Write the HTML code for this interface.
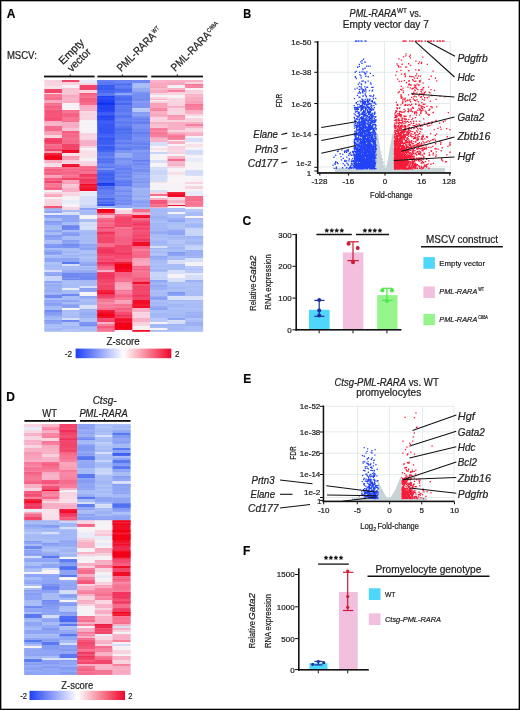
<!DOCTYPE html>
<html><head><meta charset="utf-8"><style>
html,body{margin:0;padding:0;background:#fff;}
#wrap{position:relative;width:520px;height:710px;overflow:hidden;background:#fff;}
#frame{position:absolute;left:0;top:0;width:518px;height:708px;border:1px solid #000;box-shadow:inset 0 0 0 0.6px rgba(0,0,0,0.6);}
svg{position:absolute;left:0;top:0;will-change:transform;filter:blur(0.3px);}
text{font-family:"Liberation Sans", sans-serif;stroke:#222;stroke-width:0.22px;}
</style></head><body><div id="wrap">
<svg width="520" height="710" viewBox="0 0 520 710">
<defs><filter id="bl" x="-2%" y="-2%" width="104%" height="104%"><feGaussianBlur stdDeviation="0.4"/></filter><linearGradient id="cb" x1="0" x2="1" y1="0" y2="0">
<stop offset="0" stop-color="#1f3ff4"/><stop offset="0.5" stop-color="#ffffff"/><stop offset="1" stop-color="#f0052c"/>
</linearGradient></defs>
<text x="6.8" y="17.6" font-size="12" font-weight="bold" fill="#000">A</text>
<text x="6.9" y="59.3" font-size="10" textLength="29.9" lengthAdjust="spacingAndGlyphs" fill="#222">MSCV:</text>
<text x="0" y="0" font-size="11" textLength="31" lengthAdjust="spacingAndGlyphs" fill="#222" transform="translate(63,65.2) rotate(-45)">Empty</text>
<text x="0" y="0" font-size="11" textLength="28.2" lengthAdjust="spacingAndGlyphs" fill="#222" transform="translate(71.7,72.4) rotate(-45)">vector</text>
<g transform="translate(121.3,72.2) rotate(-45)"><text x="0" y="0" font-size="11" textLength="50" lengthAdjust="spacingAndGlyphs" fill="#222">PML-RARA</text><text x="50.5" y="-3.8" font-size="6" textLength="7.5" lengthAdjust="spacingAndGlyphs" fill="#222">WT</text></g>
<g transform="translate(175.3,72) rotate(-45)"><text x="0" y="0" font-size="11" textLength="51" lengthAdjust="spacingAndGlyphs" fill="#222">PML-RARA</text><text x="51.5" y="-3.8" font-size="6" textLength="13" lengthAdjust="spacingAndGlyphs" fill="#222">C88A</text></g>
<rect x="44" y="75.6" width="50.599999999999994" height="1.8" fill="#111"/>
<rect x="69.7" y="74.4" width="1" height="1.5" fill="#111"/>
<rect x="97.4" y="75.6" width="49.900000000000006" height="1.8" fill="#111"/>
<rect x="121.8" y="74.4" width="1" height="1.5" fill="#111"/>
<rect x="151.2" y="75.6" width="51.80000000000001" height="1.8" fill="#111"/>
<rect x="176.8" y="74.4" width="1" height="1.5" fill="#111"/>
<g filter="url(#bl)">
<rect x="44.40" y="80" width="17.90" height="6.30" fill="#f8d4e0"/>
<rect x="44.40" y="80.0" width="17.90" height="2.2" fill="#f7d0dd"/>
<rect x="44.40" y="86" width="17.90" height="3.30" fill="#f8e0e8"/>
<rect x="44.40" y="86.0" width="17.90" height="1.5" fill="#f9e2ea"/>
<rect x="44.40" y="89" width="17.90" height="4.30" fill="#f2446a"/>
<rect x="44.40" y="93" width="17.90" height="1.30" fill="#f8d4e0"/>
<rect x="44.40" y="94" width="17.90" height="6.30" fill="#f66c8c"/>
<rect x="44.40" y="94.0" width="17.90" height="1.5" fill="#f77a97"/>
<rect x="44.40" y="95.5" width="17.90" height="1.8" fill="#f77996"/>
<rect x="44.40" y="100" width="17.90" height="3.30" fill="#f8b0c6"/>
<rect x="44.40" y="100.0" width="17.90" height="2.2" fill="#f7a7c0"/>
<rect x="44.40" y="103" width="17.90" height="7.30" fill="#f66c8c"/>
<rect x="44.40" y="104.5" width="17.90" height="1.2" fill="#f77c98"/>
<rect x="44.40" y="105.7" width="17.90" height="1.5" fill="#f55f82"/>
<rect x="44.40" y="107.2" width="17.90" height="1.2" fill="#f56284"/>
<rect x="44.40" y="110" width="17.90" height="11.30" fill="#f55479"/>
<rect x="44.40" y="118.1" width="17.90" height="1.2" fill="#f54b72"/>
<rect x="44.40" y="121" width="17.90" height="5.30" fill="#f8b0c6"/>
<rect x="44.40" y="121.0" width="17.90" height="1.8" fill="#f8abc2"/>
<rect x="44.40" y="122.8" width="17.90" height="1.8" fill="#f9b9cc"/>
<rect x="44.40" y="126" width="17.90" height="5.30" fill="#f66c8c"/>
<rect x="44.40" y="131" width="17.90" height="4.30" fill="#f8a0b8"/>
<rect x="44.40" y="131.0" width="17.90" height="1.2" fill="#f798b2"/>
<rect x="44.40" y="132.2" width="17.90" height="1.2" fill="#f8a7bd"/>
<rect x="44.40" y="135" width="17.90" height="3.30" fill="#f8d4e0"/>
<rect x="44.40" y="138" width="17.90" height="6.30" fill="#f2446a"/>
<rect x="44.40" y="140.2" width="17.90" height="1.5" fill="#f13860"/>
<rect x="44.40" y="144" width="17.90" height="5.30" fill="#f66c8c"/>
<rect x="44.40" y="144.0" width="17.90" height="1.8" fill="#f67291"/>
<rect x="44.40" y="145.8" width="17.90" height="2.2" fill="#f56385"/>
<rect x="44.40" y="149" width="17.90" height="2.30" fill="#f2446a"/>
<rect x="44.40" y="151" width="17.90" height="2.30" fill="#f8a0b8"/>
<rect x="44.40" y="153" width="17.90" height="7.30" fill="#f20c28"/>
<rect x="44.40" y="153.0" width="17.90" height="1.2" fill="#f3213b"/>
<rect x="44.40" y="154.2" width="17.90" height="1.2" fill="#f42941"/>
<rect x="44.40" y="155.4" width="17.90" height="2.2" fill="#f10019"/>
<rect x="44.40" y="157.6" width="17.90" height="1.5" fill="#f1011f"/>
<rect x="44.40" y="160" width="17.90" height="3.30" fill="#f8b0c6"/>
<rect x="44.40" y="163" width="17.90" height="4.30" fill="#f8e0e8"/>
<rect x="44.40" y="163.0" width="17.90" height="1.5" fill="#f7dce5"/>
<rect x="44.40" y="167" width="17.90" height="8.30" fill="#f66c8c"/>
<rect x="44.40" y="167.0" width="17.90" height="2.2" fill="#f77a97"/>
<rect x="44.40" y="169.2" width="17.90" height="2.2" fill="#f55b7e"/>
<rect x="44.40" y="171.4" width="17.90" height="1.2" fill="#f67492"/>
<rect x="44.40" y="172.6" width="17.90" height="1.8" fill="#f55a7e"/>
<rect x="44.40" y="175" width="17.90" height="3.30" fill="#f8a0b8"/>
<rect x="44.40" y="175.0" width="17.90" height="1.2" fill="#f8a7bd"/>
<rect x="44.40" y="178" width="17.90" height="3.30" fill="#f66c8c"/>
<rect x="44.40" y="178.0" width="17.90" height="2.2" fill="#f55b7e"/>
<rect x="44.40" y="181" width="17.90" height="2.30" fill="#f2446a"/>
<rect x="44.40" y="183" width="17.90" height="7.30" fill="#f66c8c"/>
<rect x="44.40" y="183.0" width="17.90" height="1.2" fill="#f77c99"/>
<rect x="44.40" y="184.2" width="17.90" height="1.5" fill="#f77694"/>
<rect x="44.40" y="185.7" width="17.90" height="1.8" fill="#f77d9a"/>
<rect x="44.40" y="187.5" width="17.90" height="1.8" fill="#f56083"/>
<rect x="44.40" y="190" width="17.90" height="2.30" fill="#f6f2f6"/>
<rect x="44.40" y="192" width="17.90" height="2.30" fill="#f8d4e0"/>
<rect x="44.40" y="194" width="17.90" height="3.30" fill="#f8a0b8"/>
<rect x="44.40" y="194.0" width="17.90" height="2.2" fill="#f9aabf"/>
<rect x="44.40" y="197" width="17.90" height="2.30" fill="#f6f2f6"/>
<rect x="44.40" y="199" width="17.90" height="5.30" fill="#f8d4e0"/>
<rect x="44.40" y="199.0" width="17.90" height="1.2" fill="#f8d7e2"/>
<rect x="44.40" y="200.2" width="17.90" height="1.5" fill="#f9d9e4"/>
<rect x="44.40" y="204" width="17.90" height="2.30" fill="#f8d4e0"/>
<rect x="44.40" y="206" width="17.90" height="2.80" fill="#f2446a"/>
<rect x="44.40" y="206.0" width="17.90" height="2.2" fill="#f35577"/>
<rect x="44.40" y="208.5" width="17.90" height="2.80" fill="#a8bcf6"/>
<rect x="44.40" y="208.5" width="17.90" height="2.2" fill="#a1b7f5"/>
<rect x="44.40" y="211" width="17.90" height="2.30" fill="#8ea4f4"/>
<rect x="44.40" y="213" width="17.90" height="2.30" fill="#e8ecf8"/>
<rect x="44.40" y="215" width="17.90" height="3.30" fill="#8ea4f4"/>
<rect x="44.40" y="215.0" width="17.90" height="1.5" fill="#849cf3"/>
<rect x="44.40" y="218" width="17.90" height="3.30" fill="#a8bcf6"/>
<rect x="44.40" y="221" width="17.90" height="4.30" fill="#8ea4f4"/>
<rect x="44.40" y="221.0" width="17.90" height="1.8" fill="#839bf3"/>
<rect x="44.40" y="225" width="17.90" height="5.30" fill="#a8bcf6"/>
<rect x="44.40" y="225.0" width="17.90" height="1.5" fill="#a3b8f6"/>
<rect x="44.40" y="226.5" width="17.90" height="1.5" fill="#a3b8f5"/>
<rect x="44.40" y="230" width="17.90" height="2.30" fill="#8ea4f4"/>
<rect x="44.40" y="232" width="17.90" height="3.30" fill="#a8bcf6"/>
<rect x="44.40" y="232.0" width="17.90" height="1.5" fill="#a4b9f6"/>
<rect x="44.40" y="235" width="17.90" height="5.30" fill="#8ea4f4"/>
<rect x="44.40" y="235.0" width="17.90" height="2.2" fill="#849cf3"/>
<rect x="44.40" y="240" width="17.90" height="4.30" fill="#a8bcf6"/>
<rect x="44.40" y="240.0" width="17.90" height="1.2" fill="#b0c2f7"/>
<rect x="44.40" y="241.2" width="17.90" height="1.8" fill="#adc0f7"/>
<rect x="44.40" y="244" width="17.90" height="4.30" fill="#7c94f2"/>
<rect x="44.40" y="244.0" width="17.90" height="2.2" fill="#849af3"/>
<rect x="44.40" y="248" width="17.90" height="2.30" fill="#a8bcf6"/>
<rect x="44.40" y="250" width="17.90" height="5.30" fill="#8ea4f4"/>
<rect x="44.40" y="250.0" width="17.90" height="2.2" fill="#94a9f5"/>
<rect x="44.40" y="252.2" width="17.90" height="1.5" fill="#829bf3"/>
<rect x="44.40" y="255" width="17.90" height="3.30" fill="#a8bcf6"/>
<rect x="44.40" y="255.0" width="17.90" height="1.2" fill="#b0c2f7"/>
<rect x="44.40" y="258" width="17.90" height="4.30" fill="#8ea4f4"/>
<rect x="44.40" y="262" width="17.90" height="2.30" fill="#b0c2f6"/>
<rect x="44.40" y="264" width="17.90" height="6.30" fill="#a8bcf6"/>
<rect x="44.40" y="264.0" width="17.90" height="1.2" fill="#adc0f6"/>
<rect x="44.40" y="265.2" width="17.90" height="1.5" fill="#a3b8f5"/>
<rect x="44.40" y="266.7" width="17.90" height="1.2" fill="#adc0f6"/>
<rect x="44.40" y="270" width="17.90" height="2.30" fill="#d6def8"/>
<rect x="44.40" y="272" width="17.90" height="4.30" fill="#8ea4f4"/>
<rect x="44.40" y="272.0" width="17.90" height="2.2" fill="#95a9f5"/>
<rect x="44.40" y="276" width="17.90" height="5.30" fill="#c8d4f8"/>
<rect x="44.40" y="276.0" width="17.90" height="1.2" fill="#ccd7f9"/>
<rect x="44.40" y="281" width="17.90" height="2.30" fill="#8ea4f4"/>
<rect x="44.40" y="283" width="17.90" height="12.30" fill="#9cb0f4"/>
<rect x="44.40" y="283.0" width="17.90" height="1.5" fill="#a6b8f5"/>
<rect x="44.40" y="284.5" width="17.90" height="1.5" fill="#93a9f3"/>
<rect x="44.40" y="290.5" width="17.90" height="1.8" fill="#97acf3"/>
<rect x="44.40" y="292.3" width="17.90" height="1.2" fill="#a7b9f5"/>
<rect x="44.40" y="295" width="17.90" height="3.30" fill="#7088f2"/>
<rect x="44.40" y="298" width="17.90" height="2.30" fill="#a8bcf6"/>
<rect x="44.40" y="300" width="17.90" height="6.30" fill="#8ea4f4"/>
<rect x="44.40" y="300.0" width="17.90" height="1.8" fill="#93a8f4"/>
<rect x="44.40" y="301.8" width="17.90" height="1.2" fill="#9aadf5"/>
<rect x="44.40" y="303.0" width="17.90" height="1.8" fill="#889ff3"/>
<rect x="44.40" y="306" width="17.90" height="4.30" fill="#a8bcf6"/>
<rect x="44.40" y="306.0" width="17.90" height="1.5" fill="#a2b7f5"/>
<rect x="44.40" y="310" width="17.90" height="2.30" fill="#7088f2"/>
<rect x="44.40" y="312" width="17.90" height="4.30" fill="#8ea4f4"/>
<rect x="44.40" y="312.0" width="17.90" height="2.2" fill="#839bf3"/>
<rect x="44.40" y="316" width="17.90" height="4.30" fill="#a8bcf6"/>
<rect x="44.40" y="316.0" width="17.90" height="2.2" fill="#9fb5f5"/>
<rect x="44.40" y="320" width="17.90" height="4.30" fill="#8ea4f4"/>
<rect x="44.40" y="320.0" width="17.90" height="1.2" fill="#849cf3"/>
<rect x="44.40" y="324" width="17.90" height="7.80" fill="#a8bcf6"/>
<rect x="44.40" y="327.4" width="17.90" height="1.2" fill="#b1c3f7"/>
<rect x="44.40" y="328.6" width="17.90" height="1.2" fill="#9eb4f5"/>
<rect x="62.00" y="80" width="17.90" height="2.30" fill="#f2446a"/>
<rect x="62.00" y="82" width="17.90" height="3.30" fill="#f8d4e0"/>
<rect x="62.00" y="82.0" width="17.90" height="2.2" fill="#f8d2de"/>
<rect x="62.00" y="85" width="17.90" height="3.30" fill="#f6f2f6"/>
<rect x="62.00" y="85.0" width="17.90" height="2.2" fill="#f5f1f5"/>
<rect x="62.00" y="88" width="17.90" height="7.30" fill="#f8c4d4"/>
<rect x="62.00" y="91.4" width="17.90" height="1.2" fill="#f8c7d6"/>
<rect x="62.00" y="95" width="17.90" height="8.30" fill="#f8b0c6"/>
<rect x="62.00" y="95.0" width="17.90" height="1.5" fill="#f7a7c0"/>
<rect x="62.00" y="97.7" width="17.90" height="2.2" fill="#f8b5c9"/>
<rect x="62.00" y="103" width="17.90" height="7.30" fill="#f6f2f6"/>
<rect x="62.00" y="103.0" width="17.90" height="1.5" fill="#f6f1f6"/>
<rect x="62.00" y="110" width="17.90" height="12.30" fill="#f66c8c"/>
<rect x="62.00" y="110.0" width="17.90" height="1.5" fill="#f67291"/>
<rect x="62.00" y="111.5" width="17.90" height="1.8" fill="#f77794"/>
<rect x="62.00" y="113.3" width="17.90" height="2.2" fill="#f56184"/>
<rect x="62.00" y="115.5" width="17.90" height="1.5" fill="#f55f82"/>
<rect x="62.00" y="117.0" width="17.90" height="2.2" fill="#f77694"/>
<rect x="62.00" y="119.2" width="17.90" height="1.8" fill="#f77694"/>
<rect x="62.00" y="122" width="17.90" height="6.30" fill="#f8b0c6"/>
<rect x="62.00" y="123.5" width="17.90" height="1.2" fill="#f8acc3"/>
<rect x="62.00" y="124.7" width="17.90" height="1.8" fill="#f7aac2"/>
<rect x="62.00" y="128" width="17.90" height="3.30" fill="#f8c4d4"/>
<rect x="62.00" y="131" width="17.90" height="13.30" fill="#f66c8c"/>
<rect x="62.00" y="131.0" width="17.90" height="1.8" fill="#f55d80"/>
<rect x="62.00" y="135.0" width="17.90" height="2.2" fill="#f66687"/>
<rect x="62.00" y="137.2" width="17.90" height="2.2" fill="#f67291"/>
<rect x="62.00" y="139.4" width="17.90" height="1.2" fill="#f67492"/>
<rect x="62.00" y="140.6" width="17.90" height="1.2" fill="#f66687"/>
<rect x="62.00" y="144" width="17.90" height="6.30" fill="#f2446a"/>
<rect x="62.00" y="150" width="17.90" height="3.30" fill="#f20c28"/>
<rect x="62.00" y="150.0" width="17.90" height="1.2" fill="#f1001a"/>
<rect x="62.00" y="153" width="17.90" height="3.30" fill="#f8e0e8"/>
<rect x="62.00" y="153.0" width="17.90" height="1.8" fill="#f8e2e9"/>
<rect x="62.00" y="156" width="17.90" height="4.30" fill="#f8a0b8"/>
<rect x="62.00" y="156.0" width="17.90" height="1.5" fill="#f899b3"/>
<rect x="62.00" y="160" width="17.90" height="4.30" fill="#f8d4e0"/>
<rect x="62.00" y="160.0" width="17.90" height="1.8" fill="#f7cfdd"/>
<rect x="62.00" y="164" width="17.90" height="3.30" fill="#f20c28"/>
<rect x="62.00" y="164.0" width="17.90" height="1.5" fill="#f31e38"/>
<rect x="62.00" y="167" width="17.90" height="11.30" fill="#f66c8c"/>
<rect x="62.00" y="167.0" width="17.90" height="2.2" fill="#f77593"/>
<rect x="62.00" y="169.2" width="17.90" height="1.2" fill="#f56385"/>
<rect x="62.00" y="170.4" width="17.90" height="1.2" fill="#f77795"/>
<rect x="62.00" y="171.6" width="17.90" height="1.8" fill="#f56284"/>
<rect x="62.00" y="174.9" width="17.90" height="1.5" fill="#f77b97"/>
<rect x="62.00" y="178" width="17.90" height="2.30" fill="#f2446a"/>
<rect x="62.00" y="180" width="17.90" height="4.30" fill="#f8a0b8"/>
<rect x="62.00" y="180.0" width="17.90" height="2.2" fill="#f9a8be"/>
<rect x="62.00" y="184" width="17.90" height="4.30" fill="#f8c4d4"/>
<rect x="62.00" y="184.0" width="17.90" height="2.2" fill="#f9c8d7"/>
<rect x="62.00" y="188" width="17.90" height="4.30" fill="#f8b0c6"/>
<rect x="62.00" y="192" width="17.90" height="4.30" fill="#f8d4e0"/>
<rect x="62.00" y="192.0" width="17.90" height="1.5" fill="#f9d8e3"/>
<rect x="62.00" y="193.5" width="17.90" height="1.2" fill="#f8d7e2"/>
<rect x="62.00" y="196" width="17.90" height="4.30" fill="#f6f2f6"/>
<rect x="62.00" y="196.0" width="17.90" height="2.2" fill="#f5f1f5"/>
<rect x="62.00" y="200" width="17.90" height="4.30" fill="#e8ecf8"/>
<rect x="62.00" y="204" width="17.90" height="3.30" fill="#f6f2f6"/>
<rect x="62.00" y="204.0" width="17.90" height="1.8" fill="#f7f3f7"/>
<rect x="62.00" y="207" width="17.90" height="3.30" fill="#f8d4e0"/>
<rect x="62.00" y="210" width="17.90" height="2.30" fill="#a8bcf6"/>
<rect x="62.00" y="212" width="17.90" height="3.30" fill="#d6def8"/>
<rect x="62.00" y="212.0" width="17.90" height="1.2" fill="#dbe2f9"/>
<rect x="62.00" y="215" width="17.90" height="7.30" fill="#8ea4f4"/>
<rect x="62.00" y="218.6" width="17.90" height="1.2" fill="#96aaf5"/>
<rect x="62.00" y="222" width="17.90" height="3.30" fill="#a8bcf6"/>
<rect x="62.00" y="225" width="17.90" height="5.30" fill="#7088f2"/>
<rect x="62.00" y="225.0" width="17.90" height="1.2" fill="#7b91f3"/>
<rect x="62.00" y="226.2" width="17.90" height="1.8" fill="#6a83f1"/>
<rect x="62.00" y="230" width="17.90" height="2.30" fill="#a8bcf6"/>
<rect x="62.00" y="232" width="17.90" height="4.30" fill="#8ea4f4"/>
<rect x="62.00" y="233.5" width="17.90" height="2.2" fill="#829af3"/>
<rect x="62.00" y="236" width="17.90" height="4.30" fill="#a8bcf6"/>
<rect x="62.00" y="240" width="17.90" height="4.30" fill="#8ea4f4"/>
<rect x="62.00" y="240.0" width="17.90" height="1.2" fill="#879ef3"/>
<rect x="62.00" y="244" width="17.90" height="4.30" fill="#7c94f2"/>
<rect x="62.00" y="244.0" width="17.90" height="1.8" fill="#728bf1"/>
<rect x="62.00" y="248" width="17.90" height="10.30" fill="#a8bcf6"/>
<rect x="62.00" y="249.5" width="17.90" height="1.8" fill="#acbff6"/>
<rect x="62.00" y="251.3" width="17.90" height="2.2" fill="#9fb5f5"/>
<rect x="62.00" y="253.5" width="17.90" height="1.5" fill="#acbff6"/>
<rect x="62.00" y="255.0" width="17.90" height="1.5" fill="#9eb4f5"/>
<rect x="62.00" y="258" width="17.90" height="4.30" fill="#8ea4f4"/>
<rect x="62.00" y="262" width="17.90" height="2.30" fill="#5a78f2"/>
<rect x="62.00" y="264" width="17.90" height="2.30" fill="#d6def8"/>
<rect x="62.00" y="266" width="17.90" height="4.30" fill="#a8bcf6"/>
<rect x="62.00" y="270" width="17.90" height="3.30" fill="#8ea4f4"/>
<rect x="62.00" y="270.0" width="17.90" height="2.2" fill="#9baef5"/>
<rect x="62.00" y="273" width="17.90" height="7.30" fill="#7088f2"/>
<rect x="62.00" y="277.6" width="17.90" height="1.5" fill="#7f94f3"/>
<rect x="62.00" y="280" width="17.90" height="8.30" fill="#a8bcf6"/>
<rect x="62.00" y="282.2" width="17.90" height="2.2" fill="#adc0f6"/>
<rect x="62.00" y="288" width="17.90" height="2.30" fill="#e8ecf8"/>
<rect x="62.00" y="290" width="17.90" height="4.30" fill="#a8bcf6"/>
<rect x="62.00" y="294" width="17.90" height="2.30" fill="#7088f2"/>
<rect x="62.00" y="296" width="17.90" height="4.30" fill="#a8bcf6"/>
<rect x="62.00" y="300" width="17.90" height="2.30" fill="#8ea4f4"/>
<rect x="62.00" y="302" width="17.90" height="2.30" fill="#a8bcf6"/>
<rect x="62.00" y="304" width="17.90" height="4.30" fill="#8ea4f4"/>
<rect x="62.00" y="304.0" width="17.90" height="1.2" fill="#96abf5"/>
<rect x="62.00" y="305.2" width="17.90" height="1.2" fill="#829bf3"/>
<rect x="62.00" y="308" width="17.90" height="2.30" fill="#f6f2f6"/>
<rect x="62.00" y="310" width="17.90" height="8.30" fill="#a8bcf6"/>
<rect x="62.00" y="310.0" width="17.90" height="1.5" fill="#a4b9f6"/>
<rect x="62.00" y="311.5" width="17.90" height="1.2" fill="#b2c3f7"/>
<rect x="62.00" y="312.7" width="17.90" height="1.5" fill="#aec0f7"/>
<rect x="62.00" y="314.2" width="17.90" height="1.8" fill="#acbff6"/>
<rect x="62.00" y="318" width="17.90" height="2.30" fill="#d6def8"/>
<rect x="62.00" y="320" width="17.90" height="2.30" fill="#7088f2"/>
<rect x="62.00" y="322" width="17.90" height="9.80" fill="#a8bcf6"/>
<rect x="62.00" y="322.0" width="17.90" height="1.8" fill="#adc0f7"/>
<rect x="62.00" y="323.8" width="17.90" height="2.2" fill="#b0c2f7"/>
<rect x="62.00" y="326.0" width="17.90" height="1.2" fill="#a1b6f5"/>
<rect x="62.00" y="327.2" width="17.90" height="1.8" fill="#a3b8f6"/>
<rect x="62.00" y="329.0" width="17.90" height="2.2" fill="#b2c4f7"/>
<rect x="79.60" y="80" width="17.90" height="3.30" fill="#e8ecf8"/>
<rect x="79.60" y="80.0" width="17.90" height="2.2" fill="#e6ebf7"/>
<rect x="79.60" y="83" width="17.90" height="2.30" fill="#f8d4e0"/>
<rect x="79.60" y="85" width="17.90" height="5.30" fill="#f2446a"/>
<rect x="79.60" y="90" width="17.90" height="3.30" fill="#f8d4e0"/>
<rect x="79.60" y="90.0" width="17.90" height="1.5" fill="#f8d7e2"/>
<rect x="79.60" y="93" width="17.90" height="12.30" fill="#f66c8c"/>
<rect x="79.60" y="93.0" width="17.90" height="1.8" fill="#f55e81"/>
<rect x="79.60" y="96.6" width="17.90" height="1.5" fill="#f77694"/>
<rect x="79.60" y="98.1" width="17.90" height="1.5" fill="#f55e81"/>
<rect x="79.60" y="99.6" width="17.90" height="1.5" fill="#f55e81"/>
<rect x="79.60" y="101.1" width="17.90" height="1.5" fill="#f66486"/>
<rect x="79.60" y="105" width="17.90" height="6.30" fill="#f8b0c6"/>
<rect x="79.60" y="105.0" width="17.90" height="2.2" fill="#f7aac1"/>
<rect x="79.60" y="111" width="17.90" height="9.30" fill="#f8d4e0"/>
<rect x="79.60" y="111.0" width="17.90" height="1.5" fill="#f9d7e2"/>
<rect x="79.60" y="112.5" width="17.90" height="1.2" fill="#f9d8e3"/>
<rect x="79.60" y="113.7" width="17.90" height="1.8" fill="#f7d0dd"/>
<rect x="79.60" y="115.5" width="17.90" height="1.8" fill="#f9d8e3"/>
<rect x="79.60" y="120" width="17.90" height="13.30" fill="#f6f2f6"/>
<rect x="79.60" y="120.0" width="17.90" height="1.5" fill="#f5f1f5"/>
<rect x="79.60" y="121.5" width="17.90" height="2.2" fill="#f7f3f7"/>
<rect x="79.60" y="123.7" width="17.90" height="1.2" fill="#f5f1f5"/>
<rect x="79.60" y="124.9" width="17.90" height="2.2" fill="#f7f3f7"/>
<rect x="79.60" y="127.1" width="17.90" height="1.5" fill="#f7f3f7"/>
<rect x="79.60" y="128.6" width="17.90" height="1.5" fill="#f5f1f5"/>
<rect x="79.60" y="130.1" width="17.90" height="1.8" fill="#f5f1f5"/>
<rect x="79.60" y="133" width="17.90" height="7.30" fill="#f8d4e0"/>
<rect x="79.60" y="134.2" width="17.90" height="1.5" fill="#f7cfdd"/>
<rect x="79.60" y="135.7" width="17.90" height="2.2" fill="#f9d8e3"/>
<rect x="79.60" y="140" width="17.90" height="6.30" fill="#f8b0c6"/>
<rect x="79.60" y="140.0" width="17.90" height="1.2" fill="#f8b3c8"/>
<rect x="79.60" y="146" width="17.90" height="2.30" fill="#f8d4e0"/>
<rect x="79.60" y="148" width="17.90" height="2.30" fill="#f6f2f6"/>
<rect x="79.60" y="150" width="17.90" height="8.30" fill="#f8e0e8"/>
<rect x="79.60" y="150.0" width="17.90" height="1.8" fill="#f9e4eb"/>
<rect x="79.60" y="151.8" width="17.90" height="1.2" fill="#f7dde6"/>
<rect x="79.60" y="154.5" width="17.90" height="1.8" fill="#f8dee7"/>
<rect x="79.60" y="158" width="17.90" height="3.30" fill="#f6f2f6"/>
<rect x="79.60" y="158.0" width="17.90" height="2.2" fill="#f5f1f5"/>
<rect x="79.60" y="161" width="17.90" height="5.30" fill="#f8d4e0"/>
<rect x="79.60" y="161.0" width="17.90" height="1.5" fill="#f9d8e3"/>
<rect x="79.60" y="162.5" width="17.90" height="1.2" fill="#f8d6e1"/>
<rect x="79.60" y="163.7" width="17.90" height="1.2" fill="#f7d1de"/>
<rect x="79.60" y="166" width="17.90" height="8.30" fill="#f66c8c"/>
<rect x="79.60" y="169.7" width="17.90" height="1.8" fill="#f56184"/>
<rect x="79.60" y="171.5" width="17.90" height="1.8" fill="#f67492"/>
<rect x="79.60" y="174" width="17.90" height="10.30" fill="#f2446a"/>
<rect x="79.60" y="174.0" width="17.90" height="1.2" fill="#f13961"/>
<rect x="79.60" y="175.2" width="17.90" height="1.5" fill="#f1365f"/>
<rect x="79.60" y="176.7" width="17.90" height="2.2" fill="#f35477"/>
<rect x="79.60" y="178.9" width="17.90" height="1.8" fill="#f1335c"/>
<rect x="79.60" y="180.7" width="17.90" height="1.8" fill="#f13860"/>
<rect x="79.60" y="184" width="17.90" height="7.30" fill="#f20c28"/>
<rect x="79.60" y="185.5" width="17.90" height="1.5" fill="#f3253e"/>
<rect x="79.60" y="187.0" width="17.90" height="1.8" fill="#f31832"/>
<rect x="79.60" y="191" width="17.90" height="5.30" fill="#e8ecf8"/>
<rect x="79.60" y="191.0" width="17.90" height="1.2" fill="#ebeef9"/>
<rect x="79.60" y="192.2" width="17.90" height="1.8" fill="#e5eaf7"/>
<rect x="79.60" y="196" width="17.90" height="9.30" fill="#d6def8"/>
<rect x="79.60" y="196.0" width="17.90" height="1.2" fill="#d9e0f8"/>
<rect x="79.60" y="205" width="17.90" height="3.30" fill="#c8d4f8"/>
<rect x="79.60" y="205.0" width="17.90" height="1.2" fill="#c5d1f8"/>
<rect x="79.60" y="208" width="17.90" height="2.30" fill="#8ea4f4"/>
<rect x="79.60" y="210" width="17.90" height="5.30" fill="#a8bcf6"/>
<rect x="79.60" y="210.0" width="17.90" height="1.2" fill="#b0c2f7"/>
<rect x="79.60" y="211.2" width="17.90" height="1.2" fill="#a3b8f5"/>
<rect x="79.60" y="215" width="17.90" height="4.30" fill="#f6f2f6"/>
<rect x="79.60" y="215.0" width="17.90" height="1.2" fill="#f5f1f5"/>
<rect x="79.60" y="216.2" width="17.90" height="2.2" fill="#f7f4f7"/>
<rect x="79.60" y="219" width="17.90" height="3.30" fill="#a8bcf6"/>
<rect x="79.60" y="219.0" width="17.90" height="1.8" fill="#adc0f7"/>
<rect x="79.60" y="222" width="17.90" height="8.30" fill="#d6def8"/>
<rect x="79.60" y="223.8" width="17.90" height="2.2" fill="#d1daf7"/>
<rect x="79.60" y="230" width="17.90" height="14.30" fill="#a8bcf6"/>
<rect x="79.60" y="232.7" width="17.90" height="1.5" fill="#a1b6f5"/>
<rect x="79.60" y="244" width="17.90" height="6.30" fill="#8ea4f4"/>
<rect x="79.60" y="245.8" width="17.90" height="1.8" fill="#9baef5"/>
<rect x="79.60" y="250" width="17.90" height="12.30" fill="#a8bcf6"/>
<rect x="79.60" y="251.5" width="17.90" height="2.2" fill="#b1c3f7"/>
<rect x="79.60" y="253.7" width="17.90" height="1.8" fill="#a3b8f5"/>
<rect x="79.60" y="256.7" width="17.90" height="1.8" fill="#b1c3f7"/>
<rect x="79.60" y="262" width="17.90" height="4.30" fill="#8ea4f4"/>
<rect x="79.60" y="262.0" width="17.90" height="2.2" fill="#95a9f5"/>
<rect x="79.60" y="266" width="17.90" height="4.30" fill="#a8bcf6"/>
<rect x="79.60" y="266.0" width="17.90" height="1.5" fill="#b1c3f7"/>
<rect x="79.60" y="267.5" width="17.90" height="1.2" fill="#9fb5f5"/>
<rect x="79.60" y="270" width="17.90" height="3.30" fill="#8ea4f4"/>
<rect x="79.60" y="270.0" width="17.90" height="2.2" fill="#98acf5"/>
<rect x="79.60" y="273" width="17.90" height="7.30" fill="#7088f2"/>
<rect x="79.60" y="274.5" width="17.90" height="1.2" fill="#7f95f3"/>
<rect x="79.60" y="280" width="17.90" height="6.30" fill="#a8bcf6"/>
<rect x="79.60" y="280.0" width="17.90" height="1.5" fill="#a0b6f5"/>
<rect x="79.60" y="286" width="17.90" height="2.30" fill="#d6def8"/>
<rect x="79.60" y="288" width="17.90" height="4.30" fill="#8ea4f4"/>
<rect x="79.60" y="288.0" width="17.90" height="1.5" fill="#89a0f4"/>
<rect x="79.60" y="292" width="17.90" height="4.30" fill="#f6f2f6"/>
<rect x="79.60" y="296" width="17.90" height="2.30" fill="#8ea4f4"/>
<rect x="79.60" y="298" width="17.90" height="7.30" fill="#a8bcf6"/>
<rect x="79.60" y="298.0" width="17.90" height="1.5" fill="#9fb5f5"/>
<rect x="79.60" y="299.5" width="17.90" height="1.5" fill="#adc0f7"/>
<rect x="79.60" y="302.2" width="17.90" height="1.8" fill="#a2b7f5"/>
<rect x="79.60" y="305" width="17.90" height="4.30" fill="#d6def8"/>
<rect x="79.60" y="305.0" width="17.90" height="1.8" fill="#d8e0f8"/>
<rect x="79.60" y="309" width="17.90" height="9.30" fill="#9cb0f4"/>
<rect x="79.60" y="310.5" width="17.90" height="1.5" fill="#a3b6f5"/>
<rect x="79.60" y="313.5" width="17.90" height="1.5" fill="#93a9f3"/>
<rect x="79.60" y="318" width="17.90" height="4.30" fill="#a8bcf6"/>
<rect x="79.60" y="318.0" width="17.90" height="1.2" fill="#adc0f6"/>
<rect x="79.60" y="319.2" width="17.90" height="2.2" fill="#b2c4f7"/>
<rect x="79.60" y="322" width="17.90" height="4.30" fill="#7088f2"/>
<rect x="79.60" y="322.0" width="17.90" height="1.2" fill="#7e93f3"/>
<rect x="79.60" y="323.2" width="17.90" height="1.8" fill="#7f94f3"/>
<rect x="79.60" y="326" width="17.90" height="5.80" fill="#a8bcf6"/>
<rect x="79.60" y="326.0" width="17.90" height="1.2" fill="#9fb5f5"/>
<rect x="97.20" y="80" width="17.90" height="5.30" fill="#5a78f2"/>
<rect x="97.20" y="80.0" width="17.90" height="1.8" fill="#6581f3"/>
<rect x="97.20" y="85" width="17.90" height="8.30" fill="#4666f2"/>
<rect x="97.20" y="85.0" width="17.90" height="1.5" fill="#375af1"/>
<rect x="97.20" y="86.5" width="17.90" height="1.2" fill="#395bf1"/>
<rect x="97.20" y="87.7" width="17.90" height="2.2" fill="#385bf1"/>
<rect x="97.20" y="93" width="17.90" height="3.30" fill="#5a78f2"/>
<rect x="97.20" y="96" width="17.90" height="14.30" fill="#2242f4"/>
<rect x="97.20" y="97.5" width="17.90" height="1.8" fill="#2d4bf5"/>
<rect x="97.20" y="102.6" width="17.90" height="2.2" fill="#0e31f3"/>
<rect x="97.20" y="110" width="17.90" height="30.30" fill="#3454f4"/>
<rect x="97.20" y="110.0" width="17.90" height="2.2" fill="#2547f3"/>
<rect x="97.20" y="112.2" width="17.90" height="2.2" fill="#3e5cf5"/>
<rect x="97.20" y="114.4" width="17.90" height="1.2" fill="#4965f5"/>
<rect x="97.20" y="115.6" width="17.90" height="1.5" fill="#2043f3"/>
<rect x="97.20" y="117.1" width="17.90" height="1.2" fill="#2a4cf3"/>
<rect x="97.20" y="118.3" width="17.90" height="2.2" fill="#294bf3"/>
<rect x="97.20" y="120.5" width="17.90" height="1.8" fill="#3f5df5"/>
<rect x="97.20" y="122.3" width="17.90" height="1.5" fill="#4260f5"/>
<rect x="97.20" y="125.6" width="17.90" height="1.2" fill="#3d5bf4"/>
<rect x="97.20" y="134.1" width="17.90" height="1.5" fill="#4865f5"/>
<rect x="97.20" y="135.6" width="17.90" height="1.8" fill="#4b68f5"/>
<rect x="97.20" y="140" width="17.90" height="12.30" fill="#4666f2"/>
<rect x="97.20" y="140.0" width="17.90" height="1.5" fill="#3b5df1"/>
<rect x="97.20" y="141.5" width="17.90" height="1.8" fill="#395bf1"/>
<rect x="97.20" y="143.3" width="17.90" height="1.5" fill="#375af1"/>
<rect x="97.20" y="144.8" width="17.90" height="1.5" fill="#5472f3"/>
<rect x="97.20" y="146.3" width="17.90" height="2.2" fill="#3558f1"/>
<rect x="97.20" y="148.5" width="17.90" height="1.8" fill="#385bf1"/>
<rect x="97.20" y="152" width="17.90" height="16.30" fill="#5a78f2"/>
<rect x="97.20" y="156.2" width="17.90" height="2.2" fill="#6b86f3"/>
<rect x="97.20" y="158.4" width="17.90" height="1.8" fill="#4f6ff1"/>
<rect x="97.20" y="161.4" width="17.90" height="1.8" fill="#5170f1"/>
<rect x="97.20" y="163.2" width="17.90" height="1.8" fill="#6a85f3"/>
<rect x="97.20" y="165.0" width="17.90" height="1.5" fill="#6a85f3"/>
<rect x="97.20" y="168" width="17.90" height="2.30" fill="#7c94f2"/>
<rect x="97.20" y="170" width="17.90" height="13.30" fill="#4666f2"/>
<rect x="97.20" y="170.0" width="17.90" height="2.2" fill="#516ff3"/>
<rect x="97.20" y="173.7" width="17.90" height="1.8" fill="#3a5cf1"/>
<rect x="97.20" y="177.7" width="17.90" height="1.8" fill="#3e60f1"/>
<rect x="97.20" y="183" width="17.90" height="3.30" fill="#2242f4"/>
<rect x="97.20" y="183.0" width="17.90" height="1.2" fill="#1739f3"/>
<rect x="97.20" y="186" width="17.90" height="4.30" fill="#5a78f2"/>
<rect x="97.20" y="187.2" width="17.90" height="1.8" fill="#4c6df1"/>
<rect x="97.20" y="190" width="17.90" height="8.30" fill="#7088f2"/>
<rect x="97.20" y="190.0" width="17.90" height="2.2" fill="#657ef1"/>
<rect x="97.20" y="192.2" width="17.90" height="2.2" fill="#607bf1"/>
<rect x="97.20" y="195.6" width="17.90" height="1.2" fill="#667ff1"/>
<rect x="97.20" y="198" width="17.90" height="6.30" fill="#5a78f2"/>
<rect x="97.20" y="198.0" width="17.90" height="2.2" fill="#496af1"/>
<rect x="97.20" y="200.2" width="17.90" height="1.5" fill="#6480f3"/>
<rect x="97.20" y="201.7" width="17.90" height="1.5" fill="#4768f0"/>
<rect x="97.20" y="204" width="17.90" height="2.30" fill="#3454f4"/>
<rect x="97.20" y="206" width="17.90" height="2.30" fill="#a8bcf6"/>
<rect x="97.20" y="208" width="17.90" height="1.30" fill="#f6f2f6"/>
<rect x="97.20" y="209" width="17.90" height="4.30" fill="#f20c28"/>
<rect x="97.20" y="209.0" width="17.90" height="2.2" fill="#f1011f"/>
<rect x="97.20" y="213" width="17.90" height="2.30" fill="#f66c8c"/>
<rect x="97.20" y="215" width="17.90" height="3.30" fill="#f8b0c6"/>
<rect x="97.20" y="215.0" width="17.90" height="1.8" fill="#f8b6ca"/>
<rect x="97.20" y="218" width="17.90" height="9.30" fill="#f66c8c"/>
<rect x="97.20" y="220.2" width="17.90" height="1.8" fill="#f55b7f"/>
<rect x="97.20" y="223.2" width="17.90" height="1.2" fill="#f67391"/>
<rect x="97.20" y="224.4" width="17.90" height="1.5" fill="#f56284"/>
<rect x="97.20" y="227" width="17.90" height="5.30" fill="#f55479"/>
<rect x="97.20" y="227.0" width="17.90" height="1.5" fill="#f4436c"/>
<rect x="97.20" y="228.5" width="17.90" height="2.2" fill="#f66889"/>
<rect x="97.20" y="232" width="17.90" height="11.30" fill="#f2446a"/>
<rect x="97.20" y="232.0" width="17.90" height="2.2" fill="#f1325b"/>
<rect x="97.20" y="234.2" width="17.90" height="1.2" fill="#f34c71"/>
<rect x="97.20" y="235.4" width="17.90" height="1.5" fill="#f35275"/>
<rect x="97.20" y="243" width="17.90" height="4.30" fill="#f66c8c"/>
<rect x="97.20" y="247" width="17.90" height="9.30" fill="#f2446a"/>
<rect x="97.20" y="248.8" width="17.90" height="2.2" fill="#f1345d"/>
<rect x="97.20" y="251.0" width="17.90" height="2.2" fill="#f1335c"/>
<rect x="97.20" y="256" width="17.90" height="6.30" fill="#f55479"/>
<rect x="97.20" y="258.7" width="17.90" height="1.5" fill="#f4426b"/>
<rect x="97.20" y="262" width="17.90" height="4.30" fill="#f2446a"/>
<rect x="97.20" y="262.0" width="17.90" height="2.2" fill="#f12f59"/>
<rect x="97.20" y="266" width="17.90" height="4.30" fill="#f66c8c"/>
<rect x="97.20" y="266.0" width="17.90" height="1.8" fill="#f56284"/>
<rect x="97.20" y="270" width="17.90" height="2.30" fill="#f8b0c6"/>
<rect x="97.20" y="272" width="17.90" height="18.30" fill="#f2446a"/>
<rect x="97.20" y="273.2" width="17.90" height="1.5" fill="#f1325c"/>
<rect x="97.20" y="274.7" width="17.90" height="2.2" fill="#f1325c"/>
<rect x="97.20" y="276.9" width="17.90" height="2.2" fill="#f1375f"/>
<rect x="97.20" y="282.8" width="17.90" height="1.8" fill="#f35477"/>
<rect x="97.20" y="290" width="17.90" height="4.30" fill="#f20c28"/>
<rect x="97.20" y="290.0" width="17.90" height="1.2" fill="#f3203a"/>
<rect x="97.20" y="291.2" width="17.90" height="1.5" fill="#f42942"/>
<rect x="97.20" y="294" width="17.90" height="4.30" fill="#f2446a"/>
<rect x="97.20" y="294.0" width="17.90" height="1.5" fill="#f1365e"/>
<rect x="97.20" y="298" width="17.90" height="4.30" fill="#f66c8c"/>
<rect x="97.20" y="298.0" width="17.90" height="1.2" fill="#f55e81"/>
<rect x="97.20" y="299.2" width="17.90" height="2.2" fill="#f77b98"/>
<rect x="97.20" y="302" width="17.90" height="6.30" fill="#f7809f"/>
<rect x="97.20" y="302.0" width="17.90" height="1.8" fill="#f88faa"/>
<rect x="97.20" y="305.3" width="17.90" height="1.2" fill="#f67799"/>
<rect x="97.20" y="308" width="17.90" height="2.30" fill="#f66c8c"/>
<rect x="97.20" y="310" width="17.90" height="8.30" fill="#f20c28"/>
<rect x="97.20" y="310.0" width="17.90" height="2.2" fill="#f31d37"/>
<rect x="97.20" y="314.4" width="17.90" height="1.5" fill="#f10011"/>
<rect x="97.20" y="318" width="17.90" height="4.30" fill="#f2446a"/>
<rect x="97.20" y="318.0" width="17.90" height="1.8" fill="#f34c71"/>
<rect x="97.20" y="322" width="17.90" height="2.30" fill="#f8b0c6"/>
<rect x="97.20" y="324" width="17.90" height="7.80" fill="#f66c8c"/>
<rect x="97.20" y="324.0" width="17.90" height="2.2" fill="#f77b98"/>
<rect x="97.20" y="326.2" width="17.90" height="1.8" fill="#f55a7e"/>
<rect x="97.20" y="329.2" width="17.90" height="1.5" fill="#f77a97"/>
<rect x="114.80" y="80" width="17.90" height="3.30" fill="#7088f2"/>
<rect x="114.80" y="80.0" width="17.90" height="2.2" fill="#6a83f1"/>
<rect x="114.80" y="83" width="17.90" height="10.30" fill="#5a78f2"/>
<rect x="114.80" y="84.2" width="17.90" height="1.2" fill="#4c6cf1"/>
<rect x="114.80" y="85.4" width="17.90" height="2.2" fill="#6481f3"/>
<rect x="114.80" y="88.8" width="17.90" height="1.2" fill="#4c6cf1"/>
<rect x="114.80" y="90.0" width="17.90" height="1.5" fill="#4a6bf1"/>
<rect x="114.80" y="93" width="17.90" height="2.30" fill="#8ea4f4"/>
<rect x="114.80" y="95" width="17.90" height="8.30" fill="#5a78f2"/>
<rect x="114.80" y="95.0" width="17.90" height="1.5" fill="#627ff3"/>
<rect x="114.80" y="96.5" width="17.90" height="2.2" fill="#496af1"/>
<rect x="114.80" y="98.7" width="17.90" height="1.8" fill="#4869f1"/>
<rect x="114.80" y="103" width="17.90" height="2.30" fill="#4666f2"/>
<rect x="114.80" y="105" width="17.90" height="35.30" fill="#5a78f2"/>
<rect x="114.80" y="105.0" width="17.90" height="1.2" fill="#6480f3"/>
<rect x="114.80" y="107.7" width="17.90" height="1.2" fill="#617ef3"/>
<rect x="114.80" y="112.5" width="17.90" height="2.2" fill="#6a85f3"/>
<rect x="114.80" y="116.2" width="17.90" height="1.5" fill="#5372f1"/>
<rect x="114.80" y="117.7" width="17.90" height="1.5" fill="#6782f3"/>
<rect x="114.80" y="119.2" width="17.90" height="2.2" fill="#6c87f3"/>
<rect x="114.80" y="123.6" width="17.90" height="1.2" fill="#6a85f3"/>
<rect x="114.80" y="124.8" width="17.90" height="1.2" fill="#6883f3"/>
<rect x="114.80" y="128.4" width="17.90" height="2.2" fill="#496af1"/>
<rect x="114.80" y="132.1" width="17.90" height="1.5" fill="#4d6ef1"/>
<rect x="114.80" y="140" width="17.90" height="7.30" fill="#7088f2"/>
<rect x="114.80" y="142.2" width="17.90" height="1.8" fill="#5f7af0"/>
<rect x="114.80" y="147" width="17.90" height="3.30" fill="#5a78f2"/>
<rect x="114.80" y="147.0" width="17.90" height="1.2" fill="#6380f3"/>
<rect x="114.80" y="150" width="17.90" height="3.30" fill="#7c94f2"/>
<rect x="114.80" y="153" width="17.90" height="5.30" fill="#8ea4f4"/>
<rect x="114.80" y="153.0" width="17.90" height="2.2" fill="#99adf5"/>
<rect x="114.80" y="155.2" width="17.90" height="2.2" fill="#96aaf5"/>
<rect x="114.80" y="158" width="17.90" height="7.30" fill="#7c94f2"/>
<rect x="114.80" y="158.0" width="17.90" height="1.8" fill="#738df1"/>
<rect x="114.80" y="161.0" width="17.90" height="1.5" fill="#849af3"/>
<rect x="114.80" y="165" width="17.90" height="15.30" fill="#7088f2"/>
<rect x="114.80" y="168.3" width="17.90" height="1.5" fill="#5f7af0"/>
<rect x="114.80" y="172.5" width="17.90" height="1.5" fill="#6780f1"/>
<rect x="114.80" y="174.0" width="17.90" height="1.5" fill="#798ff3"/>
<rect x="114.80" y="175.5" width="17.90" height="2.2" fill="#6982f1"/>
<rect x="114.80" y="177.7" width="17.90" height="1.8" fill="#7e94f3"/>
<rect x="114.80" y="180" width="17.90" height="6.30" fill="#5a78f2"/>
<rect x="114.80" y="180.0" width="17.90" height="1.8" fill="#6380f3"/>
<rect x="114.80" y="183.0" width="17.90" height="1.5" fill="#6480f3"/>
<rect x="114.80" y="186" width="17.90" height="14.30" fill="#7c94f2"/>
<rect x="114.80" y="187.2" width="17.90" height="1.8" fill="#869df3"/>
<rect x="114.80" y="190.8" width="17.90" height="1.2" fill="#6e89f1"/>
<rect x="114.80" y="192.0" width="17.90" height="1.2" fill="#8399f3"/>
<rect x="114.80" y="193.2" width="17.90" height="1.8" fill="#849bf3"/>
<rect x="114.80" y="195.0" width="17.90" height="1.8" fill="#728cf1"/>
<rect x="114.80" y="200" width="17.90" height="5.30" fill="#7088f2"/>
<rect x="114.80" y="201.2" width="17.90" height="2.2" fill="#7b91f3"/>
<rect x="114.80" y="205" width="17.90" height="3.30" fill="#8ea4f4"/>
<rect x="114.80" y="205.0" width="17.90" height="1.5" fill="#93a8f5"/>
<rect x="114.80" y="208" width="17.90" height="2.30" fill="#f6f2f6"/>
<rect x="114.80" y="210" width="17.90" height="4.30" fill="#f8d4e0"/>
<rect x="114.80" y="214" width="17.90" height="2.30" fill="#f66c8c"/>
<rect x="114.80" y="216" width="17.90" height="11.30" fill="#f2446a"/>
<rect x="114.80" y="216.0" width="17.90" height="1.2" fill="#f35376"/>
<rect x="114.80" y="223.6" width="17.90" height="1.5" fill="#f34f72"/>
<rect x="114.80" y="227" width="17.90" height="18.30" fill="#f66c8c"/>
<rect x="114.80" y="227.0" width="17.90" height="1.8" fill="#f77c98"/>
<rect x="114.80" y="228.8" width="17.90" height="1.2" fill="#f66486"/>
<rect x="114.80" y="235.9" width="17.90" height="2.2" fill="#f56385"/>
<rect x="114.80" y="238.1" width="17.90" height="2.2" fill="#f55e81"/>
<rect x="114.80" y="240.3" width="17.90" height="2.2" fill="#f56083"/>
<rect x="114.80" y="242.5" width="17.90" height="2.2" fill="#f56183"/>
<rect x="114.80" y="245" width="17.90" height="10.30" fill="#f2446a"/>
<rect x="114.80" y="250.2" width="17.90" height="1.2" fill="#f34c70"/>
<rect x="114.80" y="251.4" width="17.90" height="1.2" fill="#f34d71"/>
<rect x="114.80" y="252.6" width="17.90" height="2.2" fill="#f13a62"/>
<rect x="114.80" y="255" width="17.90" height="7.30" fill="#f55479"/>
<rect x="114.80" y="255.0" width="17.90" height="1.8" fill="#f44a71"/>
<rect x="114.80" y="256.8" width="17.90" height="1.8" fill="#f4446d"/>
<rect x="114.80" y="258.6" width="17.90" height="1.2" fill="#f65e81"/>
<rect x="114.80" y="262" width="17.90" height="10.30" fill="#f20c28"/>
<rect x="114.80" y="262.0" width="17.90" height="2.2" fill="#f31b35"/>
<rect x="114.80" y="264.2" width="17.90" height="2.2" fill="#f10010"/>
<rect x="114.80" y="266.4" width="17.90" height="2.2" fill="#f1011e"/>
<rect x="114.80" y="272" width="17.90" height="10.30" fill="#f66c8c"/>
<rect x="114.80" y="272.0" width="17.90" height="2.2" fill="#f55c80"/>
<rect x="114.80" y="274.2" width="17.90" height="1.2" fill="#f55a7e"/>
<rect x="114.80" y="275.4" width="17.90" height="1.8" fill="#f55f82"/>
<rect x="114.80" y="279.4" width="17.90" height="1.5" fill="#f77694"/>
<rect x="114.80" y="282" width="17.90" height="8.30" fill="#f8a0b8"/>
<rect x="114.80" y="284.2" width="17.90" height="1.2" fill="#f9a9bf"/>
<rect x="114.80" y="285.4" width="17.90" height="1.5" fill="#f9a9be"/>
<rect x="114.80" y="286.9" width="17.90" height="2.2" fill="#f9abc1"/>
<rect x="114.80" y="290" width="17.90" height="4.30" fill="#f7809f"/>
<rect x="114.80" y="290.0" width="17.90" height="1.5" fill="#f7799a"/>
<rect x="114.80" y="291.5" width="17.90" height="1.2" fill="#f785a3"/>
<rect x="114.80" y="294" width="17.90" height="6.30" fill="#f66c8c"/>
<rect x="114.80" y="295.2" width="17.90" height="2.2" fill="#f56183"/>
<rect x="114.80" y="297.4" width="17.90" height="2.2" fill="#f77996"/>
<rect x="114.80" y="300" width="17.90" height="4.30" fill="#f8a0b8"/>
<rect x="114.80" y="300.0" width="17.90" height="1.5" fill="#f9aac0"/>
<rect x="114.80" y="304" width="17.90" height="8.30" fill="#f66c8c"/>
<rect x="114.80" y="304.0" width="17.90" height="1.8" fill="#f67391"/>
<rect x="114.80" y="305.8" width="17.90" height="2.2" fill="#f77996"/>
<rect x="114.80" y="308.0" width="17.90" height="2.2" fill="#f55f82"/>
<rect x="114.80" y="312" width="17.90" height="6.30" fill="#f2446a"/>
<rect x="114.80" y="312.0" width="17.90" height="1.5" fill="#f34d71"/>
<rect x="114.80" y="313.5" width="17.90" height="1.2" fill="#f35275"/>
<rect x="114.80" y="314.7" width="17.90" height="1.8" fill="#f1325c"/>
<rect x="114.80" y="318" width="17.90" height="12.30" fill="#f20c28"/>
<rect x="114.80" y="318.0" width="17.90" height="1.2" fill="#f31f39"/>
<rect x="114.80" y="320.7" width="17.90" height="1.5" fill="#f31e38"/>
<rect x="114.80" y="323.4" width="17.90" height="1.8" fill="#f1001c"/>
<rect x="114.80" y="325.2" width="17.90" height="1.8" fill="#f10010"/>
<rect x="114.80" y="327.0" width="17.90" height="1.8" fill="#f10015"/>
<rect x="114.80" y="330" width="17.90" height="1.80" fill="#f6f2f6"/>
<rect x="132.40" y="80" width="17.90" height="3.30" fill="#7088f2"/>
<rect x="132.40" y="83" width="17.90" height="5.30" fill="#a8bcf6"/>
<rect x="132.40" y="85.2" width="17.90" height="1.5" fill="#aec0f7"/>
<rect x="132.40" y="88" width="17.90" height="4.30" fill="#8ea4f4"/>
<rect x="132.40" y="88.0" width="17.90" height="1.8" fill="#98acf5"/>
<rect x="132.40" y="89.8" width="17.90" height="1.5" fill="#94a9f5"/>
<rect x="132.40" y="92" width="17.90" height="16.30" fill="#7c94f2"/>
<rect x="132.40" y="93.5" width="17.90" height="1.8" fill="#738df1"/>
<rect x="132.40" y="95.3" width="17.90" height="1.8" fill="#728cf1"/>
<rect x="132.40" y="98.3" width="17.90" height="1.5" fill="#6d88f1"/>
<rect x="132.40" y="99.8" width="17.90" height="1.5" fill="#7790f1"/>
<rect x="132.40" y="101.3" width="17.90" height="1.8" fill="#889df3"/>
<rect x="132.40" y="108" width="17.90" height="4.30" fill="#b8c8f8"/>
<rect x="132.40" y="108.0" width="17.90" height="1.2" fill="#c0cff9"/>
<rect x="132.40" y="112" width="17.90" height="4.30" fill="#8ea4f4"/>
<rect x="132.40" y="112.0" width="17.90" height="2.2" fill="#869df3"/>
<rect x="132.40" y="116" width="17.90" height="34.30" fill="#7088f2"/>
<rect x="132.40" y="116.0" width="17.90" height="1.2" fill="#7c92f3"/>
<rect x="132.40" y="117.2" width="17.90" height="1.5" fill="#798ff3"/>
<rect x="132.40" y="118.7" width="17.90" height="1.8" fill="#6881f1"/>
<rect x="132.40" y="120.5" width="17.90" height="1.2" fill="#7b91f3"/>
<rect x="132.40" y="121.7" width="17.90" height="1.5" fill="#5f7af0"/>
<rect x="132.40" y="124.4" width="17.90" height="2.2" fill="#8196f4"/>
<rect x="132.40" y="126.6" width="17.90" height="2.2" fill="#7f95f3"/>
<rect x="132.40" y="130.0" width="17.90" height="1.8" fill="#768df3"/>
<rect x="132.40" y="131.8" width="17.90" height="2.2" fill="#6680f1"/>
<rect x="132.40" y="137.3" width="17.90" height="1.5" fill="#7d93f3"/>
<rect x="132.40" y="138.8" width="17.90" height="2.2" fill="#7990f3"/>
<rect x="132.40" y="143.2" width="17.90" height="1.8" fill="#6680f1"/>
<rect x="132.40" y="145.0" width="17.90" height="1.5" fill="#788ff3"/>
<rect x="132.40" y="146.5" width="17.90" height="1.5" fill="#647ef1"/>
<rect x="132.40" y="150" width="17.90" height="10.30" fill="#7c94f2"/>
<rect x="132.40" y="150.0" width="17.90" height="2.2" fill="#849af3"/>
<rect x="132.40" y="154.9" width="17.90" height="1.5" fill="#8298f3"/>
<rect x="132.40" y="160" width="17.90" height="5.30" fill="#7088f2"/>
<rect x="132.40" y="160.0" width="17.90" height="1.8" fill="#647ef1"/>
<rect x="132.40" y="161.8" width="17.90" height="1.2" fill="#7f94f3"/>
<rect x="132.40" y="165" width="17.90" height="10.30" fill="#7c94f2"/>
<rect x="132.40" y="168.0" width="17.90" height="1.2" fill="#8299f3"/>
<rect x="132.40" y="169.2" width="17.90" height="1.2" fill="#768ff1"/>
<rect x="132.40" y="170.4" width="17.90" height="1.8" fill="#748df1"/>
<rect x="132.40" y="172.2" width="17.90" height="2.2" fill="#899ff3"/>
<rect x="132.40" y="175" width="17.90" height="3.30" fill="#8ea4f4"/>
<rect x="132.40" y="178" width="17.90" height="5.30" fill="#7c94f2"/>
<rect x="132.40" y="178.0" width="17.90" height="1.5" fill="#879df3"/>
<rect x="132.40" y="179.5" width="17.90" height="2.2" fill="#8a9ff3"/>
<rect x="132.40" y="183" width="17.90" height="5.30" fill="#8ea4f4"/>
<rect x="132.40" y="185.2" width="17.90" height="1.5" fill="#88a0f3"/>
<rect x="132.40" y="188" width="17.90" height="4.30" fill="#9cb0f4"/>
<rect x="132.40" y="188.0" width="17.90" height="1.2" fill="#a5b7f5"/>
<rect x="132.40" y="189.2" width="17.90" height="1.5" fill="#a4b7f5"/>
<rect x="132.40" y="192" width="17.90" height="8.30" fill="#9cb0f4"/>
<rect x="132.40" y="194.2" width="17.90" height="1.2" fill="#a8b9f5"/>
<rect x="132.40" y="195.4" width="17.90" height="2.2" fill="#93a9f3"/>
<rect x="132.40" y="197.6" width="17.90" height="1.5" fill="#a6b8f5"/>
<rect x="132.40" y="200" width="17.90" height="7.30" fill="#8ea4f4"/>
<rect x="132.40" y="201.8" width="17.90" height="1.2" fill="#819af3"/>
<rect x="132.40" y="203.0" width="17.90" height="1.5" fill="#94a8f5"/>
<rect x="132.40" y="207" width="17.90" height="2.30" fill="#a8bcf6"/>
<rect x="132.40" y="209" width="17.90" height="3.30" fill="#f66c8c"/>
<rect x="132.40" y="212" width="17.90" height="3.30" fill="#f8b0c6"/>
<rect x="132.40" y="212.0" width="17.90" height="1.2" fill="#f7a8c0"/>
<rect x="132.40" y="215" width="17.90" height="3.30" fill="#f20c28"/>
<rect x="132.40" y="215.0" width="17.90" height="1.8" fill="#f31732"/>
<rect x="132.40" y="218" width="17.90" height="2.30" fill="#f66c8c"/>
<rect x="132.40" y="220" width="17.90" height="6.30" fill="#f2446a"/>
<rect x="132.40" y="220.0" width="17.90" height="1.5" fill="#f3597a"/>
<rect x="132.40" y="223.7" width="17.90" height="1.2" fill="#f13962"/>
<rect x="132.40" y="226" width="17.90" height="6.30" fill="#f55479"/>
<rect x="132.40" y="227.5" width="17.90" height="2.2" fill="#f4426b"/>
<rect x="132.40" y="232" width="17.90" height="10.30" fill="#f2446a"/>
<rect x="132.40" y="232.0" width="17.90" height="1.2" fill="#f35174"/>
<rect x="132.40" y="233.2" width="17.90" height="1.8" fill="#f34f73"/>
<rect x="132.40" y="236.5" width="17.90" height="2.2" fill="#f35174"/>
<rect x="132.40" y="238.7" width="17.90" height="2.2" fill="#f13861"/>
<rect x="132.40" y="242" width="17.90" height="4.30" fill="#f20c28"/>
<rect x="132.40" y="246" width="17.90" height="12.30" fill="#f66c8c"/>
<rect x="132.40" y="246.0" width="17.90" height="1.5" fill="#f55f82"/>
<rect x="132.40" y="249.0" width="17.90" height="2.2" fill="#f77b98"/>
<rect x="132.40" y="254.8" width="17.90" height="1.5" fill="#f56385"/>
<rect x="132.40" y="258" width="17.90" height="8.30" fill="#f8a0b8"/>
<rect x="132.40" y="260.2" width="17.90" height="1.5" fill="#f8a5bc"/>
<rect x="132.40" y="261.7" width="17.90" height="1.8" fill="#f9aac0"/>
<rect x="132.40" y="263.5" width="17.90" height="1.8" fill="#f9a8be"/>
<rect x="132.40" y="266" width="17.90" height="12.30" fill="#f66c8c"/>
<rect x="132.40" y="266.0" width="17.90" height="1.5" fill="#f66486"/>
<rect x="132.40" y="267.5" width="17.90" height="1.2" fill="#f77d99"/>
<rect x="132.40" y="268.7" width="17.90" height="1.8" fill="#f56083"/>
<rect x="132.40" y="270.5" width="17.90" height="2.2" fill="#f77b98"/>
<rect x="132.40" y="272.7" width="17.90" height="2.2" fill="#f67291"/>
<rect x="132.40" y="274.9" width="17.90" height="1.2" fill="#f67391"/>
<rect x="132.40" y="278" width="17.90" height="4.30" fill="#f55479"/>
<rect x="132.40" y="279.5" width="17.90" height="1.5" fill="#f66284"/>
<rect x="132.40" y="282" width="17.90" height="2.30" fill="#f20c28"/>
<rect x="132.40" y="284" width="17.90" height="16.30" fill="#f2446a"/>
<rect x="132.40" y="284.0" width="17.90" height="1.5" fill="#f3597b"/>
<rect x="132.40" y="291.0" width="17.90" height="1.8" fill="#f34c71"/>
<rect x="132.40" y="295.0" width="17.90" height="1.5" fill="#f1335c"/>
<rect x="132.40" y="300" width="17.90" height="8.30" fill="#f20c28"/>
<rect x="132.40" y="304.4" width="17.90" height="1.8" fill="#f31c36"/>
<rect x="132.40" y="308" width="17.90" height="4.30" fill="#f8b0c6"/>
<rect x="132.40" y="312" width="17.90" height="6.30" fill="#f8d4e0"/>
<rect x="132.40" y="312.0" width="17.90" height="1.5" fill="#f9d8e3"/>
<rect x="132.40" y="313.5" width="17.90" height="1.2" fill="#f8d1de"/>
<rect x="132.40" y="318" width="17.90" height="4.30" fill="#f8b0c6"/>
<rect x="132.40" y="322" width="17.90" height="4.30" fill="#f8d4e0"/>
<rect x="132.40" y="322.0" width="17.90" height="1.2" fill="#f7d0dd"/>
<rect x="132.40" y="326" width="17.90" height="4.30" fill="#f6f2f6"/>
<rect x="132.40" y="330" width="17.90" height="1.80" fill="#f20c28"/>
<rect x="150.00" y="80" width="17.90" height="3.30" fill="#f8b0c6"/>
<rect x="150.00" y="80.0" width="17.90" height="1.8" fill="#f8b5ca"/>
<rect x="150.00" y="83" width="17.90" height="5.30" fill="#f8a0b8"/>
<rect x="150.00" y="83.0" width="17.90" height="1.8" fill="#f9a9bf"/>
<rect x="150.00" y="84.8" width="17.90" height="2.2" fill="#f9a9be"/>
<rect x="150.00" y="88" width="17.90" height="5.30" fill="#f8b0c6"/>
<rect x="150.00" y="88.0" width="17.90" height="2.2" fill="#f9b8cc"/>
<rect x="150.00" y="90.2" width="17.90" height="2.2" fill="#f7a8c0"/>
<rect x="150.00" y="93" width="17.90" height="2.30" fill="#f8d4e0"/>
<rect x="150.00" y="95" width="17.90" height="2.30" fill="#f6f2f6"/>
<rect x="150.00" y="97" width="17.90" height="2.30" fill="#f8d4e0"/>
<rect x="150.00" y="99" width="17.90" height="1.30" fill="#f8b0c6"/>
<rect x="150.00" y="100" width="17.90" height="1.30" fill="#f6f2f6"/>
<rect x="150.00" y="101" width="17.90" height="2.30" fill="#f8d4e0"/>
<rect x="150.00" y="103" width="17.90" height="5.30" fill="#f8a0b8"/>
<rect x="150.00" y="104.8" width="17.90" height="1.8" fill="#f8a6bd"/>
<rect x="150.00" y="108" width="17.90" height="3.30" fill="#f7809f"/>
<rect x="150.00" y="108.0" width="17.90" height="2.2" fill="#f889a6"/>
<rect x="150.00" y="111" width="17.90" height="6.30" fill="#f8b0c6"/>
<rect x="150.00" y="114.0" width="17.90" height="1.8" fill="#f7a8c0"/>
<rect x="150.00" y="117" width="17.90" height="5.30" fill="#f8d4e0"/>
<rect x="150.00" y="118.5" width="17.90" height="1.8" fill="#f8d2df"/>
<rect x="150.00" y="122" width="17.90" height="2.30" fill="#f8b0c6"/>
<rect x="150.00" y="124" width="17.90" height="4.30" fill="#f8c4d4"/>
<rect x="150.00" y="124.0" width="17.90" height="1.8" fill="#f8c1d2"/>
<rect x="150.00" y="125.8" width="17.90" height="1.2" fill="#f7bed0"/>
<rect x="150.00" y="128" width="17.90" height="9.30" fill="#f7809f"/>
<rect x="150.00" y="129.2" width="17.90" height="1.2" fill="#f67395"/>
<rect x="150.00" y="130.4" width="17.90" height="1.8" fill="#f88ea9"/>
<rect x="150.00" y="132.2" width="17.90" height="2.2" fill="#f67597"/>
<rect x="150.00" y="137" width="17.90" height="5.30" fill="#f8b0c6"/>
<rect x="150.00" y="137.0" width="17.90" height="1.8" fill="#f7a9c1"/>
<rect x="150.00" y="138.8" width="17.90" height="1.2" fill="#f9b9cd"/>
<rect x="150.00" y="142" width="17.90" height="4.30" fill="#d6def8"/>
<rect x="150.00" y="142.0" width="17.90" height="1.8" fill="#d8dff8"/>
<rect x="150.00" y="146" width="17.90" height="2.30" fill="#f6f2f6"/>
<rect x="150.00" y="148" width="17.90" height="2.30" fill="#f8e0e8"/>
<rect x="150.00" y="150" width="17.90" height="2.30" fill="#f6f2f6"/>
<rect x="150.00" y="152" width="17.90" height="2.30" fill="#c8d4f8"/>
<rect x="150.00" y="154" width="17.90" height="6.30" fill="#f6f2f6"/>
<rect x="150.00" y="155.8" width="17.90" height="1.8" fill="#f5f1f5"/>
<rect x="150.00" y="160" width="17.90" height="3.30" fill="#d6def8"/>
<rect x="150.00" y="163" width="17.90" height="4.30" fill="#f6f2f6"/>
<rect x="150.00" y="163.0" width="17.90" height="1.8" fill="#f7f3f7"/>
<rect x="150.00" y="167" width="17.90" height="3.30" fill="#d6def8"/>
<rect x="150.00" y="167.0" width="17.90" height="1.5" fill="#d3dcf8"/>
<rect x="150.00" y="170" width="17.90" height="5.30" fill="#c8d4f8"/>
<rect x="150.00" y="175" width="17.90" height="7.30" fill="#d6def8"/>
<rect x="150.00" y="175.0" width="17.90" height="1.2" fill="#d8e0f8"/>
<rect x="150.00" y="176.2" width="17.90" height="2.2" fill="#d2dbf7"/>
<rect x="150.00" y="178.4" width="17.90" height="2.2" fill="#d1daf7"/>
<rect x="150.00" y="182" width="17.90" height="1.30" fill="#f8e0e8"/>
<rect x="150.00" y="183" width="17.90" height="7.30" fill="#f6f2f6"/>
<rect x="150.00" y="183.0" width="17.90" height="2.2" fill="#f7f3f7"/>
<rect x="150.00" y="185.2" width="17.90" height="1.5" fill="#f6f1f6"/>
<rect x="150.00" y="186.7" width="17.90" height="1.8" fill="#f6f3f6"/>
<rect x="150.00" y="190" width="17.90" height="2.30" fill="#d6def8"/>
<rect x="150.00" y="192" width="17.90" height="2.30" fill="#f8d4e0"/>
<rect x="150.00" y="194" width="17.90" height="2.30" fill="#f66c8c"/>
<rect x="150.00" y="196" width="17.90" height="2.30" fill="#f6f2f6"/>
<rect x="150.00" y="198" width="17.90" height="2.30" fill="#f8b0c6"/>
<rect x="150.00" y="200" width="17.90" height="4.30" fill="#f55479"/>
<rect x="150.00" y="204" width="17.90" height="3.30" fill="#f66c8c"/>
<rect x="150.00" y="204.0" width="17.90" height="1.2" fill="#f77896"/>
<rect x="150.00" y="207" width="17.90" height="1.30" fill="#f8b0c6"/>
<rect x="150.00" y="208" width="17.90" height="6.30" fill="#a8bcf6"/>
<rect x="150.00" y="208.0" width="17.90" height="1.5" fill="#adc0f6"/>
<rect x="150.00" y="209.5" width="17.90" height="1.8" fill="#a4b9f6"/>
<rect x="150.00" y="214" width="17.90" height="4.30" fill="#9cb0f4"/>
<rect x="150.00" y="214.0" width="17.90" height="2.2" fill="#a8b9f5"/>
<rect x="150.00" y="218" width="17.90" height="12.30" fill="#a8bcf6"/>
<rect x="150.00" y="218.0" width="17.90" height="2.2" fill="#a1b6f5"/>
<rect x="150.00" y="221.4" width="17.90" height="1.8" fill="#adc0f7"/>
<rect x="150.00" y="223.2" width="17.90" height="1.2" fill="#a0b6f5"/>
<rect x="150.00" y="224.4" width="17.90" height="1.8" fill="#a2b7f5"/>
<rect x="150.00" y="226.2" width="17.90" height="1.5" fill="#a4b9f6"/>
<rect x="150.00" y="227.7" width="17.90" height="1.5" fill="#9eb5f5"/>
<rect x="150.00" y="230" width="17.90" height="4.30" fill="#9cb0f4"/>
<rect x="150.00" y="230.0" width="17.90" height="1.5" fill="#a4b6f5"/>
<rect x="150.00" y="231.5" width="17.90" height="2.2" fill="#95aaf3"/>
<rect x="150.00" y="234" width="17.90" height="12.30" fill="#a8bcf6"/>
<rect x="150.00" y="237.6" width="17.90" height="2.2" fill="#adc0f7"/>
<rect x="150.00" y="241.3" width="17.90" height="1.5" fill="#9fb5f5"/>
<rect x="150.00" y="242.8" width="17.90" height="1.5" fill="#a0b6f5"/>
<rect x="150.00" y="246" width="17.90" height="2.30" fill="#d6def8"/>
<rect x="150.00" y="248" width="17.90" height="8.30" fill="#a8bcf6"/>
<rect x="150.00" y="248.0" width="17.90" height="1.2" fill="#a1b7f5"/>
<rect x="150.00" y="249.2" width="17.90" height="1.8" fill="#b0c2f7"/>
<rect x="150.00" y="253.2" width="17.90" height="2.2" fill="#b2c3f7"/>
<rect x="150.00" y="256" width="17.90" height="4.30" fill="#9cb0f4"/>
<rect x="150.00" y="256.0" width="17.90" height="2.2" fill="#93a9f3"/>
<rect x="150.00" y="260" width="17.90" height="12.30" fill="#a8bcf6"/>
<rect x="150.00" y="263.4" width="17.90" height="2.2" fill="#adc0f7"/>
<rect x="150.00" y="267.4" width="17.90" height="1.8" fill="#afc1f7"/>
<rect x="150.00" y="269.2" width="17.90" height="1.5" fill="#a1b6f5"/>
<rect x="150.00" y="272" width="17.90" height="8.30" fill="#c8d4f8"/>
<rect x="150.00" y="277.2" width="17.90" height="1.8" fill="#c4d1f7"/>
<rect x="150.00" y="280" width="17.90" height="2.30" fill="#8ea4f4"/>
<rect x="150.00" y="282" width="17.90" height="8.30" fill="#9cb0f4"/>
<rect x="150.00" y="282.0" width="17.90" height="1.5" fill="#a3b6f5"/>
<rect x="150.00" y="283.5" width="17.90" height="1.8" fill="#a2b5f5"/>
<rect x="150.00" y="285.3" width="17.90" height="1.5" fill="#91a7f3"/>
<rect x="150.00" y="290" width="17.90" height="6.30" fill="#a8bcf6"/>
<rect x="150.00" y="290.0" width="17.90" height="1.5" fill="#adc0f7"/>
<rect x="150.00" y="296" width="17.90" height="4.30" fill="#8ea4f4"/>
<rect x="150.00" y="296.0" width="17.90" height="1.5" fill="#9aaef5"/>
<rect x="150.00" y="297.5" width="17.90" height="1.2" fill="#849cf3"/>
<rect x="150.00" y="300" width="17.90" height="6.30" fill="#a8bcf6"/>
<rect x="150.00" y="300.0" width="17.90" height="1.5" fill="#acbff6"/>
<rect x="150.00" y="302.7" width="17.90" height="1.2" fill="#a1b7f5"/>
<rect x="150.00" y="306" width="17.90" height="4.30" fill="#8ea4f4"/>
<rect x="150.00" y="306.0" width="17.90" height="2.2" fill="#97abf5"/>
<rect x="150.00" y="310" width="17.90" height="8.30" fill="#a8bcf6"/>
<rect x="150.00" y="310.0" width="17.90" height="1.2" fill="#acbff6"/>
<rect x="150.00" y="311.2" width="17.90" height="1.8" fill="#aec0f7"/>
<rect x="150.00" y="313.0" width="17.90" height="2.2" fill="#a2b8f5"/>
<rect x="150.00" y="315.2" width="17.90" height="2.2" fill="#a4b9f6"/>
<rect x="150.00" y="318" width="17.90" height="4.30" fill="#b8c8f8"/>
<rect x="150.00" y="322" width="17.90" height="2.30" fill="#f6f2f6"/>
<rect x="150.00" y="324" width="17.90" height="4.30" fill="#a8bcf6"/>
<rect x="150.00" y="325.2" width="17.90" height="1.8" fill="#a0b6f5"/>
<rect x="150.00" y="328" width="17.90" height="2.30" fill="#f6f2f6"/>
<rect x="150.00" y="330" width="17.90" height="1.80" fill="#a8bcf6"/>
<rect x="167.60" y="80" width="17.90" height="2.30" fill="#f8b0c6"/>
<rect x="167.60" y="82" width="17.90" height="3.30" fill="#f8a0b8"/>
<rect x="167.60" y="82.0" width="17.90" height="2.2" fill="#f9a9be"/>
<rect x="167.60" y="85" width="17.90" height="3.30" fill="#f6f2f6"/>
<rect x="167.60" y="85.0" width="17.90" height="1.8" fill="#f5f1f5"/>
<rect x="167.60" y="88" width="17.90" height="2.30" fill="#f8b0c6"/>
<rect x="167.60" y="90" width="17.90" height="2.30" fill="#f7809f"/>
<rect x="167.60" y="92" width="17.90" height="3.30" fill="#f8d4e0"/>
<rect x="167.60" y="95" width="17.90" height="3.30" fill="#f6f2f6"/>
<rect x="167.60" y="95.0" width="17.90" height="1.5" fill="#f6f3f6"/>
<rect x="167.60" y="98" width="17.90" height="8.30" fill="#f8d4e0"/>
<rect x="167.60" y="98.0" width="17.90" height="2.2" fill="#f8d6e2"/>
<rect x="167.60" y="100.2" width="17.90" height="1.5" fill="#f9d8e3"/>
<rect x="167.60" y="106" width="17.90" height="2.30" fill="#f8b0c6"/>
<rect x="167.60" y="108" width="17.90" height="7.30" fill="#f8d4e0"/>
<rect x="167.60" y="108.0" width="17.90" height="1.5" fill="#f9d8e3"/>
<rect x="167.60" y="109.5" width="17.90" height="1.8" fill="#f8d2df"/>
<rect x="167.60" y="111.3" width="17.90" height="1.2" fill="#f9d7e2"/>
<rect x="167.60" y="112.5" width="17.90" height="2.2" fill="#f9d8e3"/>
<rect x="167.60" y="115" width="17.90" height="5.30" fill="#f8a0b8"/>
<rect x="167.60" y="115.0" width="17.90" height="1.5" fill="#f795b0"/>
<rect x="167.60" y="120" width="17.90" height="2.30" fill="#f8d4e0"/>
<rect x="167.60" y="122" width="17.90" height="8.30" fill="#f8b0c6"/>
<rect x="167.60" y="130" width="17.90" height="2.30" fill="#f8d4e0"/>
<rect x="167.60" y="132" width="17.90" height="2.30" fill="#f8b0c6"/>
<rect x="167.60" y="134" width="17.90" height="6.30" fill="#f7809f"/>
<rect x="167.60" y="134.0" width="17.90" height="1.8" fill="#f787a4"/>
<rect x="167.60" y="135.8" width="17.90" height="1.8" fill="#f67597"/>
<rect x="167.60" y="140" width="17.90" height="1.30" fill="#f6f2f6"/>
<rect x="167.60" y="141" width="17.90" height="3.30" fill="#f8b0c6"/>
<rect x="167.60" y="141.0" width="17.90" height="1.2" fill="#f9b6ca"/>
<rect x="167.60" y="144" width="17.90" height="2.30" fill="#f6f2f6"/>
<rect x="167.60" y="146" width="17.90" height="8.30" fill="#f8d4e0"/>
<rect x="167.60" y="146.0" width="17.90" height="1.2" fill="#f7cfdd"/>
<rect x="167.60" y="147.2" width="17.90" height="1.2" fill="#f8d2df"/>
<rect x="167.60" y="150.2" width="17.90" height="1.8" fill="#f9d9e3"/>
<rect x="167.60" y="154" width="17.90" height="2.30" fill="#f6f2f6"/>
<rect x="167.60" y="156" width="17.90" height="3.30" fill="#f8b0c6"/>
<rect x="167.60" y="156.0" width="17.90" height="2.2" fill="#f9b9cd"/>
<rect x="167.60" y="159" width="17.90" height="2.30" fill="#f66c8c"/>
<rect x="167.60" y="161" width="17.90" height="5.30" fill="#f8b0c6"/>
<rect x="167.60" y="161.0" width="17.90" height="1.5" fill="#f9b8cc"/>
<rect x="167.60" y="162.5" width="17.90" height="1.8" fill="#f9b9cd"/>
<rect x="167.60" y="166" width="17.90" height="2.30" fill="#f8d4e0"/>
<rect x="167.60" y="168" width="17.90" height="4.30" fill="#f6f2f6"/>
<rect x="167.60" y="168.0" width="17.90" height="1.8" fill="#f5f1f5"/>
<rect x="167.60" y="172" width="17.90" height="3.30" fill="#f8e0e8"/>
<rect x="167.60" y="175" width="17.90" height="17.30" fill="#f6f2f6"/>
<rect x="167.60" y="175.0" width="17.90" height="1.2" fill="#f5f1f5"/>
<rect x="167.60" y="178.4" width="17.90" height="2.2" fill="#f7f3f7"/>
<rect x="167.60" y="180.6" width="17.90" height="1.2" fill="#f7f4f7"/>
<rect x="167.60" y="181.8" width="17.90" height="1.5" fill="#f7f3f7"/>
<rect x="167.60" y="183.3" width="17.90" height="2.2" fill="#f6f1f6"/>
<rect x="167.60" y="185.5" width="17.90" height="1.8" fill="#f5f1f5"/>
<rect x="167.60" y="192" width="17.90" height="5.30" fill="#f20c28"/>
<rect x="167.60" y="192.0" width="17.90" height="1.8" fill="#f3253e"/>
<rect x="167.60" y="197" width="17.90" height="3.30" fill="#f8d4e0"/>
<rect x="167.60" y="200" width="17.90" height="3.30" fill="#f8b0c6"/>
<rect x="167.60" y="200.0" width="17.90" height="1.5" fill="#f8b5ca"/>
<rect x="167.60" y="203" width="17.90" height="2.30" fill="#f8d4e0"/>
<rect x="167.60" y="205" width="17.90" height="1.30" fill="#f20c28"/>
<rect x="167.60" y="206" width="17.90" height="2.30" fill="#f6f2f6"/>
<rect x="167.60" y="208" width="17.90" height="4.30" fill="#a8bcf6"/>
<rect x="167.60" y="209.5" width="17.90" height="1.5" fill="#afc1f7"/>
<rect x="167.60" y="212" width="17.90" height="2.30" fill="#f6f2f6"/>
<rect x="167.60" y="214" width="17.90" height="4.30" fill="#a8bcf6"/>
<rect x="167.60" y="214.0" width="17.90" height="1.2" fill="#afc2f7"/>
<rect x="167.60" y="218" width="17.90" height="4.30" fill="#8ea4f4"/>
<rect x="167.60" y="218.0" width="17.90" height="2.2" fill="#9baef5"/>
<rect x="167.60" y="222" width="17.90" height="8.30" fill="#a8bcf6"/>
<rect x="167.60" y="224.2" width="17.90" height="2.2" fill="#b0c3f7"/>
<rect x="167.60" y="226.4" width="17.90" height="1.5" fill="#b2c4f7"/>
<rect x="167.60" y="230" width="17.90" height="5.30" fill="#8ea4f4"/>
<rect x="167.60" y="230.0" width="17.90" height="1.5" fill="#93a8f4"/>
<rect x="167.60" y="235" width="17.90" height="5.30" fill="#a8bcf6"/>
<rect x="167.60" y="236.5" width="17.90" height="1.5" fill="#a1b7f5"/>
<rect x="167.60" y="240" width="17.90" height="4.30" fill="#b8c8f8"/>
<rect x="167.60" y="240.0" width="17.90" height="1.2" fill="#b5c6f8"/>
<rect x="167.60" y="241.2" width="17.90" height="1.8" fill="#b1c3f7"/>
<rect x="167.60" y="244" width="17.90" height="8.30" fill="#a8bcf6"/>
<rect x="167.60" y="245.8" width="17.90" height="1.2" fill="#afc2f7"/>
<rect x="167.60" y="247.0" width="17.90" height="2.2" fill="#9fb5f5"/>
<rect x="167.60" y="249.2" width="17.90" height="1.2" fill="#aec1f7"/>
<rect x="167.60" y="252" width="17.90" height="4.30" fill="#8ea4f4"/>
<rect x="167.60" y="252.0" width="17.90" height="1.8" fill="#839cf3"/>
<rect x="167.60" y="256" width="17.90" height="4.30" fill="#a8bcf6"/>
<rect x="167.60" y="260" width="17.90" height="4.30" fill="#d6def8"/>
<rect x="167.60" y="260.0" width="17.90" height="1.2" fill="#dae1f9"/>
<rect x="167.60" y="264" width="17.90" height="6.30" fill="#a8bcf6"/>
<rect x="167.60" y="270" width="17.90" height="4.30" fill="#d6def8"/>
<rect x="167.60" y="274" width="17.90" height="4.30" fill="#f6f2f6"/>
<rect x="167.60" y="278" width="17.90" height="4.30" fill="#d6def8"/>
<rect x="167.60" y="282" width="17.90" height="10.30" fill="#a8bcf6"/>
<rect x="167.60" y="283.2" width="17.90" height="1.8" fill="#afc2f7"/>
<rect x="167.60" y="285.0" width="17.90" height="2.2" fill="#acbff6"/>
<rect x="167.60" y="287.2" width="17.90" height="1.8" fill="#a3b8f5"/>
<rect x="167.60" y="289.0" width="17.90" height="1.8" fill="#afc1f7"/>
<rect x="167.60" y="292" width="17.90" height="4.30" fill="#8ea4f4"/>
<rect x="167.60" y="292.0" width="17.90" height="2.2" fill="#8199f3"/>
<rect x="167.60" y="296" width="17.90" height="4.30" fill="#d6def8"/>
<rect x="167.60" y="296.0" width="17.90" height="2.2" fill="#dae2f9"/>
<rect x="167.60" y="300" width="17.90" height="18.30" fill="#a8bcf6"/>
<rect x="167.60" y="300.0" width="17.90" height="1.5" fill="#a3b8f5"/>
<rect x="167.60" y="301.5" width="17.90" height="2.2" fill="#b0c2f7"/>
<rect x="167.60" y="303.7" width="17.90" height="1.5" fill="#a1b7f5"/>
<rect x="167.60" y="305.2" width="17.90" height="1.5" fill="#a1b7f5"/>
<rect x="167.60" y="307.9" width="17.90" height="1.8" fill="#b1c3f7"/>
<rect x="167.60" y="309.7" width="17.90" height="1.2" fill="#a4b9f6"/>
<rect x="167.60" y="314.5" width="17.90" height="1.2" fill="#a0b6f5"/>
<rect x="167.60" y="318" width="17.90" height="2.30" fill="#8ea4f4"/>
<rect x="167.60" y="320" width="17.90" height="4.30" fill="#d6def8"/>
<rect x="167.60" y="320.0" width="17.90" height="1.5" fill="#dae1f9"/>
<rect x="167.60" y="321.5" width="17.90" height="2.2" fill="#d3dcf8"/>
<rect x="167.60" y="324" width="17.90" height="7.80" fill="#a8bcf6"/>
<rect x="167.60" y="324.0" width="17.90" height="2.2" fill="#a0b6f5"/>
<rect x="167.60" y="326.2" width="17.90" height="1.2" fill="#a2b7f5"/>
<rect x="167.60" y="327.4" width="17.90" height="1.2" fill="#a2b8f5"/>
<rect x="167.60" y="328.6" width="17.90" height="1.2" fill="#a2b7f5"/>
<rect x="185.20" y="80" width="17.90" height="2.30" fill="#f8b0c6"/>
<rect x="185.20" y="82" width="17.90" height="2.30" fill="#f8d4e0"/>
<rect x="185.20" y="84" width="17.90" height="4.30" fill="#f7809f"/>
<rect x="185.20" y="84.0" width="17.90" height="1.5" fill="#f67798"/>
<rect x="185.20" y="85.5" width="17.90" height="1.5" fill="#f88ca8"/>
<rect x="185.20" y="88" width="17.90" height="2.30" fill="#f6f2f6"/>
<rect x="185.20" y="90" width="17.90" height="4.30" fill="#f8d4e0"/>
<rect x="185.20" y="90.0" width="17.90" height="1.2" fill="#f7d0dd"/>
<rect x="185.20" y="91.2" width="17.90" height="1.5" fill="#f7d1de"/>
<rect x="185.20" y="94" width="17.90" height="6.30" fill="#f8b0c6"/>
<rect x="185.20" y="95.2" width="17.90" height="2.2" fill="#f9b9cc"/>
<rect x="185.20" y="97.4" width="17.90" height="2.2" fill="#f7a8c1"/>
<rect x="185.20" y="100" width="17.90" height="4.30" fill="#f8a0b8"/>
<rect x="185.20" y="100.0" width="17.90" height="1.2" fill="#f9a9bf"/>
<rect x="185.20" y="104" width="17.90" height="6.30" fill="#f7809f"/>
<rect x="185.20" y="104.0" width="17.90" height="1.8" fill="#f67596"/>
<rect x="185.20" y="110" width="17.90" height="4.30" fill="#f8b0c6"/>
<rect x="185.20" y="110.0" width="17.90" height="1.8" fill="#f8acc3"/>
<rect x="185.20" y="114" width="17.90" height="2.30" fill="#f8d4e0"/>
<rect x="185.20" y="116" width="17.90" height="2.30" fill="#f6f2f6"/>
<rect x="185.20" y="118" width="17.90" height="4.30" fill="#f8d4e0"/>
<rect x="185.20" y="118.0" width="17.90" height="1.5" fill="#f8d2df"/>
<rect x="185.20" y="119.5" width="17.90" height="1.5" fill="#f8d1de"/>
<rect x="185.20" y="122" width="17.90" height="2.30" fill="#f8b0c6"/>
<rect x="185.20" y="124" width="17.90" height="2.30" fill="#f7809f"/>
<rect x="185.20" y="126" width="17.90" height="2.30" fill="#f8b0c6"/>
<rect x="185.20" y="128" width="17.90" height="4.30" fill="#f8d4e0"/>
<rect x="185.20" y="128.0" width="17.90" height="1.5" fill="#f8d2df"/>
<rect x="185.20" y="129.5" width="17.90" height="2.2" fill="#f9d9e3"/>
<rect x="185.20" y="132" width="17.90" height="4.30" fill="#f8b0c6"/>
<rect x="185.20" y="132.0" width="17.90" height="1.8" fill="#f9b7cb"/>
<rect x="185.20" y="136" width="17.90" height="2.30" fill="#f6f2f6"/>
<rect x="185.20" y="138" width="17.90" height="4.30" fill="#d6def8"/>
<rect x="185.20" y="142" width="17.90" height="2.30" fill="#f6f2f6"/>
<rect x="185.20" y="144" width="17.90" height="3.30" fill="#f8e0e8"/>
<rect x="185.20" y="144.0" width="17.90" height="1.8" fill="#f8e1e9"/>
<rect x="185.20" y="147" width="17.90" height="3.30" fill="#f6f2f6"/>
<rect x="185.20" y="147.0" width="17.90" height="1.2" fill="#f5f0f5"/>
<rect x="185.20" y="150" width="17.90" height="5.30" fill="#d6def8"/>
<rect x="185.20" y="150.0" width="17.90" height="1.5" fill="#d4dcf8"/>
<rect x="185.20" y="151.5" width="17.90" height="1.8" fill="#d2dbf7"/>
<rect x="185.20" y="155" width="17.90" height="3.30" fill="#f6f2f6"/>
<rect x="185.20" y="155.0" width="17.90" height="2.2" fill="#f7f3f7"/>
<rect x="185.20" y="158" width="17.90" height="4.30" fill="#e8ecf8"/>
<rect x="185.20" y="162" width="17.90" height="8.30" fill="#f6f2f6"/>
<rect x="185.20" y="162.0" width="17.90" height="2.2" fill="#f6f3f6"/>
<rect x="185.20" y="166.9" width="17.90" height="2.2" fill="#f7f3f7"/>
<rect x="185.20" y="170" width="17.90" height="6.30" fill="#d6def8"/>
<rect x="185.20" y="170.0" width="17.90" height="1.2" fill="#d8e0f8"/>
<rect x="185.20" y="171.2" width="17.90" height="1.8" fill="#d2daf7"/>
<rect x="185.20" y="173.0" width="17.90" height="1.2" fill="#d4ddf8"/>
<rect x="185.20" y="176" width="17.90" height="6.30" fill="#f6f2f6"/>
<rect x="185.20" y="176.0" width="17.90" height="2.2" fill="#f7f3f7"/>
<rect x="185.20" y="182" width="17.90" height="2.30" fill="#f8d4e0"/>
<rect x="185.20" y="184" width="17.90" height="2.30" fill="#f6f2f6"/>
<rect x="185.20" y="186" width="17.90" height="3.30" fill="#f8d4e0"/>
<rect x="185.20" y="189" width="17.90" height="2.30" fill="#f6f2f6"/>
<rect x="185.20" y="191" width="17.90" height="5.30" fill="#e8ecf8"/>
<rect x="185.20" y="196" width="17.90" height="9.30" fill="#f66c8c"/>
<rect x="185.20" y="197.8" width="17.90" height="1.8" fill="#f67392"/>
<rect x="185.20" y="199.6" width="17.90" height="1.2" fill="#f66687"/>
<rect x="185.20" y="200.8" width="17.90" height="1.5" fill="#f77d99"/>
<rect x="185.20" y="202.3" width="17.90" height="1.8" fill="#f77996"/>
<rect x="185.20" y="205" width="17.90" height="2.30" fill="#f7809f"/>
<rect x="185.20" y="207" width="17.90" height="2.30" fill="#f6f2f6"/>
<rect x="185.20" y="209" width="17.90" height="3.30" fill="#b8c8f8"/>
<rect x="185.20" y="212" width="17.90" height="4.30" fill="#a8bcf6"/>
<rect x="185.20" y="216" width="17.90" height="2.30" fill="#f6f2f6"/>
<rect x="185.20" y="218" width="17.90" height="10.30" fill="#a8bcf6"/>
<rect x="185.20" y="220.4" width="17.90" height="1.5" fill="#b1c3f7"/>
<rect x="185.20" y="221.9" width="17.90" height="1.8" fill="#b2c4f7"/>
<rect x="185.20" y="223.7" width="17.90" height="1.2" fill="#a3b8f6"/>
<rect x="185.20" y="224.9" width="17.90" height="1.8" fill="#9eb4f5"/>
<rect x="185.20" y="228" width="17.90" height="8.30" fill="#c8d4f8"/>
<rect x="185.20" y="228.0" width="17.90" height="1.2" fill="#c6d2f8"/>
<rect x="185.20" y="230.7" width="17.90" height="1.8" fill="#ccd7f9"/>
<rect x="185.20" y="236" width="17.90" height="9.30" fill="#a8bcf6"/>
<rect x="185.20" y="236.0" width="17.90" height="1.2" fill="#9eb4f5"/>
<rect x="185.20" y="237.2" width="17.90" height="1.2" fill="#9eb4f5"/>
<rect x="185.20" y="242.1" width="17.90" height="1.2" fill="#9eb4f5"/>
<rect x="185.20" y="245" width="17.90" height="5.30" fill="#c8d4f8"/>
<rect x="185.20" y="245.0" width="17.90" height="1.2" fill="#c1cff7"/>
<rect x="185.20" y="246.2" width="17.90" height="2.2" fill="#c4d1f8"/>
<rect x="185.20" y="250" width="17.90" height="8.30" fill="#9cb0f4"/>
<rect x="185.20" y="254.5" width="17.90" height="1.2" fill="#96abf3"/>
<rect x="185.20" y="255.7" width="17.90" height="1.2" fill="#a8b9f5"/>
<rect x="185.20" y="258" width="17.90" height="4.30" fill="#d6def8"/>
<rect x="185.20" y="262" width="17.90" height="4.30" fill="#f6f2f6"/>
<rect x="185.20" y="262.0" width="17.90" height="2.2" fill="#f5f1f5"/>
<rect x="185.20" y="266" width="17.90" height="7.30" fill="#b8c8f8"/>
<rect x="185.20" y="267.2" width="17.90" height="1.5" fill="#c0cef9"/>
<rect x="185.20" y="268.7" width="17.90" height="1.8" fill="#b0c2f7"/>
<rect x="185.20" y="270.5" width="17.90" height="1.2" fill="#bfcdf9"/>
<rect x="185.20" y="273" width="17.90" height="2.30" fill="#e8ecf8"/>
<rect x="185.20" y="275" width="17.90" height="5.30" fill="#d6def8"/>
<rect x="185.20" y="277.2" width="17.90" height="1.2" fill="#d3dcf8"/>
<rect x="185.20" y="280" width="17.90" height="2.30" fill="#9cb0f4"/>
<rect x="185.20" y="282" width="17.90" height="14.30" fill="#a8bcf6"/>
<rect x="185.20" y="282.0" width="17.90" height="1.2" fill="#acbff6"/>
<rect x="185.20" y="283.2" width="17.90" height="1.2" fill="#b1c3f7"/>
<rect x="185.20" y="284.4" width="17.90" height="1.5" fill="#b0c2f7"/>
<rect x="185.20" y="287.1" width="17.90" height="1.8" fill="#acbff6"/>
<rect x="185.20" y="288.9" width="17.90" height="1.5" fill="#adc0f7"/>
<rect x="185.20" y="296" width="17.90" height="4.30" fill="#d6def8"/>
<rect x="185.20" y="297.5" width="17.90" height="2.2" fill="#dae1f9"/>
<rect x="185.20" y="300" width="17.90" height="12.30" fill="#a8bcf6"/>
<rect x="185.20" y="300.0" width="17.90" height="1.2" fill="#a2b7f5"/>
<rect x="185.20" y="301.2" width="17.90" height="1.5" fill="#afc2f7"/>
<rect x="185.20" y="305.4" width="17.90" height="1.2" fill="#aec0f7"/>
<rect x="185.20" y="306.6" width="17.90" height="1.2" fill="#a3b8f5"/>
<rect x="185.20" y="307.8" width="17.90" height="2.2" fill="#afc2f7"/>
<rect x="185.20" y="312" width="17.90" height="6.30" fill="#9cb0f4"/>
<rect x="185.20" y="313.2" width="17.90" height="2.2" fill="#a1b4f5"/>
<rect x="185.20" y="318" width="17.90" height="4.30" fill="#a8bcf6"/>
<rect x="185.20" y="318.0" width="17.90" height="1.8" fill="#b1c3f7"/>
<rect x="185.20" y="322" width="17.90" height="4.30" fill="#9cb0f4"/>
<rect x="185.20" y="326" width="17.90" height="5.80" fill="#a8bcf6"/>
<rect x="185.20" y="326.0" width="17.90" height="2.2" fill="#acbff6"/>
<rect x="185.20" y="328.2" width="17.90" height="2.2" fill="#aec1f7"/>
</g>
<text x="106.6" y="344.8" font-size="11" textLength="33.2" lengthAdjust="spacingAndGlyphs" fill="#222">Z-score</text>
<rect x="75.6" y="348.6" width="95.7" height="9.6" fill="url(#cb)"/>
<text x="64.8" y="356.5" font-size="9" textLength="7.2" lengthAdjust="spacingAndGlyphs" fill="#222">-2</text>
<text x="175" y="356.5" font-size="9" textLength="4.5" lengthAdjust="spacingAndGlyphs" fill="#222">2</text>
<text x="6.3" y="401.0" font-size="12" font-weight="bold" fill="#000">D</text>
<text x="42.3" y="416.6" font-size="10" textLength="14.8" lengthAdjust="spacingAndGlyphs" fill="#222">WT</text>
<text x="104.6" y="404.4" font-size="10" text-anchor="middle" font-style="italic" fill="#222">Ctsg-</text>
<text x="79.4" y="416.6" font-size="10" textLength="48.3" lengthAdjust="spacingAndGlyphs" font-style="italic" fill="#222">PML-RARA</text>
<rect x="24.4" y="420" width="51.6" height="1.8" fill="#111"/>
<rect x="49.1" y="418.8" width="1" height="1.5" fill="#111"/>
<rect x="80" y="420" width="50.599999999999994" height="1.8" fill="#111"/>
<rect x="104.0" y="418.8" width="1" height="1.5" fill="#111"/>
<g filter="url(#bl)">
<rect x="24.20" y="424" width="17.97" height="3.30" fill="#f8d4e0"/>
<rect x="24.20" y="427" width="17.97" height="3.30" fill="#e8ecf8"/>
<rect x="24.20" y="430" width="17.97" height="3.30" fill="#f8d4e0"/>
<rect x="24.20" y="430.0" width="17.97" height="1.8" fill="#f8d6e2"/>
<rect x="24.20" y="433" width="17.97" height="3.30" fill="#f8b0c6"/>
<rect x="24.20" y="433.0" width="17.97" height="1.8" fill="#f8b5ca"/>
<rect x="24.20" y="436" width="17.97" height="4.30" fill="#f8d4e0"/>
<rect x="24.20" y="440" width="17.97" height="5.30" fill="#f8b0c6"/>
<rect x="24.20" y="442.2" width="17.97" height="1.2" fill="#f9b9cc"/>
<rect x="24.20" y="445" width="17.97" height="3.30" fill="#f8d4e0"/>
<rect x="24.20" y="445.0" width="17.97" height="1.2" fill="#f9d7e3"/>
<rect x="24.20" y="448" width="17.97" height="4.30" fill="#f8b0c6"/>
<rect x="24.20" y="452" width="17.97" height="6.30" fill="#f8a0b8"/>
<rect x="24.20" y="452.0" width="17.97" height="2.2" fill="#f799b3"/>
<rect x="24.20" y="454.2" width="17.97" height="1.2" fill="#f89bb4"/>
<rect x="24.20" y="455.4" width="17.97" height="1.2" fill="#f8a4bb"/>
<rect x="24.20" y="458" width="17.97" height="4.30" fill="#f8b0c6"/>
<rect x="24.20" y="458.0" width="17.97" height="2.2" fill="#f7a7c0"/>
<rect x="24.20" y="462" width="17.97" height="10.30" fill="#f7809f"/>
<rect x="24.20" y="462.0" width="17.97" height="2.2" fill="#f7799a"/>
<rect x="24.20" y="466.0" width="17.97" height="1.2" fill="#f88faa"/>
<rect x="24.20" y="467.2" width="17.97" height="1.8" fill="#f67294"/>
<rect x="24.20" y="469.0" width="17.97" height="1.8" fill="#f67294"/>
<rect x="24.20" y="472" width="17.97" height="12.30" fill="#f66c8c"/>
<rect x="24.20" y="472.0" width="17.97" height="1.8" fill="#f56083"/>
<rect x="24.20" y="475.3" width="17.97" height="1.2" fill="#f67391"/>
<rect x="24.20" y="476.5" width="17.97" height="2.2" fill="#f77997"/>
<rect x="24.20" y="478.7" width="17.97" height="1.8" fill="#f77c98"/>
<rect x="24.20" y="480.5" width="17.97" height="1.2" fill="#f77694"/>
<rect x="24.20" y="481.7" width="17.97" height="1.8" fill="#f56184"/>
<rect x="24.20" y="484" width="17.97" height="4.30" fill="#f8b0c6"/>
<rect x="24.20" y="488" width="17.97" height="3.30" fill="#f8d4e0"/>
<rect x="24.20" y="491" width="17.97" height="6.30" fill="#f55479"/>
<rect x="24.20" y="492.8" width="17.97" height="1.2" fill="#f66586"/>
<rect x="24.20" y="494.0" width="17.97" height="1.5" fill="#f4466e"/>
<rect x="24.20" y="497" width="17.97" height="2.30" fill="#f7809f"/>
<rect x="24.20" y="499" width="17.97" height="4.30" fill="#f20c28"/>
<rect x="24.20" y="499.0" width="17.97" height="1.8" fill="#f32740"/>
<rect x="24.20" y="503" width="17.97" height="6.30" fill="#f2446a"/>
<rect x="24.20" y="503.0" width="17.97" height="1.5" fill="#f1365f"/>
<rect x="24.20" y="506.3" width="17.97" height="1.2" fill="#f02e58"/>
<rect x="24.20" y="509" width="17.97" height="3.30" fill="#e8ecf8"/>
<rect x="24.20" y="509.0" width="17.97" height="2.2" fill="#eaeef9"/>
<rect x="24.20" y="512" width="17.97" height="1.80" fill="#f8b0c6"/>
<rect x="24.20" y="513.5" width="17.97" height="3.80" fill="#f66c8c"/>
<rect x="24.20" y="517" width="17.97" height="3.80" fill="#f2446a"/>
<rect x="24.20" y="520.5" width="17.97" height="3.80" fill="#a8bcf6"/>
<rect x="24.20" y="520.5" width="17.97" height="1.2" fill="#a1b7f5"/>
<rect x="24.20" y="524" width="17.97" height="3.30" fill="#8ea4f4"/>
<rect x="24.20" y="524.0" width="17.97" height="1.2" fill="#97abf5"/>
<rect x="24.20" y="527" width="17.97" height="2.30" fill="#9cb0f4"/>
<rect x="24.20" y="529" width="17.97" height="3.30" fill="#a8bcf6"/>
<rect x="24.20" y="532" width="17.97" height="2.30" fill="#b8c8f8"/>
<rect x="24.20" y="534" width="17.97" height="7.30" fill="#a8bcf6"/>
<rect x="24.20" y="535.5" width="17.97" height="2.2" fill="#a4b9f6"/>
<rect x="24.20" y="541" width="17.97" height="3.30" fill="#8ea4f4"/>
<rect x="24.20" y="541.0" width="17.97" height="1.2" fill="#859df3"/>
<rect x="24.20" y="544" width="17.97" height="2.30" fill="#a8bcf6"/>
<rect x="24.20" y="546" width="17.97" height="3.30" fill="#7088f2"/>
<rect x="24.20" y="549" width="17.97" height="1.30" fill="#a8bcf6"/>
<rect x="24.20" y="550" width="17.97" height="6.30" fill="#8ea4f4"/>
<rect x="24.20" y="550.0" width="17.97" height="1.2" fill="#88a0f3"/>
<rect x="24.20" y="551.2" width="17.97" height="2.2" fill="#93a8f5"/>
<rect x="24.20" y="553.4" width="17.97" height="1.2" fill="#839bf3"/>
<rect x="24.20" y="556" width="17.97" height="2.30" fill="#d6def8"/>
<rect x="24.20" y="558" width="17.97" height="4.30" fill="#8ea4f4"/>
<rect x="24.20" y="558.0" width="17.97" height="1.5" fill="#99adf5"/>
<rect x="24.20" y="562" width="17.97" height="4.30" fill="#a8bcf6"/>
<rect x="24.20" y="562.0" width="17.97" height="1.2" fill="#afc2f7"/>
<rect x="24.20" y="566" width="17.97" height="2.30" fill="#8ea4f4"/>
<rect x="24.20" y="568" width="17.97" height="4.30" fill="#a8bcf6"/>
<rect x="24.20" y="568.0" width="17.97" height="1.2" fill="#a0b6f5"/>
<rect x="24.20" y="569.2" width="17.97" height="2.2" fill="#aec1f7"/>
<rect x="24.20" y="572" width="17.97" height="2.30" fill="#f6f2f6"/>
<rect x="24.20" y="574" width="17.97" height="3.30" fill="#8ea4f4"/>
<rect x="24.20" y="577" width="17.97" height="3.30" fill="#a8bcf6"/>
<rect x="24.20" y="580" width="17.97" height="4.30" fill="#8ea4f4"/>
<rect x="24.20" y="580.0" width="17.97" height="2.2" fill="#99adf5"/>
<rect x="24.20" y="584" width="17.97" height="2.30" fill="#a8bcf6"/>
<rect x="24.20" y="586" width="17.97" height="2.30" fill="#f6f2f6"/>
<rect x="24.20" y="588" width="17.97" height="2.30" fill="#a8bcf6"/>
<rect x="24.20" y="590" width="17.97" height="10.30" fill="#8ea4f4"/>
<rect x="24.20" y="590.0" width="17.97" height="1.5" fill="#879ef3"/>
<rect x="24.20" y="591.5" width="17.97" height="1.8" fill="#96abf5"/>
<rect x="24.20" y="593.3" width="17.97" height="1.8" fill="#859df3"/>
<rect x="24.20" y="600" width="17.97" height="6.30" fill="#a8bcf6"/>
<rect x="24.20" y="603.7" width="17.97" height="2.2" fill="#acbff6"/>
<rect x="24.20" y="606" width="17.97" height="2.30" fill="#7088f2"/>
<rect x="24.20" y="608" width="17.97" height="4.30" fill="#8ea4f4"/>
<rect x="24.20" y="608.0" width="17.97" height="2.2" fill="#95aaf5"/>
<rect x="24.20" y="612" width="17.97" height="2.30" fill="#a8bcf6"/>
<rect x="24.20" y="614" width="17.97" height="4.30" fill="#5a78f2"/>
<rect x="24.20" y="618" width="17.97" height="4.30" fill="#a8bcf6"/>
<rect x="24.20" y="618.0" width="17.97" height="1.8" fill="#9fb5f5"/>
<rect x="24.20" y="622" width="17.97" height="4.30" fill="#8ea4f4"/>
<rect x="24.20" y="626" width="17.97" height="4.30" fill="#a8bcf6"/>
<rect x="24.20" y="626.0" width="17.97" height="2.2" fill="#9fb5f5"/>
<rect x="24.20" y="630" width="17.97" height="4.30" fill="#8ea4f4"/>
<rect x="24.20" y="634" width="17.97" height="4.30" fill="#a8bcf6"/>
<rect x="24.20" y="634.0" width="17.97" height="1.2" fill="#aec0f7"/>
<rect x="24.20" y="635.2" width="17.97" height="1.2" fill="#a4b9f6"/>
<rect x="24.20" y="638" width="17.97" height="2.30" fill="#8ea4f4"/>
<rect x="24.20" y="640" width="17.97" height="2.30" fill="#5a78f2"/>
<rect x="24.20" y="642" width="17.97" height="2.30" fill="#8ea4f4"/>
<rect x="24.20" y="644" width="17.97" height="2.30" fill="#a8bcf6"/>
<rect x="24.20" y="646" width="17.97" height="2.30" fill="#f6f2f6"/>
<rect x="24.20" y="648" width="17.97" height="8.30" fill="#8ea4f4"/>
<rect x="24.20" y="648.0" width="17.97" height="1.5" fill="#9baef5"/>
<rect x="24.20" y="651.3" width="17.97" height="2.2" fill="#93a8f4"/>
<rect x="24.20" y="656" width="17.97" height="3.30" fill="#a8bcf6"/>
<rect x="24.20" y="656.0" width="17.97" height="1.8" fill="#a2b7f5"/>
<rect x="24.20" y="659" width="17.97" height="3.30" fill="#5a78f2"/>
<rect x="24.20" y="659.0" width="17.97" height="1.2" fill="#6480f3"/>
<rect x="24.20" y="662" width="17.97" height="13.00" fill="#8ea4f4"/>
<rect x="24.20" y="662.0" width="17.97" height="1.5" fill="#96aaf5"/>
<rect x="24.20" y="663.5" width="17.97" height="1.5" fill="#849cf3"/>
<rect x="24.20" y="665.0" width="17.97" height="1.8" fill="#98acf5"/>
<rect x="24.20" y="668.3" width="17.97" height="1.8" fill="#89a0f4"/>
<rect x="24.20" y="670.1" width="17.97" height="1.8" fill="#99adf5"/>
<rect x="41.87" y="424" width="17.97" height="3.30" fill="#f8b0c6"/>
<rect x="41.87" y="424.0" width="17.97" height="1.8" fill="#f9b7cb"/>
<rect x="41.87" y="427" width="17.97" height="3.30" fill="#f7809f"/>
<rect x="41.87" y="427.0" width="17.97" height="1.8" fill="#f88faa"/>
<rect x="41.87" y="430" width="17.97" height="3.30" fill="#f8b0c6"/>
<rect x="41.87" y="430.0" width="17.97" height="1.8" fill="#f8adc4"/>
<rect x="41.87" y="433" width="17.97" height="5.30" fill="#f7809f"/>
<rect x="41.87" y="433.0" width="17.97" height="1.8" fill="#f788a5"/>
<rect x="41.87" y="434.8" width="17.97" height="1.5" fill="#f787a4"/>
<rect x="41.87" y="438" width="17.97" height="3.30" fill="#f8d4e0"/>
<rect x="41.87" y="438.0" width="17.97" height="1.2" fill="#f8d6e2"/>
<rect x="41.87" y="441" width="17.97" height="4.30" fill="#f7809f"/>
<rect x="41.87" y="441.0" width="17.97" height="1.8" fill="#f67798"/>
<rect x="41.87" y="445" width="17.97" height="9.30" fill="#f8b0c6"/>
<rect x="41.87" y="445.0" width="17.97" height="1.5" fill="#f7a9c1"/>
<rect x="41.87" y="446.5" width="17.97" height="1.5" fill="#f7aac2"/>
<rect x="41.87" y="451.0" width="17.97" height="1.8" fill="#f8b4c9"/>
<rect x="41.87" y="454" width="17.97" height="3.30" fill="#f8d4e0"/>
<rect x="41.87" y="454.0" width="17.97" height="2.2" fill="#f7cfdd"/>
<rect x="41.87" y="457" width="17.97" height="5.30" fill="#f8b0c6"/>
<rect x="41.87" y="462" width="17.97" height="6.30" fill="#f66c8c"/>
<rect x="41.87" y="463.8" width="17.97" height="1.5" fill="#f55c80"/>
<rect x="41.87" y="468" width="17.97" height="4.30" fill="#f7809f"/>
<rect x="41.87" y="468.0" width="17.97" height="1.8" fill="#f67496"/>
<rect x="41.87" y="472" width="17.97" height="8.30" fill="#f8b0c6"/>
<rect x="41.87" y="472.0" width="17.97" height="1.2" fill="#f7a7c0"/>
<rect x="41.87" y="474.4" width="17.97" height="1.2" fill="#f8b4c9"/>
<rect x="41.87" y="475.6" width="17.97" height="1.2" fill="#f9b8cb"/>
<rect x="41.87" y="476.8" width="17.97" height="1.2" fill="#f9b6ca"/>
<rect x="41.87" y="480" width="17.97" height="4.30" fill="#f55479"/>
<rect x="41.87" y="480.0" width="17.97" height="1.8" fill="#f55c7f"/>
<rect x="41.87" y="484" width="17.97" height="2.30" fill="#f7809f"/>
<rect x="41.87" y="486" width="17.97" height="4.30" fill="#f2446a"/>
<rect x="41.87" y="486.0" width="17.97" height="1.5" fill="#f3587a"/>
<rect x="41.87" y="487.5" width="17.97" height="1.2" fill="#f35477"/>
<rect x="41.87" y="490" width="17.97" height="1.30" fill="#f20c28"/>
<rect x="41.87" y="491" width="17.97" height="6.30" fill="#f7809f"/>
<rect x="41.87" y="494.4" width="17.97" height="1.5" fill="#f88da9"/>
<rect x="41.87" y="497" width="17.97" height="2.30" fill="#f66c8c"/>
<rect x="41.87" y="499" width="17.97" height="2.30" fill="#f8b0c6"/>
<rect x="41.87" y="501" width="17.97" height="2.30" fill="#f8d4e0"/>
<rect x="41.87" y="503" width="17.97" height="6.30" fill="#f8b0c6"/>
<rect x="41.87" y="504.8" width="17.97" height="1.5" fill="#f7a9c1"/>
<rect x="41.87" y="509" width="17.97" height="11.80" fill="#f8e0e8"/>
<rect x="41.87" y="509.0" width="17.97" height="2.2" fill="#f9e2ea"/>
<rect x="41.87" y="511.2" width="17.97" height="2.2" fill="#f9e4eb"/>
<rect x="41.87" y="513.4" width="17.97" height="1.2" fill="#f9e3ea"/>
<rect x="41.87" y="514.6" width="17.97" height="1.8" fill="#f8e2e9"/>
<rect x="41.87" y="516.4" width="17.97" height="1.5" fill="#f8dee7"/>
<rect x="41.87" y="517.9" width="17.97" height="1.5" fill="#f7dce5"/>
<rect x="41.87" y="520.5" width="17.97" height="4.80" fill="#a8bcf6"/>
<rect x="41.87" y="520.5" width="17.97" height="1.5" fill="#a1b6f5"/>
<rect x="41.87" y="525" width="17.97" height="3.30" fill="#8ea4f4"/>
<rect x="41.87" y="525.0" width="17.97" height="1.8" fill="#829bf3"/>
<rect x="41.87" y="528" width="17.97" height="4.30" fill="#a8bcf6"/>
<rect x="41.87" y="528.0" width="17.97" height="1.2" fill="#a2b8f5"/>
<rect x="41.87" y="529.2" width="17.97" height="1.5" fill="#9eb5f5"/>
<rect x="41.87" y="532" width="17.97" height="2.30" fill="#d6def8"/>
<rect x="41.87" y="534" width="17.97" height="9.30" fill="#a8bcf6"/>
<rect x="41.87" y="534.0" width="17.97" height="1.2" fill="#b0c2f7"/>
<rect x="41.87" y="535.2" width="17.97" height="1.8" fill="#a0b6f5"/>
<rect x="41.87" y="538.2" width="17.97" height="1.5" fill="#a1b7f5"/>
<rect x="41.87" y="539.7" width="17.97" height="1.2" fill="#b2c4f7"/>
<rect x="41.87" y="543" width="17.97" height="3.30" fill="#8ea4f4"/>
<rect x="41.87" y="543.0" width="17.97" height="1.2" fill="#829af3"/>
<rect x="41.87" y="546" width="17.97" height="6.30" fill="#a8bcf6"/>
<rect x="41.87" y="546.0" width="17.97" height="1.5" fill="#9eb4f5"/>
<rect x="41.87" y="549.0" width="17.97" height="1.8" fill="#aec1f7"/>
<rect x="41.87" y="552" width="17.97" height="4.30" fill="#8ea4f4"/>
<rect x="41.87" y="552.0" width="17.97" height="2.2" fill="#9baff5"/>
<rect x="41.87" y="556" width="17.97" height="2.30" fill="#5a78f2"/>
<rect x="41.87" y="558" width="17.97" height="4.30" fill="#8ea4f4"/>
<rect x="41.87" y="558.0" width="17.97" height="1.5" fill="#94a9f5"/>
<rect x="41.87" y="562" width="17.97" height="2.30" fill="#a8bcf6"/>
<rect x="41.87" y="564" width="17.97" height="4.30" fill="#8ea4f4"/>
<rect x="41.87" y="568" width="17.97" height="2.30" fill="#d6def8"/>
<rect x="41.87" y="570" width="17.97" height="4.30" fill="#f6f2f6"/>
<rect x="41.87" y="570.0" width="17.97" height="1.5" fill="#f5f1f5"/>
<rect x="41.87" y="571.5" width="17.97" height="2.2" fill="#f7f3f7"/>
<rect x="41.87" y="574" width="17.97" height="10.30" fill="#8ea4f4"/>
<rect x="41.87" y="574.0" width="17.97" height="1.5" fill="#96aaf5"/>
<rect x="41.87" y="577.7" width="17.97" height="1.8" fill="#97abf5"/>
<rect x="41.87" y="584" width="17.97" height="6.30" fill="#7088f2"/>
<rect x="41.87" y="584.0" width="17.97" height="1.2" fill="#7b91f3"/>
<rect x="41.87" y="585.2" width="17.97" height="1.5" fill="#7f94f3"/>
<rect x="41.87" y="586.7" width="17.97" height="1.8" fill="#6881f1"/>
<rect x="41.87" y="590" width="17.97" height="3.30" fill="#8ea4f4"/>
<rect x="41.87" y="590.0" width="17.97" height="1.5" fill="#89a0f4"/>
<rect x="41.87" y="593" width="17.97" height="7.30" fill="#a8bcf6"/>
<rect x="41.87" y="594.5" width="17.97" height="1.2" fill="#a4b9f6"/>
<rect x="41.87" y="600" width="17.97" height="4.30" fill="#7088f2"/>
<rect x="41.87" y="601.5" width="17.97" height="1.8" fill="#7f94f3"/>
<rect x="41.87" y="604" width="17.97" height="11.30" fill="#8ea4f4"/>
<rect x="41.87" y="604.0" width="17.97" height="1.2" fill="#8199f3"/>
<rect x="41.87" y="605.2" width="17.97" height="2.2" fill="#8099f3"/>
<rect x="41.87" y="607.4" width="17.97" height="2.2" fill="#869ef3"/>
<rect x="41.87" y="615" width="17.97" height="3.30" fill="#d6def8"/>
<rect x="41.87" y="618" width="17.97" height="4.30" fill="#8ea4f4"/>
<rect x="41.87" y="618.0" width="17.97" height="1.2" fill="#9aaef5"/>
<rect x="41.87" y="622" width="17.97" height="3.30" fill="#a8bcf6"/>
<rect x="41.87" y="625" width="17.97" height="9.30" fill="#8ea4f4"/>
<rect x="41.87" y="625.0" width="17.97" height="1.5" fill="#98acf5"/>
<rect x="41.87" y="626.5" width="17.97" height="1.5" fill="#97abf5"/>
<rect x="41.87" y="628.0" width="17.97" height="2.2" fill="#829af3"/>
<rect x="41.87" y="634" width="17.97" height="4.30" fill="#a8bcf6"/>
<rect x="41.87" y="634.0" width="17.97" height="1.5" fill="#afc2f7"/>
<rect x="41.87" y="635.5" width="17.97" height="1.8" fill="#9fb5f5"/>
<rect x="41.87" y="638" width="17.97" height="4.30" fill="#8ea4f4"/>
<rect x="41.87" y="638.0" width="17.97" height="1.5" fill="#95aaf5"/>
<rect x="41.87" y="639.5" width="17.97" height="1.5" fill="#849cf3"/>
<rect x="41.87" y="642" width="17.97" height="3.30" fill="#5a78f2"/>
<rect x="41.87" y="645" width="17.97" height="11.30" fill="#8ea4f4"/>
<rect x="41.87" y="645.0" width="17.97" height="1.2" fill="#839bf3"/>
<rect x="41.87" y="646.2" width="17.97" height="1.5" fill="#829af3"/>
<rect x="41.87" y="647.7" width="17.97" height="1.2" fill="#8199f3"/>
<rect x="41.87" y="648.9" width="17.97" height="1.8" fill="#89a0f4"/>
<rect x="41.87" y="650.7" width="17.97" height="1.2" fill="#93a8f5"/>
<rect x="41.87" y="656" width="17.97" height="2.30" fill="#a8bcf6"/>
<rect x="41.87" y="658" width="17.97" height="2.30" fill="#d6def8"/>
<rect x="41.87" y="660" width="17.97" height="15.00" fill="#8ea4f4"/>
<rect x="41.87" y="660.0" width="17.97" height="2.2" fill="#879ef3"/>
<rect x="41.87" y="662.2" width="17.97" height="1.8" fill="#829af3"/>
<rect x="41.87" y="665.2" width="17.97" height="1.2" fill="#99adf5"/>
<rect x="41.87" y="666.4" width="17.97" height="1.8" fill="#819af3"/>
<rect x="41.87" y="668.2" width="17.97" height="1.5" fill="#97abf5"/>
<rect x="41.87" y="671.5" width="17.97" height="1.2" fill="#94a8f5"/>
<rect x="59.54" y="424" width="17.97" height="24.30" fill="#f2446a"/>
<rect x="59.54" y="428.4" width="17.97" height="1.5" fill="#f35477"/>
<rect x="59.54" y="429.9" width="17.97" height="2.2" fill="#f12f59"/>
<rect x="59.54" y="435.5" width="17.97" height="1.8" fill="#f35376"/>
<rect x="59.54" y="438.8" width="17.97" height="1.5" fill="#f12f5a"/>
<rect x="59.54" y="440.3" width="17.97" height="1.2" fill="#f35174"/>
<rect x="59.54" y="448" width="17.97" height="4.30" fill="#f2446a"/>
<rect x="59.54" y="448.0" width="17.97" height="1.5" fill="#f34d71"/>
<rect x="59.54" y="452" width="17.97" height="6.30" fill="#f66c8c"/>
<rect x="59.54" y="452.0" width="17.97" height="1.8" fill="#f66587"/>
<rect x="59.54" y="455.6" width="17.97" height="1.8" fill="#f77895"/>
<rect x="59.54" y="458" width="17.97" height="4.30" fill="#f7809f"/>
<rect x="59.54" y="458.0" width="17.97" height="1.5" fill="#f67496"/>
<rect x="59.54" y="462" width="17.97" height="8.30" fill="#f8a0b8"/>
<rect x="59.54" y="462.0" width="17.97" height="2.2" fill="#f8a6bc"/>
<rect x="59.54" y="464.2" width="17.97" height="2.2" fill="#f8a6bd"/>
<rect x="59.54" y="470" width="17.97" height="10.30" fill="#f7809f"/>
<rect x="59.54" y="470.0" width="17.97" height="1.8" fill="#f67899"/>
<rect x="59.54" y="471.8" width="17.97" height="1.8" fill="#f888a5"/>
<rect x="59.54" y="473.6" width="17.97" height="2.2" fill="#f88aa7"/>
<rect x="59.54" y="475.8" width="17.97" height="1.8" fill="#f787a4"/>
<rect x="59.54" y="480" width="17.97" height="4.30" fill="#f66c8c"/>
<rect x="59.54" y="484" width="17.97" height="4.30" fill="#f7809f"/>
<rect x="59.54" y="484.0" width="17.97" height="2.2" fill="#f77a9b"/>
<rect x="59.54" y="488" width="17.97" height="2.30" fill="#f8b0c6"/>
<rect x="59.54" y="490" width="17.97" height="2.30" fill="#f6f2f6"/>
<rect x="59.54" y="492" width="17.97" height="7.30" fill="#f8d4e0"/>
<rect x="59.54" y="496.4" width="17.97" height="2.2" fill="#f9d9e3"/>
<rect x="59.54" y="499" width="17.97" height="4.30" fill="#f8e0e8"/>
<rect x="59.54" y="503" width="17.97" height="6.30" fill="#f8b0c6"/>
<rect x="59.54" y="503.0" width="17.97" height="2.2" fill="#f9b8cc"/>
<rect x="59.54" y="505.2" width="17.97" height="1.5" fill="#f7a7c0"/>
<rect x="59.54" y="509" width="17.97" height="4.30" fill="#f20c28"/>
<rect x="59.54" y="509.0" width="17.97" height="1.2" fill="#f3243d"/>
<rect x="59.54" y="510.2" width="17.97" height="1.2" fill="#f31b36"/>
<rect x="59.54" y="513" width="17.97" height="4.30" fill="#f2446a"/>
<rect x="59.54" y="513.0" width="17.97" height="2.2" fill="#f1375f"/>
<rect x="59.54" y="517" width="17.97" height="3.80" fill="#f55479"/>
<rect x="59.54" y="517.0" width="17.97" height="1.8" fill="#f66183"/>
<rect x="59.54" y="520.5" width="17.97" height="2.80" fill="#c8d4f8"/>
<rect x="59.54" y="523" width="17.97" height="4.30" fill="#a8bcf6"/>
<rect x="59.54" y="523.0" width="17.97" height="1.2" fill="#9fb5f5"/>
<rect x="59.54" y="524.2" width="17.97" height="2.2" fill="#a0b6f5"/>
<rect x="59.54" y="527" width="17.97" height="2.30" fill="#d6def8"/>
<rect x="59.54" y="529" width="17.97" height="11.30" fill="#a8bcf6"/>
<rect x="59.54" y="529.0" width="17.97" height="1.5" fill="#acbff6"/>
<rect x="59.54" y="530.5" width="17.97" height="1.8" fill="#9fb5f5"/>
<rect x="59.54" y="532.3" width="17.97" height="1.5" fill="#a4b9f6"/>
<rect x="59.54" y="533.8" width="17.97" height="2.2" fill="#a2b7f5"/>
<rect x="59.54" y="536.0" width="17.97" height="1.5" fill="#a4b9f6"/>
<rect x="59.54" y="537.5" width="17.97" height="1.8" fill="#a2b7f5"/>
<rect x="59.54" y="540" width="17.97" height="6.30" fill="#8ea4f4"/>
<rect x="59.54" y="540.0" width="17.97" height="1.5" fill="#98acf5"/>
<rect x="59.54" y="541.5" width="17.97" height="2.2" fill="#93a8f5"/>
<rect x="59.54" y="543.7" width="17.97" height="1.5" fill="#9aaef5"/>
<rect x="59.54" y="546" width="17.97" height="11.30" fill="#a8bcf6"/>
<rect x="59.54" y="546.0" width="17.97" height="1.2" fill="#9eb5f5"/>
<rect x="59.54" y="549.0" width="17.97" height="2.2" fill="#9fb5f5"/>
<rect x="59.54" y="551.2" width="17.97" height="1.2" fill="#9eb4f5"/>
<rect x="59.54" y="552.4" width="17.97" height="1.5" fill="#b0c2f7"/>
<rect x="59.54" y="553.9" width="17.97" height="1.8" fill="#a0b6f5"/>
<rect x="59.54" y="557" width="17.97" height="2.30" fill="#f6f2f6"/>
<rect x="59.54" y="559" width="17.97" height="3.30" fill="#5a78f2"/>
<rect x="59.54" y="559.0" width="17.97" height="1.8" fill="#6480f3"/>
<rect x="59.54" y="562" width="17.97" height="4.30" fill="#8ea4f4"/>
<rect x="59.54" y="562.0" width="17.97" height="1.8" fill="#8199f3"/>
<rect x="59.54" y="563.8" width="17.97" height="1.5" fill="#879ff3"/>
<rect x="59.54" y="566" width="17.97" height="4.30" fill="#5a78f2"/>
<rect x="59.54" y="567.2" width="17.97" height="2.2" fill="#4f6ff1"/>
<rect x="59.54" y="570" width="17.97" height="5.30" fill="#8ea4f4"/>
<rect x="59.54" y="575" width="17.97" height="2.30" fill="#5a78f2"/>
<rect x="59.54" y="577" width="17.97" height="3.30" fill="#f6f2f6"/>
<rect x="59.54" y="577.0" width="17.97" height="2.2" fill="#f7f3f7"/>
<rect x="59.54" y="580" width="17.97" height="10.30" fill="#8ea4f4"/>
<rect x="59.54" y="580.0" width="17.97" height="1.8" fill="#9baef5"/>
<rect x="59.54" y="583.3" width="17.97" height="1.5" fill="#95aaf5"/>
<rect x="59.54" y="584.8" width="17.97" height="1.2" fill="#89a0f3"/>
<rect x="59.54" y="586.0" width="17.97" height="2.2" fill="#93a8f4"/>
<rect x="59.54" y="590" width="17.97" height="4.30" fill="#d6def8"/>
<rect x="59.54" y="590.0" width="17.97" height="1.8" fill="#d4dcf8"/>
<rect x="59.54" y="594" width="17.97" height="4.30" fill="#8ea4f4"/>
<rect x="59.54" y="594.0" width="17.97" height="1.2" fill="#93a8f4"/>
<rect x="59.54" y="595.2" width="17.97" height="1.2" fill="#839bf3"/>
<rect x="59.54" y="598" width="17.97" height="2.30" fill="#a8bcf6"/>
<rect x="59.54" y="600" width="17.97" height="2.30" fill="#f6f2f6"/>
<rect x="59.54" y="602" width="17.97" height="4.30" fill="#8ea4f4"/>
<rect x="59.54" y="603.8" width="17.97" height="1.8" fill="#819af3"/>
<rect x="59.54" y="606" width="17.97" height="6.30" fill="#a8bcf6"/>
<rect x="59.54" y="606.0" width="17.97" height="1.2" fill="#abbff6"/>
<rect x="59.54" y="607.2" width="17.97" height="1.8" fill="#aec1f7"/>
<rect x="59.54" y="609.0" width="17.97" height="2.2" fill="#b1c3f7"/>
<rect x="59.54" y="612" width="17.97" height="4.30" fill="#8ea4f4"/>
<rect x="59.54" y="612.0" width="17.97" height="1.2" fill="#849cf3"/>
<rect x="59.54" y="616" width="17.97" height="6.30" fill="#4666f2"/>
<rect x="59.54" y="616.0" width="17.97" height="1.5" fill="#4f6ef3"/>
<rect x="59.54" y="617.5" width="17.97" height="1.8" fill="#516ff3"/>
<rect x="59.54" y="622" width="17.97" height="2.30" fill="#8ea4f4"/>
<rect x="59.54" y="624" width="17.97" height="2.30" fill="#5a78f2"/>
<rect x="59.54" y="626" width="17.97" height="4.30" fill="#a8bcf6"/>
<rect x="59.54" y="626.0" width="17.97" height="1.8" fill="#b1c3f7"/>
<rect x="59.54" y="627.8" width="17.97" height="1.8" fill="#acbff6"/>
<rect x="59.54" y="630" width="17.97" height="4.30" fill="#8ea4f4"/>
<rect x="59.54" y="630.0" width="17.97" height="2.2" fill="#96aaf5"/>
<rect x="59.54" y="634" width="17.97" height="2.30" fill="#5a78f2"/>
<rect x="59.54" y="636" width="17.97" height="4.30" fill="#8ea4f4"/>
<rect x="59.54" y="636.0" width="17.97" height="1.5" fill="#869ef3"/>
<rect x="59.54" y="637.5" width="17.97" height="1.2" fill="#98acf5"/>
<rect x="59.54" y="640" width="17.97" height="3.30" fill="#a8bcf6"/>
<rect x="59.54" y="643" width="17.97" height="2.30" fill="#d6def8"/>
<rect x="59.54" y="645" width="17.97" height="9.30" fill="#8ea4f4"/>
<rect x="59.54" y="645.0" width="17.97" height="2.2" fill="#879ef3"/>
<rect x="59.54" y="649.0" width="17.97" height="2.2" fill="#8199f3"/>
<rect x="59.54" y="651.2" width="17.97" height="1.2" fill="#96abf5"/>
<rect x="59.54" y="654" width="17.97" height="4.30" fill="#5a78f2"/>
<rect x="59.54" y="658" width="17.97" height="2.30" fill="#d6def8"/>
<rect x="59.54" y="660" width="17.97" height="15.00" fill="#8ea4f4"/>
<rect x="59.54" y="660.0" width="17.97" height="1.8" fill="#869ef3"/>
<rect x="59.54" y="661.8" width="17.97" height="1.8" fill="#94a9f5"/>
<rect x="59.54" y="663.6" width="17.97" height="1.2" fill="#88a0f3"/>
<rect x="59.54" y="664.8" width="17.97" height="2.2" fill="#9aaef5"/>
<rect x="59.54" y="667.0" width="17.97" height="1.2" fill="#829af3"/>
<rect x="59.54" y="668.2" width="17.97" height="1.5" fill="#829af3"/>
<rect x="59.54" y="670.9" width="17.97" height="1.2" fill="#94a9f5"/>
<rect x="59.54" y="672.1" width="17.97" height="2.2" fill="#849cf3"/>
<rect x="77.21" y="424" width="17.97" height="10.30" fill="#8ea4f4"/>
<rect x="77.21" y="427.7" width="17.97" height="1.5" fill="#89a0f4"/>
<rect x="77.21" y="429.2" width="17.97" height="2.2" fill="#9aaef5"/>
<rect x="77.21" y="431.4" width="17.97" height="1.5" fill="#95aaf5"/>
<rect x="77.21" y="434" width="17.97" height="3.30" fill="#9cb0f4"/>
<rect x="77.21" y="437" width="17.97" height="3.30" fill="#7088f2"/>
<rect x="77.21" y="437.0" width="17.97" height="2.2" fill="#7f94f3"/>
<rect x="77.21" y="440" width="17.97" height="4.30" fill="#a8bcf6"/>
<rect x="77.21" y="440.0" width="17.97" height="2.2" fill="#a3b8f6"/>
<rect x="77.21" y="444" width="17.97" height="12.30" fill="#8ea4f4"/>
<rect x="77.21" y="444.0" width="17.97" height="1.2" fill="#96aaf5"/>
<rect x="77.21" y="445.2" width="17.97" height="1.5" fill="#849cf3"/>
<rect x="77.21" y="446.7" width="17.97" height="2.2" fill="#8199f3"/>
<rect x="77.21" y="448.9" width="17.97" height="1.8" fill="#829bf3"/>
<rect x="77.21" y="451.9" width="17.97" height="1.2" fill="#96aaf5"/>
<rect x="77.21" y="453.1" width="17.97" height="2.2" fill="#889ff3"/>
<rect x="77.21" y="456" width="17.97" height="4.30" fill="#5a78f2"/>
<rect x="77.21" y="456.0" width="17.97" height="1.5" fill="#6480f3"/>
<rect x="77.21" y="457.5" width="17.97" height="1.2" fill="#5271f1"/>
<rect x="77.21" y="460" width="17.97" height="8.30" fill="#8ea4f4"/>
<rect x="77.21" y="460.0" width="17.97" height="2.2" fill="#96aaf5"/>
<rect x="77.21" y="462.2" width="17.97" height="2.2" fill="#96aaf5"/>
<rect x="77.21" y="464.4" width="17.97" height="2.2" fill="#93a8f4"/>
<rect x="77.21" y="468" width="17.97" height="6.30" fill="#a8bcf6"/>
<rect x="77.21" y="474" width="17.97" height="4.30" fill="#5a78f2"/>
<rect x="77.21" y="478" width="17.97" height="12.30" fill="#8ea4f4"/>
<rect x="77.21" y="480.2" width="17.97" height="2.2" fill="#849cf3"/>
<rect x="77.21" y="482.4" width="17.97" height="1.2" fill="#879ff3"/>
<rect x="77.21" y="483.6" width="17.97" height="1.8" fill="#95aaf5"/>
<rect x="77.21" y="487.6" width="17.97" height="1.8" fill="#95aaf5"/>
<rect x="77.21" y="490" width="17.97" height="4.30" fill="#a8bcf6"/>
<rect x="77.21" y="494" width="17.97" height="3.30" fill="#8ea4f4"/>
<rect x="77.21" y="494.0" width="17.97" height="2.2" fill="#9baff5"/>
<rect x="77.21" y="497" width="17.97" height="2.30" fill="#5a78f2"/>
<rect x="77.21" y="499" width="17.97" height="3.30" fill="#a8bcf6"/>
<rect x="77.21" y="502" width="17.97" height="2.30" fill="#d6def8"/>
<rect x="77.21" y="504" width="17.97" height="3.30" fill="#5a78f2"/>
<rect x="77.21" y="504.0" width="17.97" height="2.2" fill="#6480f3"/>
<rect x="77.21" y="507" width="17.97" height="3.30" fill="#8ea4f4"/>
<rect x="77.21" y="507.0" width="17.97" height="2.2" fill="#96aaf5"/>
<rect x="77.21" y="510" width="17.97" height="4.30" fill="#a8bcf6"/>
<rect x="77.21" y="510.0" width="17.97" height="2.2" fill="#acbff6"/>
<rect x="77.21" y="514" width="17.97" height="6.80" fill="#8ea4f4"/>
<rect x="77.21" y="514.0" width="17.97" height="1.5" fill="#879ff3"/>
<rect x="77.21" y="515.5" width="17.97" height="2.2" fill="#9aaef5"/>
<rect x="77.21" y="517.7" width="17.97" height="1.2" fill="#859df3"/>
<rect x="77.21" y="520.5" width="17.97" height="3.80" fill="#f8d4e0"/>
<rect x="77.21" y="520.5" width="17.97" height="2.2" fill="#f9d8e3"/>
<rect x="77.21" y="524" width="17.97" height="3.30" fill="#f66c8c"/>
<rect x="77.21" y="524.0" width="17.97" height="1.8" fill="#f56385"/>
<rect x="77.21" y="527" width="17.97" height="5.30" fill="#f6f2f6"/>
<rect x="77.21" y="527.0" width="17.97" height="2.2" fill="#f7f3f7"/>
<rect x="77.21" y="532" width="17.97" height="6.30" fill="#e8ecf8"/>
<rect x="77.21" y="532.0" width="17.97" height="1.2" fill="#eaeef9"/>
<rect x="77.21" y="533.2" width="17.97" height="1.8" fill="#e6ebf7"/>
<rect x="77.21" y="535.0" width="17.97" height="1.2" fill="#e9edf8"/>
<rect x="77.21" y="538" width="17.97" height="2.30" fill="#f8d4e0"/>
<rect x="77.21" y="540" width="17.97" height="2.30" fill="#f8c4d4"/>
<rect x="77.21" y="542" width="17.97" height="6.30" fill="#f8b0c6"/>
<rect x="77.21" y="543.8" width="17.97" height="2.2" fill="#f8b3c8"/>
<rect x="77.21" y="548" width="17.97" height="4.30" fill="#f6f2f6"/>
<rect x="77.21" y="552" width="17.97" height="2.30" fill="#f8b0c6"/>
<rect x="77.21" y="554" width="17.97" height="2.30" fill="#f8d4e0"/>
<rect x="77.21" y="556" width="17.97" height="1.30" fill="#e8ecf8"/>
<rect x="77.21" y="557" width="17.97" height="6.30" fill="#f6f2f6"/>
<rect x="77.21" y="557.0" width="17.97" height="1.8" fill="#f5f1f5"/>
<rect x="77.21" y="558.8" width="17.97" height="2.2" fill="#f6f1f6"/>
<rect x="77.21" y="563" width="17.97" height="3.30" fill="#f8b0c6"/>
<rect x="77.21" y="566" width="17.97" height="2.30" fill="#f8d4e0"/>
<rect x="77.21" y="568" width="17.97" height="2.30" fill="#f7809f"/>
<rect x="77.21" y="570" width="17.97" height="4.30" fill="#f66c8c"/>
<rect x="77.21" y="574" width="17.97" height="3.30" fill="#f8b0c6"/>
<rect x="77.21" y="577" width="17.97" height="3.30" fill="#f7809f"/>
<rect x="77.21" y="580" width="17.97" height="4.30" fill="#f55479"/>
<rect x="77.21" y="580.0" width="17.97" height="1.2" fill="#f66587"/>
<rect x="77.21" y="584" width="17.97" height="2.30" fill="#f8d4e0"/>
<rect x="77.21" y="586" width="17.97" height="4.30" fill="#f8b0c6"/>
<rect x="77.21" y="586.0" width="17.97" height="1.5" fill="#f8acc3"/>
<rect x="77.21" y="590" width="17.97" height="4.30" fill="#f7809f"/>
<rect x="77.21" y="590.0" width="17.97" height="1.8" fill="#f88ba7"/>
<rect x="77.21" y="594" width="17.97" height="2.30" fill="#f8b0c6"/>
<rect x="77.21" y="596" width="17.97" height="4.30" fill="#f8d4e0"/>
<rect x="77.21" y="600" width="17.97" height="4.30" fill="#f8b0c6"/>
<rect x="77.21" y="600.0" width="17.97" height="1.5" fill="#f8abc2"/>
<rect x="77.21" y="601.5" width="17.97" height="1.5" fill="#f8b6ca"/>
<rect x="77.21" y="604" width="17.97" height="2.30" fill="#f8d4e0"/>
<rect x="77.21" y="606" width="17.97" height="10.30" fill="#f6f2f6"/>
<rect x="77.21" y="606.0" width="17.97" height="1.2" fill="#f7f3f7"/>
<rect x="77.21" y="608.4" width="17.97" height="1.2" fill="#f5f1f5"/>
<rect x="77.21" y="609.6" width="17.97" height="1.8" fill="#f7f3f7"/>
<rect x="77.21" y="611.4" width="17.97" height="1.2" fill="#f6f1f6"/>
<rect x="77.21" y="616" width="17.97" height="4.30" fill="#f7809f"/>
<rect x="77.21" y="616.0" width="17.97" height="1.8" fill="#f67597"/>
<rect x="77.21" y="620" width="17.97" height="2.30" fill="#f66c8c"/>
<rect x="77.21" y="622" width="17.97" height="2.30" fill="#f8b0c6"/>
<rect x="77.21" y="624" width="17.97" height="2.30" fill="#f7809f"/>
<rect x="77.21" y="626" width="17.97" height="2.30" fill="#f6f2f6"/>
<rect x="77.21" y="628" width="17.97" height="4.30" fill="#f8b0c6"/>
<rect x="77.21" y="628.0" width="17.97" height="1.8" fill="#f8acc3"/>
<rect x="77.21" y="629.8" width="17.97" height="1.8" fill="#f7aac2"/>
<rect x="77.21" y="632" width="17.97" height="4.30" fill="#f7809f"/>
<rect x="77.21" y="632.0" width="17.97" height="1.5" fill="#f67597"/>
<rect x="77.21" y="633.5" width="17.97" height="1.8" fill="#f88eaa"/>
<rect x="77.21" y="636" width="17.97" height="2.30" fill="#f8b0c6"/>
<rect x="77.21" y="638" width="17.97" height="2.30" fill="#f66c8c"/>
<rect x="77.21" y="640" width="17.97" height="2.30" fill="#f55479"/>
<rect x="77.21" y="642" width="17.97" height="4.30" fill="#f2446a"/>
<rect x="77.21" y="643.8" width="17.97" height="1.8" fill="#f35074"/>
<rect x="77.21" y="646" width="17.97" height="3.30" fill="#f55479"/>
<rect x="77.21" y="649" width="17.97" height="3.30" fill="#f66c8c"/>
<rect x="77.21" y="649.0" width="17.97" height="1.8" fill="#f77896"/>
<rect x="77.21" y="652" width="17.97" height="8.30" fill="#f2446a"/>
<rect x="77.21" y="652.0" width="17.97" height="1.8" fill="#f13760"/>
<rect x="77.21" y="653.8" width="17.97" height="2.2" fill="#f35376"/>
<rect x="77.21" y="656.0" width="17.97" height="1.5" fill="#f1315b"/>
<rect x="77.21" y="660" width="17.97" height="4.30" fill="#f55479"/>
<rect x="77.21" y="660.0" width="17.97" height="1.8" fill="#f66082"/>
<rect x="77.21" y="661.8" width="17.97" height="1.8" fill="#f4456d"/>
<rect x="77.21" y="664" width="17.97" height="2.30" fill="#f8b0c6"/>
<rect x="77.21" y="666" width="17.97" height="9.00" fill="#f66c8c"/>
<rect x="77.21" y="667.5" width="17.97" height="1.2" fill="#f77693"/>
<rect x="77.21" y="668.7" width="17.97" height="1.2" fill="#f56082"/>
<rect x="77.21" y="669.9" width="17.97" height="1.2" fill="#f56385"/>
<rect x="77.21" y="671.1" width="17.97" height="1.2" fill="#f77a97"/>
<rect x="94.88" y="424" width="17.97" height="11.30" fill="#a8bcf6"/>
<rect x="94.88" y="426.2" width="17.97" height="2.2" fill="#b1c3f7"/>
<rect x="94.88" y="431.1" width="17.97" height="1.2" fill="#a5b9f6"/>
<rect x="94.88" y="432.3" width="17.97" height="1.8" fill="#b1c3f7"/>
<rect x="94.88" y="435" width="17.97" height="2.30" fill="#d6def8"/>
<rect x="94.88" y="437" width="17.97" height="5.30" fill="#a8bcf6"/>
<rect x="94.88" y="437.0" width="17.97" height="1.8" fill="#aec0f7"/>
<rect x="94.88" y="442" width="17.97" height="4.30" fill="#b8c8f8"/>
<rect x="94.88" y="442.0" width="17.97" height="1.8" fill="#c0cff9"/>
<rect x="94.88" y="446" width="17.97" height="6.30" fill="#a8bcf6"/>
<rect x="94.88" y="446.0" width="17.97" height="1.8" fill="#acbff6"/>
<rect x="94.88" y="447.8" width="17.97" height="1.2" fill="#b2c4f7"/>
<rect x="94.88" y="452" width="17.97" height="2.30" fill="#d6def8"/>
<rect x="94.88" y="454" width="17.97" height="6.30" fill="#a8bcf6"/>
<rect x="94.88" y="454.0" width="17.97" height="1.5" fill="#adc0f6"/>
<rect x="94.88" y="455.5" width="17.97" height="1.2" fill="#afc1f7"/>
<rect x="94.88" y="460" width="17.97" height="2.30" fill="#c8d4f8"/>
<rect x="94.88" y="462" width="17.97" height="6.30" fill="#a8bcf6"/>
<rect x="94.88" y="462.0" width="17.97" height="1.5" fill="#acbff6"/>
<rect x="94.88" y="463.5" width="17.97" height="2.2" fill="#a4b9f6"/>
<rect x="94.88" y="468" width="17.97" height="7.30" fill="#c8d4f8"/>
<rect x="94.88" y="472.0" width="17.97" height="1.5" fill="#cbd6f8"/>
<rect x="94.88" y="475" width="17.97" height="22.30" fill="#a8bcf6"/>
<rect x="94.88" y="475.0" width="17.97" height="1.8" fill="#acbff6"/>
<rect x="94.88" y="481.0" width="17.97" height="1.8" fill="#a0b6f5"/>
<rect x="94.88" y="482.8" width="17.97" height="2.2" fill="#a4b9f6"/>
<rect x="94.88" y="485.0" width="17.97" height="2.2" fill="#b1c3f7"/>
<rect x="94.88" y="487.2" width="17.97" height="1.5" fill="#a0b6f5"/>
<rect x="94.88" y="488.7" width="17.97" height="1.5" fill="#b1c3f7"/>
<rect x="94.88" y="493.5" width="17.97" height="1.8" fill="#b2c3f7"/>
<rect x="94.88" y="497" width="17.97" height="5.30" fill="#8ea4f4"/>
<rect x="94.88" y="502" width="17.97" height="2.30" fill="#a8bcf6"/>
<rect x="94.88" y="504" width="17.97" height="4.30" fill="#d6def8"/>
<rect x="94.88" y="504.0" width="17.97" height="1.2" fill="#dbe2f9"/>
<rect x="94.88" y="505.2" width="17.97" height="1.5" fill="#d3dcf7"/>
<rect x="94.88" y="508" width="17.97" height="3.30" fill="#a8bcf6"/>
<rect x="94.88" y="511" width="17.97" height="3.30" fill="#9cb0f4"/>
<rect x="94.88" y="514" width="17.97" height="2.30" fill="#a8bcf6"/>
<rect x="94.88" y="516" width="17.97" height="4.80" fill="#8ea4f4"/>
<rect x="94.88" y="517.2" width="17.97" height="1.5" fill="#9aadf5"/>
<rect x="94.88" y="520.5" width="17.97" height="9.80" fill="#f6f2f6"/>
<rect x="94.88" y="520.5" width="17.97" height="1.5" fill="#f6f1f6"/>
<rect x="94.88" y="522.0" width="17.97" height="1.5" fill="#f5f1f5"/>
<rect x="94.88" y="523.5" width="17.97" height="1.8" fill="#f5f0f5"/>
<rect x="94.88" y="525.3" width="17.97" height="1.2" fill="#f7f4f7"/>
<rect x="94.88" y="530" width="17.97" height="4.30" fill="#f8d4e0"/>
<rect x="94.88" y="530.0" width="17.97" height="1.5" fill="#f8d1de"/>
<rect x="94.88" y="531.5" width="17.97" height="1.8" fill="#f9d7e2"/>
<rect x="94.88" y="534" width="17.97" height="2.30" fill="#f8c4d4"/>
<rect x="94.88" y="536" width="17.97" height="4.30" fill="#e8ecf8"/>
<rect x="94.88" y="536.0" width="17.97" height="1.2" fill="#e5eaf7"/>
<rect x="94.88" y="537.2" width="17.97" height="1.5" fill="#e9edf8"/>
<rect x="94.88" y="540" width="17.97" height="3.30" fill="#f6f2f6"/>
<rect x="94.88" y="540.0" width="17.97" height="1.5" fill="#f5f1f5"/>
<rect x="94.88" y="543" width="17.97" height="3.30" fill="#e8ecf8"/>
<rect x="94.88" y="546" width="17.97" height="2.30" fill="#f6f2f6"/>
<rect x="94.88" y="548" width="17.97" height="5.30" fill="#f8b0c6"/>
<rect x="94.88" y="548.0" width="17.97" height="1.5" fill="#f8aac2"/>
<rect x="94.88" y="549.5" width="17.97" height="1.2" fill="#f8abc3"/>
<rect x="94.88" y="553" width="17.97" height="3.30" fill="#f8d4e0"/>
<rect x="94.88" y="553.0" width="17.97" height="1.8" fill="#f7d1de"/>
<rect x="94.88" y="556" width="17.97" height="4.30" fill="#f6f2f6"/>
<rect x="94.88" y="556.0" width="17.97" height="1.5" fill="#f6f3f6"/>
<rect x="94.88" y="560" width="17.97" height="5.30" fill="#f8b0c6"/>
<rect x="94.88" y="560.0" width="17.97" height="1.2" fill="#f7a9c1"/>
<rect x="94.88" y="565" width="17.97" height="3.30" fill="#f7809f"/>
<rect x="94.88" y="568" width="17.97" height="4.30" fill="#f8d4e0"/>
<rect x="94.88" y="569.5" width="17.97" height="1.2" fill="#f8d7e2"/>
<rect x="94.88" y="572" width="17.97" height="3.30" fill="#f6f2f6"/>
<rect x="94.88" y="572.0" width="17.97" height="1.8" fill="#f6f3f6"/>
<rect x="94.88" y="575" width="17.97" height="3.30" fill="#e8ecf8"/>
<rect x="94.88" y="575.0" width="17.97" height="1.5" fill="#e7ebf8"/>
<rect x="94.88" y="578" width="17.97" height="4.30" fill="#f6f2f6"/>
<rect x="94.88" y="578.0" width="17.97" height="1.2" fill="#f7f3f7"/>
<rect x="94.88" y="582" width="17.97" height="3.30" fill="#f8d4e0"/>
<rect x="94.88" y="582.0" width="17.97" height="1.2" fill="#f7cfdc"/>
<rect x="94.88" y="585" width="17.97" height="3.30" fill="#f8b0c6"/>
<rect x="94.88" y="585.0" width="17.97" height="2.2" fill="#f7a8c0"/>
<rect x="94.88" y="588" width="17.97" height="4.30" fill="#f7809f"/>
<rect x="94.88" y="592" width="17.97" height="4.30" fill="#f66c8c"/>
<rect x="94.88" y="592.0" width="17.97" height="2.2" fill="#f77996"/>
<rect x="94.88" y="596" width="17.97" height="4.30" fill="#f7809f"/>
<rect x="94.88" y="596.0" width="17.97" height="1.8" fill="#f88ea9"/>
<rect x="94.88" y="600" width="17.97" height="4.30" fill="#f8d4e0"/>
<rect x="94.88" y="601.8" width="17.97" height="2.2" fill="#f9d8e3"/>
<rect x="94.88" y="604" width="17.97" height="4.30" fill="#f8b0c6"/>
<rect x="94.88" y="604.0" width="17.97" height="1.5" fill="#f8b6ca"/>
<rect x="94.88" y="608" width="17.97" height="2.30" fill="#f8d4e0"/>
<rect x="94.88" y="610" width="17.97" height="4.30" fill="#f8b0c6"/>
<rect x="94.88" y="611.5" width="17.97" height="2.2" fill="#f8acc3"/>
<rect x="94.88" y="614" width="17.97" height="2.30" fill="#f8d4e0"/>
<rect x="94.88" y="616" width="17.97" height="8.30" fill="#f8b0c6"/>
<rect x="94.88" y="617.2" width="17.97" height="1.2" fill="#f9b7cb"/>
<rect x="94.88" y="624" width="17.97" height="4.30" fill="#f02c50"/>
<rect x="94.88" y="624.0" width="17.97" height="1.5" fill="#ef1f45"/>
<rect x="94.88" y="628" width="17.97" height="6.30" fill="#f2446a"/>
<rect x="94.88" y="628.0" width="17.97" height="1.2" fill="#f35477"/>
<rect x="94.88" y="630.7" width="17.97" height="1.2" fill="#f35073"/>
<rect x="94.88" y="634" width="17.97" height="2.30" fill="#e8ecf8"/>
<rect x="94.88" y="636" width="17.97" height="4.30" fill="#f8d4e0"/>
<rect x="94.88" y="636.0" width="17.97" height="2.2" fill="#f9d8e3"/>
<rect x="94.88" y="640" width="17.97" height="4.30" fill="#f8b0c6"/>
<rect x="94.88" y="640.0" width="17.97" height="1.2" fill="#f9b7cb"/>
<rect x="94.88" y="644" width="17.97" height="2.30" fill="#f8d4e0"/>
<rect x="94.88" y="646" width="17.97" height="2.30" fill="#f66c8c"/>
<rect x="94.88" y="648" width="17.97" height="4.30" fill="#f7809f"/>
<rect x="94.88" y="649.2" width="17.97" height="1.5" fill="#f787a4"/>
<rect x="94.88" y="652" width="17.97" height="4.30" fill="#f8b0c6"/>
<rect x="94.88" y="653.5" width="17.97" height="2.2" fill="#f9b6ca"/>
<rect x="94.88" y="656" width="17.97" height="4.30" fill="#f66c8c"/>
<rect x="94.88" y="656.0" width="17.97" height="1.5" fill="#f77b98"/>
<rect x="94.88" y="660" width="17.97" height="4.30" fill="#f2446a"/>
<rect x="94.88" y="664" width="17.97" height="6.30" fill="#f8b0c6"/>
<rect x="94.88" y="665.2" width="17.97" height="2.2" fill="#f8b4c9"/>
<rect x="94.88" y="667.4" width="17.97" height="1.2" fill="#f9b6ca"/>
<rect x="94.88" y="670" width="17.97" height="5.00" fill="#f7809f"/>
<rect x="94.88" y="670.0" width="17.97" height="1.8" fill="#f67395"/>
<rect x="94.88" y="671.8" width="17.97" height="2.2" fill="#f67496"/>
<rect x="112.55" y="424" width="17.97" height="6.30" fill="#a8bcf6"/>
<rect x="112.55" y="424.0" width="17.97" height="2.2" fill="#acbff6"/>
<rect x="112.55" y="426.2" width="17.97" height="1.8" fill="#9fb5f5"/>
<rect x="112.55" y="430" width="17.97" height="3.30" fill="#8ea4f4"/>
<rect x="112.55" y="430.0" width="17.97" height="1.5" fill="#97abf5"/>
<rect x="112.55" y="433" width="17.97" height="2.30" fill="#5a78f2"/>
<rect x="112.55" y="435" width="17.97" height="9.30" fill="#8ea4f4"/>
<rect x="112.55" y="435.0" width="17.97" height="1.8" fill="#829bf3"/>
<rect x="112.55" y="436.8" width="17.97" height="1.2" fill="#839bf3"/>
<rect x="112.55" y="438.0" width="17.97" height="1.2" fill="#94a9f5"/>
<rect x="112.55" y="439.2" width="17.97" height="1.8" fill="#94a9f5"/>
<rect x="112.55" y="441.0" width="17.97" height="1.2" fill="#89a0f3"/>
<rect x="112.55" y="444" width="17.97" height="4.30" fill="#a8bcf6"/>
<rect x="112.55" y="445.5" width="17.97" height="1.8" fill="#a2b8f5"/>
<rect x="112.55" y="448" width="17.97" height="2.30" fill="#5a78f2"/>
<rect x="112.55" y="450" width="17.97" height="3.30" fill="#8ea4f4"/>
<rect x="112.55" y="453" width="17.97" height="3.30" fill="#4666f2"/>
<rect x="112.55" y="453.0" width="17.97" height="1.2" fill="#3b5df1"/>
<rect x="112.55" y="456" width="17.97" height="2.30" fill="#a8bcf6"/>
<rect x="112.55" y="458" width="17.97" height="2.30" fill="#8ea4f4"/>
<rect x="112.55" y="460" width="17.97" height="3.30" fill="#5a78f2"/>
<rect x="112.55" y="463" width="17.97" height="3.30" fill="#8ea4f4"/>
<rect x="112.55" y="463.0" width="17.97" height="1.8" fill="#8099f3"/>
<rect x="112.55" y="466" width="17.97" height="3.30" fill="#5a78f2"/>
<rect x="112.55" y="469" width="17.97" height="3.30" fill="#8ea4f4"/>
<rect x="112.55" y="469.0" width="17.97" height="1.5" fill="#95a9f5"/>
<rect x="112.55" y="472" width="17.97" height="4.30" fill="#a8bcf6"/>
<rect x="112.55" y="476" width="17.97" height="5.30" fill="#8ea4f4"/>
<rect x="112.55" y="476.0" width="17.97" height="1.5" fill="#869ef3"/>
<rect x="112.55" y="478.7" width="17.97" height="1.8" fill="#96aaf5"/>
<rect x="112.55" y="481" width="17.97" height="3.30" fill="#d6def8"/>
<rect x="112.55" y="481.0" width="17.97" height="2.2" fill="#d9e0f9"/>
<rect x="112.55" y="484" width="17.97" height="10.30" fill="#8ea4f4"/>
<rect x="112.55" y="484.0" width="17.97" height="2.2" fill="#89a0f4"/>
<rect x="112.55" y="486.2" width="17.97" height="1.2" fill="#94a9f5"/>
<rect x="112.55" y="490.7" width="17.97" height="1.8" fill="#96abf5"/>
<rect x="112.55" y="494" width="17.97" height="3.30" fill="#a8bcf6"/>
<rect x="112.55" y="494.0" width="17.97" height="1.8" fill="#a3b8f5"/>
<rect x="112.55" y="497" width="17.97" height="6.30" fill="#8ea4f4"/>
<rect x="112.55" y="497.0" width="17.97" height="1.2" fill="#9caff5"/>
<rect x="112.55" y="503" width="17.97" height="5.30" fill="#5a78f2"/>
<rect x="112.55" y="503.0" width="17.97" height="1.2" fill="#6b86f3"/>
<rect x="112.55" y="504.2" width="17.97" height="1.5" fill="#4e6ef1"/>
<rect x="112.55" y="505.7" width="17.97" height="1.5" fill="#5171f1"/>
<rect x="112.55" y="508" width="17.97" height="4.30" fill="#8ea4f4"/>
<rect x="112.55" y="508.0" width="17.97" height="2.2" fill="#829af3"/>
<rect x="112.55" y="512" width="17.97" height="3.30" fill="#a8bcf6"/>
<rect x="112.55" y="512.0" width="17.97" height="2.2" fill="#adc0f7"/>
<rect x="112.55" y="515" width="17.97" height="5.80" fill="#8ea4f4"/>
<rect x="112.55" y="515.0" width="17.97" height="2.2" fill="#95aaf5"/>
<rect x="112.55" y="520.5" width="17.97" height="24.80" fill="#f20c28"/>
<rect x="112.55" y="520.5" width="17.97" height="1.5" fill="#f10013"/>
<rect x="112.55" y="522.0" width="17.97" height="1.5" fill="#f3223b"/>
<rect x="112.55" y="523.5" width="17.97" height="1.5" fill="#f1011e"/>
<rect x="112.55" y="530.2" width="17.97" height="1.8" fill="#f10010"/>
<rect x="112.55" y="533.2" width="17.97" height="1.2" fill="#f3213b"/>
<rect x="112.55" y="534.4" width="17.97" height="1.8" fill="#f1011f"/>
<rect x="112.55" y="536.2" width="17.97" height="2.2" fill="#f10016"/>
<rect x="112.55" y="538.4" width="17.97" height="1.8" fill="#f10011"/>
<rect x="112.55" y="542.6" width="17.97" height="1.2" fill="#f32740"/>
<rect x="112.55" y="545" width="17.97" height="5.30" fill="#f02c50"/>
<rect x="112.55" y="545.0" width="17.97" height="1.5" fill="#ef1a41"/>
<rect x="112.55" y="550" width="17.97" height="8.30" fill="#f20c28"/>
<rect x="112.55" y="550.0" width="17.97" height="1.5" fill="#f3243d"/>
<rect x="112.55" y="551.5" width="17.97" height="1.8" fill="#f10012"/>
<rect x="112.55" y="553.3" width="17.97" height="1.8" fill="#f1021f"/>
<rect x="112.55" y="555.1" width="17.97" height="1.8" fill="#f10014"/>
<rect x="112.55" y="558" width="17.97" height="4.30" fill="#f2446a"/>
<rect x="112.55" y="558.0" width="17.97" height="1.5" fill="#f1345d"/>
<rect x="112.55" y="559.5" width="17.97" height="1.8" fill="#f34e72"/>
<rect x="112.55" y="562" width="17.97" height="4.30" fill="#f55479"/>
<rect x="112.55" y="563.8" width="17.97" height="2.2" fill="#f66082"/>
<rect x="112.55" y="566" width="17.97" height="2.30" fill="#f20c28"/>
<rect x="112.55" y="568" width="17.97" height="4.30" fill="#f2446a"/>
<rect x="112.55" y="572" width="17.97" height="4.30" fill="#f20c28"/>
<rect x="112.55" y="576" width="17.97" height="6.30" fill="#f66c8c"/>
<rect x="112.55" y="579.0" width="17.97" height="1.2" fill="#f55b7e"/>
<rect x="112.55" y="582" width="17.97" height="10.30" fill="#f7809f"/>
<rect x="112.55" y="582.0" width="17.97" height="1.8" fill="#f88da9"/>
<rect x="112.55" y="583.8" width="17.97" height="2.2" fill="#f67798"/>
<rect x="112.55" y="586.0" width="17.97" height="2.2" fill="#f67294"/>
<rect x="112.55" y="588.2" width="17.97" height="2.2" fill="#f67395"/>
<rect x="112.55" y="592" width="17.97" height="12.30" fill="#f2446a"/>
<rect x="112.55" y="592.0" width="17.97" height="2.2" fill="#f1345d"/>
<rect x="112.55" y="594.2" width="17.97" height="1.2" fill="#f02e58"/>
<rect x="112.55" y="595.4" width="17.97" height="1.2" fill="#f13b63"/>
<rect x="112.55" y="596.6" width="17.97" height="1.2" fill="#f12f59"/>
<rect x="112.55" y="599.3" width="17.97" height="2.2" fill="#f35678"/>
<rect x="112.55" y="601.5" width="17.97" height="1.5" fill="#f13861"/>
<rect x="112.55" y="604" width="17.97" height="4.30" fill="#f66c8c"/>
<rect x="112.55" y="608" width="17.97" height="4.30" fill="#f2446a"/>
<rect x="112.55" y="609.8" width="17.97" height="1.5" fill="#f13a62"/>
<rect x="112.55" y="612" width="17.97" height="4.30" fill="#f20c28"/>
<rect x="112.55" y="612.0" width="17.97" height="1.2" fill="#f10014"/>
<rect x="112.55" y="613.2" width="17.97" height="2.2" fill="#f3213a"/>
<rect x="112.55" y="616" width="17.97" height="8.30" fill="#f66c8c"/>
<rect x="112.55" y="616.0" width="17.97" height="1.5" fill="#f77996"/>
<rect x="112.55" y="618.7" width="17.97" height="1.5" fill="#f77694"/>
<rect x="112.55" y="620.2" width="17.97" height="2.2" fill="#f77795"/>
<rect x="112.55" y="624" width="17.97" height="2.30" fill="#f8b0c6"/>
<rect x="112.55" y="626" width="17.97" height="2.30" fill="#d6def8"/>
<rect x="112.55" y="628" width="17.97" height="2.30" fill="#f8b0c6"/>
<rect x="112.55" y="630" width="17.97" height="2.30" fill="#f8d4e0"/>
<rect x="112.55" y="632" width="17.97" height="2.30" fill="#f6f2f6"/>
<rect x="112.55" y="634" width="17.97" height="6.30" fill="#f8b0c6"/>
<rect x="112.55" y="634.0" width="17.97" height="1.2" fill="#f8b4c9"/>
<rect x="112.55" y="640" width="17.97" height="2.30" fill="#f7809f"/>
<rect x="112.55" y="642" width="17.97" height="2.30" fill="#f6f2f6"/>
<rect x="112.55" y="644" width="17.97" height="2.30" fill="#d6def8"/>
<rect x="112.55" y="646" width="17.97" height="4.30" fill="#f6f2f6"/>
<rect x="112.55" y="646.0" width="17.97" height="1.2" fill="#f7f3f7"/>
<rect x="112.55" y="647.2" width="17.97" height="1.2" fill="#f5f1f5"/>
<rect x="112.55" y="650" width="17.97" height="4.30" fill="#f8d4e0"/>
<rect x="112.55" y="651.8" width="17.97" height="1.5" fill="#f7d1de"/>
<rect x="112.55" y="654" width="17.97" height="2.30" fill="#f6f2f6"/>
<rect x="112.55" y="656" width="17.97" height="4.30" fill="#f8b0c6"/>
<rect x="112.55" y="657.5" width="17.97" height="1.8" fill="#f8b4c9"/>
<rect x="112.55" y="660" width="17.97" height="4.30" fill="#f8d4e0"/>
<rect x="112.55" y="660.0" width="17.97" height="2.2" fill="#f8d7e2"/>
<rect x="112.55" y="664" width="17.97" height="2.30" fill="#f7809f"/>
<rect x="112.55" y="666" width="17.97" height="9.00" fill="#f8b0c6"/>
<rect x="112.55" y="667.2" width="17.97" height="1.5" fill="#f7a7c0"/>
<rect x="112.55" y="668.7" width="17.97" height="1.5" fill="#f8b3c8"/>
<rect x="112.55" y="670.2" width="17.97" height="2.2" fill="#f7a8c0"/>
<rect x="112.55" y="672.4" width="17.97" height="1.2" fill="#f7aac2"/>
</g>
<text x="61.25" y="688.6" font-size="10.5" textLength="32" lengthAdjust="spacingAndGlyphs" fill="#222">Z-score</text>
<rect x="29.5" y="690.8" width="95.5" height="9.2" fill="url(#cb)"/>
<text x="20.3" y="698.6" font-size="9" textLength="6.8" lengthAdjust="spacingAndGlyphs" fill="#222">-2</text>
<text x="128.2" y="698.6" font-size="9" textLength="4.2" lengthAdjust="spacingAndGlyphs" fill="#222">2</text>
<text x="243.3" y="18.0" font-size="12" textLength="7.9" lengthAdjust="spacingAndGlyphs" font-weight="bold" fill="#000">B</text>
<text x="349.6" y="16.6" font-size="10" textLength="47" lengthAdjust="spacingAndGlyphs" font-style="italic" fill="#222">PML-RARA</text>
<text x="397" y="13" font-size="6.5" textLength="10" lengthAdjust="spacingAndGlyphs" fill="#222">WT</text>
<text x="409.7" y="16.6" font-size="10" textLength="11.5" lengthAdjust="spacingAndGlyphs" fill="#222">vs.</text>
<text x="342.7" y="28.2" font-size="10" textLength="86.1" lengthAdjust="spacingAndGlyphs" fill="#222">Empty vector day 7</text>
<line x1="348" y1="41" x2="348" y2="171.5" stroke="#dde6e6" stroke-width="0.8"/>
<line x1="384.5" y1="41" x2="384.5" y2="171.5" stroke="#dde6e6" stroke-width="0.8"/>
<line x1="421.3" y1="41" x2="421.3" y2="171.5" stroke="#dde6e6" stroke-width="0.8"/>
<line x1="450.3" y1="41" x2="450.3" y2="171.5" stroke="#dde6e6" stroke-width="0.8"/>
<line x1="318" y1="41.5" x2="450.3" y2="41.5" stroke="#dde6e6" stroke-width="0.8"/>
<line x1="318" y1="72.3" x2="450.3" y2="72.3" stroke="#dde6e6" stroke-width="0.8"/>
<line x1="318" y1="103.5" x2="450.3" y2="103.5" stroke="#dde6e6" stroke-width="0.8"/>
<line x1="318" y1="134.6" x2="450.3" y2="134.6" stroke="#dde6e6" stroke-width="0.8"/>
<line x1="318" y1="167" x2="450.3" y2="167" stroke="#dde6e6" stroke-width="0.8"/>
<path d="M375 134 L378 134 L380.3 150 L383.1 165 L384.5 170 L375 170 Z" fill="#c8d3d8"/>
<path d="M394 131 L394 170 L385.6 170 L387 165 L389.5 150 L392 136 Z" fill="#c8d3d8"/>
<rect x="335" y="168" width="110" height="4" fill="#c8d3d8"/>
<path d="M363.6 145.3h1.3v1.3h-1.3zM369.4 147.1h1.3v1.3h-1.3zM362.6 167.2h1.3v1.3h-1.3zM369.4 165.4h1.3v1.3h-1.3zM369.5 151.7h1.3v1.3h-1.3zM361.1 160.7h1.3v1.3h-1.3zM361.4 153.1h1.3v1.3h-1.3zM374.4 166.9h1.3v1.3h-1.3zM358.6 163.6h1.3v1.3h-1.3zM358.4 164.5h1.3v1.3h-1.3zM359.0 142.2h1.3v1.3h-1.3zM357.6 144.5h1.3v1.3h-1.3zM368.4 134.1h1.3v1.3h-1.3zM360.2 151.6h1.3v1.3h-1.3zM372.3 157.6h1.3v1.3h-1.3zM347.6 164.5h1.3v1.3h-1.3zM356.0 167.1h1.3v1.3h-1.3zM359.4 105.8h1.3v1.3h-1.3zM372.2 137.1h1.3v1.3h-1.3zM362.9 116.5h1.3v1.3h-1.3zM359.3 167.6h1.3v1.3h-1.3zM369.2 164.6h1.3v1.3h-1.3zM368.1 166.5h1.3v1.3h-1.3zM360.2 159.8h1.3v1.3h-1.3zM370.2 153.4h1.3v1.3h-1.3zM362.9 150.4h1.3v1.3h-1.3zM354.1 108.5h1.3v1.3h-1.3zM356.5 158.5h1.3v1.3h-1.3zM368.0 103.6h1.3v1.3h-1.3zM364.6 73.4h1.3v1.3h-1.3zM373.6 160.3h1.3v1.3h-1.3zM358.5 148.4h1.3v1.3h-1.3zM361.7 168.2h1.3v1.3h-1.3zM355.8 152.0h1.3v1.3h-1.3zM353.6 166.6h1.3v1.3h-1.3zM364.0 165.0h1.3v1.3h-1.3zM363.7 166.2h1.3v1.3h-1.3zM373.3 161.3h1.3v1.3h-1.3zM371.1 168.3h1.3v1.3h-1.3zM371.5 154.7h1.3v1.3h-1.3zM354.1 163.5h1.3v1.3h-1.3zM359.9 159.6h1.3v1.3h-1.3zM374.3 111.6h1.3v1.3h-1.3zM365.8 148.5h1.3v1.3h-1.3zM374.0 159.1h1.3v1.3h-1.3zM365.8 115.3h1.3v1.3h-1.3zM364.2 163.5h1.3v1.3h-1.3zM365.6 145.8h1.3v1.3h-1.3zM362.3 108.6h1.3v1.3h-1.3zM357.5 154.6h1.3v1.3h-1.3zM369.4 162.8h1.3v1.3h-1.3zM370.7 156.3h1.3v1.3h-1.3zM371.3 119.1h1.3v1.3h-1.3zM369.7 155.1h1.3v1.3h-1.3zM367.5 158.5h1.3v1.3h-1.3zM355.5 159.3h1.3v1.3h-1.3zM360.3 75.3h1.3v1.3h-1.3zM374.1 161.7h1.3v1.3h-1.3zM367.2 136.5h1.3v1.3h-1.3zM361.5 135.9h1.3v1.3h-1.3zM362.5 80.3h1.3v1.3h-1.3zM359.1 163.4h1.3v1.3h-1.3zM360.1 136.2h1.3v1.3h-1.3zM360.4 155.4h1.3v1.3h-1.3zM365.2 167.9h1.3v1.3h-1.3zM354.5 151.2h1.3v1.3h-1.3zM366.9 106.7h1.3v1.3h-1.3zM359.1 159.6h1.3v1.3h-1.3zM367.9 157.9h1.3v1.3h-1.3zM364.0 145.5h1.3v1.3h-1.3zM366.2 150.9h1.3v1.3h-1.3zM367.7 162.6h1.3v1.3h-1.3zM364.1 149.1h1.3v1.3h-1.3zM367.4 144.0h1.3v1.3h-1.3zM360.8 143.7h1.3v1.3h-1.3zM363.2 159.7h1.3v1.3h-1.3zM367.8 143.6h1.3v1.3h-1.3zM365.1 150.2h1.3v1.3h-1.3zM369.1 132.3h1.3v1.3h-1.3zM370.1 105.5h1.3v1.3h-1.3zM363.0 143.7h1.3v1.3h-1.3zM364.9 82.2h1.3v1.3h-1.3zM361.0 150.8h1.3v1.3h-1.3zM367.6 166.0h1.3v1.3h-1.3zM369.9 135.1h1.3v1.3h-1.3zM369.6 122.3h1.3v1.3h-1.3zM361.9 130.5h1.3v1.3h-1.3zM369.5 65.5h1.3v1.3h-1.3zM370.9 114.7h1.3v1.3h-1.3zM373.7 161.8h1.3v1.3h-1.3zM366.4 156.8h1.3v1.3h-1.3zM363.9 144.1h1.3v1.3h-1.3zM367.1 139.0h1.3v1.3h-1.3zM364.6 61.4h1.3v1.3h-1.3zM369.8 123.0h1.3v1.3h-1.3zM368.7 132.1h1.3v1.3h-1.3zM367.6 133.3h1.3v1.3h-1.3zM357.1 108.7h1.3v1.3h-1.3zM369.2 144.1h1.3v1.3h-1.3zM373.8 160.1h1.3v1.3h-1.3zM369.5 164.8h1.3v1.3h-1.3zM370.7 161.5h1.3v1.3h-1.3zM359.6 157.1h1.3v1.3h-1.3zM371.2 147.5h1.3v1.3h-1.3zM368.0 144.3h1.3v1.3h-1.3zM336.7 162.0h1.3v1.3h-1.3zM368.2 117.0h1.3v1.3h-1.3zM367.1 147.1h1.3v1.3h-1.3zM375.3 133.4h1.3v1.3h-1.3zM363.8 114.7h1.3v1.3h-1.3zM358.6 131.5h1.3v1.3h-1.3zM357.1 155.5h1.3v1.3h-1.3zM370.9 166.6h1.3v1.3h-1.3zM368.2 127.8h1.3v1.3h-1.3zM369.8 159.4h1.3v1.3h-1.3zM367.8 113.1h1.3v1.3h-1.3zM361.1 107.0h1.3v1.3h-1.3zM357.7 160.0h1.3v1.3h-1.3zM359.6 157.9h1.3v1.3h-1.3zM368.3 150.6h1.3v1.3h-1.3zM358.8 144.5h1.3v1.3h-1.3zM364.4 155.1h1.3v1.3h-1.3zM355.9 168.3h1.3v1.3h-1.3zM375.5 147.3h1.3v1.3h-1.3zM365.8 161.6h1.3v1.3h-1.3zM366.9 159.1h1.3v1.3h-1.3zM364.1 165.5h1.3v1.3h-1.3zM369.7 167.6h1.3v1.3h-1.3zM368.7 157.4h1.3v1.3h-1.3zM356.6 126.6h1.3v1.3h-1.3zM353.6 104.9h1.3v1.3h-1.3zM350.1 153.5h1.3v1.3h-1.3zM368.1 101.5h1.3v1.3h-1.3zM363.9 138.7h1.3v1.3h-1.3zM355.7 132.8h1.3v1.3h-1.3zM373.9 160.5h1.3v1.3h-1.3zM368.0 154.9h1.3v1.3h-1.3zM353.8 138.7h1.3v1.3h-1.3zM360.5 138.8h1.3v1.3h-1.3zM365.5 136.0h1.3v1.3h-1.3zM366.5 166.3h1.3v1.3h-1.3zM357.0 166.0h1.3v1.3h-1.3zM365.8 159.0h1.3v1.3h-1.3zM358.6 127.9h1.3v1.3h-1.3zM356.3 147.9h1.3v1.3h-1.3zM373.9 133.8h1.3v1.3h-1.3zM354.8 124.6h1.3v1.3h-1.3zM354.3 165.9h1.3v1.3h-1.3zM366.6 163.5h1.3v1.3h-1.3zM370.2 143.1h1.3v1.3h-1.3zM367.3 158.9h1.3v1.3h-1.3zM360.0 134.9h1.3v1.3h-1.3zM360.6 149.6h1.3v1.3h-1.3zM364.9 101.1h1.3v1.3h-1.3zM363.0 167.8h1.3v1.3h-1.3zM337.7 150.4h1.3v1.3h-1.3zM375.6 161.2h1.3v1.3h-1.3zM363.5 142.2h1.3v1.3h-1.3zM334.6 163.7h1.3v1.3h-1.3zM361.4 116.8h1.3v1.3h-1.3zM353.8 160.4h1.3v1.3h-1.3zM362.3 99.9h1.3v1.3h-1.3zM366.6 148.0h1.3v1.3h-1.3zM364.4 150.3h1.3v1.3h-1.3zM373.4 155.7h1.3v1.3h-1.3zM367.2 156.9h1.3v1.3h-1.3zM364.8 126.6h1.3v1.3h-1.3zM362.1 98.7h1.3v1.3h-1.3zM357.7 154.9h1.3v1.3h-1.3zM372.1 166.8h1.3v1.3h-1.3zM372.9 165.1h1.3v1.3h-1.3zM358.8 86.0h1.3v1.3h-1.3zM358.6 159.0h1.3v1.3h-1.3zM366.2 154.3h1.3v1.3h-1.3zM365.5 144.4h1.3v1.3h-1.3zM362.3 128.8h1.3v1.3h-1.3zM366.8 150.3h1.3v1.3h-1.3zM348.5 158.2h1.3v1.3h-1.3zM368.8 89.9h1.3v1.3h-1.3zM373.2 128.0h1.3v1.3h-1.3zM364.6 136.3h1.3v1.3h-1.3zM354.9 157.6h1.3v1.3h-1.3zM362.5 162.8h1.3v1.3h-1.3zM374.7 163.0h1.3v1.3h-1.3zM343.9 150.4h1.3v1.3h-1.3zM373.9 165.4h1.3v1.3h-1.3zM366.1 160.1h1.3v1.3h-1.3zM374.3 102.8h1.3v1.3h-1.3zM356.5 126.8h1.3v1.3h-1.3zM372.6 146.0h1.3v1.3h-1.3zM364.4 154.1h1.3v1.3h-1.3zM370.8 158.5h1.3v1.3h-1.3zM371.5 108.7h1.3v1.3h-1.3zM365.7 161.0h1.3v1.3h-1.3zM359.8 106.4h1.3v1.3h-1.3zM366.4 100.5h1.3v1.3h-1.3zM366.3 149.1h1.3v1.3h-1.3zM366.5 153.4h1.3v1.3h-1.3zM344.3 159.7h1.3v1.3h-1.3zM363.3 129.9h1.3v1.3h-1.3zM367.0 137.0h1.3v1.3h-1.3zM369.4 167.1h1.3v1.3h-1.3zM373.6 157.4h1.3v1.3h-1.3zM371.9 138.0h1.3v1.3h-1.3zM368.7 132.3h1.3v1.3h-1.3zM369.2 146.0h1.3v1.3h-1.3zM359.9 142.1h1.3v1.3h-1.3zM371.2 140.7h1.3v1.3h-1.3zM362.5 168.0h1.3v1.3h-1.3zM358.5 103.7h1.3v1.3h-1.3zM368.5 159.8h1.3v1.3h-1.3zM361.4 71.3h1.3v1.3h-1.3zM356.6 147.6h1.3v1.3h-1.3zM358.5 134.6h1.3v1.3h-1.3zM369.8 135.3h1.3v1.3h-1.3zM363.8 90.5h1.3v1.3h-1.3zM369.8 151.9h1.3v1.3h-1.3zM371.8 133.9h1.3v1.3h-1.3zM375.1 147.2h1.3v1.3h-1.3zM365.6 116.9h1.3v1.3h-1.3zM372.2 125.4h1.3v1.3h-1.3zM362.5 162.1h1.3v1.3h-1.3zM374.4 153.3h1.3v1.3h-1.3zM366.4 156.3h1.3v1.3h-1.3zM358.5 167.3h1.3v1.3h-1.3zM358.2 135.5h1.3v1.3h-1.3zM375.3 156.2h1.3v1.3h-1.3zM366.9 155.3h1.3v1.3h-1.3zM372.6 74.9h1.3v1.3h-1.3zM369.1 116.6h1.3v1.3h-1.3zM354.3 166.8h1.3v1.3h-1.3zM347.7 149.1h1.3v1.3h-1.3zM371.7 100.1h1.3v1.3h-1.3zM366.7 118.2h1.3v1.3h-1.3zM367.8 124.6h1.3v1.3h-1.3zM368.2 166.4h1.3v1.3h-1.3zM362.3 159.2h1.3v1.3h-1.3zM362.2 130.5h1.3v1.3h-1.3zM358.8 82.2h1.3v1.3h-1.3zM371.5 153.6h1.3v1.3h-1.3zM373.7 162.2h1.3v1.3h-1.3zM363.7 119.6h1.3v1.3h-1.3zM361.4 140.3h1.3v1.3h-1.3zM370.7 122.6h1.3v1.3h-1.3zM368.5 126.4h1.3v1.3h-1.3zM370.1 159.8h1.3v1.3h-1.3zM367.4 144.2h1.3v1.3h-1.3zM363.6 159.1h1.3v1.3h-1.3zM372.5 131.2h1.3v1.3h-1.3zM367.8 150.5h1.3v1.3h-1.3zM365.5 134.7h1.3v1.3h-1.3zM373.3 164.4h1.3v1.3h-1.3zM358.1 143.2h1.3v1.3h-1.3zM366.1 154.3h1.3v1.3h-1.3zM358.4 159.8h1.3v1.3h-1.3zM341.9 167.1h1.3v1.3h-1.3zM354.3 88.4h1.3v1.3h-1.3zM369.5 123.2h1.3v1.3h-1.3zM364.3 141.1h1.3v1.3h-1.3zM368.1 139.3h1.3v1.3h-1.3zM366.5 161.5h1.3v1.3h-1.3zM366.4 134.3h1.3v1.3h-1.3zM363.7 162.2h1.3v1.3h-1.3zM370.9 120.7h1.3v1.3h-1.3zM371.2 144.5h1.3v1.3h-1.3zM368.9 153.2h1.3v1.3h-1.3zM363.0 144.3h1.3v1.3h-1.3zM362.7 162.9h1.3v1.3h-1.3zM358.4 132.6h1.3v1.3h-1.3zM372.5 157.3h1.3v1.3h-1.3zM372.4 108.4h1.3v1.3h-1.3zM366.8 161.7h1.3v1.3h-1.3zM365.8 129.2h1.3v1.3h-1.3zM364.7 98.7h1.3v1.3h-1.3zM367.2 137.6h1.3v1.3h-1.3zM372.4 96.1h1.3v1.3h-1.3zM375.1 147.2h1.3v1.3h-1.3zM363.8 163.6h1.3v1.3h-1.3zM371.5 90.4h1.3v1.3h-1.3zM334.8 161.7h1.3v1.3h-1.3zM369.9 82.3h1.3v1.3h-1.3zM362.3 90.1h1.3v1.3h-1.3zM353.8 97.9h1.3v1.3h-1.3zM354.3 160.9h1.3v1.3h-1.3zM375.5 153.8h1.3v1.3h-1.3zM367.6 164.4h1.3v1.3h-1.3zM346.1 167.0h1.3v1.3h-1.3zM359.0 113.7h1.3v1.3h-1.3zM357.4 157.3h1.3v1.3h-1.3zM355.4 152.0h1.3v1.3h-1.3zM360.1 136.0h1.3v1.3h-1.3zM364.1 150.5h1.3v1.3h-1.3zM366.9 139.4h1.3v1.3h-1.3zM368.3 148.1h1.3v1.3h-1.3zM372.4 149.9h1.3v1.3h-1.3zM361.9 164.2h1.3v1.3h-1.3zM368.8 150.8h1.3v1.3h-1.3zM372.2 165.7h1.3v1.3h-1.3zM367.5 128.6h1.3v1.3h-1.3zM373.1 154.1h1.3v1.3h-1.3zM363.1 109.9h1.3v1.3h-1.3zM368.1 128.8h1.3v1.3h-1.3zM359.2 148.0h1.3v1.3h-1.3zM361.4 88.3h1.3v1.3h-1.3zM367.1 155.3h1.3v1.3h-1.3zM359.5 100.2h1.3v1.3h-1.3zM369.8 158.7h1.3v1.3h-1.3zM360.3 147.4h1.3v1.3h-1.3zM370.7 167.2h1.3v1.3h-1.3zM370.6 100.6h1.3v1.3h-1.3zM359.0 145.6h1.3v1.3h-1.3zM358.5 106.4h1.3v1.3h-1.3zM353.8 165.0h1.3v1.3h-1.3zM353.7 142.5h1.3v1.3h-1.3zM367.0 162.5h1.3v1.3h-1.3zM362.0 116.9h1.3v1.3h-1.3zM370.2 157.1h1.3v1.3h-1.3zM367.2 163.4h1.3v1.3h-1.3zM353.8 139.6h1.3v1.3h-1.3zM367.8 100.5h1.3v1.3h-1.3zM370.0 164.1h1.3v1.3h-1.3zM363.4 168.2h1.3v1.3h-1.3zM371.5 155.0h1.3v1.3h-1.3zM352.0 160.7h1.3v1.3h-1.3zM358.5 139.0h1.3v1.3h-1.3zM371.0 106.8h1.3v1.3h-1.3zM359.0 122.6h1.3v1.3h-1.3zM373.6 168.0h1.3v1.3h-1.3zM356.5 137.2h1.3v1.3h-1.3zM362.0 137.2h1.3v1.3h-1.3zM358.9 159.7h1.3v1.3h-1.3zM372.7 98.2h1.3v1.3h-1.3zM371.4 160.2h1.3v1.3h-1.3zM367.7 166.5h1.3v1.3h-1.3zM364.4 144.3h1.3v1.3h-1.3zM372.5 147.1h1.3v1.3h-1.3zM368.5 137.5h1.3v1.3h-1.3zM359.6 157.2h1.3v1.3h-1.3zM371.2 122.5h1.3v1.3h-1.3zM366.1 127.3h1.3v1.3h-1.3zM365.8 149.5h1.3v1.3h-1.3zM352.7 160.6h1.3v1.3h-1.3zM367.5 126.8h1.3v1.3h-1.3zM375.0 132.7h1.3v1.3h-1.3zM370.1 151.1h1.3v1.3h-1.3zM364.4 67.6h1.3v1.3h-1.3zM365.8 160.2h1.3v1.3h-1.3zM375.1 156.4h1.3v1.3h-1.3zM359.1 160.1h1.3v1.3h-1.3zM372.7 132.4h1.3v1.3h-1.3zM356.9 129.6h1.3v1.3h-1.3zM363.3 143.0h1.3v1.3h-1.3zM373.1 139.1h1.3v1.3h-1.3zM373.7 165.9h1.3v1.3h-1.3zM363.3 167.5h1.3v1.3h-1.3zM361.9 163.7h1.3v1.3h-1.3zM370.3 138.2h1.3v1.3h-1.3zM365.3 132.5h1.3v1.3h-1.3zM361.9 141.5h1.3v1.3h-1.3zM369.0 164.9h1.3v1.3h-1.3zM373.8 167.2h1.3v1.3h-1.3zM369.3 111.8h1.3v1.3h-1.3zM364.7 138.3h1.3v1.3h-1.3zM373.3 165.2h1.3v1.3h-1.3zM367.7 125.8h1.3v1.3h-1.3zM366.9 167.7h1.3v1.3h-1.3zM374.0 130.6h1.3v1.3h-1.3zM369.0 151.1h1.3v1.3h-1.3zM356.5 123.8h1.3v1.3h-1.3zM370.8 161.0h1.3v1.3h-1.3zM361.8 116.9h1.3v1.3h-1.3zM365.3 125.2h1.3v1.3h-1.3zM368.0 162.2h1.3v1.3h-1.3zM353.5 147.8h1.3v1.3h-1.3zM374.5 147.6h1.3v1.3h-1.3zM363.6 164.8h1.3v1.3h-1.3zM362.1 121.8h1.3v1.3h-1.3zM369.0 132.5h1.3v1.3h-1.3zM370.7 153.2h1.3v1.3h-1.3zM362.0 102.5h1.3v1.3h-1.3zM370.3 167.5h1.3v1.3h-1.3zM373.5 154.0h1.3v1.3h-1.3zM360.6 149.8h1.3v1.3h-1.3zM366.8 145.6h1.3v1.3h-1.3zM363.4 155.4h1.3v1.3h-1.3zM369.1 112.7h1.3v1.3h-1.3zM365.5 135.7h1.3v1.3h-1.3zM359.1 151.0h1.3v1.3h-1.3zM360.7 123.8h1.3v1.3h-1.3zM363.5 149.7h1.3v1.3h-1.3zM364.6 103.4h1.3v1.3h-1.3zM375.2 157.5h1.3v1.3h-1.3zM369.0 131.9h1.3v1.3h-1.3zM360.8 163.2h1.3v1.3h-1.3zM359.7 159.8h1.3v1.3h-1.3zM373.3 165.1h1.3v1.3h-1.3zM365.3 153.8h1.3v1.3h-1.3zM364.0 120.8h1.3v1.3h-1.3zM370.8 164.9h1.3v1.3h-1.3zM371.5 153.0h1.3v1.3h-1.3zM360.0 138.3h1.3v1.3h-1.3zM367.4 140.5h1.3v1.3h-1.3zM365.1 152.7h1.3v1.3h-1.3zM359.0 126.8h1.3v1.3h-1.3zM369.0 129.9h1.3v1.3h-1.3zM366.1 104.7h1.3v1.3h-1.3zM358.3 134.2h1.3v1.3h-1.3zM356.0 157.0h1.3v1.3h-1.3zM375.4 138.6h1.3v1.3h-1.3zM370.9 122.6h1.3v1.3h-1.3zM360.1 130.8h1.3v1.3h-1.3zM359.8 151.8h1.3v1.3h-1.3zM357.5 150.1h1.3v1.3h-1.3zM358.1 134.6h1.3v1.3h-1.3zM369.7 148.1h1.3v1.3h-1.3zM365.7 144.8h1.3v1.3h-1.3zM373.4 163.0h1.3v1.3h-1.3zM359.7 146.8h1.3v1.3h-1.3zM372.2 137.7h1.3v1.3h-1.3zM361.8 161.2h1.3v1.3h-1.3zM356.2 125.1h1.3v1.3h-1.3zM366.1 166.6h1.3v1.3h-1.3zM365.2 158.7h1.3v1.3h-1.3zM367.8 152.0h1.3v1.3h-1.3zM362.9 151.9h1.3v1.3h-1.3zM355.5 159.1h1.3v1.3h-1.3zM365.4 160.7h1.3v1.3h-1.3zM371.2 160.9h1.3v1.3h-1.3zM354.7 161.2h1.3v1.3h-1.3zM371.3 164.1h1.3v1.3h-1.3zM358.5 149.3h1.3v1.3h-1.3zM374.4 137.8h1.3v1.3h-1.3zM346.3 149.4h1.3v1.3h-1.3zM363.6 111.3h1.3v1.3h-1.3zM366.9 151.6h1.3v1.3h-1.3zM366.2 129.9h1.3v1.3h-1.3zM367.3 158.4h1.3v1.3h-1.3zM354.9 151.5h1.3v1.3h-1.3zM350.5 167.8h1.3v1.3h-1.3zM360.5 77.3h1.3v1.3h-1.3zM358.8 163.7h1.3v1.3h-1.3zM369.0 160.3h1.3v1.3h-1.3zM355.1 163.3h1.3v1.3h-1.3zM359.4 140.2h1.3v1.3h-1.3zM355.1 122.7h1.3v1.3h-1.3zM369.1 113.5h1.3v1.3h-1.3zM375.2 144.0h1.3v1.3h-1.3zM367.7 159.1h1.3v1.3h-1.3zM372.9 147.9h1.3v1.3h-1.3zM359.9 166.5h1.3v1.3h-1.3zM367.8 148.0h1.3v1.3h-1.3zM360.7 168.1h1.3v1.3h-1.3zM353.6 113.2h1.3v1.3h-1.3zM368.5 135.5h1.3v1.3h-1.3zM358.2 113.2h1.3v1.3h-1.3zM366.3 71.3h1.3v1.3h-1.3zM364.2 137.9h1.3v1.3h-1.3zM364.0 140.1h1.3v1.3h-1.3zM374.4 133.9h1.3v1.3h-1.3zM361.9 146.9h1.3v1.3h-1.3zM368.9 148.4h1.3v1.3h-1.3zM363.9 130.3h1.3v1.3h-1.3zM354.3 138.9h1.3v1.3h-1.3zM363.5 161.2h1.3v1.3h-1.3zM374.5 157.9h1.3v1.3h-1.3zM356.0 115.5h1.3v1.3h-1.3zM362.9 121.2h1.3v1.3h-1.3zM362.4 156.2h1.3v1.3h-1.3zM374.8 141.8h1.3v1.3h-1.3zM366.6 138.1h1.3v1.3h-1.3zM362.6 129.8h1.3v1.3h-1.3zM361.7 103.3h1.3v1.3h-1.3zM365.7 157.6h1.3v1.3h-1.3zM371.6 136.1h1.3v1.3h-1.3zM353.9 139.5h1.3v1.3h-1.3zM353.6 141.1h1.3v1.3h-1.3zM369.4 134.0h1.3v1.3h-1.3zM370.3 125.2h1.3v1.3h-1.3zM372.5 167.2h1.3v1.3h-1.3zM357.3 154.5h1.3v1.3h-1.3zM367.5 116.4h1.3v1.3h-1.3zM361.2 151.9h1.3v1.3h-1.3zM371.2 86.8h1.3v1.3h-1.3zM373.1 164.5h1.3v1.3h-1.3zM354.1 150.6h1.3v1.3h-1.3zM368.5 163.4h1.3v1.3h-1.3zM365.8 133.8h1.3v1.3h-1.3zM372.8 164.4h1.3v1.3h-1.3zM363.6 107.2h1.3v1.3h-1.3zM369.3 160.0h1.3v1.3h-1.3zM366.7 128.6h1.3v1.3h-1.3zM368.1 123.7h1.3v1.3h-1.3zM374.3 159.5h1.3v1.3h-1.3zM362.3 68.3h1.3v1.3h-1.3zM364.2 136.7h1.3v1.3h-1.3zM371.8 117.3h1.3v1.3h-1.3zM369.7 129.1h1.3v1.3h-1.3zM355.3 166.5h1.3v1.3h-1.3zM354.7 154.6h1.3v1.3h-1.3zM360.5 134.4h1.3v1.3h-1.3zM370.9 163.6h1.3v1.3h-1.3zM355.9 137.2h1.3v1.3h-1.3zM356.4 138.5h1.3v1.3h-1.3zM369.8 122.0h1.3v1.3h-1.3zM364.7 81.3h1.3v1.3h-1.3zM370.0 131.9h1.3v1.3h-1.3zM357.1 140.4h1.3v1.3h-1.3zM358.6 114.9h1.3v1.3h-1.3zM360.3 151.5h1.3v1.3h-1.3zM355.6 102.6h1.3v1.3h-1.3zM366.2 100.4h1.3v1.3h-1.3zM356.9 168.2h1.3v1.3h-1.3zM369.0 102.8h1.3v1.3h-1.3zM362.8 142.8h1.3v1.3h-1.3zM374.1 133.7h1.3v1.3h-1.3zM360.9 165.6h1.3v1.3h-1.3zM368.5 144.1h1.3v1.3h-1.3zM358.9 126.7h1.3v1.3h-1.3zM366.4 161.4h1.3v1.3h-1.3zM374.5 123.9h1.3v1.3h-1.3zM354.3 146.2h1.3v1.3h-1.3zM359.9 148.9h1.3v1.3h-1.3zM362.6 161.9h1.3v1.3h-1.3zM363.3 162.3h1.3v1.3h-1.3zM355.8 143.4h1.3v1.3h-1.3zM359.7 152.9h1.3v1.3h-1.3zM366.5 166.9h1.3v1.3h-1.3zM373.5 121.9h1.3v1.3h-1.3zM357.1 163.2h1.3v1.3h-1.3zM360.1 146.3h1.3v1.3h-1.3zM369.7 108.0h1.3v1.3h-1.3zM357.9 148.3h1.3v1.3h-1.3zM362.1 123.0h1.3v1.3h-1.3zM359.7 117.1h1.3v1.3h-1.3zM362.4 69.0h1.3v1.3h-1.3zM370.8 162.3h1.3v1.3h-1.3zM367.7 106.9h1.3v1.3h-1.3zM357.6 166.3h1.3v1.3h-1.3zM361.5 141.0h1.3v1.3h-1.3zM364.2 72.3h1.3v1.3h-1.3zM359.7 153.3h1.3v1.3h-1.3zM369.1 155.3h1.3v1.3h-1.3zM335.8 166.6h1.3v1.3h-1.3zM359.7 157.7h1.3v1.3h-1.3zM366.3 141.4h1.3v1.3h-1.3zM360.8 156.6h1.3v1.3h-1.3zM366.5 130.4h1.3v1.3h-1.3zM365.2 89.5h1.3v1.3h-1.3zM372.3 86.8h1.3v1.3h-1.3zM347.6 150.5h1.3v1.3h-1.3zM361.8 148.8h1.3v1.3h-1.3zM361.8 160.8h1.3v1.3h-1.3zM363.4 166.5h1.3v1.3h-1.3zM360.6 159.0h1.3v1.3h-1.3zM370.9 158.8h1.3v1.3h-1.3zM362.0 113.4h1.3v1.3h-1.3zM372.6 148.0h1.3v1.3h-1.3zM372.0 156.8h1.3v1.3h-1.3zM363.5 166.5h1.3v1.3h-1.3zM361.4 100.7h1.3v1.3h-1.3zM359.2 148.8h1.3v1.3h-1.3zM366.5 158.2h1.3v1.3h-1.3zM375.1 154.7h1.3v1.3h-1.3zM373.8 166.5h1.3v1.3h-1.3zM357.8 129.4h1.3v1.3h-1.3zM362.2 118.9h1.3v1.3h-1.3zM373.8 168.2h1.3v1.3h-1.3zM359.1 114.7h1.3v1.3h-1.3zM365.3 151.2h1.3v1.3h-1.3zM365.6 95.4h1.3v1.3h-1.3zM363.7 124.2h1.3v1.3h-1.3zM358.6 165.8h1.3v1.3h-1.3zM355.0 165.6h1.3v1.3h-1.3zM357.4 158.7h1.3v1.3h-1.3zM354.5 142.1h1.3v1.3h-1.3zM374.7 152.6h1.3v1.3h-1.3zM374.7 156.1h1.3v1.3h-1.3zM371.4 113.0h1.3v1.3h-1.3zM355.4 167.8h1.3v1.3h-1.3zM370.8 159.0h1.3v1.3h-1.3zM373.3 162.1h1.3v1.3h-1.3zM356.1 162.9h1.3v1.3h-1.3zM365.7 154.4h1.3v1.3h-1.3zM365.7 146.3h1.3v1.3h-1.3zM360.4 150.6h1.3v1.3h-1.3zM365.0 130.7h1.3v1.3h-1.3zM370.2 117.4h1.3v1.3h-1.3zM358.7 131.0h1.3v1.3h-1.3zM366.7 153.9h1.3v1.3h-1.3zM361.4 106.4h1.3v1.3h-1.3zM366.7 145.2h1.3v1.3h-1.3zM365.2 162.3h1.3v1.3h-1.3zM367.2 165.0h1.3v1.3h-1.3zM364.5 165.3h1.3v1.3h-1.3zM358.8 167.8h1.3v1.3h-1.3zM353.9 140.9h1.3v1.3h-1.3zM359.7 131.9h1.3v1.3h-1.3zM351.5 166.9h1.3v1.3h-1.3zM356.7 147.9h1.3v1.3h-1.3zM367.2 164.4h1.3v1.3h-1.3zM373.0 109.1h1.3v1.3h-1.3zM347.4 163.5h1.3v1.3h-1.3zM358.2 115.8h1.3v1.3h-1.3zM374.2 145.9h1.3v1.3h-1.3zM358.9 155.9h1.3v1.3h-1.3zM359.9 160.1h1.3v1.3h-1.3zM373.6 119.4h1.3v1.3h-1.3zM369.3 95.1h1.3v1.3h-1.3zM362.6 138.3h1.3v1.3h-1.3zM362.1 154.7h1.3v1.3h-1.3zM365.7 151.3h1.3v1.3h-1.3zM372.8 147.2h1.3v1.3h-1.3zM360.6 167.3h1.3v1.3h-1.3zM359.2 134.3h1.3v1.3h-1.3zM359.2 159.6h1.3v1.3h-1.3zM363.0 157.4h1.3v1.3h-1.3zM361.5 141.2h1.3v1.3h-1.3zM365.5 145.4h1.3v1.3h-1.3zM372.2 163.5h1.3v1.3h-1.3zM371.7 157.9h1.3v1.3h-1.3zM364.4 152.6h1.3v1.3h-1.3zM374.7 144.6h1.3v1.3h-1.3zM371.0 136.8h1.3v1.3h-1.3zM356.3 144.5h1.3v1.3h-1.3zM357.5 157.1h1.3v1.3h-1.3zM369.8 160.0h1.3v1.3h-1.3zM365.0 108.9h1.3v1.3h-1.3zM352.8 160.1h1.3v1.3h-1.3zM361.7 157.8h1.3v1.3h-1.3zM367.2 123.9h1.3v1.3h-1.3zM366.9 106.8h1.3v1.3h-1.3zM371.1 150.9h1.3v1.3h-1.3zM371.0 128.4h1.3v1.3h-1.3zM360.7 163.3h1.3v1.3h-1.3zM374.3 134.6h1.3v1.3h-1.3zM364.7 128.0h1.3v1.3h-1.3zM359.6 122.2h1.3v1.3h-1.3zM369.2 168.2h1.3v1.3h-1.3zM360.6 106.4h1.3v1.3h-1.3zM357.1 140.3h1.3v1.3h-1.3zM362.8 129.8h1.3v1.3h-1.3zM357.1 153.7h1.3v1.3h-1.3zM359.3 147.5h1.3v1.3h-1.3zM369.7 157.4h1.3v1.3h-1.3zM351.5 163.6h1.3v1.3h-1.3zM359.5 92.5h1.3v1.3h-1.3zM366.6 147.7h1.3v1.3h-1.3zM361.7 146.5h1.3v1.3h-1.3zM355.3 155.0h1.3v1.3h-1.3zM375.5 146.0h1.3v1.3h-1.3zM373.6 152.9h1.3v1.3h-1.3zM368.7 117.5h1.3v1.3h-1.3zM371.7 115.8h1.3v1.3h-1.3zM365.0 151.9h1.3v1.3h-1.3zM363.2 163.2h1.3v1.3h-1.3zM374.8 162.0h1.3v1.3h-1.3zM366.6 167.0h1.3v1.3h-1.3zM369.1 152.4h1.3v1.3h-1.3zM356.9 133.1h1.3v1.3h-1.3zM358.6 168.2h1.3v1.3h-1.3zM369.9 135.2h1.3v1.3h-1.3zM357.3 159.0h1.3v1.3h-1.3zM354.9 142.7h1.3v1.3h-1.3zM371.8 152.4h1.3v1.3h-1.3zM369.3 125.5h1.3v1.3h-1.3zM373.9 164.9h1.3v1.3h-1.3zM370.5 146.1h1.3v1.3h-1.3zM351.3 166.4h1.3v1.3h-1.3zM358.4 124.1h1.3v1.3h-1.3zM366.5 162.7h1.3v1.3h-1.3zM355.0 155.4h1.3v1.3h-1.3zM371.5 166.6h1.3v1.3h-1.3zM369.9 110.4h1.3v1.3h-1.3zM367.9 160.0h1.3v1.3h-1.3zM364.9 153.5h1.3v1.3h-1.3zM358.0 157.2h1.3v1.3h-1.3zM369.3 159.9h1.3v1.3h-1.3zM361.8 162.6h1.3v1.3h-1.3zM364.1 61.5h1.3v1.3h-1.3zM372.4 152.8h1.3v1.3h-1.3zM366.6 115.9h1.3v1.3h-1.3zM367.0 155.3h1.3v1.3h-1.3zM375.3 158.3h1.3v1.3h-1.3zM370.8 155.8h1.3v1.3h-1.3zM365.6 163.2h1.3v1.3h-1.3zM361.5 158.9h1.3v1.3h-1.3zM371.4 114.2h1.3v1.3h-1.3zM371.6 114.0h1.3v1.3h-1.3zM369.7 119.3h1.3v1.3h-1.3zM373.6 129.8h1.3v1.3h-1.3zM374.9 154.1h1.3v1.3h-1.3zM360.4 160.6h1.3v1.3h-1.3zM367.2 131.5h1.3v1.3h-1.3zM356.9 154.5h1.3v1.3h-1.3zM360.0 159.8h1.3v1.3h-1.3zM360.8 106.5h1.3v1.3h-1.3zM350.5 164.4h1.3v1.3h-1.3zM364.2 124.0h1.3v1.3h-1.3zM357.8 153.7h1.3v1.3h-1.3zM365.1 147.5h1.3v1.3h-1.3zM371.4 157.1h1.3v1.3h-1.3zM356.8 104.0h1.3v1.3h-1.3zM369.0 109.0h1.3v1.3h-1.3zM375.5 167.4h1.3v1.3h-1.3zM360.6 134.2h1.3v1.3h-1.3zM356.8 152.3h1.3v1.3h-1.3zM363.2 136.0h1.3v1.3h-1.3zM358.4 112.0h1.3v1.3h-1.3zM361.3 155.3h1.3v1.3h-1.3zM361.1 164.6h1.3v1.3h-1.3zM362.6 95.2h1.3v1.3h-1.3zM345.9 167.1h1.3v1.3h-1.3zM362.9 161.7h1.3v1.3h-1.3zM361.7 157.1h1.3v1.3h-1.3zM360.4 113.4h1.3v1.3h-1.3zM364.3 143.0h1.3v1.3h-1.3zM357.4 151.2h1.3v1.3h-1.3zM365.4 133.7h1.3v1.3h-1.3zM365.0 114.4h1.3v1.3h-1.3zM364.5 123.4h1.3v1.3h-1.3zM367.0 110.5h1.3v1.3h-1.3zM374.0 140.3h1.3v1.3h-1.3zM370.2 164.8h1.3v1.3h-1.3zM370.3 121.3h1.3v1.3h-1.3zM362.7 165.6h1.3v1.3h-1.3zM355.9 127.0h1.3v1.3h-1.3zM364.0 115.4h1.3v1.3h-1.3zM372.9 151.5h1.3v1.3h-1.3zM371.9 146.8h1.3v1.3h-1.3zM363.0 125.2h1.3v1.3h-1.3zM360.1 167.0h1.3v1.3h-1.3zM358.7 63.7h1.3v1.3h-1.3zM354.4 166.5h1.3v1.3h-1.3zM359.6 155.0h1.3v1.3h-1.3zM371.4 157.1h1.3v1.3h-1.3zM361.9 163.9h1.3v1.3h-1.3zM348.3 160.2h1.3v1.3h-1.3zM372.2 157.6h1.3v1.3h-1.3zM362.0 143.4h1.3v1.3h-1.3zM373.2 156.1h1.3v1.3h-1.3zM353.8 125.4h1.3v1.3h-1.3zM358.2 162.7h1.3v1.3h-1.3zM370.3 114.9h1.3v1.3h-1.3zM373.6 154.9h1.3v1.3h-1.3zM371.0 161.7h1.3v1.3h-1.3zM360.7 132.0h1.3v1.3h-1.3zM368.8 156.5h1.3v1.3h-1.3zM361.7 149.3h1.3v1.3h-1.3zM373.5 166.1h1.3v1.3h-1.3zM366.2 165.7h1.3v1.3h-1.3zM365.1 164.8h1.3v1.3h-1.3zM359.3 148.2h1.3v1.3h-1.3zM369.3 144.8h1.3v1.3h-1.3zM358.2 138.7h1.3v1.3h-1.3zM360.5 86.2h1.3v1.3h-1.3zM358.9 163.8h1.3v1.3h-1.3zM371.4 167.5h1.3v1.3h-1.3zM342.7 157.8h1.3v1.3h-1.3zM364.4 115.1h1.3v1.3h-1.3zM355.4 162.2h1.3v1.3h-1.3zM361.1 116.0h1.3v1.3h-1.3zM371.3 154.5h1.3v1.3h-1.3zM358.6 167.0h1.3v1.3h-1.3zM361.9 163.2h1.3v1.3h-1.3zM362.3 157.6h1.3v1.3h-1.3zM363.6 133.4h1.3v1.3h-1.3zM334.3 162.9h1.3v1.3h-1.3zM373.6 150.9h1.3v1.3h-1.3zM374.2 113.2h1.3v1.3h-1.3zM349.6 151.7h1.3v1.3h-1.3zM354.5 135.8h1.3v1.3h-1.3zM365.6 155.9h1.3v1.3h-1.3zM355.1 151.0h1.3v1.3h-1.3zM363.1 162.9h1.3v1.3h-1.3zM368.6 155.5h1.3v1.3h-1.3zM371.9 156.6h1.3v1.3h-1.3zM361.1 108.1h1.3v1.3h-1.3zM362.8 166.4h1.3v1.3h-1.3zM358.8 134.4h1.3v1.3h-1.3zM360.1 142.9h1.3v1.3h-1.3zM354.9 76.7h1.3v1.3h-1.3zM369.0 155.7h1.3v1.3h-1.3zM369.2 103.4h1.3v1.3h-1.3zM366.9 134.2h1.3v1.3h-1.3zM354.0 142.2h1.3v1.3h-1.3zM373.3 143.3h1.3v1.3h-1.3zM372.5 153.2h1.3v1.3h-1.3zM367.3 102.1h1.3v1.3h-1.3zM357.2 165.3h1.3v1.3h-1.3zM364.7 148.1h1.3v1.3h-1.3zM368.4 144.1h1.3v1.3h-1.3zM362.2 146.7h1.3v1.3h-1.3zM364.0 152.6h1.3v1.3h-1.3zM373.2 130.7h1.3v1.3h-1.3zM373.7 165.1h1.3v1.3h-1.3zM355.6 162.7h1.3v1.3h-1.3zM354.5 71.7h1.3v1.3h-1.3zM358.7 123.4h1.3v1.3h-1.3zM368.4 166.5h1.3v1.3h-1.3zM368.3 141.2h1.3v1.3h-1.3zM374.1 131.4h1.3v1.3h-1.3zM357.0 106.6h1.3v1.3h-1.3zM353.9 162.8h1.3v1.3h-1.3zM356.1 127.3h1.3v1.3h-1.3zM371.1 115.9h1.3v1.3h-1.3zM372.2 128.2h1.3v1.3h-1.3zM363.3 165.2h1.3v1.3h-1.3zM368.1 144.4h1.3v1.3h-1.3zM371.9 159.5h1.3v1.3h-1.3zM373.7 113.7h1.3v1.3h-1.3zM367.9 142.2h1.3v1.3h-1.3zM369.0 164.8h1.3v1.3h-1.3zM369.7 119.9h1.3v1.3h-1.3zM361.3 133.4h1.3v1.3h-1.3zM367.4 105.8h1.3v1.3h-1.3zM358.4 145.1h1.3v1.3h-1.3zM363.1 167.9h1.3v1.3h-1.3zM372.0 147.4h1.3v1.3h-1.3zM365.0 106.4h1.3v1.3h-1.3zM363.7 162.3h1.3v1.3h-1.3zM360.9 117.1h1.3v1.3h-1.3zM355.6 148.9h1.3v1.3h-1.3zM374.6 163.1h1.3v1.3h-1.3zM357.6 106.4h1.3v1.3h-1.3zM374.9 140.0h1.3v1.3h-1.3zM372.4 161.0h1.3v1.3h-1.3zM362.1 101.0h1.3v1.3h-1.3zM365.0 162.7h1.3v1.3h-1.3zM370.1 155.2h1.3v1.3h-1.3zM356.5 168.1h1.3v1.3h-1.3zM361.5 167.7h1.3v1.3h-1.3zM370.2 149.8h1.3v1.3h-1.3zM366.8 163.6h1.3v1.3h-1.3zM364.5 135.0h1.3v1.3h-1.3zM360.3 167.3h1.3v1.3h-1.3zM369.2 143.6h1.3v1.3h-1.3zM359.0 138.2h1.3v1.3h-1.3zM357.8 158.4h1.3v1.3h-1.3zM368.6 157.4h1.3v1.3h-1.3zM357.7 138.0h1.3v1.3h-1.3zM361.1 166.4h1.3v1.3h-1.3zM375.5 148.6h1.3v1.3h-1.3zM367.1 154.6h1.3v1.3h-1.3zM367.6 150.2h1.3v1.3h-1.3zM357.2 150.6h1.3v1.3h-1.3zM362.4 162.7h1.3v1.3h-1.3zM363.6 166.2h1.3v1.3h-1.3zM373.8 129.4h1.3v1.3h-1.3zM375.0 165.8h1.3v1.3h-1.3zM374.2 148.4h1.3v1.3h-1.3zM360.8 159.4h1.3v1.3h-1.3zM372.9 167.6h1.3v1.3h-1.3zM372.7 131.7h1.3v1.3h-1.3zM360.0 160.9h1.3v1.3h-1.3zM370.5 140.6h1.3v1.3h-1.3zM361.1 108.4h1.3v1.3h-1.3zM360.0 128.6h1.3v1.3h-1.3zM362.3 105.8h1.3v1.3h-1.3zM372.1 155.8h1.3v1.3h-1.3zM372.0 145.2h1.3v1.3h-1.3zM359.3 126.8h1.3v1.3h-1.3zM356.9 134.2h1.3v1.3h-1.3zM372.3 166.9h1.3v1.3h-1.3zM359.4 138.8h1.3v1.3h-1.3zM364.9 159.4h1.3v1.3h-1.3zM353.1 165.4h1.3v1.3h-1.3zM367.8 163.7h1.3v1.3h-1.3zM360.9 117.8h1.3v1.3h-1.3zM362.3 136.2h1.3v1.3h-1.3zM357.0 140.7h1.3v1.3h-1.3zM367.1 131.0h1.3v1.3h-1.3zM363.9 150.2h1.3v1.3h-1.3zM370.5 83.4h1.3v1.3h-1.3zM369.5 154.8h1.3v1.3h-1.3zM367.3 160.5h1.3v1.3h-1.3zM361.4 167.4h1.3v1.3h-1.3zM371.2 144.0h1.3v1.3h-1.3zM362.5 163.4h1.3v1.3h-1.3zM364.8 162.4h1.3v1.3h-1.3zM337.3 163.0h1.3v1.3h-1.3zM366.4 123.1h1.3v1.3h-1.3zM354.9 138.0h1.3v1.3h-1.3zM371.8 156.6h1.3v1.3h-1.3zM362.7 128.6h1.3v1.3h-1.3zM358.9 166.3h1.3v1.3h-1.3zM357.7 108.4h1.3v1.3h-1.3zM354.5 166.4h1.3v1.3h-1.3zM367.3 138.7h1.3v1.3h-1.3zM367.5 151.2h1.3v1.3h-1.3zM371.9 125.6h1.3v1.3h-1.3zM355.3 137.4h1.3v1.3h-1.3zM367.2 159.0h1.3v1.3h-1.3zM371.9 148.4h1.3v1.3h-1.3zM361.7 133.9h1.3v1.3h-1.3zM367.2 104.0h1.3v1.3h-1.3zM359.0 122.9h1.3v1.3h-1.3zM371.3 108.6h1.3v1.3h-1.3zM370.6 95.5h1.3v1.3h-1.3zM373.9 133.9h1.3v1.3h-1.3zM366.3 104.2h1.3v1.3h-1.3zM366.6 160.3h1.3v1.3h-1.3zM364.1 121.2h1.3v1.3h-1.3zM363.3 147.2h1.3v1.3h-1.3zM361.5 160.4h1.3v1.3h-1.3zM370.1 167.7h1.3v1.3h-1.3zM371.5 156.9h1.3v1.3h-1.3zM362.2 148.3h1.3v1.3h-1.3zM359.6 163.9h1.3v1.3h-1.3zM368.6 133.6h1.3v1.3h-1.3zM366.0 163.5h1.3v1.3h-1.3zM361.1 161.0h1.3v1.3h-1.3zM367.7 65.5h1.3v1.3h-1.3zM352.8 162.4h1.3v1.3h-1.3zM370.6 152.6h1.3v1.3h-1.3zM365.1 143.9h1.3v1.3h-1.3zM366.8 133.3h1.3v1.3h-1.3zM362.0 133.1h1.3v1.3h-1.3zM362.7 106.1h1.3v1.3h-1.3zM354.3 156.8h1.3v1.3h-1.3zM364.6 153.7h1.3v1.3h-1.3zM373.7 140.2h1.3v1.3h-1.3zM362.2 140.0h1.3v1.3h-1.3zM367.2 154.1h1.3v1.3h-1.3zM368.7 112.7h1.3v1.3h-1.3zM357.1 156.5h1.3v1.3h-1.3zM354.1 156.9h1.3v1.3h-1.3zM366.5 146.9h1.3v1.3h-1.3zM374.3 141.4h1.3v1.3h-1.3zM365.7 138.5h1.3v1.3h-1.3zM353.9 127.5h1.3v1.3h-1.3zM354.4 156.6h1.3v1.3h-1.3zM358.3 138.6h1.3v1.3h-1.3zM363.9 139.9h1.3v1.3h-1.3zM359.2 129.9h1.3v1.3h-1.3zM358.1 146.2h1.3v1.3h-1.3zM368.6 163.7h1.3v1.3h-1.3zM362.9 117.9h1.3v1.3h-1.3zM367.1 163.3h1.3v1.3h-1.3zM372.6 155.1h1.3v1.3h-1.3zM354.8 119.5h1.3v1.3h-1.3zM365.3 165.5h1.3v1.3h-1.3zM366.2 150.4h1.3v1.3h-1.3zM372.5 148.8h1.3v1.3h-1.3zM357.6 154.6h1.3v1.3h-1.3zM365.5 154.4h1.3v1.3h-1.3zM365.0 155.8h1.3v1.3h-1.3zM368.8 161.6h1.3v1.3h-1.3zM372.9 142.9h1.3v1.3h-1.3zM367.8 130.3h1.3v1.3h-1.3zM362.6 158.7h1.3v1.3h-1.3zM370.6 114.4h1.3v1.3h-1.3zM349.8 165.4h1.3v1.3h-1.3zM363.7 139.4h1.3v1.3h-1.3zM369.2 150.8h1.3v1.3h-1.3zM364.3 154.6h1.3v1.3h-1.3zM356.6 152.6h1.3v1.3h-1.3zM369.6 137.0h1.3v1.3h-1.3zM355.9 153.7h1.3v1.3h-1.3zM372.7 142.4h1.3v1.3h-1.3zM361.1 154.3h1.3v1.3h-1.3zM356.9 166.1h1.3v1.3h-1.3zM356.5 126.0h1.3v1.3h-1.3zM363.7 149.7h1.3v1.3h-1.3zM373.2 149.7h1.3v1.3h-1.3zM355.9 149.0h1.3v1.3h-1.3zM355.7 102.0h1.3v1.3h-1.3zM371.4 146.8h1.3v1.3h-1.3zM357.7 116.1h1.3v1.3h-1.3zM348.8 152.9h1.3v1.3h-1.3zM359.7 124.2h1.3v1.3h-1.3zM368.2 164.5h1.3v1.3h-1.3zM368.5 117.3h1.3v1.3h-1.3zM358.3 166.6h1.3v1.3h-1.3zM362.2 166.6h1.3v1.3h-1.3zM355.1 142.0h1.3v1.3h-1.3zM368.4 117.4h1.3v1.3h-1.3zM361.7 156.1h1.3v1.3h-1.3zM368.4 158.7h1.3v1.3h-1.3zM363.1 159.2h1.3v1.3h-1.3zM370.5 109.6h1.3v1.3h-1.3zM354.2 144.0h1.3v1.3h-1.3zM366.4 166.7h1.3v1.3h-1.3zM368.2 159.4h1.3v1.3h-1.3zM369.9 145.2h1.3v1.3h-1.3zM370.0 154.6h1.3v1.3h-1.3zM371.5 119.8h1.3v1.3h-1.3zM360.7 166.7h1.3v1.3h-1.3zM362.1 143.3h1.3v1.3h-1.3zM371.8 120.6h1.3v1.3h-1.3zM361.2 158.0h1.3v1.3h-1.3zM360.8 105.2h1.3v1.3h-1.3zM349.6 166.5h1.3v1.3h-1.3zM369.3 108.7h1.3v1.3h-1.3zM360.3 166.1h1.3v1.3h-1.3zM365.9 134.6h1.3v1.3h-1.3zM372.8 157.8h1.3v1.3h-1.3zM364.5 93.3h1.3v1.3h-1.3zM369.4 122.3h1.3v1.3h-1.3zM355.8 77.9h1.3v1.3h-1.3zM374.7 167.0h1.3v1.3h-1.3zM363.0 114.0h1.3v1.3h-1.3zM374.1 142.1h1.3v1.3h-1.3zM360.0 156.8h1.3v1.3h-1.3zM362.2 95.4h1.3v1.3h-1.3zM373.7 113.1h1.3v1.3h-1.3zM353.1 167.3h1.3v1.3h-1.3zM369.5 134.2h1.3v1.3h-1.3zM370.5 164.7h1.3v1.3h-1.3zM364.0 126.7h1.3v1.3h-1.3zM371.1 147.7h1.3v1.3h-1.3zM364.2 148.4h1.3v1.3h-1.3zM355.9 108.4h1.3v1.3h-1.3zM357.6 165.5h1.3v1.3h-1.3zM363.4 163.8h1.3v1.3h-1.3zM370.0 160.6h1.3v1.3h-1.3zM364.7 140.9h1.3v1.3h-1.3zM357.7 156.1h1.3v1.3h-1.3zM367.7 127.6h1.3v1.3h-1.3zM369.7 162.4h1.3v1.3h-1.3zM356.2 166.1h1.3v1.3h-1.3zM371.9 121.8h1.3v1.3h-1.3zM363.2 141.1h1.3v1.3h-1.3zM367.1 146.7h1.3v1.3h-1.3zM362.9 165.2h1.3v1.3h-1.3zM361.3 142.4h1.3v1.3h-1.3zM353.7 155.2h1.3v1.3h-1.3zM361.8 112.9h1.3v1.3h-1.3zM359.7 106.3h1.3v1.3h-1.3zM368.2 165.3h1.3v1.3h-1.3zM371.2 104.9h1.3v1.3h-1.3zM375.4 145.3h1.3v1.3h-1.3zM359.4 164.5h1.3v1.3h-1.3zM367.7 145.3h1.3v1.3h-1.3zM361.1 147.1h1.3v1.3h-1.3zM372.7 152.8h1.3v1.3h-1.3zM373.9 161.5h1.3v1.3h-1.3zM368.7 106.7h1.3v1.3h-1.3zM368.0 147.4h1.3v1.3h-1.3zM358.5 160.5h1.3v1.3h-1.3zM369.8 126.7h1.3v1.3h-1.3zM356.4 153.3h1.3v1.3h-1.3zM363.4 101.9h1.3v1.3h-1.3zM358.6 165.7h1.3v1.3h-1.3zM362.1 141.2h1.3v1.3h-1.3zM364.3 122.3h1.3v1.3h-1.3zM362.5 159.8h1.3v1.3h-1.3zM369.3 140.9h1.3v1.3h-1.3zM365.6 139.4h1.3v1.3h-1.3zM369.5 133.0h1.3v1.3h-1.3zM357.1 118.4h1.3v1.3h-1.3zM368.0 149.7h1.3v1.3h-1.3zM374.5 152.6h1.3v1.3h-1.3zM369.4 128.6h1.3v1.3h-1.3zM371.4 134.2h1.3v1.3h-1.3zM369.3 161.7h1.3v1.3h-1.3zM373.4 121.3h1.3v1.3h-1.3zM370.8 137.9h1.3v1.3h-1.3zM362.2 127.2h1.3v1.3h-1.3zM374.3 127.3h1.3v1.3h-1.3zM361.3 80.8h1.3v1.3h-1.3zM357.4 160.4h1.3v1.3h-1.3zM357.8 161.7h1.3v1.3h-1.3zM368.7 147.9h1.3v1.3h-1.3zM359.3 96.7h1.3v1.3h-1.3zM355.8 121.0h1.3v1.3h-1.3zM371.4 114.0h1.3v1.3h-1.3zM356.2 140.5h1.3v1.3h-1.3zM370.2 161.1h1.3v1.3h-1.3zM352.1 157.9h1.3v1.3h-1.3zM362.7 158.8h1.3v1.3h-1.3zM354.6 135.8h1.3v1.3h-1.3zM375.2 118.9h1.3v1.3h-1.3zM367.7 116.4h1.3v1.3h-1.3zM357.3 101.0h1.3v1.3h-1.3zM367.2 162.0h1.3v1.3h-1.3zM370.5 115.0h1.3v1.3h-1.3zM361.5 118.6h1.3v1.3h-1.3zM363.4 159.6h1.3v1.3h-1.3zM370.5 144.2h1.3v1.3h-1.3zM356.3 108.8h1.3v1.3h-1.3zM374.3 150.7h1.3v1.3h-1.3zM354.9 146.1h1.3v1.3h-1.3zM371.0 154.7h1.3v1.3h-1.3zM364.3 114.3h1.3v1.3h-1.3zM354.8 133.8h1.3v1.3h-1.3zM361.5 126.6h1.3v1.3h-1.3zM362.4 101.8h1.3v1.3h-1.3zM359.0 163.6h1.3v1.3h-1.3zM363.0 141.7h1.3v1.3h-1.3zM364.9 153.4h1.3v1.3h-1.3zM360.2 127.0h1.3v1.3h-1.3zM359.0 125.2h1.3v1.3h-1.3zM354.0 158.0h1.3v1.3h-1.3zM362.7 136.9h1.3v1.3h-1.3zM360.9 119.3h1.3v1.3h-1.3zM364.6 133.1h1.3v1.3h-1.3zM372.8 142.6h1.3v1.3h-1.3zM367.1 115.9h1.3v1.3h-1.3zM355.3 163.8h1.3v1.3h-1.3zM371.4 146.5h1.3v1.3h-1.3zM361.2 128.1h1.3v1.3h-1.3zM365.5 162.7h1.3v1.3h-1.3zM370.8 157.7h1.3v1.3h-1.3zM360.1 162.1h1.3v1.3h-1.3zM374.8 157.2h1.3v1.3h-1.3zM363.9 156.7h1.3v1.3h-1.3zM373.9 151.0h1.3v1.3h-1.3zM372.7 153.3h1.3v1.3h-1.3zM364.7 161.5h1.3v1.3h-1.3zM372.3 137.9h1.3v1.3h-1.3zM363.0 123.1h1.3v1.3h-1.3zM370.5 125.8h1.3v1.3h-1.3zM360.0 158.6h1.3v1.3h-1.3zM359.1 158.1h1.3v1.3h-1.3zM364.8 138.5h1.3v1.3h-1.3zM357.1 115.7h1.3v1.3h-1.3zM360.9 83.9h1.3v1.3h-1.3zM370.7 126.3h1.3v1.3h-1.3zM354.6 106.7h1.3v1.3h-1.3zM363.2 135.1h1.3v1.3h-1.3zM368.5 98.8h1.3v1.3h-1.3zM374.9 152.3h1.3v1.3h-1.3zM357.8 152.8h1.3v1.3h-1.3zM361.5 112.4h1.3v1.3h-1.3zM368.0 121.7h1.3v1.3h-1.3zM360.5 134.9h1.3v1.3h-1.3zM353.7 116.7h1.3v1.3h-1.3zM359.2 131.8h1.3v1.3h-1.3zM360.3 166.2h1.3v1.3h-1.3zM370.1 140.6h1.3v1.3h-1.3zM357.7 161.1h1.3v1.3h-1.3zM365.2 154.9h1.3v1.3h-1.3zM361.4 113.6h1.3v1.3h-1.3zM367.6 163.8h1.3v1.3h-1.3zM370.8 144.0h1.3v1.3h-1.3zM373.4 164.8h1.3v1.3h-1.3zM358.9 160.7h1.3v1.3h-1.3zM358.4 156.2h1.3v1.3h-1.3zM370.2 143.1h1.3v1.3h-1.3zM368.6 113.4h1.3v1.3h-1.3zM353.0 167.4h1.3v1.3h-1.3zM365.6 138.5h1.3v1.3h-1.3zM356.5 129.6h1.3v1.3h-1.3zM360.3 146.8h1.3v1.3h-1.3zM369.5 141.6h1.3v1.3h-1.3zM355.6 70.7h1.3v1.3h-1.3zM371.7 150.1h1.3v1.3h-1.3zM371.5 155.8h1.3v1.3h-1.3zM365.7 161.8h1.3v1.3h-1.3zM351.9 151.0h1.3v1.3h-1.3zM368.3 131.8h1.3v1.3h-1.3zM374.7 143.7h1.3v1.3h-1.3zM364.8 129.8h1.3v1.3h-1.3zM362.4 161.4h1.3v1.3h-1.3zM362.2 159.1h1.3v1.3h-1.3zM371.1 138.3h1.3v1.3h-1.3zM374.5 157.4h1.3v1.3h-1.3zM368.9 155.1h1.3v1.3h-1.3zM366.8 99.5h1.3v1.3h-1.3zM353.3 164.9h1.3v1.3h-1.3zM369.2 148.9h1.3v1.3h-1.3zM360.9 164.8h1.3v1.3h-1.3zM358.3 143.4h1.3v1.3h-1.3zM366.5 159.6h1.3v1.3h-1.3zM365.2 151.1h1.3v1.3h-1.3zM355.9 118.2h1.3v1.3h-1.3zM365.6 113.1h1.3v1.3h-1.3zM368.6 161.1h1.3v1.3h-1.3zM365.0 141.9h1.3v1.3h-1.3zM365.6 115.1h1.3v1.3h-1.3zM362.3 122.0h1.3v1.3h-1.3zM364.6 102.3h1.3v1.3h-1.3zM375.6 145.4h1.3v1.3h-1.3zM370.2 138.9h1.3v1.3h-1.3zM368.9 161.4h1.3v1.3h-1.3zM359.9 165.0h1.3v1.3h-1.3zM371.4 141.5h1.3v1.3h-1.3zM372.3 150.0h1.3v1.3h-1.3zM354.4 141.9h1.3v1.3h-1.3zM352.1 150.9h1.3v1.3h-1.3zM371.3 153.0h1.3v1.3h-1.3zM363.9 134.8h1.3v1.3h-1.3zM358.0 136.8h1.3v1.3h-1.3zM359.9 133.0h1.3v1.3h-1.3zM370.2 166.4h1.3v1.3h-1.3zM372.1 153.4h1.3v1.3h-1.3zM369.7 127.7h1.3v1.3h-1.3zM366.0 119.6h1.3v1.3h-1.3zM364.9 88.2h1.3v1.3h-1.3zM359.4 92.8h1.3v1.3h-1.3zM369.8 165.0h1.3v1.3h-1.3zM358.9 163.0h1.3v1.3h-1.3zM372.6 102.2h1.3v1.3h-1.3zM366.5 143.9h1.3v1.3h-1.3zM365.8 141.2h1.3v1.3h-1.3zM367.8 120.1h1.3v1.3h-1.3zM368.1 144.6h1.3v1.3h-1.3zM365.6 158.0h1.3v1.3h-1.3zM366.1 127.3h1.3v1.3h-1.3zM347.1 149.9h1.3v1.3h-1.3zM368.9 136.8h1.3v1.3h-1.3zM363.1 144.6h1.3v1.3h-1.3zM369.1 129.0h1.3v1.3h-1.3zM366.9 111.4h1.3v1.3h-1.3zM362.0 154.6h1.3v1.3h-1.3zM367.4 157.5h1.3v1.3h-1.3zM359.7 140.3h1.3v1.3h-1.3zM369.1 124.4h1.3v1.3h-1.3zM367.5 164.7h1.3v1.3h-1.3zM355.2 132.9h1.3v1.3h-1.3zM358.0 150.1h1.3v1.3h-1.3zM356.0 128.7h1.3v1.3h-1.3zM355.3 130.5h1.3v1.3h-1.3zM356.2 167.4h1.3v1.3h-1.3zM361.6 131.5h1.3v1.3h-1.3zM363.2 159.6h1.3v1.3h-1.3zM366.2 158.7h1.3v1.3h-1.3zM364.7 159.7h1.3v1.3h-1.3zM368.4 160.4h1.3v1.3h-1.3zM370.3 103.1h1.3v1.3h-1.3zM361.0 124.2h1.3v1.3h-1.3zM372.6 165.0h1.3v1.3h-1.3zM357.4 138.7h1.3v1.3h-1.3zM335.1 154.6h1.3v1.3h-1.3zM359.2 145.6h1.3v1.3h-1.3zM359.7 152.6h1.3v1.3h-1.3zM356.8 94.8h1.3v1.3h-1.3zM335.2 161.1h1.3v1.3h-1.3zM368.0 162.5h1.3v1.3h-1.3zM359.3 151.0h1.3v1.3h-1.3zM365.4 126.3h1.3v1.3h-1.3zM367.7 133.1h1.3v1.3h-1.3zM357.6 141.5h1.3v1.3h-1.3zM353.8 132.7h1.3v1.3h-1.3zM371.2 157.4h1.3v1.3h-1.3zM369.4 167.9h1.3v1.3h-1.3zM370.6 154.8h1.3v1.3h-1.3zM370.9 147.9h1.3v1.3h-1.3zM357.4 162.4h1.3v1.3h-1.3zM362.7 165.1h1.3v1.3h-1.3zM365.8 150.6h1.3v1.3h-1.3zM360.5 87.5h1.3v1.3h-1.3zM371.7 160.6h1.3v1.3h-1.3zM368.7 110.4h1.3v1.3h-1.3zM348.8 158.5h1.3v1.3h-1.3zM373.5 162.0h1.3v1.3h-1.3zM362.2 136.0h1.3v1.3h-1.3zM362.3 141.8h1.3v1.3h-1.3zM360.0 163.6h1.3v1.3h-1.3zM364.7 136.6h1.3v1.3h-1.3zM366.9 143.0h1.3v1.3h-1.3zM372.3 167.9h1.3v1.3h-1.3zM360.7 154.6h1.3v1.3h-1.3zM366.1 159.7h1.3v1.3h-1.3zM363.0 120.6h1.3v1.3h-1.3zM374.6 124.9h1.3v1.3h-1.3zM370.2 160.7h1.3v1.3h-1.3zM374.9 153.8h1.3v1.3h-1.3zM357.8 154.7h1.3v1.3h-1.3zM357.1 107.2h1.3v1.3h-1.3zM354.0 166.7h1.3v1.3h-1.3zM345.8 160.3h1.3v1.3h-1.3zM373.2 131.0h1.3v1.3h-1.3zM360.9 160.4h1.3v1.3h-1.3zM369.8 166.2h1.3v1.3h-1.3zM373.4 166.1h1.3v1.3h-1.3zM366.4 160.8h1.3v1.3h-1.3zM353.8 107.0h1.3v1.3h-1.3zM361.9 146.0h1.3v1.3h-1.3zM364.3 165.7h1.3v1.3h-1.3zM375.4 128.9h1.3v1.3h-1.3zM373.1 156.8h1.3v1.3h-1.3zM360.6 161.4h1.3v1.3h-1.3zM356.4 164.5h1.3v1.3h-1.3zM367.2 148.6h1.3v1.3h-1.3zM367.3 136.5h1.3v1.3h-1.3zM367.1 127.8h1.3v1.3h-1.3zM367.6 145.2h1.3v1.3h-1.3zM344.1 160.6h1.3v1.3h-1.3zM350.8 161.0h1.3v1.3h-1.3zM371.6 151.0h1.3v1.3h-1.3zM370.4 126.8h1.3v1.3h-1.3zM361.7 134.2h1.3v1.3h-1.3zM363.7 148.9h1.3v1.3h-1.3zM361.8 139.2h1.3v1.3h-1.3zM371.5 161.0h1.3v1.3h-1.3zM359.5 150.0h1.3v1.3h-1.3zM364.0 152.6h1.3v1.3h-1.3zM365.5 155.7h1.3v1.3h-1.3zM364.4 154.3h1.3v1.3h-1.3zM367.3 163.0h1.3v1.3h-1.3zM365.8 140.2h1.3v1.3h-1.3zM372.1 163.9h1.3v1.3h-1.3zM364.8 166.5h1.3v1.3h-1.3zM375.6 160.3h1.3v1.3h-1.3zM356.5 109.3h1.3v1.3h-1.3zM364.8 94.4h1.3v1.3h-1.3zM368.4 158.1h1.3v1.3h-1.3zM358.0 111.6h1.3v1.3h-1.3zM358.6 118.9h1.3v1.3h-1.3zM354.0 164.6h1.3v1.3h-1.3zM357.6 159.9h1.3v1.3h-1.3zM354.5 119.9h1.3v1.3h-1.3zM368.8 99.6h1.3v1.3h-1.3zM363.5 162.3h1.3v1.3h-1.3zM357.7 160.2h1.3v1.3h-1.3zM348.1 154.6h1.3v1.3h-1.3zM363.1 127.7h1.3v1.3h-1.3zM367.5 120.1h1.3v1.3h-1.3zM368.4 137.0h1.3v1.3h-1.3zM361.1 160.3h1.3v1.3h-1.3zM374.6 151.4h1.3v1.3h-1.3zM364.4 152.5h1.3v1.3h-1.3zM361.4 154.9h1.3v1.3h-1.3zM366.4 135.6h1.3v1.3h-1.3zM360.2 160.7h1.3v1.3h-1.3zM366.7 161.0h1.3v1.3h-1.3zM370.8 163.9h1.3v1.3h-1.3zM362.3 152.7h1.3v1.3h-1.3zM368.3 142.1h1.3v1.3h-1.3zM361.2 151.1h1.3v1.3h-1.3zM364.6 162.5h1.3v1.3h-1.3zM366.0 134.5h1.3v1.3h-1.3zM354.5 137.5h1.3v1.3h-1.3zM357.0 66.6h1.3v1.3h-1.3zM362.9 124.7h1.3v1.3h-1.3zM371.5 116.6h1.3v1.3h-1.3zM366.7 129.5h1.3v1.3h-1.3zM368.1 158.8h1.3v1.3h-1.3zM367.7 162.6h1.3v1.3h-1.3zM373.2 132.6h1.3v1.3h-1.3zM367.2 159.1h1.3v1.3h-1.3zM367.6 131.0h1.3v1.3h-1.3zM367.0 164.7h1.3v1.3h-1.3zM366.9 86.5h1.3v1.3h-1.3zM365.1 146.1h1.3v1.3h-1.3zM354.2 156.7h1.3v1.3h-1.3zM374.3 159.3h1.3v1.3h-1.3zM374.3 166.6h1.3v1.3h-1.3zM371.3 165.4h1.3v1.3h-1.3zM363.1 139.0h1.3v1.3h-1.3zM358.0 121.2h1.3v1.3h-1.3zM359.0 129.2h1.3v1.3h-1.3zM361.5 89.0h1.3v1.3h-1.3zM364.4 132.9h1.3v1.3h-1.3zM364.8 153.7h1.3v1.3h-1.3zM358.4 120.4h1.3v1.3h-1.3zM375.3 119.7h1.3v1.3h-1.3zM371.7 131.4h1.3v1.3h-1.3zM345.3 160.4h1.3v1.3h-1.3zM360.4 135.6h1.3v1.3h-1.3zM364.2 161.9h1.3v1.3h-1.3zM375.2 167.4h1.3v1.3h-1.3zM367.0 129.6h1.3v1.3h-1.3zM374.8 137.7h1.3v1.3h-1.3zM365.4 135.7h1.3v1.3h-1.3zM374.7 160.6h1.3v1.3h-1.3zM372.4 124.0h1.3v1.3h-1.3zM358.7 157.2h1.3v1.3h-1.3zM369.0 140.1h1.3v1.3h-1.3zM368.3 146.7h1.3v1.3h-1.3zM356.2 149.7h1.3v1.3h-1.3zM363.5 154.8h1.3v1.3h-1.3zM353.5 123.5h1.3v1.3h-1.3zM371.5 148.5h1.3v1.3h-1.3zM362.5 159.6h1.3v1.3h-1.3zM359.0 156.8h1.3v1.3h-1.3zM361.6 148.9h1.3v1.3h-1.3zM371.9 89.5h1.3v1.3h-1.3zM359.7 150.1h1.3v1.3h-1.3zM365.4 137.9h1.3v1.3h-1.3zM365.8 96.2h1.3v1.3h-1.3zM359.0 149.5h1.3v1.3h-1.3zM359.5 166.2h1.3v1.3h-1.3zM366.7 126.6h1.3v1.3h-1.3zM371.5 165.3h1.3v1.3h-1.3zM366.0 158.1h1.3v1.3h-1.3zM368.3 124.5h1.3v1.3h-1.3zM372.1 166.1h1.3v1.3h-1.3zM342.5 162.9h1.3v1.3h-1.3zM362.2 162.6h1.3v1.3h-1.3zM357.3 124.9h1.3v1.3h-1.3zM372.7 164.4h1.3v1.3h-1.3zM373.4 160.0h1.3v1.3h-1.3zM365.8 159.3h1.3v1.3h-1.3zM363.0 140.5h1.3v1.3h-1.3zM370.0 128.6h1.3v1.3h-1.3zM365.1 73.0h1.3v1.3h-1.3zM361.2 117.9h1.3v1.3h-1.3zM375.3 159.5h1.3v1.3h-1.3zM373.3 149.3h1.3v1.3h-1.3zM364.2 110.5h1.3v1.3h-1.3zM369.0 168.0h1.3v1.3h-1.3zM359.4 154.2h1.3v1.3h-1.3zM359.8 138.0h1.3v1.3h-1.3zM364.3 102.8h1.3v1.3h-1.3zM366.0 129.2h1.3v1.3h-1.3zM370.3 153.9h1.3v1.3h-1.3zM361.0 145.1h1.3v1.3h-1.3zM371.8 156.0h1.3v1.3h-1.3zM357.4 112.6h1.3v1.3h-1.3zM368.0 111.8h1.3v1.3h-1.3zM363.8 134.4h1.3v1.3h-1.3zM362.2 107.1h1.3v1.3h-1.3zM356.1 144.5h1.3v1.3h-1.3zM367.5 122.5h1.3v1.3h-1.3zM369.7 122.6h1.3v1.3h-1.3zM360.4 155.8h1.3v1.3h-1.3zM374.6 167.5h1.3v1.3h-1.3zM365.5 120.5h1.3v1.3h-1.3zM372.4 166.2h1.3v1.3h-1.3zM369.0 127.8h1.3v1.3h-1.3zM372.7 119.7h1.3v1.3h-1.3zM363.2 138.3h1.3v1.3h-1.3zM369.5 128.6h1.3v1.3h-1.3zM354.8 164.9h1.3v1.3h-1.3zM372.6 141.7h1.3v1.3h-1.3zM353.7 148.4h1.3v1.3h-1.3zM353.8 161.3h1.3v1.3h-1.3zM373.0 94.6h1.3v1.3h-1.3zM368.5 130.4h1.3v1.3h-1.3zM370.9 116.8h1.3v1.3h-1.3zM360.9 121.6h1.3v1.3h-1.3zM371.0 127.3h1.3v1.3h-1.3zM368.7 119.8h1.3v1.3h-1.3zM359.5 153.9h1.3v1.3h-1.3zM365.9 156.3h1.3v1.3h-1.3zM358.8 144.6h1.3v1.3h-1.3zM363.1 147.5h1.3v1.3h-1.3zM368.2 143.6h1.3v1.3h-1.3zM371.6 125.5h1.3v1.3h-1.3zM358.8 91.0h1.3v1.3h-1.3zM363.1 119.5h1.3v1.3h-1.3zM359.0 151.8h1.3v1.3h-1.3zM361.0 158.6h1.3v1.3h-1.3zM352.8 151.9h1.3v1.3h-1.3zM366.1 168.1h1.3v1.3h-1.3zM362.5 155.8h1.3v1.3h-1.3zM345.9 160.2h1.3v1.3h-1.3zM373.6 146.5h1.3v1.3h-1.3zM372.9 98.0h1.3v1.3h-1.3zM362.6 141.9h1.3v1.3h-1.3zM362.8 131.1h1.3v1.3h-1.3zM362.3 165.6h1.3v1.3h-1.3zM373.2 166.1h1.3v1.3h-1.3zM365.1 124.7h1.3v1.3h-1.3zM369.4 159.9h1.3v1.3h-1.3zM373.6 152.5h1.3v1.3h-1.3zM363.8 139.4h1.3v1.3h-1.3zM374.4 160.9h1.3v1.3h-1.3zM371.4 165.6h1.3v1.3h-1.3zM368.1 148.3h1.3v1.3h-1.3zM368.8 163.6h1.3v1.3h-1.3zM356.3 155.2h1.3v1.3h-1.3zM370.1 133.1h1.3v1.3h-1.3zM357.6 92.4h1.3v1.3h-1.3zM373.3 144.1h1.3v1.3h-1.3zM363.3 135.7h1.3v1.3h-1.3zM367.5 111.1h1.3v1.3h-1.3zM361.3 152.8h1.3v1.3h-1.3zM360.4 167.5h1.3v1.3h-1.3zM359.6 145.5h1.3v1.3h-1.3zM358.6 88.8h1.3v1.3h-1.3zM355.8 153.6h1.3v1.3h-1.3zM368.0 140.1h1.3v1.3h-1.3zM357.3 154.4h1.3v1.3h-1.3zM370.1 156.2h1.3v1.3h-1.3zM360.0 133.2h1.3v1.3h-1.3zM369.1 167.6h1.3v1.3h-1.3zM368.0 119.2h1.3v1.3h-1.3zM367.8 163.5h1.3v1.3h-1.3zM371.4 159.1h1.3v1.3h-1.3zM361.3 128.6h1.3v1.3h-1.3zM370.6 144.3h1.3v1.3h-1.3zM362.2 90.6h1.3v1.3h-1.3zM366.8 161.9h1.3v1.3h-1.3zM342.1 153.7h1.3v1.3h-1.3zM364.6 106.4h1.3v1.3h-1.3zM349.0 167.1h1.3v1.3h-1.3zM368.3 138.5h1.3v1.3h-1.3zM371.7 164.7h1.3v1.3h-1.3zM372.0 140.1h1.3v1.3h-1.3zM364.4 151.2h1.3v1.3h-1.3zM366.5 153.4h1.3v1.3h-1.3zM368.6 131.6h1.3v1.3h-1.3zM374.6 163.3h1.3v1.3h-1.3zM366.4 155.3h1.3v1.3h-1.3zM362.2 145.6h1.3v1.3h-1.3zM367.2 121.3h1.3v1.3h-1.3zM373.0 140.7h1.3v1.3h-1.3zM373.1 163.7h1.3v1.3h-1.3zM374.9 133.1h1.3v1.3h-1.3zM375.2 168.2h1.3v1.3h-1.3zM371.6 168.1h1.3v1.3h-1.3zM355.1 135.1h1.3v1.3h-1.3zM364.6 143.0h1.3v1.3h-1.3zM359.1 89.0h1.3v1.3h-1.3zM359.5 158.9h1.3v1.3h-1.3zM367.3 156.8h1.3v1.3h-1.3zM357.3 140.0h1.3v1.3h-1.3zM355.3 158.6h1.3v1.3h-1.3zM368.4 163.5h1.3v1.3h-1.3zM371.4 151.6h1.3v1.3h-1.3zM363.5 123.3h1.3v1.3h-1.3zM366.2 165.0h1.3v1.3h-1.3zM368.3 106.8h1.3v1.3h-1.3zM365.2 150.8h1.3v1.3h-1.3zM357.7 129.0h1.3v1.3h-1.3zM372.4 129.9h1.3v1.3h-1.3zM361.1 161.1h1.3v1.3h-1.3zM358.4 154.4h1.3v1.3h-1.3zM365.5 118.7h1.3v1.3h-1.3zM355.2 108.5h1.3v1.3h-1.3zM362.5 164.5h1.3v1.3h-1.3zM374.6 126.8h1.3v1.3h-1.3zM365.9 144.9h1.3v1.3h-1.3zM360.1 137.9h1.3v1.3h-1.3zM366.8 154.1h1.3v1.3h-1.3zM371.9 101.2h1.3v1.3h-1.3zM368.0 129.1h1.3v1.3h-1.3zM374.1 155.7h1.3v1.3h-1.3zM363.7 163.9h1.3v1.3h-1.3zM369.2 117.7h1.3v1.3h-1.3zM371.6 147.5h1.3v1.3h-1.3zM365.1 122.1h1.3v1.3h-1.3zM361.6 150.7h1.3v1.3h-1.3zM355.8 133.9h1.3v1.3h-1.3zM366.6 127.3h1.3v1.3h-1.3zM374.9 116.4h1.3v1.3h-1.3zM363.0 144.1h1.3v1.3h-1.3zM369.9 152.7h1.3v1.3h-1.3zM372.1 149.2h1.3v1.3h-1.3zM365.1 147.9h1.3v1.3h-1.3zM360.3 125.3h1.3v1.3h-1.3zM361.7 103.1h1.3v1.3h-1.3zM357.8 163.8h1.3v1.3h-1.3zM363.9 144.5h1.3v1.3h-1.3zM375.3 157.0h1.3v1.3h-1.3zM368.8 164.3h1.3v1.3h-1.3zM355.6 158.3h1.3v1.3h-1.3zM361.1 144.8h1.3v1.3h-1.3zM360.6 108.8h1.3v1.3h-1.3zM356.7 140.4h1.3v1.3h-1.3zM361.4 60.1h1.3v1.3h-1.3zM358.6 168.0h1.3v1.3h-1.3zM363.7 147.1h1.3v1.3h-1.3zM366.4 168.2h1.3v1.3h-1.3zM374.7 116.1h1.3v1.3h-1.3zM369.9 167.9h1.3v1.3h-1.3zM370.1 114.7h1.3v1.3h-1.3zM361.6 104.6h1.3v1.3h-1.3zM364.6 127.2h1.3v1.3h-1.3zM373.8 154.7h1.3v1.3h-1.3zM355.7 139.0h1.3v1.3h-1.3zM375.1 136.5h1.3v1.3h-1.3zM374.5 155.0h1.3v1.3h-1.3zM361.2 163.7h1.3v1.3h-1.3zM375.1 119.9h1.3v1.3h-1.3zM366.3 152.3h1.3v1.3h-1.3zM370.2 144.8h1.3v1.3h-1.3zM367.0 151.8h1.3v1.3h-1.3zM367.4 160.2h1.3v1.3h-1.3zM358.1 116.2h1.3v1.3h-1.3zM374.5 153.6h1.3v1.3h-1.3zM367.7 156.0h1.3v1.3h-1.3zM358.2 135.0h1.3v1.3h-1.3zM354.7 114.3h1.3v1.3h-1.3zM372.1 162.3h1.3v1.3h-1.3zM369.0 156.2h1.3v1.3h-1.3zM358.9 165.5h1.3v1.3h-1.3zM356.1 157.2h1.3v1.3h-1.3zM374.5 146.8h1.3v1.3h-1.3zM363.3 163.3h1.3v1.3h-1.3zM354.3 157.4h1.3v1.3h-1.3zM368.5 151.5h1.3v1.3h-1.3zM370.7 164.4h1.3v1.3h-1.3zM361.6 111.9h1.3v1.3h-1.3zM360.8 138.9h1.3v1.3h-1.3zM355.1 166.5h1.3v1.3h-1.3zM366.7 165.1h1.3v1.3h-1.3zM362.9 127.6h1.3v1.3h-1.3zM363.7 151.3h1.3v1.3h-1.3zM361.1 98.4h1.3v1.3h-1.3zM360.1 160.7h1.3v1.3h-1.3zM372.6 165.5h1.3v1.3h-1.3zM375.2 133.4h1.3v1.3h-1.3zM366.5 159.0h1.3v1.3h-1.3zM367.6 135.0h1.3v1.3h-1.3zM369.2 151.4h1.3v1.3h-1.3zM369.9 144.8h1.3v1.3h-1.3zM367.5 157.9h1.3v1.3h-1.3zM366.2 86.8h1.3v1.3h-1.3zM354.0 148.5h1.3v1.3h-1.3zM359.1 164.2h1.3v1.3h-1.3zM362.0 166.9h1.3v1.3h-1.3zM357.2 132.6h1.3v1.3h-1.3zM364.4 154.6h1.3v1.3h-1.3zM357.0 151.0h1.3v1.3h-1.3zM371.7 108.3h1.3v1.3h-1.3zM352.6 164.6h1.3v1.3h-1.3zM373.6 122.0h1.3v1.3h-1.3zM363.2 148.5h1.3v1.3h-1.3zM356.2 156.0h1.3v1.3h-1.3zM364.4 160.7h1.3v1.3h-1.3zM362.6 152.0h1.3v1.3h-1.3zM359.8 145.5h1.3v1.3h-1.3zM369.5 158.6h1.3v1.3h-1.3zM366.5 146.4h1.3v1.3h-1.3zM363.5 154.2h1.3v1.3h-1.3zM369.4 161.1h1.3v1.3h-1.3zM360.0 150.3h1.3v1.3h-1.3zM375.1 154.9h1.3v1.3h-1.3zM364.6 126.1h1.3v1.3h-1.3zM358.2 160.3h1.3v1.3h-1.3zM357.0 122.3h1.3v1.3h-1.3zM365.1 132.8h1.3v1.3h-1.3zM371.1 154.9h1.3v1.3h-1.3zM362.6 135.0h1.3v1.3h-1.3zM358.1 164.9h1.3v1.3h-1.3zM364.1 120.7h1.3v1.3h-1.3zM352.3 154.5h1.3v1.3h-1.3zM360.4 148.3h1.3v1.3h-1.3zM356.3 107.6h1.3v1.3h-1.3zM371.8 157.0h1.3v1.3h-1.3zM362.9 58.6h1.3v1.3h-1.3zM345.9 151.6h1.3v1.3h-1.3zM361.7 123.9h1.3v1.3h-1.3zM366.6 98.4h1.3v1.3h-1.3zM358.8 153.1h1.3v1.3h-1.3zM361.5 167.7h1.3v1.3h-1.3zM365.3 153.5h1.3v1.3h-1.3zM368.0 154.4h1.3v1.3h-1.3zM357.8 125.3h1.3v1.3h-1.3zM368.1 140.0h1.3v1.3h-1.3zM374.6 157.9h1.3v1.3h-1.3zM358.2 167.2h1.3v1.3h-1.3zM356.2 156.5h1.3v1.3h-1.3zM353.7 146.9h1.3v1.3h-1.3zM369.9 164.4h1.3v1.3h-1.3zM371.8 154.8h1.3v1.3h-1.3zM363.3 160.1h1.3v1.3h-1.3zM365.0 110.0h1.3v1.3h-1.3zM374.5 167.1h1.3v1.3h-1.3zM370.4 148.7h1.3v1.3h-1.3zM366.4 153.9h1.3v1.3h-1.3zM368.5 153.6h1.3v1.3h-1.3zM361.2 159.3h1.3v1.3h-1.3zM366.7 149.7h1.3v1.3h-1.3zM368.1 165.4h1.3v1.3h-1.3zM357.5 165.4h1.3v1.3h-1.3zM375.6 147.0h1.3v1.3h-1.3zM362.3 158.1h1.3v1.3h-1.3zM359.7 105.3h1.3v1.3h-1.3zM373.9 139.7h1.3v1.3h-1.3zM365.1 143.4h1.3v1.3h-1.3zM358.1 164.7h1.3v1.3h-1.3zM353.8 156.4h1.3v1.3h-1.3zM373.3 156.4h1.3v1.3h-1.3zM357.4 152.1h1.3v1.3h-1.3zM359.3 74.0h1.3v1.3h-1.3zM374.2 135.7h1.3v1.3h-1.3zM355.4 135.5h1.3v1.3h-1.3zM371.4 160.4h1.3v1.3h-1.3zM373.0 154.2h1.3v1.3h-1.3zM372.5 128.6h1.3v1.3h-1.3zM353.6 134.5h1.3v1.3h-1.3zM367.4 161.7h1.3v1.3h-1.3zM354.7 162.6h1.3v1.3h-1.3zM361.0 163.9h1.3v1.3h-1.3zM361.6 146.9h1.3v1.3h-1.3zM360.4 157.0h1.3v1.3h-1.3zM364.4 148.5h1.3v1.3h-1.3zM372.3 139.5h1.3v1.3h-1.3zM372.6 134.2h1.3v1.3h-1.3zM372.0 126.3h1.3v1.3h-1.3zM375.0 136.6h1.3v1.3h-1.3zM364.6 164.9h1.3v1.3h-1.3zM363.3 129.2h1.3v1.3h-1.3zM363.2 115.5h1.3v1.3h-1.3zM363.9 102.0h1.3v1.3h-1.3zM375.5 150.9h1.3v1.3h-1.3zM369.7 108.8h1.3v1.3h-1.3zM364.8 167.5h1.3v1.3h-1.3zM371.6 166.1h1.3v1.3h-1.3zM370.7 138.9h1.3v1.3h-1.3zM372.1 157.9h1.3v1.3h-1.3zM355.7 107.1h1.3v1.3h-1.3zM369.4 150.9h1.3v1.3h-1.3zM366.1 128.8h1.3v1.3h-1.3zM370.0 139.9h1.3v1.3h-1.3zM361.2 132.2h1.3v1.3h-1.3zM369.5 149.6h1.3v1.3h-1.3zM366.1 158.4h1.3v1.3h-1.3zM368.1 153.2h1.3v1.3h-1.3zM363.6 146.9h1.3v1.3h-1.3zM365.3 126.3h1.3v1.3h-1.3zM372.1 127.3h1.3v1.3h-1.3zM358.4 161.2h1.3v1.3h-1.3zM364.7 155.5h1.3v1.3h-1.3zM359.8 147.1h1.3v1.3h-1.3zM370.0 121.9h1.3v1.3h-1.3zM371.1 118.1h1.3v1.3h-1.3zM370.8 138.0h1.3v1.3h-1.3zM355.2 148.5h1.3v1.3h-1.3zM367.3 159.5h1.3v1.3h-1.3zM361.1 138.8h1.3v1.3h-1.3zM369.1 164.3h1.3v1.3h-1.3zM357.6 108.7h1.3v1.3h-1.3zM357.4 122.0h1.3v1.3h-1.3zM371.4 146.9h1.3v1.3h-1.3zM372.0 163.5h1.3v1.3h-1.3zM374.3 163.5h1.3v1.3h-1.3zM353.9 149.0h1.3v1.3h-1.3zM363.4 147.3h1.3v1.3h-1.3zM370.3 161.6h1.3v1.3h-1.3zM369.3 167.1h1.3v1.3h-1.3zM369.2 160.9h1.3v1.3h-1.3zM356.9 129.4h1.3v1.3h-1.3zM358.8 148.7h1.3v1.3h-1.3zM354.4 166.3h1.3v1.3h-1.3zM373.7 107.0h1.3v1.3h-1.3zM367.4 166.7h1.3v1.3h-1.3zM372.4 159.6h1.3v1.3h-1.3zM357.1 165.6h1.3v1.3h-1.3zM367.5 157.6h1.3v1.3h-1.3zM367.9 164.9h1.3v1.3h-1.3zM372.2 132.5h1.3v1.3h-1.3zM374.4 148.9h1.3v1.3h-1.3zM371.1 159.9h1.3v1.3h-1.3zM369.3 143.8h1.3v1.3h-1.3zM362.9 154.5h1.3v1.3h-1.3zM365.5 104.5h1.3v1.3h-1.3zM365.7 138.7h1.3v1.3h-1.3zM372.8 138.3h1.3v1.3h-1.3zM354.6 164.1h1.3v1.3h-1.3zM362.1 157.6h1.3v1.3h-1.3zM364.6 136.2h1.3v1.3h-1.3zM364.4 150.8h1.3v1.3h-1.3zM357.4 156.5h1.3v1.3h-1.3zM360.3 164.2h1.3v1.3h-1.3zM361.4 135.0h1.3v1.3h-1.3zM368.3 144.6h1.3v1.3h-1.3zM360.7 128.9h1.3v1.3h-1.3zM370.1 166.2h1.3v1.3h-1.3zM364.6 129.7h1.3v1.3h-1.3zM372.1 154.5h1.3v1.3h-1.3zM358.7 65.7h1.3v1.3h-1.3zM371.3 137.1h1.3v1.3h-1.3zM356.7 126.1h1.3v1.3h-1.3zM369.8 158.5h1.3v1.3h-1.3zM368.8 150.4h1.3v1.3h-1.3zM366.9 106.2h1.3v1.3h-1.3zM375.4 125.1h1.3v1.3h-1.3zM361.2 152.2h1.3v1.3h-1.3zM374.8 141.8h1.3v1.3h-1.3zM366.3 157.5h1.3v1.3h-1.3zM364.3 154.2h1.3v1.3h-1.3zM364.9 164.2h1.3v1.3h-1.3zM367.6 163.4h1.3v1.3h-1.3zM372.0 160.8h1.3v1.3h-1.3zM369.9 161.8h1.3v1.3h-1.3zM368.4 159.6h1.3v1.3h-1.3zM369.4 141.0h1.3v1.3h-1.3zM362.6 166.3h1.3v1.3h-1.3zM356.2 158.5h1.3v1.3h-1.3zM371.3 147.7h1.3v1.3h-1.3zM363.3 141.9h1.3v1.3h-1.3zM374.3 137.4h1.3v1.3h-1.3zM372.3 165.6h1.3v1.3h-1.3zM352.5 160.5h1.3v1.3h-1.3zM366.2 154.3h1.3v1.3h-1.3zM374.3 152.4h1.3v1.3h-1.3zM360.2 101.4h1.3v1.3h-1.3zM371.0 137.0h1.3v1.3h-1.3zM366.1 162.5h1.3v1.3h-1.3zM365.3 149.7h1.3v1.3h-1.3zM361.1 135.9h1.3v1.3h-1.3zM370.4 167.0h1.3v1.3h-1.3zM363.6 151.7h1.3v1.3h-1.3zM359.9 154.2h1.3v1.3h-1.3zM353.2 152.9h1.3v1.3h-1.3zM364.2 113.5h1.3v1.3h-1.3zM366.1 160.0h1.3v1.3h-1.3zM369.8 114.5h1.3v1.3h-1.3zM359.9 121.8h1.3v1.3h-1.3zM362.0 149.0h1.3v1.3h-1.3zM373.4 120.2h1.3v1.3h-1.3zM371.9 112.8h1.3v1.3h-1.3zM350.8 162.7h1.3v1.3h-1.3zM368.6 143.1h1.3v1.3h-1.3zM365.2 163.3h1.3v1.3h-1.3zM358.6 111.8h1.3v1.3h-1.3zM373.1 156.3h1.3v1.3h-1.3zM358.0 159.0h1.3v1.3h-1.3zM367.7 154.0h1.3v1.3h-1.3zM357.2 168.3h1.3v1.3h-1.3zM363.1 71.5h1.3v1.3h-1.3zM354.8 131.2h1.3v1.3h-1.3zM359.4 159.8h1.3v1.3h-1.3zM362.7 103.0h1.3v1.3h-1.3zM368.8 164.3h1.3v1.3h-1.3zM363.8 131.1h1.3v1.3h-1.3zM361.0 118.5h1.3v1.3h-1.3zM353.9 118.0h1.3v1.3h-1.3zM357.0 163.3h1.3v1.3h-1.3zM364.2 153.0h1.3v1.3h-1.3zM362.6 161.9h1.3v1.3h-1.3zM354.0 143.2h1.3v1.3h-1.3zM356.7 165.1h1.3v1.3h-1.3zM358.4 150.6h1.3v1.3h-1.3zM367.1 149.7h1.3v1.3h-1.3zM355.5 164.8h1.3v1.3h-1.3zM369.0 139.3h1.3v1.3h-1.3zM358.2 133.8h1.3v1.3h-1.3zM367.0 101.4h1.3v1.3h-1.3zM371.0 147.9h1.3v1.3h-1.3zM353.7 150.6h1.3v1.3h-1.3zM361.1 121.0h1.3v1.3h-1.3zM360.2 61.2h1.3v1.3h-1.3zM364.8 165.9h1.3v1.3h-1.3zM367.1 148.6h1.3v1.3h-1.3zM362.0 111.4h1.3v1.3h-1.3zM359.0 122.9h1.3v1.3h-1.3zM362.0 157.4h1.3v1.3h-1.3zM333.4 156.6h1.3v1.3h-1.3zM340.3 156.0h1.3v1.3h-1.3zM367.9 114.0h1.3v1.3h-1.3zM361.5 141.9h1.3v1.3h-1.3zM368.0 159.2h1.3v1.3h-1.3zM372.9 154.2h1.3v1.3h-1.3zM361.8 148.0h1.3v1.3h-1.3zM368.1 128.9h1.3v1.3h-1.3zM361.2 120.0h1.3v1.3h-1.3zM362.8 140.9h1.3v1.3h-1.3zM365.4 166.9h1.3v1.3h-1.3zM361.0 105.1h1.3v1.3h-1.3zM364.2 100.6h1.3v1.3h-1.3zM368.1 157.8h1.3v1.3h-1.3zM355.8 143.3h1.3v1.3h-1.3zM356.6 148.8h1.3v1.3h-1.3zM355.9 131.7h1.3v1.3h-1.3zM368.4 166.5h1.3v1.3h-1.3zM367.6 120.0h1.3v1.3h-1.3zM360.2 160.1h1.3v1.3h-1.3zM370.7 131.7h1.3v1.3h-1.3zM358.1 145.7h1.3v1.3h-1.3zM359.9 141.8h1.3v1.3h-1.3zM365.2 75.6h1.3v1.3h-1.3zM354.0 153.7h1.3v1.3h-1.3zM370.3 143.8h1.3v1.3h-1.3zM335.7 167.7h1.3v1.3h-1.3zM372.9 147.9h1.3v1.3h-1.3zM362.6 113.2h1.3v1.3h-1.3zM339.5 153.1h1.3v1.3h-1.3zM358.2 156.3h1.3v1.3h-1.3zM374.7 163.2h1.3v1.3h-1.3zM372.3 132.1h1.3v1.3h-1.3zM365.0 118.4h1.3v1.3h-1.3zM364.8 107.7h1.3v1.3h-1.3zM374.8 123.8h1.3v1.3h-1.3zM364.8 143.2h1.3v1.3h-1.3zM375.0 144.8h1.3v1.3h-1.3zM375.3 157.3h1.3v1.3h-1.3zM369.8 124.0h1.3v1.3h-1.3zM369.3 149.4h1.3v1.3h-1.3zM360.0 164.9h1.3v1.3h-1.3zM372.2 155.4h1.3v1.3h-1.3zM361.8 166.0h1.3v1.3h-1.3zM345.4 150.4h1.3v1.3h-1.3zM367.9 155.8h1.3v1.3h-1.3zM363.1 164.2h1.3v1.3h-1.3zM364.0 153.7h1.3v1.3h-1.3zM373.3 128.0h1.3v1.3h-1.3zM362.2 161.1h1.3v1.3h-1.3zM370.5 108.4h1.3v1.3h-1.3zM355.2 137.8h1.3v1.3h-1.3zM344.4 150.4h1.3v1.3h-1.3zM356.5 159.3h1.3v1.3h-1.3zM344.2 165.0h1.3v1.3h-1.3zM366.3 151.3h1.3v1.3h-1.3zM374.0 101.5h1.3v1.3h-1.3zM375.5 127.8h1.3v1.3h-1.3zM357.6 158.1h1.3v1.3h-1.3zM369.4 152.3h1.3v1.3h-1.3zM364.5 111.8h1.3v1.3h-1.3zM355.3 126.4h1.3v1.3h-1.3zM369.8 161.7h1.3v1.3h-1.3zM364.5 120.0h1.3v1.3h-1.3zM361.4 160.8h1.3v1.3h-1.3zM370.4 154.6h1.3v1.3h-1.3zM369.1 146.4h1.3v1.3h-1.3zM360.0 155.3h1.3v1.3h-1.3zM358.4 144.8h1.3v1.3h-1.3zM371.2 156.9h1.3v1.3h-1.3zM374.4 161.3h1.3v1.3h-1.3zM369.2 155.6h1.3v1.3h-1.3zM370.6 122.5h1.3v1.3h-1.3zM360.6 122.8h1.3v1.3h-1.3zM351.9 150.8h1.3v1.3h-1.3zM363.4 166.2h1.3v1.3h-1.3zM361.8 135.3h1.3v1.3h-1.3zM371.5 136.4h1.3v1.3h-1.3zM371.7 167.3h1.3v1.3h-1.3zM359.6 128.3h1.3v1.3h-1.3zM359.6 150.6h1.3v1.3h-1.3zM370.2 160.3h1.3v1.3h-1.3zM370.2 117.6h1.3v1.3h-1.3zM364.1 150.2h1.3v1.3h-1.3zM356.5 119.0h1.3v1.3h-1.3zM359.7 141.1h1.3v1.3h-1.3zM356.7 143.5h1.3v1.3h-1.3zM363.4 145.5h1.3v1.3h-1.3zM373.9 137.8h1.3v1.3h-1.3zM373.9 160.4h1.3v1.3h-1.3zM374.1 112.7h1.3v1.3h-1.3zM365.1 107.4h1.3v1.3h-1.3zM363.5 122.5h1.3v1.3h-1.3zM356.2 160.4h1.3v1.3h-1.3zM360.5 131.7h1.3v1.3h-1.3zM356.6 154.0h1.3v1.3h-1.3zM369.8 168.0h1.3v1.3h-1.3zM364.2 144.7h1.3v1.3h-1.3zM368.0 153.6h1.3v1.3h-1.3zM355.7 161.3h1.3v1.3h-1.3zM360.2 148.1h1.3v1.3h-1.3zM368.6 167.2h1.3v1.3h-1.3zM358.1 149.2h1.3v1.3h-1.3zM366.3 168.3h1.3v1.3h-1.3zM371.9 135.1h1.3v1.3h-1.3zM363.2 161.7h1.3v1.3h-1.3zM363.7 157.1h1.3v1.3h-1.3zM371.5 155.4h1.3v1.3h-1.3zM359.9 129.1h1.3v1.3h-1.3zM362.5 128.8h1.3v1.3h-1.3zM367.3 164.6h1.3v1.3h-1.3zM359.6 165.3h1.3v1.3h-1.3zM356.7 159.6h1.3v1.3h-1.3zM363.6 103.7h1.3v1.3h-1.3zM356.7 167.9h1.3v1.3h-1.3zM363.2 156.3h1.3v1.3h-1.3zM373.9 151.4h1.3v1.3h-1.3zM370.5 157.2h1.3v1.3h-1.3zM360.9 161.1h1.3v1.3h-1.3zM362.7 164.6h1.3v1.3h-1.3zM372.1 162.4h1.3v1.3h-1.3zM354.6 159.7h1.3v1.3h-1.3zM360.3 157.4h1.3v1.3h-1.3zM369.1 145.9h1.3v1.3h-1.3zM355.1 121.3h1.3v1.3h-1.3zM361.4 156.3h1.3v1.3h-1.3zM355.1 165.2h1.3v1.3h-1.3zM364.8 160.1h1.3v1.3h-1.3zM371.7 145.3h1.3v1.3h-1.3zM356.8 147.6h1.3v1.3h-1.3zM371.1 135.5h1.3v1.3h-1.3zM366.2 162.1h1.3v1.3h-1.3zM363.3 158.7h1.3v1.3h-1.3zM371.1 109.1h1.3v1.3h-1.3zM371.8 164.2h1.3v1.3h-1.3zM360.6 83.3h1.3v1.3h-1.3zM366.8 111.6h1.3v1.3h-1.3zM373.3 165.1h1.3v1.3h-1.3zM364.0 122.4h1.3v1.3h-1.3zM359.1 129.8h1.3v1.3h-1.3zM374.5 153.7h1.3v1.3h-1.3zM371.0 157.6h1.3v1.3h-1.3zM369.8 165.8h1.3v1.3h-1.3zM360.6 109.5h1.3v1.3h-1.3zM374.7 140.4h1.3v1.3h-1.3zM360.5 141.2h1.3v1.3h-1.3zM364.5 117.7h1.3v1.3h-1.3zM365.2 91.2h1.3v1.3h-1.3zM374.1 142.1h1.3v1.3h-1.3zM367.5 80.5h1.3v1.3h-1.3zM367.6 76.1h1.3v1.3h-1.3zM359.7 147.9h1.3v1.3h-1.3zM366.7 146.8h1.3v1.3h-1.3zM367.9 159.0h1.3v1.3h-1.3zM357.3 146.7h1.3v1.3h-1.3zM368.0 157.0h1.3v1.3h-1.3zM364.1 164.3h1.3v1.3h-1.3zM360.0 105.0h1.3v1.3h-1.3zM365.7 157.5h1.3v1.3h-1.3zM358.4 144.0h1.3v1.3h-1.3zM367.2 141.2h1.3v1.3h-1.3zM359.2 155.6h1.3v1.3h-1.3zM373.2 116.1h1.3v1.3h-1.3zM332.4 164.5h1.3v1.3h-1.3zM363.6 164.9h1.3v1.3h-1.3zM355.1 136.3h1.3v1.3h-1.3zM359.2 125.9h1.3v1.3h-1.3zM374.5 142.8h1.3v1.3h-1.3zM355.8 151.3h1.3v1.3h-1.3zM362.3 153.4h1.3v1.3h-1.3zM344.0 151.6h1.3v1.3h-1.3zM356.6 130.0h1.3v1.3h-1.3zM373.6 141.4h1.3v1.3h-1.3zM366.9 154.6h1.3v1.3h-1.3zM365.7 106.2h1.3v1.3h-1.3zM367.0 101.3h1.3v1.3h-1.3zM358.7 159.5h1.3v1.3h-1.3zM369.0 132.4h1.3v1.3h-1.3zM353.3 153.6h1.3v1.3h-1.3zM359.9 130.6h1.3v1.3h-1.3zM369.2 166.4h1.3v1.3h-1.3zM374.0 135.4h1.3v1.3h-1.3zM355.3 165.1h1.3v1.3h-1.3zM359.8 159.7h1.3v1.3h-1.3zM363.0 89.1h1.3v1.3h-1.3zM360.4 155.7h1.3v1.3h-1.3zM360.6 142.8h1.3v1.3h-1.3zM373.7 117.9h1.3v1.3h-1.3zM364.9 162.3h1.3v1.3h-1.3zM362.0 156.4h1.3v1.3h-1.3zM362.9 152.4h1.3v1.3h-1.3zM359.4 139.0h1.3v1.3h-1.3zM357.8 167.3h1.3v1.3h-1.3zM359.6 164.3h1.3v1.3h-1.3zM364.0 157.3h1.3v1.3h-1.3zM357.9 159.5h1.3v1.3h-1.3zM362.9 141.9h1.3v1.3h-1.3zM340.8 159.2h1.3v1.3h-1.3zM369.9 164.1h1.3v1.3h-1.3zM356.0 125.5h1.3v1.3h-1.3zM374.6 153.2h1.3v1.3h-1.3zM373.6 123.7h1.3v1.3h-1.3zM359.5 92.0h1.3v1.3h-1.3zM361.5 145.9h1.3v1.3h-1.3zM355.4 158.8h1.3v1.3h-1.3zM359.1 132.3h1.3v1.3h-1.3zM358.4 149.8h1.3v1.3h-1.3zM365.6 162.5h1.3v1.3h-1.3zM360.2 156.0h1.3v1.3h-1.3zM375.2 151.3h1.3v1.3h-1.3zM371.3 161.2h1.3v1.3h-1.3zM357.1 116.4h1.3v1.3h-1.3zM363.4 159.7h1.3v1.3h-1.3zM364.7 158.0h1.3v1.3h-1.3zM373.7 121.4h1.3v1.3h-1.3zM358.7 121.7h1.3v1.3h-1.3zM375.0 164.7h1.3v1.3h-1.3zM369.1 159.3h1.3v1.3h-1.3zM373.1 145.8h1.3v1.3h-1.3zM352.0 151.5h1.3v1.3h-1.3zM363.7 126.3h1.3v1.3h-1.3zM370.3 159.4h1.3v1.3h-1.3zM373.9 111.8h1.3v1.3h-1.3zM363.1 102.4h1.3v1.3h-1.3zM372.9 161.6h1.3v1.3h-1.3zM363.6 133.9h1.3v1.3h-1.3zM366.1 158.4h1.3v1.3h-1.3zM373.1 167.0h1.3v1.3h-1.3zM361.8 139.9h1.3v1.3h-1.3zM372.9 151.1h1.3v1.3h-1.3zM372.3 136.2h1.3v1.3h-1.3zM367.9 162.6h1.3v1.3h-1.3zM362.7 144.1h1.3v1.3h-1.3zM341.2 149.3h1.3v1.3h-1.3zM372.5 115.0h1.3v1.3h-1.3zM368.5 163.7h1.3v1.3h-1.3zM367.2 140.6h1.3v1.3h-1.3zM360.3 157.8h1.3v1.3h-1.3zM363.0 111.2h1.3v1.3h-1.3zM361.0 133.5h1.3v1.3h-1.3zM360.4 120.9h1.3v1.3h-1.3zM369.2 136.0h1.3v1.3h-1.3zM371.9 156.8h1.3v1.3h-1.3zM372.2 152.9h1.3v1.3h-1.3zM354.5 164.2h1.3v1.3h-1.3zM368.3 152.8h1.3v1.3h-1.3zM361.7 156.3h1.3v1.3h-1.3zM360.8 121.8h1.3v1.3h-1.3zM364.1 159.5h1.3v1.3h-1.3zM358.9 152.6h1.3v1.3h-1.3zM373.8 120.7h1.3v1.3h-1.3zM371.1 120.6h1.3v1.3h-1.3zM359.3 163.6h1.3v1.3h-1.3zM361.9 125.3h1.3v1.3h-1.3zM355.4 155.7h1.3v1.3h-1.3zM374.4 163.3h1.3v1.3h-1.3zM356.0 118.1h1.3v1.3h-1.3zM360.2 155.8h1.3v1.3h-1.3zM356.8 104.0h1.3v1.3h-1.3zM365.1 109.0h1.3v1.3h-1.3zM350.8 154.8h1.3v1.3h-1.3zM366.3 103.4h1.3v1.3h-1.3zM356.3 165.6h1.3v1.3h-1.3zM370.7 161.8h1.3v1.3h-1.3zM364.3 118.5h1.3v1.3h-1.3zM361.5 152.5h1.3v1.3h-1.3zM358.3 163.8h1.3v1.3h-1.3zM368.8 132.9h1.3v1.3h-1.3zM365.5 168.0h1.3v1.3h-1.3zM368.4 160.2h1.3v1.3h-1.3zM359.7 145.6h1.3v1.3h-1.3zM371.9 124.2h1.3v1.3h-1.3zM356.8 153.1h1.3v1.3h-1.3zM359.9 134.1h1.3v1.3h-1.3zM359.1 71.6h1.3v1.3h-1.3zM362.0 100.0h1.3v1.3h-1.3zM354.8 111.4h1.3v1.3h-1.3zM356.2 163.5h1.3v1.3h-1.3zM366.6 166.9h1.3v1.3h-1.3zM374.4 156.6h1.3v1.3h-1.3zM362.0 159.2h1.3v1.3h-1.3zM356.9 143.8h1.3v1.3h-1.3zM369.3 140.6h1.3v1.3h-1.3zM361.5 129.4h1.3v1.3h-1.3zM368.9 115.8h1.3v1.3h-1.3zM369.7 155.6h1.3v1.3h-1.3zM369.7 72.7h1.3v1.3h-1.3zM368.9 166.6h1.3v1.3h-1.3zM360.8 145.8h1.3v1.3h-1.3zM360.4 141.0h1.3v1.3h-1.3zM354.2 130.7h1.3v1.3h-1.3zM369.5 158.2h1.3v1.3h-1.3zM348.9 167.1h1.3v1.3h-1.3zM366.9 109.3h1.3v1.3h-1.3zM373.2 104.9h1.3v1.3h-1.3zM364.3 162.5h1.3v1.3h-1.3zM359.7 168.1h1.3v1.3h-1.3zM374.4 141.0h1.3v1.3h-1.3zM374.0 164.7h1.3v1.3h-1.3zM358.3 96.5h1.3v1.3h-1.3zM375.2 115.9h1.3v1.3h-1.3zM370.3 128.7h1.3v1.3h-1.3zM373.1 145.3h1.3v1.3h-1.3zM369.9 159.1h1.3v1.3h-1.3zM356.5 143.6h1.3v1.3h-1.3zM363.6 105.4h1.3v1.3h-1.3zM375.5 152.1h1.3v1.3h-1.3zM363.4 154.6h1.3v1.3h-1.3zM367.6 142.1h1.3v1.3h-1.3zM371.8 165.3h1.3v1.3h-1.3zM363.7 132.5h1.3v1.3h-1.3zM369.9 155.5h1.3v1.3h-1.3zM368.0 120.1h1.3v1.3h-1.3zM375.3 149.9h1.3v1.3h-1.3zM364.1 145.5h1.3v1.3h-1.3zM371.8 135.1h1.3v1.3h-1.3zM356.3 143.7h1.3v1.3h-1.3zM370.0 111.6h1.3v1.3h-1.3zM360.4 145.2h1.3v1.3h-1.3zM361.8 91.8h1.3v1.3h-1.3zM365.6 165.4h1.3v1.3h-1.3zM360.3 159.5h1.3v1.3h-1.3zM346.2 162.5h1.3v1.3h-1.3zM357.6 126.2h1.3v1.3h-1.3zM359.8 167.7h1.3v1.3h-1.3zM367.9 151.4h1.3v1.3h-1.3zM365.1 166.0h1.3v1.3h-1.3zM361.2 160.7h1.3v1.3h-1.3zM365.9 156.9h1.3v1.3h-1.3zM372.8 149.0h1.3v1.3h-1.3zM374.7 132.2h1.3v1.3h-1.3zM369.2 156.6h1.3v1.3h-1.3zM359.0 165.1h1.3v1.3h-1.3zM360.7 127.2h1.3v1.3h-1.3zM355.9 164.2h1.3v1.3h-1.3zM366.7 139.9h1.3v1.3h-1.3zM359.6 140.1h1.3v1.3h-1.3zM370.1 149.6h1.3v1.3h-1.3zM369.9 156.4h1.3v1.3h-1.3zM352.4 151.1h1.3v1.3h-1.3zM362.0 166.3h1.3v1.3h-1.3zM358.7 168.3h1.3v1.3h-1.3zM370.7 167.5h1.3v1.3h-1.3zM361.0 145.9h1.3v1.3h-1.3zM360.3 110.1h1.3v1.3h-1.3zM363.4 139.3h1.3v1.3h-1.3zM364.6 144.9h1.3v1.3h-1.3zM355.5 159.7h1.3v1.3h-1.3zM361.7 167.2h1.3v1.3h-1.3zM369.7 164.8h1.3v1.3h-1.3zM354.8 146.0h1.3v1.3h-1.3zM367.4 132.2h1.3v1.3h-1.3zM366.6 115.0h1.3v1.3h-1.3zM359.4 134.8h1.3v1.3h-1.3zM358.8 159.0h1.3v1.3h-1.3zM362.3 92.2h1.3v1.3h-1.3zM366.3 155.4h1.3v1.3h-1.3zM362.2 117.7h1.3v1.3h-1.3zM361.6 168.2h1.3v1.3h-1.3zM367.9 129.5h1.3v1.3h-1.3zM369.0 118.6h1.3v1.3h-1.3zM344.2 164.4h1.3v1.3h-1.3zM371.1 160.3h1.3v1.3h-1.3zM361.8 156.5h1.3v1.3h-1.3zM364.1 124.1h1.3v1.3h-1.3zM365.8 160.6h1.3v1.3h-1.3zM346.2 156.5h1.3v1.3h-1.3zM365.4 132.0h1.3v1.3h-1.3zM367.5 146.3h1.3v1.3h-1.3zM355.5 152.3h1.3v1.3h-1.3zM359.2 127.4h1.3v1.3h-1.3zM356.1 128.2h1.3v1.3h-1.3zM360.9 143.2h1.3v1.3h-1.3zM373.8 164.4h1.3v1.3h-1.3zM362.8 166.8h1.3v1.3h-1.3zM362.8 161.4h1.3v1.3h-1.3zM355.0 160.6h1.3v1.3h-1.3zM361.8 158.9h1.3v1.3h-1.3zM356.5 87.4h1.3v1.3h-1.3zM362.5 159.1h1.3v1.3h-1.3zM366.6 157.5h1.3v1.3h-1.3zM369.0 142.5h1.3v1.3h-1.3zM355.5 154.6h1.3v1.3h-1.3zM364.3 164.2h1.3v1.3h-1.3zM370.6 164.7h1.3v1.3h-1.3zM365.9 167.7h1.3v1.3h-1.3zM367.0 159.3h1.3v1.3h-1.3zM366.9 153.9h1.3v1.3h-1.3zM367.8 159.3h1.3v1.3h-1.3zM361.0 159.9h1.3v1.3h-1.3zM367.7 128.1h1.3v1.3h-1.3zM375.1 147.9h1.3v1.3h-1.3zM373.7 143.6h1.3v1.3h-1.3zM372.5 139.4h1.3v1.3h-1.3zM355.4 134.7h1.3v1.3h-1.3zM354.2 154.1h1.3v1.3h-1.3zM366.0 108.3h1.3v1.3h-1.3zM375.1 97.7h1.3v1.3h-1.3zM375.6 153.9h1.3v1.3h-1.3zM362.7 142.7h1.3v1.3h-1.3zM366.8 134.7h1.3v1.3h-1.3zM367.1 120.5h1.3v1.3h-1.3zM373.3 158.5h1.3v1.3h-1.3zM357.2 137.6h1.3v1.3h-1.3zM356.6 110.7h1.3v1.3h-1.3zM368.4 126.4h1.3v1.3h-1.3zM370.1 160.0h1.3v1.3h-1.3zM370.8 155.4h1.3v1.3h-1.3zM362.3 103.0h1.3v1.3h-1.3zM362.4 160.9h1.3v1.3h-1.3zM363.5 141.4h1.3v1.3h-1.3zM366.7 165.3h1.3v1.3h-1.3zM362.4 143.3h1.3v1.3h-1.3zM362.8 123.8h1.3v1.3h-1.3zM360.5 124.3h1.3v1.3h-1.3zM362.8 145.1h1.3v1.3h-1.3zM368.0 125.5h1.3v1.3h-1.3zM368.8 160.4h1.3v1.3h-1.3zM358.3 131.2h1.3v1.3h-1.3zM372.6 129.6h1.3v1.3h-1.3zM363.8 120.0h1.3v1.3h-1.3zM357.7 83.7h1.3v1.3h-1.3zM370.2 149.2h1.3v1.3h-1.3zM364.3 145.5h1.3v1.3h-1.3zM371.7 148.5h1.3v1.3h-1.3zM374.2 166.1h1.3v1.3h-1.3zM354.8 147.5h1.3v1.3h-1.3zM364.7 164.0h1.3v1.3h-1.3zM333.6 167.7h1.3v1.3h-1.3zM354.6 155.3h1.3v1.3h-1.3zM366.1 156.8h1.3v1.3h-1.3zM354.0 120.6h1.3v1.3h-1.3zM373.7 168.1h1.3v1.3h-1.3zM373.0 154.5h1.3v1.3h-1.3zM353.6 156.1h1.3v1.3h-1.3zM362.4 142.1h1.3v1.3h-1.3zM366.9 166.2h1.3v1.3h-1.3zM355.3 137.4h1.3v1.3h-1.3zM360.9 158.6h1.3v1.3h-1.3zM365.1 101.0h1.3v1.3h-1.3zM373.1 164.6h1.3v1.3h-1.3zM370.6 152.2h1.3v1.3h-1.3zM359.4 117.8h1.3v1.3h-1.3zM357.7 159.4h1.3v1.3h-1.3zM362.9 163.4h1.3v1.3h-1.3zM367.2 162.9h1.3v1.3h-1.3zM355.3 163.4h1.3v1.3h-1.3zM360.8 148.7h1.3v1.3h-1.3zM368.2 159.1h1.3v1.3h-1.3zM354.6 109.1h1.3v1.3h-1.3zM364.8 162.9h1.3v1.3h-1.3zM359.9 149.8h1.3v1.3h-1.3zM366.6 130.3h1.3v1.3h-1.3zM358.3 145.2h1.3v1.3h-1.3zM356.0 166.2h1.3v1.3h-1.3zM369.9 127.4h1.3v1.3h-1.3zM362.7 147.1h1.3v1.3h-1.3zM366.0 65.5h1.3v1.3h-1.3zM358.0 150.0h1.3v1.3h-1.3zM368.0 146.4h1.3v1.3h-1.3zM358.9 158.5h1.3v1.3h-1.3zM362.7 167.9h1.3v1.3h-1.3zM362.5 126.6h1.3v1.3h-1.3zM374.4 151.8h1.3v1.3h-1.3zM361.7 105.3h1.3v1.3h-1.3zM372.3 160.6h1.3v1.3h-1.3zM369.0 165.9h1.3v1.3h-1.3zM363.8 130.5h1.3v1.3h-1.3zM350.4 167.3h1.3v1.3h-1.3zM364.7 142.3h1.3v1.3h-1.3zM355.8 150.6h1.3v1.3h-1.3zM370.7 164.5h1.3v1.3h-1.3zM369.6 159.1h1.3v1.3h-1.3zM360.1 108.3h1.3v1.3h-1.3zM373.1 164.3h1.3v1.3h-1.3zM371.8 140.9h1.3v1.3h-1.3zM373.5 164.1h1.3v1.3h-1.3zM348.3 168.0h1.3v1.3h-1.3zM374.8 121.1h1.3v1.3h-1.3zM357.3 140.2h1.3v1.3h-1.3zM356.2 146.5h1.3v1.3h-1.3zM370.6 164.7h1.3v1.3h-1.3zM367.1 164.9h1.3v1.3h-1.3zM363.1 160.1h1.3v1.3h-1.3zM372.9 143.3h1.3v1.3h-1.3zM357.3 151.2h1.3v1.3h-1.3zM365.6 162.3h1.3v1.3h-1.3zM360.5 142.1h1.3v1.3h-1.3zM355.5 167.7h1.3v1.3h-1.3zM365.6 140.9h1.3v1.3h-1.3zM370.6 158.1h1.3v1.3h-1.3zM351.0 159.4h1.3v1.3h-1.3zM364.5 124.8h1.3v1.3h-1.3zM360.8 147.5h1.3v1.3h-1.3zM370.0 113.9h1.3v1.3h-1.3zM369.2 98.6h1.3v1.3h-1.3zM362.8 138.3h1.3v1.3h-1.3zM371.1 133.8h1.3v1.3h-1.3zM372.8 121.9h1.3v1.3h-1.3zM361.4 134.0h1.3v1.3h-1.3zM363.9 161.0h1.3v1.3h-1.3zM369.4 142.8h1.3v1.3h-1.3zM357.4 149.3h1.3v1.3h-1.3zM363.7 146.4h1.3v1.3h-1.3zM361.9 168.2h1.3v1.3h-1.3zM371.8 139.0h1.3v1.3h-1.3zM368.7 125.2h1.3v1.3h-1.3zM369.4 141.1h1.3v1.3h-1.3zM362.9 136.6h1.3v1.3h-1.3zM366.5 150.3h1.3v1.3h-1.3zM362.6 114.2h1.3v1.3h-1.3zM364.8 164.3h1.3v1.3h-1.3zM367.5 137.2h1.3v1.3h-1.3zM361.6 149.6h1.3v1.3h-1.3zM362.1 118.4h1.3v1.3h-1.3zM368.3 108.1h1.3v1.3h-1.3zM369.4 131.7h1.3v1.3h-1.3zM366.4 143.9h1.3v1.3h-1.3zM354.6 76.0h1.3v1.3h-1.3zM363.4 162.3h1.3v1.3h-1.3zM372.5 149.6h1.3v1.3h-1.3zM356.5 166.9h1.3v1.3h-1.3zM364.9 165.8h1.3v1.3h-1.3zM359.4 145.1h1.3v1.3h-1.3zM366.0 131.2h1.3v1.3h-1.3zM364.5 149.8h1.3v1.3h-1.3zM375.2 160.5h1.3v1.3h-1.3zM362.4 166.2h1.3v1.3h-1.3zM363.8 124.0h1.3v1.3h-1.3zM371.2 148.3h1.3v1.3h-1.3zM364.8 107.2h1.3v1.3h-1.3zM362.4 131.8h1.3v1.3h-1.3zM368.2 146.2h1.3v1.3h-1.3zM364.8 162.2h1.3v1.3h-1.3zM360.6 157.2h1.3v1.3h-1.3zM355.2 111.1h1.3v1.3h-1.3zM360.4 131.2h1.3v1.3h-1.3zM355.1 148.0h1.3v1.3h-1.3zM373.8 163.1h1.3v1.3h-1.3zM359.0 119.3h1.3v1.3h-1.3zM353.9 159.0h1.3v1.3h-1.3zM360.8 113.4h1.3v1.3h-1.3zM356.6 159.5h1.3v1.3h-1.3zM374.1 165.9h1.3v1.3h-1.3zM360.6 105.8h1.3v1.3h-1.3zM353.8 144.7h1.3v1.3h-1.3zM371.1 104.7h1.3v1.3h-1.3zM369.9 133.5h1.3v1.3h-1.3zM357.2 145.3h1.3v1.3h-1.3zM367.2 160.7h1.3v1.3h-1.3zM361.3 62.8h1.3v1.3h-1.3zM366.4 154.7h1.3v1.3h-1.3zM370.8 158.6h1.3v1.3h-1.3zM363.4 112.4h1.3v1.3h-1.3zM369.5 107.6h1.3v1.3h-1.3zM363.6 100.6h1.3v1.3h-1.3zM366.3 123.1h1.3v1.3h-1.3zM363.4 137.0h1.3v1.3h-1.3zM362.9 165.9h1.3v1.3h-1.3zM370.3 128.0h1.3v1.3h-1.3zM369.3 163.2h1.3v1.3h-1.3zM360.2 144.5h1.3v1.3h-1.3zM369.2 116.1h1.3v1.3h-1.3zM360.9 162.4h1.3v1.3h-1.3zM370.9 109.6h1.3v1.3h-1.3zM357.4 122.7h1.3v1.3h-1.3zM364.8 166.4h1.3v1.3h-1.3zM355.1 138.4h1.3v1.3h-1.3zM336.9 150.9h1.3v1.3h-1.3zM373.6 145.9h1.3v1.3h-1.3zM370.7 148.8h1.3v1.3h-1.3zM371.5 147.1h1.3v1.3h-1.3zM362.0 120.2h1.3v1.3h-1.3zM364.2 86.3h1.3v1.3h-1.3zM375.2 103.6h1.3v1.3h-1.3zM372.6 163.6h1.3v1.3h-1.3z" fill="#2242f5"/>
<rect x="355" y="40.4" width="2" height="1.4" fill="#2242f5"/>
<rect x="357.5" y="40.4" width="2" height="1.4" fill="#2242f5"/>
<rect x="360.5" y="40.4" width="2" height="1.4" fill="#2242f5"/>
<rect x="364.5" y="40.4" width="2" height="1.4" fill="#2242f5"/>
<path d="M383.0 165.8h1.3v1.3h-1.3zM382.6 162.4h1.3v1.3h-1.3zM380.3 159.7h1.3v1.3h-1.3zM388.7 163.9h1.3v1.3h-1.3zM387.9 169.4h1.3v1.3h-1.3zM392.6 163.7h1.3v1.3h-1.3zM383.2 165.0h1.3v1.3h-1.3zM387.7 165.4h1.3v1.3h-1.3zM388.5 162.6h1.3v1.3h-1.3zM383.7 165.2h1.3v1.3h-1.3zM388.7 158.6h1.3v1.3h-1.3zM377.1 168.7h1.3v1.3h-1.3zM378.5 167.8h1.3v1.3h-1.3zM387.6 167.2h1.3v1.3h-1.3zM392.3 164.2h1.3v1.3h-1.3zM379.7 166.3h1.3v1.3h-1.3zM377.7 167.2h1.3v1.3h-1.3zM390.4 165.9h1.3v1.3h-1.3zM376.7 161.9h1.3v1.3h-1.3zM393.0 163.7h1.3v1.3h-1.3zM387.1 163.5h1.3v1.3h-1.3zM389.7 168.7h1.3v1.3h-1.3zM379.0 165.9h1.3v1.3h-1.3zM388.1 168.1h1.3v1.3h-1.3zM393.2 160.0h1.3v1.3h-1.3zM377.5 169.7h1.3v1.3h-1.3zM377.3 165.5h1.3v1.3h-1.3zM380.3 158.0h1.3v1.3h-1.3zM376.5 164.5h1.3v1.3h-1.3zM378.9 146.1h1.3v1.3h-1.3zM380.8 167.1h1.3v1.3h-1.3zM375.6 155.9h1.3v1.3h-1.3zM388.5 168.8h1.3v1.3h-1.3zM377.1 160.4h1.3v1.3h-1.3zM392.9 161.0h1.3v1.3h-1.3zM391.8 169.4h1.3v1.3h-1.3zM381.6 157.9h1.3v1.3h-1.3zM378.6 165.3h1.3v1.3h-1.3zM378.8 158.7h1.3v1.3h-1.3zM389.0 169.5h1.3v1.3h-1.3zM385.7 167.5h1.3v1.3h-1.3zM375.4 169.8h1.3v1.3h-1.3zM387.4 167.5h1.3v1.3h-1.3zM393.8 156.7h1.3v1.3h-1.3zM393.2 169.8h1.3v1.3h-1.3zM391.3 160.6h1.3v1.3h-1.3zM390.9 169.4h1.3v1.3h-1.3zM379.1 161.0h1.3v1.3h-1.3zM376.4 162.7h1.3v1.3h-1.3zM379.2 157.8h1.3v1.3h-1.3zM378.3 153.1h1.3v1.3h-1.3zM393.1 152.6h1.3v1.3h-1.3zM388.0 165.1h1.3v1.3h-1.3zM392.0 162.9h1.3v1.3h-1.3zM380.0 157.2h1.3v1.3h-1.3zM393.4 136.6h1.3v1.3h-1.3zM382.5 161.5h1.3v1.3h-1.3zM391.6 159.1h1.3v1.3h-1.3zM375.3 169.5h1.3v1.3h-1.3zM376.8 161.3h1.3v1.3h-1.3zM376.7 144.1h1.3v1.3h-1.3zM389.3 168.0h1.3v1.3h-1.3zM388.1 162.6h1.3v1.3h-1.3zM388.2 168.3h1.3v1.3h-1.3zM381.7 159.0h1.3v1.3h-1.3zM376.8 168.6h1.3v1.3h-1.3zM391.7 159.2h1.3v1.3h-1.3zM390.3 150.6h1.3v1.3h-1.3zM391.3 160.8h1.3v1.3h-1.3zM381.4 167.1h1.3v1.3h-1.3zM388.8 159.9h1.3v1.3h-1.3zM380.7 161.7h1.3v1.3h-1.3zM379.2 162.4h1.3v1.3h-1.3zM388.4 160.8h1.3v1.3h-1.3zM387.6 163.7h1.3v1.3h-1.3zM375.2 160.5h1.3v1.3h-1.3zM393.2 159.0h1.3v1.3h-1.3zM376.2 166.8h1.3v1.3h-1.3zM377.9 166.8h1.3v1.3h-1.3zM380.2 169.4h1.3v1.3h-1.3zM378.3 160.0h1.3v1.3h-1.3zM392.2 164.9h1.3v1.3h-1.3zM379.4 161.8h1.3v1.3h-1.3zM377.1 157.3h1.3v1.3h-1.3zM385.4 168.7h1.3v1.3h-1.3zM389.1 164.8h1.3v1.3h-1.3zM392.3 156.6h1.3v1.3h-1.3zM378.5 156.9h1.3v1.3h-1.3zM388.4 167.1h1.3v1.3h-1.3zM376.2 146.7h1.3v1.3h-1.3zM380.4 162.4h1.3v1.3h-1.3zM391.6 161.2h1.3v1.3h-1.3zM389.1 158.5h1.3v1.3h-1.3zM378.2 154.6h1.3v1.3h-1.3zM378.1 144.5h1.3v1.3h-1.3zM391.1 164.7h1.3v1.3h-1.3zM389.5 169.5h1.3v1.3h-1.3zM389.3 167.5h1.3v1.3h-1.3zM377.4 169.9h1.3v1.3h-1.3zM376.6 163.8h1.3v1.3h-1.3zM381.6 161.1h1.3v1.3h-1.3zM392.4 167.4h1.3v1.3h-1.3zM378.2 159.5h1.3v1.3h-1.3zM379.2 164.6h1.3v1.3h-1.3zM386.7 166.9h1.3v1.3h-1.3zM389.6 164.5h1.3v1.3h-1.3zM390.7 158.1h1.3v1.3h-1.3zM391.1 168.7h1.3v1.3h-1.3zM388.2 166.2h1.3v1.3h-1.3zM388.7 162.7h1.3v1.3h-1.3zM377.7 157.7h1.3v1.3h-1.3zM389.3 165.0h1.3v1.3h-1.3zM387.0 169.8h1.3v1.3h-1.3zM388.6 159.0h1.3v1.3h-1.3zM389.2 160.9h1.3v1.3h-1.3zM384.7 168.9h1.3v1.3h-1.3zM386.2 165.8h1.3v1.3h-1.3zM378.9 165.8h1.3v1.3h-1.3zM392.0 166.3h1.3v1.3h-1.3zM391.7 163.7h1.3v1.3h-1.3zM380.1 151.4h1.3v1.3h-1.3zM375.2 158.7h1.3v1.3h-1.3zM387.7 160.4h1.3v1.3h-1.3zM392.3 165.2h1.3v1.3h-1.3zM376.4 156.4h1.3v1.3h-1.3zM391.8 146.1h1.3v1.3h-1.3zM388.5 164.9h1.3v1.3h-1.3zM390.9 169.0h1.3v1.3h-1.3zM390.2 166.0h1.3v1.3h-1.3zM379.1 160.1h1.3v1.3h-1.3zM391.0 165.8h1.3v1.3h-1.3zM383.4 169.9h1.3v1.3h-1.3zM376.5 161.2h1.3v1.3h-1.3zM390.7 165.9h1.3v1.3h-1.3zM390.2 169.5h1.3v1.3h-1.3zM391.5 147.6h1.3v1.3h-1.3zM392.7 165.8h1.3v1.3h-1.3zM377.1 154.0h1.3v1.3h-1.3zM380.0 169.9h1.3v1.3h-1.3zM390.7 168.4h1.3v1.3h-1.3zM393.2 166.0h1.3v1.3h-1.3zM378.6 154.1h1.3v1.3h-1.3zM376.4 159.5h1.3v1.3h-1.3zM388.1 157.8h1.3v1.3h-1.3zM377.4 164.2h1.3v1.3h-1.3zM389.1 164.5h1.3v1.3h-1.3zM377.6 158.4h1.3v1.3h-1.3zM384.0 166.1h1.3v1.3h-1.3zM375.9 169.8h1.3v1.3h-1.3zM377.5 161.6h1.3v1.3h-1.3zM390.1 150.6h1.3v1.3h-1.3zM393.5 163.1h1.3v1.3h-1.3zM393.2 165.8h1.3v1.3h-1.3zM383.0 164.8h1.3v1.3h-1.3zM387.4 164.7h1.3v1.3h-1.3zM393.8 167.2h1.3v1.3h-1.3zM377.0 143.5h1.3v1.3h-1.3zM389.9 157.2h1.3v1.3h-1.3zM384.1 169.1h1.3v1.3h-1.3zM386.6 165.6h1.3v1.3h-1.3zM378.5 165.5h1.3v1.3h-1.3zM391.1 168.3h1.3v1.3h-1.3zM392.2 163.7h1.3v1.3h-1.3zM393.6 142.1h1.3v1.3h-1.3zM379.7 169.0h1.3v1.3h-1.3zM375.3 160.2h1.3v1.3h-1.3zM377.9 154.0h1.3v1.3h-1.3zM381.3 168.2h1.3v1.3h-1.3zM377.3 168.7h1.3v1.3h-1.3zM390.2 168.5h1.3v1.3h-1.3zM375.8 140.4h1.3v1.3h-1.3zM391.0 147.2h1.3v1.3h-1.3zM380.7 155.3h1.3v1.3h-1.3zM376.5 146.0h1.3v1.3h-1.3zM393.1 169.3h1.3v1.3h-1.3zM392.4 166.5h1.3v1.3h-1.3zM375.9 150.4h1.3v1.3h-1.3zM387.3 168.6h1.3v1.3h-1.3zM387.7 167.8h1.3v1.3h-1.3zM379.4 154.4h1.3v1.3h-1.3zM379.0 160.9h1.3v1.3h-1.3zM391.8 169.1h1.3v1.3h-1.3zM375.1 166.6h1.3v1.3h-1.3zM391.5 159.7h1.3v1.3h-1.3zM379.0 152.2h1.3v1.3h-1.3zM388.1 160.0h1.3v1.3h-1.3zM379.9 168.2h1.3v1.3h-1.3zM381.7 164.7h1.3v1.3h-1.3zM380.6 160.5h1.3v1.3h-1.3zM392.6 153.1h1.3v1.3h-1.3zM387.0 167.6h1.3v1.3h-1.3zM377.7 164.6h1.3v1.3h-1.3zM392.0 151.8h1.3v1.3h-1.3zM382.0 167.3h1.3v1.3h-1.3zM378.8 169.9h1.3v1.3h-1.3zM378.4 164.2h1.3v1.3h-1.3zM377.5 160.9h1.3v1.3h-1.3zM388.0 166.0h1.3v1.3h-1.3zM375.5 164.4h1.3v1.3h-1.3zM388.2 165.7h1.3v1.3h-1.3zM393.4 167.8h1.3v1.3h-1.3zM380.4 169.3h1.3v1.3h-1.3zM393.6 162.3h1.3v1.3h-1.3zM386.2 167.8h1.3v1.3h-1.3zM393.5 168.9h1.3v1.3h-1.3zM390.4 150.7h1.3v1.3h-1.3zM378.4 150.6h1.3v1.3h-1.3zM375.7 166.1h1.3v1.3h-1.3zM376.5 158.8h1.3v1.3h-1.3zM378.3 167.1h1.3v1.3h-1.3zM393.4 165.3h1.3v1.3h-1.3zM377.7 167.6h1.3v1.3h-1.3zM390.3 163.3h1.3v1.3h-1.3zM390.0 168.5h1.3v1.3h-1.3zM390.2 159.0h1.3v1.3h-1.3zM375.8 164.3h1.3v1.3h-1.3zM388.7 168.5h1.3v1.3h-1.3zM389.5 160.1h1.3v1.3h-1.3zM380.3 166.9h1.3v1.3h-1.3zM391.2 166.7h1.3v1.3h-1.3zM377.9 153.0h1.3v1.3h-1.3zM375.7 151.9h1.3v1.3h-1.3zM379.9 161.2h1.3v1.3h-1.3zM378.7 153.9h1.3v1.3h-1.3zM387.2 169.4h1.3v1.3h-1.3zM375.2 153.4h1.3v1.3h-1.3zM392.0 144.5h1.3v1.3h-1.3zM392.6 155.3h1.3v1.3h-1.3zM385.4 169.5h1.3v1.3h-1.3zM381.4 162.5h1.3v1.3h-1.3zM379.2 163.0h1.3v1.3h-1.3zM389.2 164.8h1.3v1.3h-1.3zM377.4 143.8h1.3v1.3h-1.3zM389.1 159.8h1.3v1.3h-1.3zM393.3 167.4h1.3v1.3h-1.3zM377.1 164.1h1.3v1.3h-1.3zM377.5 150.4h1.3v1.3h-1.3zM376.7 167.1h1.3v1.3h-1.3zM379.8 154.6h1.3v1.3h-1.3zM389.6 160.7h1.3v1.3h-1.3zM392.3 155.7h1.3v1.3h-1.3zM389.7 168.7h1.3v1.3h-1.3zM386.9 169.8h1.3v1.3h-1.3zM376.4 159.3h1.3v1.3h-1.3zM387.7 162.4h1.3v1.3h-1.3zM376.5 141.7h1.3v1.3h-1.3zM390.1 160.0h1.3v1.3h-1.3zM392.0 168.3h1.3v1.3h-1.3zM377.8 166.7h1.3v1.3h-1.3zM383.0 166.5h1.3v1.3h-1.3z" fill="#c8d3d8"/>
<path d="M426.3 136.6h1.3v1.3h-1.3zM425.9 147.2h1.3v1.3h-1.3zM404.2 154.0h1.3v1.3h-1.3zM398.1 168.5h1.3v1.3h-1.3zM394.9 167.9h1.3v1.3h-1.3zM395.4 125.5h1.3v1.3h-1.3zM400.6 159.2h1.3v1.3h-1.3zM394.1 149.1h1.3v1.3h-1.3zM403.2 165.5h1.3v1.3h-1.3zM394.7 155.0h1.3v1.3h-1.3zM398.4 151.6h1.3v1.3h-1.3zM395.4 167.2h1.3v1.3h-1.3zM400.4 166.5h1.3v1.3h-1.3zM413.8 84.5h1.3v1.3h-1.3zM398.4 148.3h1.3v1.3h-1.3zM408.2 70.1h1.3v1.3h-1.3zM404.7 136.6h1.3v1.3h-1.3zM398.9 160.8h1.3v1.3h-1.3zM398.7 149.1h1.3v1.3h-1.3zM394.8 146.9h1.3v1.3h-1.3zM435.6 154.3h1.3v1.3h-1.3zM400.5 155.3h1.3v1.3h-1.3zM414.4 132.1h1.3v1.3h-1.3zM399.6 133.8h1.3v1.3h-1.3zM396.4 136.2h1.3v1.3h-1.3zM394.0 143.5h1.3v1.3h-1.3zM395.5 162.9h1.3v1.3h-1.3zM406.3 157.2h1.3v1.3h-1.3zM410.5 168.0h1.3v1.3h-1.3zM418.6 166.0h1.3v1.3h-1.3zM398.6 91.1h1.3v1.3h-1.3zM400.4 95.0h1.3v1.3h-1.3zM412.8 153.1h1.3v1.3h-1.3zM406.0 167.6h1.3v1.3h-1.3zM410.6 141.3h1.3v1.3h-1.3zM394.5 164.3h1.3v1.3h-1.3zM403.4 149.2h1.3v1.3h-1.3zM396.1 138.3h1.3v1.3h-1.3zM430.4 146.7h1.3v1.3h-1.3zM409.0 160.9h1.3v1.3h-1.3zM408.0 84.3h1.3v1.3h-1.3zM399.9 154.4h1.3v1.3h-1.3zM394.4 165.0h1.3v1.3h-1.3zM395.5 160.0h1.3v1.3h-1.3zM403.5 108.8h1.3v1.3h-1.3zM413.3 156.8h1.3v1.3h-1.3zM417.8 147.0h1.3v1.3h-1.3zM410.4 109.5h1.3v1.3h-1.3zM401.1 161.2h1.3v1.3h-1.3zM409.9 158.8h1.3v1.3h-1.3zM402.0 167.4h1.3v1.3h-1.3zM398.8 157.7h1.3v1.3h-1.3zM435.7 148.2h1.3v1.3h-1.3zM423.2 157.0h1.3v1.3h-1.3zM402.4 87.4h1.3v1.3h-1.3zM402.3 149.1h1.3v1.3h-1.3zM407.2 162.8h1.3v1.3h-1.3zM408.2 151.2h1.3v1.3h-1.3zM402.0 102.2h1.3v1.3h-1.3zM395.3 147.8h1.3v1.3h-1.3zM394.4 152.5h1.3v1.3h-1.3zM427.5 163.3h1.3v1.3h-1.3zM395.2 156.1h1.3v1.3h-1.3zM394.4 153.7h1.3v1.3h-1.3zM396.6 144.2h1.3v1.3h-1.3zM402.6 162.1h1.3v1.3h-1.3zM402.2 101.0h1.3v1.3h-1.3zM403.8 168.1h1.3v1.3h-1.3zM400.9 145.8h1.3v1.3h-1.3zM393.9 154.3h1.3v1.3h-1.3zM400.7 157.2h1.3v1.3h-1.3zM441.0 157.9h1.3v1.3h-1.3zM411.1 157.7h1.3v1.3h-1.3zM414.6 125.2h1.3v1.3h-1.3zM400.8 150.9h1.3v1.3h-1.3zM395.5 120.3h1.3v1.3h-1.3zM393.9 161.9h1.3v1.3h-1.3zM399.9 150.9h1.3v1.3h-1.3zM422.3 87.4h1.3v1.3h-1.3zM394.9 150.7h1.3v1.3h-1.3zM402.8 132.1h1.3v1.3h-1.3zM411.6 163.7h1.3v1.3h-1.3zM395.5 167.4h1.3v1.3h-1.3zM449.3 151.6h1.3v1.3h-1.3zM407.7 160.4h1.3v1.3h-1.3zM418.2 157.8h1.3v1.3h-1.3zM396.0 168.0h1.3v1.3h-1.3zM410.9 158.9h1.3v1.3h-1.3zM403.1 165.7h1.3v1.3h-1.3zM447.7 111.9h1.3v1.3h-1.3zM394.5 125.9h1.3v1.3h-1.3zM396.3 151.3h1.3v1.3h-1.3zM396.1 165.1h1.3v1.3h-1.3zM404.1 134.0h1.3v1.3h-1.3zM396.6 164.9h1.3v1.3h-1.3zM415.0 166.7h1.3v1.3h-1.3zM401.7 132.0h1.3v1.3h-1.3zM408.7 83.9h1.3v1.3h-1.3zM415.1 69.2h1.3v1.3h-1.3zM402.3 163.0h1.3v1.3h-1.3zM401.7 145.0h1.3v1.3h-1.3zM403.3 129.8h1.3v1.3h-1.3zM403.9 158.7h1.3v1.3h-1.3zM420.4 91.0h1.3v1.3h-1.3zM399.2 167.2h1.3v1.3h-1.3zM405.4 164.6h1.3v1.3h-1.3zM411.5 153.8h1.3v1.3h-1.3zM430.3 139.7h1.3v1.3h-1.3zM403.4 146.0h1.3v1.3h-1.3zM416.0 73.2h1.3v1.3h-1.3zM414.9 165.7h1.3v1.3h-1.3zM414.7 166.8h1.3v1.3h-1.3zM404.4 98.1h1.3v1.3h-1.3zM427.5 140.3h1.3v1.3h-1.3zM408.7 144.2h1.3v1.3h-1.3zM396.5 144.9h1.3v1.3h-1.3zM404.9 166.4h1.3v1.3h-1.3zM395.1 152.9h1.3v1.3h-1.3zM397.0 147.2h1.3v1.3h-1.3zM412.4 160.6h1.3v1.3h-1.3zM408.9 143.5h1.3v1.3h-1.3zM401.4 124.4h1.3v1.3h-1.3zM399.4 152.9h1.3v1.3h-1.3zM407.9 157.0h1.3v1.3h-1.3zM399.0 112.4h1.3v1.3h-1.3zM396.7 136.2h1.3v1.3h-1.3zM403.0 168.3h1.3v1.3h-1.3zM398.8 129.6h1.3v1.3h-1.3zM398.4 135.5h1.3v1.3h-1.3zM416.8 131.4h1.3v1.3h-1.3zM414.2 164.6h1.3v1.3h-1.3zM396.9 153.7h1.3v1.3h-1.3zM400.9 156.2h1.3v1.3h-1.3zM397.4 149.0h1.3v1.3h-1.3zM401.9 166.9h1.3v1.3h-1.3zM407.9 135.6h1.3v1.3h-1.3zM412.4 155.4h1.3v1.3h-1.3zM394.9 168.0h1.3v1.3h-1.3zM400.3 168.0h1.3v1.3h-1.3zM396.4 149.2h1.3v1.3h-1.3zM393.8 149.1h1.3v1.3h-1.3zM420.2 167.5h1.3v1.3h-1.3zM394.9 112.1h1.3v1.3h-1.3zM401.8 140.8h1.3v1.3h-1.3zM412.8 148.4h1.3v1.3h-1.3zM425.3 141.8h1.3v1.3h-1.3zM422.2 138.7h1.3v1.3h-1.3zM408.2 165.3h1.3v1.3h-1.3zM417.0 158.5h1.3v1.3h-1.3zM437.3 127.7h1.3v1.3h-1.3zM399.9 131.9h1.3v1.3h-1.3zM409.4 149.2h1.3v1.3h-1.3zM400.1 166.9h1.3v1.3h-1.3zM407.2 146.7h1.3v1.3h-1.3zM402.4 157.6h1.3v1.3h-1.3zM399.6 133.9h1.3v1.3h-1.3zM420.7 138.7h1.3v1.3h-1.3zM400.8 156.5h1.3v1.3h-1.3zM412.0 151.3h1.3v1.3h-1.3zM396.8 160.3h1.3v1.3h-1.3zM403.8 155.5h1.3v1.3h-1.3zM426.3 164.1h1.3v1.3h-1.3zM407.1 150.3h1.3v1.3h-1.3zM394.1 154.7h1.3v1.3h-1.3zM401.8 155.8h1.3v1.3h-1.3zM426.0 166.0h1.3v1.3h-1.3zM400.4 145.5h1.3v1.3h-1.3zM396.1 167.7h1.3v1.3h-1.3zM403.5 157.8h1.3v1.3h-1.3zM399.5 163.5h1.3v1.3h-1.3zM401.2 160.3h1.3v1.3h-1.3zM402.2 138.2h1.3v1.3h-1.3zM405.8 132.4h1.3v1.3h-1.3zM402.6 166.2h1.3v1.3h-1.3zM408.0 151.3h1.3v1.3h-1.3zM401.4 96.6h1.3v1.3h-1.3zM403.0 161.7h1.3v1.3h-1.3zM407.7 168.4h1.3v1.3h-1.3zM399.7 153.1h1.3v1.3h-1.3zM398.5 150.6h1.3v1.3h-1.3zM404.1 161.7h1.3v1.3h-1.3zM394.4 142.9h1.3v1.3h-1.3zM417.7 160.3h1.3v1.3h-1.3zM396.9 159.9h1.3v1.3h-1.3zM398.8 146.1h1.3v1.3h-1.3zM428.6 91.8h1.3v1.3h-1.3zM417.9 63.0h1.3v1.3h-1.3zM398.8 163.6h1.3v1.3h-1.3zM403.9 159.8h1.3v1.3h-1.3zM394.9 112.1h1.3v1.3h-1.3zM394.8 167.8h1.3v1.3h-1.3zM395.1 158.9h1.3v1.3h-1.3zM398.2 153.8h1.3v1.3h-1.3zM434.7 134.7h1.3v1.3h-1.3zM418.2 69.8h1.3v1.3h-1.3zM403.7 154.3h1.3v1.3h-1.3zM401.7 164.8h1.3v1.3h-1.3zM425.5 112.6h1.3v1.3h-1.3zM395.3 164.6h1.3v1.3h-1.3zM407.5 108.2h1.3v1.3h-1.3zM401.7 166.7h1.3v1.3h-1.3zM404.5 167.9h1.3v1.3h-1.3zM398.8 127.3h1.3v1.3h-1.3zM404.3 168.4h1.3v1.3h-1.3zM398.8 143.3h1.3v1.3h-1.3zM409.1 158.1h1.3v1.3h-1.3zM397.0 78.5h1.3v1.3h-1.3zM396.1 156.7h1.3v1.3h-1.3zM399.5 154.0h1.3v1.3h-1.3zM405.5 158.8h1.3v1.3h-1.3zM396.3 63.3h1.3v1.3h-1.3zM399.0 155.2h1.3v1.3h-1.3zM439.7 126.4h1.3v1.3h-1.3zM408.8 131.9h1.3v1.3h-1.3zM427.6 122.8h1.3v1.3h-1.3zM416.8 88.8h1.3v1.3h-1.3zM398.9 148.8h1.3v1.3h-1.3zM399.8 168.3h1.3v1.3h-1.3zM393.8 157.1h1.3v1.3h-1.3zM418.2 158.9h1.3v1.3h-1.3zM397.4 168.1h1.3v1.3h-1.3zM408.0 128.7h1.3v1.3h-1.3zM401.5 139.4h1.3v1.3h-1.3zM408.5 166.0h1.3v1.3h-1.3zM401.9 131.3h1.3v1.3h-1.3zM410.9 147.0h1.3v1.3h-1.3zM400.3 150.8h1.3v1.3h-1.3zM407.1 151.3h1.3v1.3h-1.3zM398.7 133.9h1.3v1.3h-1.3zM399.7 129.6h1.3v1.3h-1.3zM399.2 139.4h1.3v1.3h-1.3zM429.1 108.8h1.3v1.3h-1.3zM397.9 156.0h1.3v1.3h-1.3zM402.8 153.7h1.3v1.3h-1.3zM400.1 167.6h1.3v1.3h-1.3zM406.6 99.9h1.3v1.3h-1.3zM411.9 166.8h1.3v1.3h-1.3zM410.4 135.5h1.3v1.3h-1.3zM395.0 154.3h1.3v1.3h-1.3zM423.1 118.3h1.3v1.3h-1.3zM396.7 135.3h1.3v1.3h-1.3zM401.1 150.5h1.3v1.3h-1.3zM400.1 156.7h1.3v1.3h-1.3zM432.6 152.6h1.3v1.3h-1.3zM435.0 142.9h1.3v1.3h-1.3zM420.6 106.4h1.3v1.3h-1.3zM402.4 156.0h1.3v1.3h-1.3zM408.0 147.0h1.3v1.3h-1.3zM404.1 159.2h1.3v1.3h-1.3zM408.1 156.5h1.3v1.3h-1.3zM404.2 150.8h1.3v1.3h-1.3zM393.8 159.9h1.3v1.3h-1.3zM428.4 109.7h1.3v1.3h-1.3zM404.5 149.2h1.3v1.3h-1.3zM423.6 122.4h1.3v1.3h-1.3zM435.1 155.8h1.3v1.3h-1.3zM406.1 155.6h1.3v1.3h-1.3zM399.9 122.1h1.3v1.3h-1.3zM398.2 154.3h1.3v1.3h-1.3zM398.7 157.6h1.3v1.3h-1.3zM394.7 119.5h1.3v1.3h-1.3zM404.3 127.8h1.3v1.3h-1.3zM397.8 141.8h1.3v1.3h-1.3zM419.6 130.9h1.3v1.3h-1.3zM400.3 156.0h1.3v1.3h-1.3zM396.3 162.1h1.3v1.3h-1.3zM408.1 118.8h1.3v1.3h-1.3zM403.8 153.1h1.3v1.3h-1.3zM393.8 163.2h1.3v1.3h-1.3zM401.8 157.0h1.3v1.3h-1.3zM400.5 163.2h1.3v1.3h-1.3zM396.6 158.3h1.3v1.3h-1.3zM399.2 133.5h1.3v1.3h-1.3zM410.6 133.2h1.3v1.3h-1.3zM394.1 156.3h1.3v1.3h-1.3zM404.8 120.4h1.3v1.3h-1.3zM406.1 145.9h1.3v1.3h-1.3zM418.6 147.8h1.3v1.3h-1.3zM421.4 168.3h1.3v1.3h-1.3zM399.5 143.6h1.3v1.3h-1.3zM423.7 106.7h1.3v1.3h-1.3zM401.6 168.2h1.3v1.3h-1.3zM402.0 154.7h1.3v1.3h-1.3zM395.7 122.4h1.3v1.3h-1.3zM398.9 120.1h1.3v1.3h-1.3zM394.1 161.0h1.3v1.3h-1.3zM396.4 165.6h1.3v1.3h-1.3zM422.7 148.9h1.3v1.3h-1.3zM396.7 163.6h1.3v1.3h-1.3zM403.4 156.4h1.3v1.3h-1.3zM404.1 157.1h1.3v1.3h-1.3zM394.2 164.3h1.3v1.3h-1.3zM407.5 146.0h1.3v1.3h-1.3zM394.2 164.8h1.3v1.3h-1.3zM394.6 139.8h1.3v1.3h-1.3zM404.8 100.9h1.3v1.3h-1.3zM395.8 138.0h1.3v1.3h-1.3zM394.3 154.8h1.3v1.3h-1.3zM397.4 166.1h1.3v1.3h-1.3zM428.6 113.9h1.3v1.3h-1.3zM406.3 132.1h1.3v1.3h-1.3zM401.4 145.7h1.3v1.3h-1.3zM401.5 140.8h1.3v1.3h-1.3zM411.1 155.3h1.3v1.3h-1.3zM398.5 159.2h1.3v1.3h-1.3zM432.0 138.9h1.3v1.3h-1.3zM399.1 157.5h1.3v1.3h-1.3zM396.1 155.1h1.3v1.3h-1.3zM408.3 157.1h1.3v1.3h-1.3zM399.4 163.1h1.3v1.3h-1.3zM401.6 159.8h1.3v1.3h-1.3zM395.3 129.9h1.3v1.3h-1.3zM395.9 151.2h1.3v1.3h-1.3zM406.5 141.5h1.3v1.3h-1.3zM396.1 162.0h1.3v1.3h-1.3zM397.4 159.1h1.3v1.3h-1.3zM424.7 110.5h1.3v1.3h-1.3zM400.2 127.7h1.3v1.3h-1.3zM396.0 152.6h1.3v1.3h-1.3zM423.5 152.5h1.3v1.3h-1.3zM397.9 166.0h1.3v1.3h-1.3zM409.9 162.8h1.3v1.3h-1.3zM399.9 159.2h1.3v1.3h-1.3zM403.3 167.1h1.3v1.3h-1.3zM410.2 149.7h1.3v1.3h-1.3zM410.1 135.3h1.3v1.3h-1.3zM396.4 160.6h1.3v1.3h-1.3zM394.3 144.8h1.3v1.3h-1.3zM410.9 96.7h1.3v1.3h-1.3zM394.6 156.8h1.3v1.3h-1.3zM409.3 147.5h1.3v1.3h-1.3zM394.7 165.2h1.3v1.3h-1.3zM401.1 138.4h1.3v1.3h-1.3zM400.6 127.7h1.3v1.3h-1.3zM401.5 63.6h1.3v1.3h-1.3zM399.4 114.9h1.3v1.3h-1.3zM402.9 148.5h1.3v1.3h-1.3zM410.5 152.9h1.3v1.3h-1.3zM413.9 136.7h1.3v1.3h-1.3zM400.0 160.9h1.3v1.3h-1.3zM402.9 148.1h1.3v1.3h-1.3zM407.2 168.1h1.3v1.3h-1.3zM395.5 153.0h1.3v1.3h-1.3zM405.2 118.3h1.3v1.3h-1.3zM410.2 133.4h1.3v1.3h-1.3zM420.8 143.2h1.3v1.3h-1.3zM397.1 167.0h1.3v1.3h-1.3zM402.4 163.9h1.3v1.3h-1.3zM394.1 162.1h1.3v1.3h-1.3zM395.4 164.7h1.3v1.3h-1.3zM400.1 148.3h1.3v1.3h-1.3zM393.9 152.3h1.3v1.3h-1.3zM396.8 149.0h1.3v1.3h-1.3zM394.3 166.0h1.3v1.3h-1.3zM398.1 164.2h1.3v1.3h-1.3zM399.1 163.8h1.3v1.3h-1.3zM405.1 163.9h1.3v1.3h-1.3zM399.5 114.2h1.3v1.3h-1.3zM421.2 166.6h1.3v1.3h-1.3zM402.4 166.2h1.3v1.3h-1.3zM401.9 131.8h1.3v1.3h-1.3zM396.2 110.8h1.3v1.3h-1.3zM422.1 135.4h1.3v1.3h-1.3zM419.2 109.4h1.3v1.3h-1.3zM413.0 149.9h1.3v1.3h-1.3zM396.6 156.1h1.3v1.3h-1.3zM395.6 167.7h1.3v1.3h-1.3zM416.1 164.6h1.3v1.3h-1.3zM397.8 158.9h1.3v1.3h-1.3zM404.3 73.1h1.3v1.3h-1.3zM400.4 138.0h1.3v1.3h-1.3zM397.6 165.6h1.3v1.3h-1.3zM420.5 159.6h1.3v1.3h-1.3zM428.6 154.3h1.3v1.3h-1.3zM394.2 160.3h1.3v1.3h-1.3zM428.7 108.8h1.3v1.3h-1.3zM397.4 145.0h1.3v1.3h-1.3zM401.4 121.8h1.3v1.3h-1.3zM421.0 61.7h1.3v1.3h-1.3zM424.0 147.3h1.3v1.3h-1.3zM402.1 99.2h1.3v1.3h-1.3zM406.6 134.6h1.3v1.3h-1.3zM403.1 167.9h1.3v1.3h-1.3zM396.5 131.2h1.3v1.3h-1.3zM394.4 165.9h1.3v1.3h-1.3zM395.0 148.1h1.3v1.3h-1.3zM401.2 119.5h1.3v1.3h-1.3zM400.5 134.1h1.3v1.3h-1.3zM398.6 163.3h1.3v1.3h-1.3zM415.3 144.2h1.3v1.3h-1.3zM399.6 110.7h1.3v1.3h-1.3zM402.6 167.9h1.3v1.3h-1.3zM405.9 138.3h1.3v1.3h-1.3zM415.6 126.2h1.3v1.3h-1.3zM412.8 143.0h1.3v1.3h-1.3zM418.2 165.0h1.3v1.3h-1.3zM394.9 140.0h1.3v1.3h-1.3zM402.5 163.7h1.3v1.3h-1.3zM418.9 159.0h1.3v1.3h-1.3zM399.8 160.0h1.3v1.3h-1.3zM422.3 150.3h1.3v1.3h-1.3zM414.0 159.1h1.3v1.3h-1.3zM403.9 135.1h1.3v1.3h-1.3zM423.8 92.5h1.3v1.3h-1.3zM414.1 112.6h1.3v1.3h-1.3zM394.3 148.0h1.3v1.3h-1.3zM403.0 162.0h1.3v1.3h-1.3zM402.4 165.3h1.3v1.3h-1.3zM398.3 157.4h1.3v1.3h-1.3zM418.3 123.5h1.3v1.3h-1.3zM401.0 132.7h1.3v1.3h-1.3zM437.6 148.5h1.3v1.3h-1.3zM409.8 100.8h1.3v1.3h-1.3zM410.5 108.2h1.3v1.3h-1.3zM394.8 167.3h1.3v1.3h-1.3zM396.3 140.5h1.3v1.3h-1.3zM408.1 132.1h1.3v1.3h-1.3zM414.1 163.8h1.3v1.3h-1.3zM439.2 140.7h1.3v1.3h-1.3zM402.1 126.5h1.3v1.3h-1.3zM431.0 123.3h1.3v1.3h-1.3zM394.8 137.5h1.3v1.3h-1.3zM405.2 156.4h1.3v1.3h-1.3zM395.5 156.7h1.3v1.3h-1.3zM395.3 152.7h1.3v1.3h-1.3zM394.8 151.8h1.3v1.3h-1.3zM396.7 134.8h1.3v1.3h-1.3zM424.0 97.1h1.3v1.3h-1.3zM396.3 141.7h1.3v1.3h-1.3zM402.6 142.8h1.3v1.3h-1.3zM396.0 143.6h1.3v1.3h-1.3zM411.8 151.7h1.3v1.3h-1.3zM396.9 143.5h1.3v1.3h-1.3zM413.3 157.9h1.3v1.3h-1.3zM399.1 167.1h1.3v1.3h-1.3zM399.5 149.8h1.3v1.3h-1.3zM394.7 168.4h1.3v1.3h-1.3zM402.1 120.5h1.3v1.3h-1.3zM399.2 159.5h1.3v1.3h-1.3zM394.5 167.1h1.3v1.3h-1.3zM413.0 122.6h1.3v1.3h-1.3zM397.1 162.8h1.3v1.3h-1.3zM396.9 166.4h1.3v1.3h-1.3zM408.1 149.4h1.3v1.3h-1.3zM412.9 150.2h1.3v1.3h-1.3zM394.3 146.7h1.3v1.3h-1.3zM403.2 164.7h1.3v1.3h-1.3zM413.0 164.9h1.3v1.3h-1.3zM394.3 167.0h1.3v1.3h-1.3zM401.6 154.9h1.3v1.3h-1.3zM395.2 144.9h1.3v1.3h-1.3zM398.0 157.9h1.3v1.3h-1.3zM412.3 133.7h1.3v1.3h-1.3zM396.1 137.7h1.3v1.3h-1.3zM418.2 152.4h1.3v1.3h-1.3zM397.5 163.5h1.3v1.3h-1.3zM449.3 143.6h1.3v1.3h-1.3zM401.0 138.0h1.3v1.3h-1.3zM412.7 148.9h1.3v1.3h-1.3zM401.3 165.9h1.3v1.3h-1.3zM406.7 158.6h1.3v1.3h-1.3zM400.2 135.9h1.3v1.3h-1.3zM406.0 164.2h1.3v1.3h-1.3zM403.5 137.1h1.3v1.3h-1.3zM430.1 132.9h1.3v1.3h-1.3zM404.1 161.2h1.3v1.3h-1.3zM397.8 125.8h1.3v1.3h-1.3zM421.8 107.8h1.3v1.3h-1.3zM422.3 158.7h1.3v1.3h-1.3zM432.2 145.8h1.3v1.3h-1.3zM416.1 112.4h1.3v1.3h-1.3zM399.6 156.5h1.3v1.3h-1.3zM411.3 145.5h1.3v1.3h-1.3zM415.8 154.5h1.3v1.3h-1.3zM400.2 162.1h1.3v1.3h-1.3zM395.4 164.4h1.3v1.3h-1.3zM394.2 159.6h1.3v1.3h-1.3zM404.0 146.6h1.3v1.3h-1.3zM409.0 155.4h1.3v1.3h-1.3zM405.8 148.0h1.3v1.3h-1.3zM397.1 166.2h1.3v1.3h-1.3zM395.2 167.9h1.3v1.3h-1.3zM395.8 119.2h1.3v1.3h-1.3zM398.9 144.9h1.3v1.3h-1.3zM417.2 139.5h1.3v1.3h-1.3zM438.9 122.5h1.3v1.3h-1.3zM400.9 80.7h1.3v1.3h-1.3zM397.8 131.1h1.3v1.3h-1.3zM400.6 158.2h1.3v1.3h-1.3zM395.2 120.0h1.3v1.3h-1.3zM410.3 110.8h1.3v1.3h-1.3zM399.4 145.1h1.3v1.3h-1.3zM398.7 156.0h1.3v1.3h-1.3zM400.7 135.8h1.3v1.3h-1.3zM418.5 136.0h1.3v1.3h-1.3zM394.0 166.1h1.3v1.3h-1.3zM430.7 94.8h1.3v1.3h-1.3zM408.3 162.9h1.3v1.3h-1.3zM396.2 155.0h1.3v1.3h-1.3zM398.3 168.2h1.3v1.3h-1.3zM394.4 144.7h1.3v1.3h-1.3zM396.5 168.2h1.3v1.3h-1.3zM414.0 113.2h1.3v1.3h-1.3zM398.4 160.8h1.3v1.3h-1.3zM405.7 154.5h1.3v1.3h-1.3zM397.7 159.8h1.3v1.3h-1.3zM396.5 150.3h1.3v1.3h-1.3zM407.1 153.9h1.3v1.3h-1.3zM394.4 150.2h1.3v1.3h-1.3zM401.6 157.3h1.3v1.3h-1.3zM398.1 161.6h1.3v1.3h-1.3zM398.6 147.2h1.3v1.3h-1.3zM411.6 163.3h1.3v1.3h-1.3zM413.1 166.7h1.3v1.3h-1.3zM400.5 165.9h1.3v1.3h-1.3zM399.3 148.0h1.3v1.3h-1.3zM417.5 142.9h1.3v1.3h-1.3zM394.4 158.5h1.3v1.3h-1.3zM412.0 162.7h1.3v1.3h-1.3zM408.9 144.8h1.3v1.3h-1.3zM397.5 155.7h1.3v1.3h-1.3zM403.5 138.0h1.3v1.3h-1.3zM417.9 104.9h1.3v1.3h-1.3zM421.3 137.9h1.3v1.3h-1.3zM409.1 152.2h1.3v1.3h-1.3zM402.3 165.5h1.3v1.3h-1.3zM404.7 158.1h1.3v1.3h-1.3zM395.7 159.3h1.3v1.3h-1.3zM405.3 160.3h1.3v1.3h-1.3zM422.7 136.1h1.3v1.3h-1.3zM394.4 154.6h1.3v1.3h-1.3zM397.7 125.5h1.3v1.3h-1.3zM401.8 135.6h1.3v1.3h-1.3zM394.1 153.2h1.3v1.3h-1.3zM405.9 161.8h1.3v1.3h-1.3zM414.9 152.5h1.3v1.3h-1.3zM403.8 125.7h1.3v1.3h-1.3zM420.8 62.6h1.3v1.3h-1.3zM397.9 168.4h1.3v1.3h-1.3zM394.4 148.7h1.3v1.3h-1.3zM396.1 115.2h1.3v1.3h-1.3zM397.2 145.9h1.3v1.3h-1.3zM399.7 156.0h1.3v1.3h-1.3zM395.5 159.6h1.3v1.3h-1.3zM405.0 139.9h1.3v1.3h-1.3zM423.4 166.3h1.3v1.3h-1.3zM395.9 165.6h1.3v1.3h-1.3zM397.9 159.9h1.3v1.3h-1.3zM417.2 151.0h1.3v1.3h-1.3zM400.9 165.7h1.3v1.3h-1.3zM397.1 143.1h1.3v1.3h-1.3zM399.3 157.1h1.3v1.3h-1.3zM415.9 111.8h1.3v1.3h-1.3zM394.5 151.5h1.3v1.3h-1.3zM409.6 157.0h1.3v1.3h-1.3zM398.6 153.7h1.3v1.3h-1.3zM394.3 142.0h1.3v1.3h-1.3zM406.8 141.3h1.3v1.3h-1.3zM398.3 165.4h1.3v1.3h-1.3zM398.1 118.1h1.3v1.3h-1.3zM398.2 148.9h1.3v1.3h-1.3zM399.0 147.6h1.3v1.3h-1.3zM417.7 157.5h1.3v1.3h-1.3zM449.3 137.8h1.3v1.3h-1.3zM398.3 152.2h1.3v1.3h-1.3zM400.3 116.1h1.3v1.3h-1.3zM396.0 138.9h1.3v1.3h-1.3zM397.1 148.2h1.3v1.3h-1.3zM396.5 104.8h1.3v1.3h-1.3zM398.2 146.8h1.3v1.3h-1.3zM421.7 147.7h1.3v1.3h-1.3zM414.0 137.8h1.3v1.3h-1.3zM404.0 146.8h1.3v1.3h-1.3zM408.8 164.6h1.3v1.3h-1.3zM405.4 141.9h1.3v1.3h-1.3zM406.9 159.1h1.3v1.3h-1.3zM397.8 149.0h1.3v1.3h-1.3zM408.1 130.0h1.3v1.3h-1.3zM410.1 120.9h1.3v1.3h-1.3zM423.2 155.9h1.3v1.3h-1.3zM431.4 107.1h1.3v1.3h-1.3zM400.3 139.6h1.3v1.3h-1.3zM394.3 150.4h1.3v1.3h-1.3zM420.1 111.3h1.3v1.3h-1.3zM400.5 145.0h1.3v1.3h-1.3zM394.1 126.2h1.3v1.3h-1.3zM396.6 155.2h1.3v1.3h-1.3zM398.5 144.2h1.3v1.3h-1.3zM418.5 144.2h1.3v1.3h-1.3zM395.0 154.8h1.3v1.3h-1.3zM408.2 168.2h1.3v1.3h-1.3zM399.6 152.1h1.3v1.3h-1.3zM394.7 167.7h1.3v1.3h-1.3zM411.8 168.5h1.3v1.3h-1.3zM396.9 167.2h1.3v1.3h-1.3zM402.3 151.8h1.3v1.3h-1.3zM402.9 162.0h1.3v1.3h-1.3zM440.3 142.0h1.3v1.3h-1.3zM396.7 165.9h1.3v1.3h-1.3zM396.6 165.7h1.3v1.3h-1.3zM394.1 162.3h1.3v1.3h-1.3zM398.0 125.7h1.3v1.3h-1.3zM414.3 133.0h1.3v1.3h-1.3zM394.1 127.1h1.3v1.3h-1.3zM414.2 145.5h1.3v1.3h-1.3zM404.0 142.5h1.3v1.3h-1.3zM410.5 154.1h1.3v1.3h-1.3zM398.3 148.7h1.3v1.3h-1.3zM400.2 150.7h1.3v1.3h-1.3zM403.4 163.1h1.3v1.3h-1.3zM408.2 121.8h1.3v1.3h-1.3zM397.9 168.2h1.3v1.3h-1.3zM395.6 130.7h1.3v1.3h-1.3zM405.5 150.2h1.3v1.3h-1.3zM397.9 148.6h1.3v1.3h-1.3zM403.5 168.1h1.3v1.3h-1.3zM401.6 163.8h1.3v1.3h-1.3zM407.0 149.2h1.3v1.3h-1.3zM424.1 165.4h1.3v1.3h-1.3zM419.0 132.7h1.3v1.3h-1.3zM404.7 163.2h1.3v1.3h-1.3zM405.2 156.1h1.3v1.3h-1.3zM399.9 137.3h1.3v1.3h-1.3zM402.6 91.9h1.3v1.3h-1.3zM395.7 135.9h1.3v1.3h-1.3zM417.2 109.7h1.3v1.3h-1.3zM413.9 158.0h1.3v1.3h-1.3zM394.9 164.4h1.3v1.3h-1.3zM396.8 145.3h1.3v1.3h-1.3zM396.0 153.4h1.3v1.3h-1.3zM409.8 135.0h1.3v1.3h-1.3zM395.5 138.4h1.3v1.3h-1.3zM400.9 167.2h1.3v1.3h-1.3zM404.1 166.3h1.3v1.3h-1.3zM421.8 147.9h1.3v1.3h-1.3zM407.9 124.2h1.3v1.3h-1.3zM403.3 122.8h1.3v1.3h-1.3zM394.4 159.6h1.3v1.3h-1.3zM406.7 136.9h1.3v1.3h-1.3zM401.7 142.5h1.3v1.3h-1.3zM418.5 152.7h1.3v1.3h-1.3zM395.2 156.2h1.3v1.3h-1.3zM414.5 90.0h1.3v1.3h-1.3zM398.2 58.3h1.3v1.3h-1.3zM395.4 153.6h1.3v1.3h-1.3zM400.6 150.9h1.3v1.3h-1.3zM408.4 155.8h1.3v1.3h-1.3zM424.9 161.0h1.3v1.3h-1.3zM396.7 162.3h1.3v1.3h-1.3zM397.4 122.5h1.3v1.3h-1.3zM397.6 134.9h1.3v1.3h-1.3zM399.9 154.8h1.3v1.3h-1.3zM409.1 161.1h1.3v1.3h-1.3zM418.2 95.0h1.3v1.3h-1.3zM398.5 167.8h1.3v1.3h-1.3zM403.4 133.4h1.3v1.3h-1.3zM410.3 84.4h1.3v1.3h-1.3zM409.8 54.4h1.3v1.3h-1.3zM394.4 155.1h1.3v1.3h-1.3zM407.0 155.5h1.3v1.3h-1.3zM395.7 158.6h1.3v1.3h-1.3zM417.2 148.4h1.3v1.3h-1.3zM395.1 141.5h1.3v1.3h-1.3zM396.3 153.8h1.3v1.3h-1.3zM400.9 125.1h1.3v1.3h-1.3zM414.3 153.3h1.3v1.3h-1.3zM399.2 159.3h1.3v1.3h-1.3zM405.9 66.3h1.3v1.3h-1.3zM400.8 159.0h1.3v1.3h-1.3zM398.4 141.3h1.3v1.3h-1.3zM399.8 142.7h1.3v1.3h-1.3zM404.8 122.3h1.3v1.3h-1.3zM404.0 134.8h1.3v1.3h-1.3zM399.6 137.4h1.3v1.3h-1.3zM397.6 164.3h1.3v1.3h-1.3zM393.9 158.3h1.3v1.3h-1.3zM403.1 130.4h1.3v1.3h-1.3zM406.0 151.5h1.3v1.3h-1.3zM394.9 166.7h1.3v1.3h-1.3zM394.3 135.7h1.3v1.3h-1.3zM403.9 115.7h1.3v1.3h-1.3zM419.5 79.8h1.3v1.3h-1.3zM399.1 157.6h1.3v1.3h-1.3zM401.6 130.4h1.3v1.3h-1.3zM407.6 149.8h1.3v1.3h-1.3zM402.6 150.8h1.3v1.3h-1.3zM420.2 154.3h1.3v1.3h-1.3zM405.1 55.2h1.3v1.3h-1.3zM402.4 146.7h1.3v1.3h-1.3zM400.7 165.7h1.3v1.3h-1.3zM413.8 99.6h1.3v1.3h-1.3zM404.9 160.9h1.3v1.3h-1.3zM401.9 159.9h1.3v1.3h-1.3zM394.2 129.7h1.3v1.3h-1.3zM403.9 120.8h1.3v1.3h-1.3zM397.0 161.2h1.3v1.3h-1.3zM407.9 147.5h1.3v1.3h-1.3zM394.4 163.4h1.3v1.3h-1.3zM402.6 161.7h1.3v1.3h-1.3zM407.5 155.1h1.3v1.3h-1.3zM399.3 134.7h1.3v1.3h-1.3zM395.5 145.3h1.3v1.3h-1.3zM405.1 144.1h1.3v1.3h-1.3zM403.4 161.5h1.3v1.3h-1.3zM423.8 164.6h1.3v1.3h-1.3zM420.4 147.9h1.3v1.3h-1.3zM396.6 139.8h1.3v1.3h-1.3zM405.3 134.2h1.3v1.3h-1.3zM404.9 156.1h1.3v1.3h-1.3zM407.9 131.4h1.3v1.3h-1.3zM423.1 162.1h1.3v1.3h-1.3zM430.2 106.0h1.3v1.3h-1.3zM419.2 153.7h1.3v1.3h-1.3zM395.8 157.5h1.3v1.3h-1.3zM399.7 161.2h1.3v1.3h-1.3zM396.1 164.4h1.3v1.3h-1.3zM394.0 134.2h1.3v1.3h-1.3zM399.5 143.9h1.3v1.3h-1.3zM397.3 136.3h1.3v1.3h-1.3zM396.2 151.6h1.3v1.3h-1.3zM409.8 168.1h1.3v1.3h-1.3zM397.1 156.6h1.3v1.3h-1.3zM404.5 97.6h1.3v1.3h-1.3zM398.3 164.6h1.3v1.3h-1.3zM418.9 114.4h1.3v1.3h-1.3zM426.4 124.2h1.3v1.3h-1.3zM394.3 161.7h1.3v1.3h-1.3zM402.6 164.9h1.3v1.3h-1.3zM398.6 148.0h1.3v1.3h-1.3zM396.7 136.1h1.3v1.3h-1.3zM399.7 144.2h1.3v1.3h-1.3zM406.4 164.6h1.3v1.3h-1.3zM407.6 163.2h1.3v1.3h-1.3zM400.9 131.3h1.3v1.3h-1.3zM396.1 152.8h1.3v1.3h-1.3zM403.8 164.6h1.3v1.3h-1.3zM401.6 156.5h1.3v1.3h-1.3zM396.7 156.6h1.3v1.3h-1.3zM406.0 163.9h1.3v1.3h-1.3zM395.4 153.8h1.3v1.3h-1.3zM396.2 114.8h1.3v1.3h-1.3zM395.3 161.7h1.3v1.3h-1.3zM409.6 147.2h1.3v1.3h-1.3zM414.6 167.7h1.3v1.3h-1.3zM414.6 137.0h1.3v1.3h-1.3zM399.3 154.3h1.3v1.3h-1.3zM396.3 165.9h1.3v1.3h-1.3zM398.6 115.3h1.3v1.3h-1.3zM422.1 108.4h1.3v1.3h-1.3zM428.1 121.9h1.3v1.3h-1.3zM398.4 164.6h1.3v1.3h-1.3zM398.8 121.9h1.3v1.3h-1.3zM394.0 161.2h1.3v1.3h-1.3zM402.0 148.7h1.3v1.3h-1.3zM396.4 162.3h1.3v1.3h-1.3zM395.9 142.4h1.3v1.3h-1.3zM420.0 128.4h1.3v1.3h-1.3zM395.1 154.3h1.3v1.3h-1.3zM397.5 146.5h1.3v1.3h-1.3zM404.0 165.6h1.3v1.3h-1.3zM397.1 147.2h1.3v1.3h-1.3zM405.2 161.1h1.3v1.3h-1.3zM405.1 103.9h1.3v1.3h-1.3zM399.3 162.0h1.3v1.3h-1.3zM397.7 145.9h1.3v1.3h-1.3zM402.3 144.4h1.3v1.3h-1.3zM394.8 167.3h1.3v1.3h-1.3zM395.3 154.6h1.3v1.3h-1.3zM403.2 148.0h1.3v1.3h-1.3zM417.6 143.0h1.3v1.3h-1.3zM409.8 144.1h1.3v1.3h-1.3zM411.0 165.3h1.3v1.3h-1.3zM423.7 99.5h1.3v1.3h-1.3zM412.7 145.2h1.3v1.3h-1.3zM399.7 147.7h1.3v1.3h-1.3zM399.4 164.0h1.3v1.3h-1.3zM412.5 136.0h1.3v1.3h-1.3zM404.7 110.2h1.3v1.3h-1.3zM411.7 93.1h1.3v1.3h-1.3zM401.3 154.1h1.3v1.3h-1.3zM397.1 130.0h1.3v1.3h-1.3zM404.1 167.8h1.3v1.3h-1.3zM410.2 163.0h1.3v1.3h-1.3zM395.3 146.8h1.3v1.3h-1.3zM408.9 149.4h1.3v1.3h-1.3zM421.0 161.9h1.3v1.3h-1.3zM395.1 167.0h1.3v1.3h-1.3zM405.9 145.0h1.3v1.3h-1.3zM421.6 144.5h1.3v1.3h-1.3zM394.2 162.7h1.3v1.3h-1.3zM398.3 148.5h1.3v1.3h-1.3zM398.6 155.4h1.3v1.3h-1.3zM398.7 112.9h1.3v1.3h-1.3zM403.5 137.9h1.3v1.3h-1.3zM415.6 159.8h1.3v1.3h-1.3zM397.0 160.8h1.3v1.3h-1.3zM404.2 162.9h1.3v1.3h-1.3zM399.1 137.8h1.3v1.3h-1.3zM401.3 165.2h1.3v1.3h-1.3zM401.2 157.8h1.3v1.3h-1.3zM393.8 140.8h1.3v1.3h-1.3zM407.6 167.3h1.3v1.3h-1.3zM395.1 115.9h1.3v1.3h-1.3zM398.6 161.9h1.3v1.3h-1.3zM398.8 122.0h1.3v1.3h-1.3zM414.4 87.0h1.3v1.3h-1.3zM413.2 166.0h1.3v1.3h-1.3zM401.3 167.0h1.3v1.3h-1.3zM409.1 75.8h1.3v1.3h-1.3zM422.6 157.2h1.3v1.3h-1.3zM398.8 107.7h1.3v1.3h-1.3zM407.0 160.2h1.3v1.3h-1.3zM415.3 103.6h1.3v1.3h-1.3zM404.5 130.2h1.3v1.3h-1.3zM422.7 103.6h1.3v1.3h-1.3zM399.6 153.7h1.3v1.3h-1.3zM396.5 163.7h1.3v1.3h-1.3zM398.2 114.5h1.3v1.3h-1.3zM417.2 109.6h1.3v1.3h-1.3zM393.8 159.2h1.3v1.3h-1.3zM408.5 165.2h1.3v1.3h-1.3zM400.7 85.7h1.3v1.3h-1.3zM408.6 83.2h1.3v1.3h-1.3zM398.3 153.4h1.3v1.3h-1.3zM436.1 106.3h1.3v1.3h-1.3zM408.9 124.0h1.3v1.3h-1.3zM394.8 159.7h1.3v1.3h-1.3zM396.4 163.2h1.3v1.3h-1.3zM401.1 163.0h1.3v1.3h-1.3zM396.0 158.7h1.3v1.3h-1.3zM400.5 114.0h1.3v1.3h-1.3zM393.9 168.4h1.3v1.3h-1.3zM394.1 147.6h1.3v1.3h-1.3zM394.1 147.3h1.3v1.3h-1.3zM403.4 152.0h1.3v1.3h-1.3zM396.3 148.3h1.3v1.3h-1.3zM442.8 121.1h1.3v1.3h-1.3zM429.2 124.8h1.3v1.3h-1.3zM404.6 75.9h1.3v1.3h-1.3zM408.6 154.6h1.3v1.3h-1.3zM396.0 163.7h1.3v1.3h-1.3zM401.5 152.9h1.3v1.3h-1.3zM393.8 157.9h1.3v1.3h-1.3zM413.6 155.7h1.3v1.3h-1.3zM399.8 165.9h1.3v1.3h-1.3zM413.5 144.7h1.3v1.3h-1.3zM402.4 158.2h1.3v1.3h-1.3zM422.2 89.3h1.3v1.3h-1.3zM404.7 75.2h1.3v1.3h-1.3zM408.5 141.2h1.3v1.3h-1.3zM406.7 138.9h1.3v1.3h-1.3zM405.7 155.9h1.3v1.3h-1.3zM396.3 157.2h1.3v1.3h-1.3zM400.5 165.8h1.3v1.3h-1.3zM396.6 163.6h1.3v1.3h-1.3zM398.0 159.3h1.3v1.3h-1.3zM429.2 154.5h1.3v1.3h-1.3zM402.0 149.1h1.3v1.3h-1.3zM401.4 155.2h1.3v1.3h-1.3zM403.6 124.8h1.3v1.3h-1.3zM398.2 149.8h1.3v1.3h-1.3zM395.9 163.2h1.3v1.3h-1.3zM396.6 166.1h1.3v1.3h-1.3zM398.1 167.4h1.3v1.3h-1.3zM395.1 146.4h1.3v1.3h-1.3zM401.2 131.8h1.3v1.3h-1.3zM400.0 143.1h1.3v1.3h-1.3zM408.5 127.4h1.3v1.3h-1.3zM400.4 165.2h1.3v1.3h-1.3zM406.0 160.5h1.3v1.3h-1.3zM396.2 156.5h1.3v1.3h-1.3zM428.2 167.6h1.3v1.3h-1.3zM396.2 165.2h1.3v1.3h-1.3zM409.4 99.0h1.3v1.3h-1.3zM398.1 167.1h1.3v1.3h-1.3zM404.9 153.8h1.3v1.3h-1.3zM440.4 128.8h1.3v1.3h-1.3zM394.6 158.5h1.3v1.3h-1.3zM393.8 162.2h1.3v1.3h-1.3zM402.4 160.4h1.3v1.3h-1.3zM395.4 110.1h1.3v1.3h-1.3zM413.4 160.4h1.3v1.3h-1.3zM399.3 145.5h1.3v1.3h-1.3zM394.3 166.6h1.3v1.3h-1.3zM402.1 162.1h1.3v1.3h-1.3zM399.5 166.9h1.3v1.3h-1.3zM393.8 124.2h1.3v1.3h-1.3zM398.6 159.7h1.3v1.3h-1.3zM408.3 144.0h1.3v1.3h-1.3zM400.3 139.0h1.3v1.3h-1.3zM402.9 157.8h1.3v1.3h-1.3zM419.9 152.5h1.3v1.3h-1.3zM402.9 148.9h1.3v1.3h-1.3zM401.3 140.0h1.3v1.3h-1.3zM404.8 150.9h1.3v1.3h-1.3zM449.3 144.7h1.3v1.3h-1.3zM430.8 150.8h1.3v1.3h-1.3zM404.5 124.7h1.3v1.3h-1.3zM395.6 159.1h1.3v1.3h-1.3zM399.1 154.5h1.3v1.3h-1.3zM396.7 153.8h1.3v1.3h-1.3zM402.3 151.5h1.3v1.3h-1.3zM402.7 165.7h1.3v1.3h-1.3zM396.4 136.3h1.3v1.3h-1.3zM394.1 161.1h1.3v1.3h-1.3zM405.0 151.9h1.3v1.3h-1.3zM402.3 154.7h1.3v1.3h-1.3zM394.3 144.3h1.3v1.3h-1.3zM399.5 167.1h1.3v1.3h-1.3zM410.0 101.3h1.3v1.3h-1.3zM395.1 160.7h1.3v1.3h-1.3zM410.0 141.5h1.3v1.3h-1.3zM394.6 155.5h1.3v1.3h-1.3zM404.8 160.1h1.3v1.3h-1.3zM400.2 130.2h1.3v1.3h-1.3zM401.1 111.8h1.3v1.3h-1.3zM395.6 167.9h1.3v1.3h-1.3zM411.9 111.1h1.3v1.3h-1.3zM396.6 166.1h1.3v1.3h-1.3zM400.0 155.4h1.3v1.3h-1.3zM414.2 167.8h1.3v1.3h-1.3zM397.0 148.8h1.3v1.3h-1.3zM400.6 167.7h1.3v1.3h-1.3zM402.5 98.3h1.3v1.3h-1.3zM417.1 135.5h1.3v1.3h-1.3zM409.5 114.7h1.3v1.3h-1.3zM396.8 167.0h1.3v1.3h-1.3zM399.5 145.8h1.3v1.3h-1.3zM394.4 162.1h1.3v1.3h-1.3zM409.4 116.3h1.3v1.3h-1.3zM399.5 159.3h1.3v1.3h-1.3zM396.0 115.0h1.3v1.3h-1.3zM396.7 142.7h1.3v1.3h-1.3zM420.6 107.4h1.3v1.3h-1.3zM400.5 156.0h1.3v1.3h-1.3zM397.8 158.4h1.3v1.3h-1.3zM400.1 88.7h1.3v1.3h-1.3zM434.8 77.6h1.3v1.3h-1.3zM404.6 151.0h1.3v1.3h-1.3zM412.2 106.5h1.3v1.3h-1.3zM418.2 153.8h1.3v1.3h-1.3zM398.1 127.0h1.3v1.3h-1.3zM404.7 156.9h1.3v1.3h-1.3zM396.3 163.8h1.3v1.3h-1.3zM394.8 162.9h1.3v1.3h-1.3zM431.5 106.4h1.3v1.3h-1.3zM407.7 150.3h1.3v1.3h-1.3zM400.5 138.3h1.3v1.3h-1.3zM395.2 149.4h1.3v1.3h-1.3zM397.5 161.3h1.3v1.3h-1.3zM403.8 157.0h1.3v1.3h-1.3zM396.2 161.3h1.3v1.3h-1.3zM415.8 114.5h1.3v1.3h-1.3zM412.7 98.5h1.3v1.3h-1.3zM396.5 129.3h1.3v1.3h-1.3zM411.8 151.1h1.3v1.3h-1.3zM397.2 125.8h1.3v1.3h-1.3zM402.7 151.4h1.3v1.3h-1.3zM396.0 168.2h1.3v1.3h-1.3zM407.2 133.3h1.3v1.3h-1.3zM402.1 153.1h1.3v1.3h-1.3zM398.2 149.0h1.3v1.3h-1.3zM404.9 166.2h1.3v1.3h-1.3zM401.0 130.0h1.3v1.3h-1.3zM415.8 130.3h1.3v1.3h-1.3zM413.0 137.9h1.3v1.3h-1.3zM436.1 80.3h1.3v1.3h-1.3zM408.6 152.8h1.3v1.3h-1.3zM395.1 133.8h1.3v1.3h-1.3zM394.8 145.5h1.3v1.3h-1.3zM398.8 134.3h1.3v1.3h-1.3zM396.8 156.2h1.3v1.3h-1.3zM407.2 125.4h1.3v1.3h-1.3zM406.0 159.3h1.3v1.3h-1.3zM407.7 163.2h1.3v1.3h-1.3zM409.5 144.4h1.3v1.3h-1.3zM440.1 143.6h1.3v1.3h-1.3zM401.1 137.6h1.3v1.3h-1.3zM402.8 145.3h1.3v1.3h-1.3zM397.1 159.8h1.3v1.3h-1.3zM415.8 126.8h1.3v1.3h-1.3zM418.9 81.2h1.3v1.3h-1.3zM401.9 138.4h1.3v1.3h-1.3zM405.4 155.4h1.3v1.3h-1.3zM426.0 141.3h1.3v1.3h-1.3zM399.7 132.7h1.3v1.3h-1.3zM394.2 160.0h1.3v1.3h-1.3zM400.9 129.1h1.3v1.3h-1.3zM394.3 155.5h1.3v1.3h-1.3zM416.8 150.7h1.3v1.3h-1.3zM406.0 160.1h1.3v1.3h-1.3zM407.2 131.5h1.3v1.3h-1.3zM396.9 144.9h1.3v1.3h-1.3zM403.8 139.3h1.3v1.3h-1.3zM403.7 79.9h1.3v1.3h-1.3zM412.1 107.0h1.3v1.3h-1.3zM398.4 143.0h1.3v1.3h-1.3zM395.7 141.2h1.3v1.3h-1.3zM412.3 163.1h1.3v1.3h-1.3zM409.8 152.3h1.3v1.3h-1.3zM399.3 162.2h1.3v1.3h-1.3zM408.0 161.5h1.3v1.3h-1.3zM399.2 144.9h1.3v1.3h-1.3zM396.0 155.9h1.3v1.3h-1.3zM404.0 162.4h1.3v1.3h-1.3zM394.8 158.8h1.3v1.3h-1.3zM399.5 155.8h1.3v1.3h-1.3zM405.4 53.3h1.3v1.3h-1.3zM419.7 75.5h1.3v1.3h-1.3zM401.1 135.3h1.3v1.3h-1.3zM396.2 155.3h1.3v1.3h-1.3zM399.2 164.2h1.3v1.3h-1.3zM395.0 141.9h1.3v1.3h-1.3zM395.7 151.7h1.3v1.3h-1.3zM398.4 144.6h1.3v1.3h-1.3zM411.1 140.0h1.3v1.3h-1.3zM398.4 155.0h1.3v1.3h-1.3zM395.8 166.4h1.3v1.3h-1.3zM411.8 143.2h1.3v1.3h-1.3zM425.2 164.6h1.3v1.3h-1.3zM404.7 104.6h1.3v1.3h-1.3zM398.4 139.5h1.3v1.3h-1.3zM405.8 156.6h1.3v1.3h-1.3zM399.5 151.3h1.3v1.3h-1.3zM395.1 147.0h1.3v1.3h-1.3zM397.3 152.0h1.3v1.3h-1.3zM400.1 163.7h1.3v1.3h-1.3zM402.5 137.0h1.3v1.3h-1.3zM405.0 150.5h1.3v1.3h-1.3zM432.4 154.3h1.3v1.3h-1.3zM393.9 162.2h1.3v1.3h-1.3zM406.4 146.6h1.3v1.3h-1.3zM398.6 156.0h1.3v1.3h-1.3zM396.4 157.6h1.3v1.3h-1.3zM419.3 127.7h1.3v1.3h-1.3zM401.3 160.0h1.3v1.3h-1.3zM395.2 152.5h1.3v1.3h-1.3zM403.0 134.1h1.3v1.3h-1.3zM422.3 105.9h1.3v1.3h-1.3zM412.6 107.7h1.3v1.3h-1.3zM395.3 125.3h1.3v1.3h-1.3zM396.0 138.3h1.3v1.3h-1.3zM394.4 136.7h1.3v1.3h-1.3zM410.5 166.1h1.3v1.3h-1.3zM399.9 149.7h1.3v1.3h-1.3zM417.8 75.4h1.3v1.3h-1.3zM397.1 128.6h1.3v1.3h-1.3zM399.5 136.7h1.3v1.3h-1.3zM397.5 152.3h1.3v1.3h-1.3zM397.0 161.8h1.3v1.3h-1.3zM395.7 160.2h1.3v1.3h-1.3zM400.7 114.7h1.3v1.3h-1.3zM411.3 147.1h1.3v1.3h-1.3zM395.8 139.0h1.3v1.3h-1.3zM430.4 89.0h1.3v1.3h-1.3zM410.1 158.1h1.3v1.3h-1.3zM394.2 141.8h1.3v1.3h-1.3zM405.1 156.2h1.3v1.3h-1.3zM424.5 148.1h1.3v1.3h-1.3zM417.0 127.8h1.3v1.3h-1.3zM405.1 66.4h1.3v1.3h-1.3zM415.9 157.6h1.3v1.3h-1.3zM406.5 168.4h1.3v1.3h-1.3zM399.5 166.1h1.3v1.3h-1.3zM394.5 153.4h1.3v1.3h-1.3zM411.0 142.2h1.3v1.3h-1.3zM396.3 161.9h1.3v1.3h-1.3zM403.2 130.2h1.3v1.3h-1.3zM396.7 168.0h1.3v1.3h-1.3zM411.7 93.7h1.3v1.3h-1.3zM415.1 152.9h1.3v1.3h-1.3zM400.2 125.4h1.3v1.3h-1.3zM394.1 140.0h1.3v1.3h-1.3zM397.6 166.8h1.3v1.3h-1.3zM395.5 142.4h1.3v1.3h-1.3zM409.3 167.4h1.3v1.3h-1.3zM394.3 163.1h1.3v1.3h-1.3zM394.5 166.2h1.3v1.3h-1.3zM401.6 159.7h1.3v1.3h-1.3zM397.6 140.7h1.3v1.3h-1.3zM397.9 149.7h1.3v1.3h-1.3zM395.0 146.0h1.3v1.3h-1.3zM393.8 143.1h1.3v1.3h-1.3zM421.2 101.9h1.3v1.3h-1.3zM400.8 162.4h1.3v1.3h-1.3zM398.9 163.1h1.3v1.3h-1.3zM402.9 160.5h1.3v1.3h-1.3zM417.4 129.2h1.3v1.3h-1.3zM400.9 73.5h1.3v1.3h-1.3zM397.0 157.2h1.3v1.3h-1.3zM430.5 150.1h1.3v1.3h-1.3zM405.0 167.0h1.3v1.3h-1.3zM402.1 158.4h1.3v1.3h-1.3zM405.1 160.5h1.3v1.3h-1.3zM397.5 150.7h1.3v1.3h-1.3zM393.8 153.1h1.3v1.3h-1.3zM413.5 165.8h1.3v1.3h-1.3zM398.0 166.3h1.3v1.3h-1.3zM394.2 139.7h1.3v1.3h-1.3zM416.5 98.9h1.3v1.3h-1.3zM422.2 162.5h1.3v1.3h-1.3zM402.4 153.7h1.3v1.3h-1.3zM394.8 144.4h1.3v1.3h-1.3zM407.8 150.2h1.3v1.3h-1.3zM410.8 128.0h1.3v1.3h-1.3zM395.4 138.8h1.3v1.3h-1.3zM400.6 154.8h1.3v1.3h-1.3zM405.5 167.4h1.3v1.3h-1.3zM400.7 165.7h1.3v1.3h-1.3zM395.4 160.4h1.3v1.3h-1.3zM401.2 89.2h1.3v1.3h-1.3zM402.8 144.3h1.3v1.3h-1.3zM394.7 114.9h1.3v1.3h-1.3zM396.1 156.1h1.3v1.3h-1.3zM399.2 144.9h1.3v1.3h-1.3zM401.9 102.6h1.3v1.3h-1.3zM396.5 161.6h1.3v1.3h-1.3zM411.1 103.7h1.3v1.3h-1.3zM406.2 156.3h1.3v1.3h-1.3zM404.6 164.3h1.3v1.3h-1.3zM408.1 161.8h1.3v1.3h-1.3zM413.9 166.5h1.3v1.3h-1.3zM394.1 117.0h1.3v1.3h-1.3zM414.7 164.0h1.3v1.3h-1.3zM398.4 124.1h1.3v1.3h-1.3zM405.1 126.5h1.3v1.3h-1.3zM404.1 161.1h1.3v1.3h-1.3zM395.3 154.6h1.3v1.3h-1.3zM411.3 119.0h1.3v1.3h-1.3zM398.7 161.2h1.3v1.3h-1.3zM399.1 138.6h1.3v1.3h-1.3zM400.4 160.8h1.3v1.3h-1.3zM402.6 90.3h1.3v1.3h-1.3zM396.2 165.9h1.3v1.3h-1.3zM435.6 151.3h1.3v1.3h-1.3zM402.0 168.3h1.3v1.3h-1.3zM395.7 164.6h1.3v1.3h-1.3zM399.6 164.7h1.3v1.3h-1.3zM398.6 80.8h1.3v1.3h-1.3zM394.7 138.1h1.3v1.3h-1.3zM428.8 108.4h1.3v1.3h-1.3zM428.1 160.2h1.3v1.3h-1.3zM413.1 164.8h1.3v1.3h-1.3zM401.2 149.8h1.3v1.3h-1.3zM399.5 163.2h1.3v1.3h-1.3zM403.9 131.4h1.3v1.3h-1.3zM398.2 66.4h1.3v1.3h-1.3zM405.0 164.8h1.3v1.3h-1.3zM417.0 144.7h1.3v1.3h-1.3zM399.5 157.9h1.3v1.3h-1.3zM397.7 124.9h1.3v1.3h-1.3zM411.4 156.4h1.3v1.3h-1.3zM401.3 141.3h1.3v1.3h-1.3zM405.3 168.1h1.3v1.3h-1.3zM396.4 154.6h1.3v1.3h-1.3zM395.2 155.8h1.3v1.3h-1.3zM415.6 120.7h1.3v1.3h-1.3zM408.3 80.7h1.3v1.3h-1.3zM395.8 139.3h1.3v1.3h-1.3zM446.2 154.2h1.3v1.3h-1.3zM397.1 168.5h1.3v1.3h-1.3zM395.4 164.3h1.3v1.3h-1.3zM402.4 160.1h1.3v1.3h-1.3zM410.3 166.7h1.3v1.3h-1.3zM395.6 153.9h1.3v1.3h-1.3zM400.0 165.7h1.3v1.3h-1.3zM400.3 157.3h1.3v1.3h-1.3zM397.4 165.5h1.3v1.3h-1.3zM394.7 150.2h1.3v1.3h-1.3zM412.4 150.4h1.3v1.3h-1.3zM395.3 145.3h1.3v1.3h-1.3zM394.8 142.6h1.3v1.3h-1.3zM393.9 164.5h1.3v1.3h-1.3zM395.8 148.8h1.3v1.3h-1.3zM395.0 160.0h1.3v1.3h-1.3zM422.2 109.9h1.3v1.3h-1.3zM401.6 125.8h1.3v1.3h-1.3zM398.1 145.8h1.3v1.3h-1.3zM409.2 124.1h1.3v1.3h-1.3zM403.8 166.4h1.3v1.3h-1.3zM399.3 164.6h1.3v1.3h-1.3zM399.5 163.2h1.3v1.3h-1.3zM408.7 140.8h1.3v1.3h-1.3zM394.3 158.3h1.3v1.3h-1.3zM417.9 152.9h1.3v1.3h-1.3zM403.9 147.6h1.3v1.3h-1.3zM406.5 130.8h1.3v1.3h-1.3zM424.8 91.2h1.3v1.3h-1.3zM411.7 88.1h1.3v1.3h-1.3zM396.4 164.5h1.3v1.3h-1.3zM404.1 136.2h1.3v1.3h-1.3zM414.8 117.0h1.3v1.3h-1.3zM395.5 158.0h1.3v1.3h-1.3zM395.1 140.6h1.3v1.3h-1.3zM397.0 150.7h1.3v1.3h-1.3zM403.9 155.2h1.3v1.3h-1.3zM404.4 142.4h1.3v1.3h-1.3zM412.1 166.9h1.3v1.3h-1.3zM421.7 136.8h1.3v1.3h-1.3zM405.1 143.8h1.3v1.3h-1.3zM414.1 111.5h1.3v1.3h-1.3zM394.3 142.3h1.3v1.3h-1.3zM403.9 167.9h1.3v1.3h-1.3zM400.5 119.7h1.3v1.3h-1.3zM398.9 162.4h1.3v1.3h-1.3zM413.1 120.6h1.3v1.3h-1.3zM395.7 164.9h1.3v1.3h-1.3zM405.7 162.4h1.3v1.3h-1.3zM413.2 161.0h1.3v1.3h-1.3zM395.9 154.7h1.3v1.3h-1.3zM395.2 154.5h1.3v1.3h-1.3zM394.1 113.5h1.3v1.3h-1.3zM398.4 154.5h1.3v1.3h-1.3zM395.8 167.5h1.3v1.3h-1.3zM401.5 117.6h1.3v1.3h-1.3zM428.1 114.8h1.3v1.3h-1.3zM412.0 117.8h1.3v1.3h-1.3zM401.4 146.7h1.3v1.3h-1.3zM404.7 135.7h1.3v1.3h-1.3zM395.1 74.5h1.3v1.3h-1.3zM413.4 163.3h1.3v1.3h-1.3zM401.0 131.9h1.3v1.3h-1.3zM398.5 119.5h1.3v1.3h-1.3zM402.0 155.6h1.3v1.3h-1.3zM413.9 77.4h1.3v1.3h-1.3zM422.3 140.7h1.3v1.3h-1.3zM403.7 159.2h1.3v1.3h-1.3zM425.7 111.5h1.3v1.3h-1.3zM415.2 137.3h1.3v1.3h-1.3zM402.7 142.4h1.3v1.3h-1.3zM400.1 162.9h1.3v1.3h-1.3zM432.4 70.5h1.3v1.3h-1.3zM421.2 92.6h1.3v1.3h-1.3zM410.0 161.4h1.3v1.3h-1.3zM406.2 163.3h1.3v1.3h-1.3zM397.4 162.8h1.3v1.3h-1.3zM415.2 75.1h1.3v1.3h-1.3zM401.1 165.0h1.3v1.3h-1.3zM406.4 160.1h1.3v1.3h-1.3zM403.0 166.7h1.3v1.3h-1.3zM421.8 160.8h1.3v1.3h-1.3zM404.0 158.1h1.3v1.3h-1.3zM416.3 167.7h1.3v1.3h-1.3zM421.0 142.4h1.3v1.3h-1.3zM394.6 133.1h1.3v1.3h-1.3zM399.6 133.1h1.3v1.3h-1.3zM412.9 162.7h1.3v1.3h-1.3zM398.7 140.2h1.3v1.3h-1.3zM402.4 166.6h1.3v1.3h-1.3zM396.0 166.9h1.3v1.3h-1.3zM395.3 167.2h1.3v1.3h-1.3zM397.6 132.7h1.3v1.3h-1.3zM409.7 57.2h1.3v1.3h-1.3zM406.3 133.9h1.3v1.3h-1.3zM395.4 144.4h1.3v1.3h-1.3zM428.2 122.6h1.3v1.3h-1.3zM395.9 148.8h1.3v1.3h-1.3zM396.2 166.2h1.3v1.3h-1.3zM430.6 75.6h1.3v1.3h-1.3zM396.8 158.6h1.3v1.3h-1.3zM394.2 149.1h1.3v1.3h-1.3zM413.2 128.0h1.3v1.3h-1.3zM394.1 158.9h1.3v1.3h-1.3zM419.2 108.7h1.3v1.3h-1.3zM420.6 162.4h1.3v1.3h-1.3zM394.2 141.9h1.3v1.3h-1.3zM397.2 64.8h1.3v1.3h-1.3zM396.2 137.3h1.3v1.3h-1.3zM407.3 111.0h1.3v1.3h-1.3zM394.1 142.2h1.3v1.3h-1.3zM407.5 162.3h1.3v1.3h-1.3zM395.5 168.1h1.3v1.3h-1.3zM400.9 166.6h1.3v1.3h-1.3zM406.7 164.6h1.3v1.3h-1.3zM408.8 152.9h1.3v1.3h-1.3zM419.4 104.9h1.3v1.3h-1.3zM408.6 156.7h1.3v1.3h-1.3zM419.4 158.0h1.3v1.3h-1.3zM402.9 157.8h1.3v1.3h-1.3zM405.2 160.8h1.3v1.3h-1.3zM398.7 159.8h1.3v1.3h-1.3zM414.8 135.1h1.3v1.3h-1.3zM395.4 164.6h1.3v1.3h-1.3zM406.5 162.3h1.3v1.3h-1.3zM408.2 139.4h1.3v1.3h-1.3zM397.3 125.6h1.3v1.3h-1.3zM393.8 150.7h1.3v1.3h-1.3zM402.3 157.2h1.3v1.3h-1.3zM407.9 160.7h1.3v1.3h-1.3zM398.9 162.3h1.3v1.3h-1.3zM396.7 138.5h1.3v1.3h-1.3zM399.6 140.2h1.3v1.3h-1.3zM394.7 167.2h1.3v1.3h-1.3zM413.2 141.0h1.3v1.3h-1.3zM416.6 138.9h1.3v1.3h-1.3zM410.9 140.0h1.3v1.3h-1.3zM406.1 121.2h1.3v1.3h-1.3zM395.6 148.8h1.3v1.3h-1.3zM394.6 161.5h1.3v1.3h-1.3zM397.9 165.4h1.3v1.3h-1.3zM401.3 159.5h1.3v1.3h-1.3zM398.0 122.7h1.3v1.3h-1.3zM420.7 110.1h1.3v1.3h-1.3zM401.5 163.0h1.3v1.3h-1.3zM394.4 162.8h1.3v1.3h-1.3zM395.8 162.0h1.3v1.3h-1.3zM394.0 168.3h1.3v1.3h-1.3zM420.0 125.7h1.3v1.3h-1.3zM394.9 116.7h1.3v1.3h-1.3zM409.4 167.9h1.3v1.3h-1.3zM397.8 156.3h1.3v1.3h-1.3zM402.7 137.1h1.3v1.3h-1.3zM395.3 158.1h1.3v1.3h-1.3zM404.2 165.3h1.3v1.3h-1.3zM411.8 107.1h1.3v1.3h-1.3zM395.8 167.5h1.3v1.3h-1.3zM397.0 149.2h1.3v1.3h-1.3zM400.8 151.0h1.3v1.3h-1.3zM394.9 160.5h1.3v1.3h-1.3zM409.9 154.4h1.3v1.3h-1.3zM400.3 164.6h1.3v1.3h-1.3zM404.9 125.2h1.3v1.3h-1.3zM418.2 157.4h1.3v1.3h-1.3zM449.3 129.0h1.3v1.3h-1.3zM399.8 151.3h1.3v1.3h-1.3zM407.0 120.8h1.3v1.3h-1.3zM401.3 147.7h1.3v1.3h-1.3zM400.3 110.9h1.3v1.3h-1.3zM395.4 164.8h1.3v1.3h-1.3zM394.7 161.2h1.3v1.3h-1.3zM396.2 70.9h1.3v1.3h-1.3zM401.0 152.8h1.3v1.3h-1.3zM413.2 161.9h1.3v1.3h-1.3zM398.8 154.3h1.3v1.3h-1.3zM418.5 133.2h1.3v1.3h-1.3zM399.3 151.4h1.3v1.3h-1.3zM401.2 123.0h1.3v1.3h-1.3zM399.4 162.6h1.3v1.3h-1.3zM396.5 159.0h1.3v1.3h-1.3zM399.2 130.0h1.3v1.3h-1.3zM397.8 143.0h1.3v1.3h-1.3zM406.4 165.3h1.3v1.3h-1.3zM409.2 129.7h1.3v1.3h-1.3zM395.9 144.0h1.3v1.3h-1.3zM411.9 150.4h1.3v1.3h-1.3zM405.2 128.6h1.3v1.3h-1.3zM395.9 142.6h1.3v1.3h-1.3zM409.0 167.0h1.3v1.3h-1.3zM396.1 168.0h1.3v1.3h-1.3zM405.3 155.2h1.3v1.3h-1.3zM417.3 137.5h1.3v1.3h-1.3zM406.9 99.4h1.3v1.3h-1.3zM396.4 160.3h1.3v1.3h-1.3zM397.1 165.1h1.3v1.3h-1.3zM420.7 165.7h1.3v1.3h-1.3zM401.0 146.3h1.3v1.3h-1.3zM413.6 167.0h1.3v1.3h-1.3zM406.7 161.2h1.3v1.3h-1.3zM396.5 162.5h1.3v1.3h-1.3zM400.2 164.7h1.3v1.3h-1.3zM401.4 159.8h1.3v1.3h-1.3zM396.8 135.9h1.3v1.3h-1.3zM399.9 164.8h1.3v1.3h-1.3zM399.4 155.2h1.3v1.3h-1.3zM395.5 156.6h1.3v1.3h-1.3zM404.6 165.1h1.3v1.3h-1.3zM406.7 142.3h1.3v1.3h-1.3zM401.8 142.0h1.3v1.3h-1.3zM415.0 162.8h1.3v1.3h-1.3zM400.1 148.7h1.3v1.3h-1.3zM398.0 160.6h1.3v1.3h-1.3zM398.0 65.6h1.3v1.3h-1.3zM401.4 165.0h1.3v1.3h-1.3zM396.2 160.3h1.3v1.3h-1.3zM398.4 159.1h1.3v1.3h-1.3zM399.6 141.7h1.3v1.3h-1.3zM396.2 117.2h1.3v1.3h-1.3zM401.8 118.2h1.3v1.3h-1.3zM400.3 127.6h1.3v1.3h-1.3zM413.7 160.8h1.3v1.3h-1.3zM408.0 142.2h1.3v1.3h-1.3zM406.5 149.3h1.3v1.3h-1.3zM423.0 87.0h1.3v1.3h-1.3zM436.0 133.4h1.3v1.3h-1.3zM397.1 157.3h1.3v1.3h-1.3zM420.1 112.6h1.3v1.3h-1.3zM402.3 111.4h1.3v1.3h-1.3zM422.1 154.6h1.3v1.3h-1.3zM395.4 162.6h1.3v1.3h-1.3zM396.9 163.6h1.3v1.3h-1.3zM398.4 154.4h1.3v1.3h-1.3zM394.2 152.5h1.3v1.3h-1.3zM400.4 157.6h1.3v1.3h-1.3zM399.1 167.1h1.3v1.3h-1.3zM399.2 107.3h1.3v1.3h-1.3zM403.4 117.4h1.3v1.3h-1.3zM394.3 167.9h1.3v1.3h-1.3zM413.4 146.2h1.3v1.3h-1.3zM395.1 158.0h1.3v1.3h-1.3zM403.4 131.5h1.3v1.3h-1.3zM395.2 152.1h1.3v1.3h-1.3zM402.7 147.5h1.3v1.3h-1.3zM421.2 136.3h1.3v1.3h-1.3zM408.4 166.4h1.3v1.3h-1.3zM398.7 158.4h1.3v1.3h-1.3zM409.0 157.5h1.3v1.3h-1.3zM394.5 153.4h1.3v1.3h-1.3zM395.4 151.8h1.3v1.3h-1.3zM394.2 168.1h1.3v1.3h-1.3zM399.5 156.0h1.3v1.3h-1.3zM395.0 168.5h1.3v1.3h-1.3zM396.8 108.2h1.3v1.3h-1.3zM434.5 148.1h1.3v1.3h-1.3zM425.8 148.2h1.3v1.3h-1.3zM399.5 137.9h1.3v1.3h-1.3zM395.1 167.2h1.3v1.3h-1.3zM407.7 127.6h1.3v1.3h-1.3zM395.4 159.3h1.3v1.3h-1.3zM423.4 141.9h1.3v1.3h-1.3zM444.9 161.1h1.3v1.3h-1.3zM396.2 148.6h1.3v1.3h-1.3zM404.5 163.3h1.3v1.3h-1.3zM415.1 100.1h1.3v1.3h-1.3zM395.8 164.5h1.3v1.3h-1.3zM398.5 161.9h1.3v1.3h-1.3zM403.4 161.4h1.3v1.3h-1.3zM396.5 161.4h1.3v1.3h-1.3zM395.6 154.4h1.3v1.3h-1.3zM394.6 167.1h1.3v1.3h-1.3zM402.7 168.4h1.3v1.3h-1.3zM399.1 167.2h1.3v1.3h-1.3zM407.9 111.3h1.3v1.3h-1.3zM398.5 159.0h1.3v1.3h-1.3zM397.5 154.0h1.3v1.3h-1.3zM395.2 167.1h1.3v1.3h-1.3zM395.8 164.5h1.3v1.3h-1.3zM394.8 158.1h1.3v1.3h-1.3zM396.2 143.6h1.3v1.3h-1.3zM405.8 149.9h1.3v1.3h-1.3zM407.4 150.6h1.3v1.3h-1.3zM401.3 129.1h1.3v1.3h-1.3zM394.2 162.3h1.3v1.3h-1.3zM399.1 137.8h1.3v1.3h-1.3zM394.6 159.6h1.3v1.3h-1.3zM412.8 163.3h1.3v1.3h-1.3zM412.5 151.9h1.3v1.3h-1.3zM397.7 120.1h1.3v1.3h-1.3zM412.8 161.8h1.3v1.3h-1.3zM401.8 161.5h1.3v1.3h-1.3zM420.1 96.8h1.3v1.3h-1.3zM399.3 152.2h1.3v1.3h-1.3zM427.9 86.4h1.3v1.3h-1.3zM396.8 136.6h1.3v1.3h-1.3zM394.0 167.2h1.3v1.3h-1.3zM395.7 101.8h1.3v1.3h-1.3zM416.1 148.2h1.3v1.3h-1.3zM415.1 86.3h1.3v1.3h-1.3zM395.6 160.2h1.3v1.3h-1.3zM442.1 160.2h1.3v1.3h-1.3zM439.4 95.5h1.3v1.3h-1.3zM399.9 157.2h1.3v1.3h-1.3zM415.6 123.4h1.3v1.3h-1.3zM408.3 109.3h1.3v1.3h-1.3zM421.5 149.8h1.3v1.3h-1.3zM416.2 143.8h1.3v1.3h-1.3zM399.9 162.8h1.3v1.3h-1.3zM418.5 103.7h1.3v1.3h-1.3zM410.5 146.5h1.3v1.3h-1.3zM401.4 125.6h1.3v1.3h-1.3zM407.4 138.1h1.3v1.3h-1.3zM401.0 153.4h1.3v1.3h-1.3zM421.8 125.3h1.3v1.3h-1.3zM402.9 56.2h1.3v1.3h-1.3zM413.7 147.7h1.3v1.3h-1.3zM399.3 161.4h1.3v1.3h-1.3zM408.2 160.8h1.3v1.3h-1.3zM393.9 136.3h1.3v1.3h-1.3zM395.1 165.5h1.3v1.3h-1.3zM409.8 145.2h1.3v1.3h-1.3zM394.6 157.5h1.3v1.3h-1.3zM404.0 145.6h1.3v1.3h-1.3zM396.9 153.9h1.3v1.3h-1.3zM396.3 157.4h1.3v1.3h-1.3zM400.1 124.9h1.3v1.3h-1.3zM403.2 136.0h1.3v1.3h-1.3zM396.7 161.7h1.3v1.3h-1.3zM416.5 139.6h1.3v1.3h-1.3zM424.1 103.6h1.3v1.3h-1.3zM396.3 164.2h1.3v1.3h-1.3zM395.5 165.8h1.3v1.3h-1.3zM405.8 155.8h1.3v1.3h-1.3zM408.3 104.1h1.3v1.3h-1.3zM395.3 156.2h1.3v1.3h-1.3zM401.5 160.0h1.3v1.3h-1.3zM395.7 150.4h1.3v1.3h-1.3zM414.1 160.1h1.3v1.3h-1.3zM404.0 142.6h1.3v1.3h-1.3zM397.1 158.4h1.3v1.3h-1.3zM394.0 131.2h1.3v1.3h-1.3zM429.0 140.9h1.3v1.3h-1.3zM394.3 142.3h1.3v1.3h-1.3zM406.2 167.6h1.3v1.3h-1.3zM398.5 163.2h1.3v1.3h-1.3zM406.4 141.1h1.3v1.3h-1.3zM404.1 159.7h1.3v1.3h-1.3zM410.0 104.8h1.3v1.3h-1.3zM398.8 152.1h1.3v1.3h-1.3zM417.7 138.4h1.3v1.3h-1.3zM424.1 138.3h1.3v1.3h-1.3zM433.6 128.9h1.3v1.3h-1.3zM403.7 161.0h1.3v1.3h-1.3zM394.9 162.4h1.3v1.3h-1.3zM420.7 157.6h1.3v1.3h-1.3zM397.1 159.4h1.3v1.3h-1.3zM429.7 100.5h1.3v1.3h-1.3zM409.9 157.2h1.3v1.3h-1.3zM393.9 166.7h1.3v1.3h-1.3zM397.1 166.8h1.3v1.3h-1.3zM411.1 161.3h1.3v1.3h-1.3zM412.4 153.1h1.3v1.3h-1.3zM398.5 151.1h1.3v1.3h-1.3zM394.2 157.7h1.3v1.3h-1.3zM423.5 152.7h1.3v1.3h-1.3zM411.1 75.9h1.3v1.3h-1.3zM421.8 98.7h1.3v1.3h-1.3zM396.1 121.8h1.3v1.3h-1.3zM395.7 166.7h1.3v1.3h-1.3zM404.9 166.2h1.3v1.3h-1.3zM446.6 136.1h1.3v1.3h-1.3zM403.6 167.2h1.3v1.3h-1.3zM396.3 127.5h1.3v1.3h-1.3zM425.8 166.4h1.3v1.3h-1.3zM394.7 127.9h1.3v1.3h-1.3zM403.0 163.1h1.3v1.3h-1.3zM398.7 163.6h1.3v1.3h-1.3zM394.6 164.3h1.3v1.3h-1.3zM401.6 151.3h1.3v1.3h-1.3zM393.9 119.7h1.3v1.3h-1.3zM394.5 157.1h1.3v1.3h-1.3zM395.7 147.6h1.3v1.3h-1.3zM425.8 158.0h1.3v1.3h-1.3zM406.2 141.2h1.3v1.3h-1.3zM396.2 144.3h1.3v1.3h-1.3zM434.4 138.5h1.3v1.3h-1.3zM408.8 166.1h1.3v1.3h-1.3zM395.9 157.5h1.3v1.3h-1.3zM415.2 140.8h1.3v1.3h-1.3zM395.7 163.7h1.3v1.3h-1.3zM396.1 150.4h1.3v1.3h-1.3zM440.6 150.1h1.3v1.3h-1.3zM398.3 167.8h1.3v1.3h-1.3zM395.4 162.6h1.3v1.3h-1.3zM425.4 145.4h1.3v1.3h-1.3zM401.9 152.0h1.3v1.3h-1.3zM416.7 137.3h1.3v1.3h-1.3zM419.2 80.0h1.3v1.3h-1.3zM395.6 158.0h1.3v1.3h-1.3zM396.7 103.9h1.3v1.3h-1.3zM406.9 164.4h1.3v1.3h-1.3zM395.0 165.2h1.3v1.3h-1.3zM397.5 165.1h1.3v1.3h-1.3zM404.1 154.5h1.3v1.3h-1.3zM400.3 96.3h1.3v1.3h-1.3zM402.2 153.9h1.3v1.3h-1.3zM398.4 154.7h1.3v1.3h-1.3zM393.8 160.5h1.3v1.3h-1.3zM405.2 160.8h1.3v1.3h-1.3zM408.8 126.8h1.3v1.3h-1.3zM399.0 153.4h1.3v1.3h-1.3zM396.2 163.1h1.3v1.3h-1.3zM399.3 145.5h1.3v1.3h-1.3zM400.8 148.6h1.3v1.3h-1.3zM398.7 159.5h1.3v1.3h-1.3zM416.0 153.9h1.3v1.3h-1.3zM398.9 110.9h1.3v1.3h-1.3zM396.3 152.7h1.3v1.3h-1.3zM420.5 89.1h1.3v1.3h-1.3zM398.7 168.2h1.3v1.3h-1.3zM393.9 152.5h1.3v1.3h-1.3zM399.7 164.2h1.3v1.3h-1.3zM397.4 151.8h1.3v1.3h-1.3zM397.0 167.1h1.3v1.3h-1.3zM394.8 157.4h1.3v1.3h-1.3zM396.5 144.7h1.3v1.3h-1.3zM406.6 148.8h1.3v1.3h-1.3zM399.3 168.1h1.3v1.3h-1.3zM418.7 142.1h1.3v1.3h-1.3zM414.9 138.0h1.3v1.3h-1.3zM396.7 140.2h1.3v1.3h-1.3zM412.4 124.8h1.3v1.3h-1.3zM419.8 151.2h1.3v1.3h-1.3zM413.1 167.2h1.3v1.3h-1.3zM401.1 157.0h1.3v1.3h-1.3zM396.2 127.0h1.3v1.3h-1.3zM394.0 150.7h1.3v1.3h-1.3zM419.0 167.5h1.3v1.3h-1.3zM398.6 162.1h1.3v1.3h-1.3zM416.2 165.2h1.3v1.3h-1.3zM413.4 150.1h1.3v1.3h-1.3zM399.4 160.2h1.3v1.3h-1.3zM401.7 161.1h1.3v1.3h-1.3zM403.8 136.6h1.3v1.3h-1.3zM397.8 145.7h1.3v1.3h-1.3zM421.7 89.3h1.3v1.3h-1.3zM395.3 168.0h1.3v1.3h-1.3zM434.9 139.9h1.3v1.3h-1.3zM397.7 119.6h1.3v1.3h-1.3zM400.5 93.9h1.3v1.3h-1.3zM404.6 141.4h1.3v1.3h-1.3zM427.1 113.5h1.3v1.3h-1.3zM414.1 158.6h1.3v1.3h-1.3zM404.3 158.6h1.3v1.3h-1.3zM402.4 164.0h1.3v1.3h-1.3zM441.0 159.2h1.3v1.3h-1.3zM399.4 140.1h1.3v1.3h-1.3zM416.5 83.5h1.3v1.3h-1.3zM405.2 165.3h1.3v1.3h-1.3zM394.0 141.3h1.3v1.3h-1.3zM395.0 152.5h1.3v1.3h-1.3zM402.1 165.8h1.3v1.3h-1.3zM395.2 148.1h1.3v1.3h-1.3zM400.6 97.7h1.3v1.3h-1.3zM395.3 160.6h1.3v1.3h-1.3zM394.1 158.2h1.3v1.3h-1.3zM399.7 162.7h1.3v1.3h-1.3zM407.4 155.6h1.3v1.3h-1.3zM395.7 164.5h1.3v1.3h-1.3zM405.7 149.2h1.3v1.3h-1.3zM395.9 158.7h1.3v1.3h-1.3zM397.6 165.0h1.3v1.3h-1.3zM408.8 156.1h1.3v1.3h-1.3zM397.5 161.4h1.3v1.3h-1.3zM396.6 132.9h1.3v1.3h-1.3zM422.7 167.5h1.3v1.3h-1.3zM406.8 104.6h1.3v1.3h-1.3zM396.8 158.6h1.3v1.3h-1.3zM396.1 152.5h1.3v1.3h-1.3zM421.4 128.4h1.3v1.3h-1.3zM399.8 136.1h1.3v1.3h-1.3zM431.4 120.9h1.3v1.3h-1.3zM403.3 163.2h1.3v1.3h-1.3zM430.3 163.6h1.3v1.3h-1.3zM400.6 127.2h1.3v1.3h-1.3zM398.0 133.4h1.3v1.3h-1.3zM399.7 166.8h1.3v1.3h-1.3zM398.8 166.5h1.3v1.3h-1.3zM405.8 118.7h1.3v1.3h-1.3zM395.9 160.5h1.3v1.3h-1.3zM401.3 147.3h1.3v1.3h-1.3zM418.3 107.7h1.3v1.3h-1.3zM398.4 153.1h1.3v1.3h-1.3zM398.0 163.1h1.3v1.3h-1.3zM396.0 148.1h1.3v1.3h-1.3zM400.6 158.5h1.3v1.3h-1.3zM422.9 95.3h1.3v1.3h-1.3zM398.0 151.4h1.3v1.3h-1.3zM399.7 167.6h1.3v1.3h-1.3zM394.9 157.5h1.3v1.3h-1.3zM403.3 151.8h1.3v1.3h-1.3zM406.1 157.2h1.3v1.3h-1.3zM394.5 142.5h1.3v1.3h-1.3zM399.8 167.2h1.3v1.3h-1.3zM402.6 144.3h1.3v1.3h-1.3zM397.5 161.7h1.3v1.3h-1.3zM399.8 135.6h1.3v1.3h-1.3zM396.5 148.9h1.3v1.3h-1.3zM401.0 142.7h1.3v1.3h-1.3zM405.0 168.4h1.3v1.3h-1.3zM401.2 137.0h1.3v1.3h-1.3zM404.6 160.5h1.3v1.3h-1.3zM397.6 154.4h1.3v1.3h-1.3zM401.5 165.3h1.3v1.3h-1.3zM411.1 136.3h1.3v1.3h-1.3zM395.7 164.2h1.3v1.3h-1.3zM395.3 142.1h1.3v1.3h-1.3zM432.4 112.0h1.3v1.3h-1.3zM397.1 142.6h1.3v1.3h-1.3zM409.1 147.0h1.3v1.3h-1.3zM403.5 157.5h1.3v1.3h-1.3zM419.7 144.6h1.3v1.3h-1.3zM407.7 129.6h1.3v1.3h-1.3zM416.7 148.0h1.3v1.3h-1.3zM406.4 144.5h1.3v1.3h-1.3zM394.8 158.8h1.3v1.3h-1.3zM396.4 147.3h1.3v1.3h-1.3zM416.8 77.6h1.3v1.3h-1.3zM395.8 158.0h1.3v1.3h-1.3zM397.9 146.1h1.3v1.3h-1.3zM395.0 143.5h1.3v1.3h-1.3zM394.9 158.9h1.3v1.3h-1.3zM401.3 150.8h1.3v1.3h-1.3zM404.0 158.6h1.3v1.3h-1.3zM410.6 153.2h1.3v1.3h-1.3zM397.2 138.9h1.3v1.3h-1.3zM394.2 122.4h1.3v1.3h-1.3zM394.1 161.5h1.3v1.3h-1.3zM433.9 89.8h1.3v1.3h-1.3zM412.8 148.6h1.3v1.3h-1.3zM412.8 166.0h1.3v1.3h-1.3zM403.5 168.0h1.3v1.3h-1.3zM400.0 127.5h1.3v1.3h-1.3zM415.4 111.1h1.3v1.3h-1.3zM397.1 150.6h1.3v1.3h-1.3zM394.5 164.0h1.3v1.3h-1.3zM401.5 148.2h1.3v1.3h-1.3zM400.3 163.1h1.3v1.3h-1.3zM396.7 166.3h1.3v1.3h-1.3zM395.7 139.7h1.3v1.3h-1.3zM395.3 149.3h1.3v1.3h-1.3zM397.3 112.9h1.3v1.3h-1.3zM435.5 98.8h1.3v1.3h-1.3zM404.1 159.9h1.3v1.3h-1.3zM423.0 166.6h1.3v1.3h-1.3zM394.2 137.9h1.3v1.3h-1.3zM394.7 164.6h1.3v1.3h-1.3zM419.5 157.4h1.3v1.3h-1.3zM398.8 128.0h1.3v1.3h-1.3zM393.9 125.4h1.3v1.3h-1.3zM398.9 148.0h1.3v1.3h-1.3zM414.4 166.5h1.3v1.3h-1.3zM395.3 143.3h1.3v1.3h-1.3zM416.4 151.7h1.3v1.3h-1.3zM404.5 147.2h1.3v1.3h-1.3zM398.2 152.5h1.3v1.3h-1.3zM395.8 168.2h1.3v1.3h-1.3zM394.6 163.1h1.3v1.3h-1.3zM405.2 167.1h1.3v1.3h-1.3zM414.5 137.4h1.3v1.3h-1.3zM410.2 162.4h1.3v1.3h-1.3zM412.0 156.0h1.3v1.3h-1.3zM396.9 161.4h1.3v1.3h-1.3zM396.4 149.1h1.3v1.3h-1.3zM405.3 160.7h1.3v1.3h-1.3zM446.0 128.0h1.3v1.3h-1.3zM398.7 140.9h1.3v1.3h-1.3zM402.5 152.0h1.3v1.3h-1.3zM420.6 145.2h1.3v1.3h-1.3zM428.2 146.7h1.3v1.3h-1.3zM399.7 151.6h1.3v1.3h-1.3zM396.9 167.7h1.3v1.3h-1.3zM393.9 151.4h1.3v1.3h-1.3zM395.0 153.4h1.3v1.3h-1.3zM413.0 160.4h1.3v1.3h-1.3zM400.3 104.3h1.3v1.3h-1.3zM401.2 165.3h1.3v1.3h-1.3zM394.4 151.2h1.3v1.3h-1.3zM400.7 159.3h1.3v1.3h-1.3zM402.0 154.1h1.3v1.3h-1.3zM401.5 166.7h1.3v1.3h-1.3zM396.1 143.9h1.3v1.3h-1.3zM422.5 146.7h1.3v1.3h-1.3zM408.0 110.8h1.3v1.3h-1.3zM408.0 149.4h1.3v1.3h-1.3zM405.9 152.8h1.3v1.3h-1.3zM401.4 156.4h1.3v1.3h-1.3zM404.4 134.1h1.3v1.3h-1.3zM399.0 144.5h1.3v1.3h-1.3zM403.7 157.3h1.3v1.3h-1.3zM399.5 153.1h1.3v1.3h-1.3zM397.0 156.1h1.3v1.3h-1.3zM417.0 142.9h1.3v1.3h-1.3zM402.8 162.9h1.3v1.3h-1.3zM404.2 148.8h1.3v1.3h-1.3zM399.6 140.2h1.3v1.3h-1.3zM397.4 168.2h1.3v1.3h-1.3zM404.0 149.4h1.3v1.3h-1.3zM405.0 100.5h1.3v1.3h-1.3zM408.5 157.3h1.3v1.3h-1.3zM411.9 164.9h1.3v1.3h-1.3zM399.9 151.0h1.3v1.3h-1.3zM402.9 137.9h1.3v1.3h-1.3zM394.3 165.2h1.3v1.3h-1.3zM396.6 145.0h1.3v1.3h-1.3zM397.9 159.5h1.3v1.3h-1.3zM396.3 161.9h1.3v1.3h-1.3zM425.3 164.7h1.3v1.3h-1.3zM399.2 134.0h1.3v1.3h-1.3zM424.6 165.5h1.3v1.3h-1.3zM395.3 111.1h1.3v1.3h-1.3zM405.3 115.6h1.3v1.3h-1.3zM400.8 59.4h1.3v1.3h-1.3zM399.4 153.4h1.3v1.3h-1.3zM400.6 168.3h1.3v1.3h-1.3zM412.5 161.4h1.3v1.3h-1.3zM412.5 161.9h1.3v1.3h-1.3zM408.9 157.9h1.3v1.3h-1.3zM425.9 135.9h1.3v1.3h-1.3zM398.5 146.2h1.3v1.3h-1.3zM396.2 160.6h1.3v1.3h-1.3zM396.7 165.7h1.3v1.3h-1.3zM409.6 158.6h1.3v1.3h-1.3zM399.4 168.3h1.3v1.3h-1.3zM395.5 150.1h1.3v1.3h-1.3zM396.5 137.8h1.3v1.3h-1.3zM396.1 133.2h1.3v1.3h-1.3zM399.2 113.7h1.3v1.3h-1.3zM395.1 165.9h1.3v1.3h-1.3zM395.0 162.6h1.3v1.3h-1.3zM426.0 158.7h1.3v1.3h-1.3zM398.5 156.3h1.3v1.3h-1.3zM394.7 132.1h1.3v1.3h-1.3zM410.6 166.1h1.3v1.3h-1.3zM395.6 158.2h1.3v1.3h-1.3zM405.5 163.2h1.3v1.3h-1.3zM400.3 69.8h1.3v1.3h-1.3zM396.1 152.4h1.3v1.3h-1.3zM397.6 158.7h1.3v1.3h-1.3zM407.7 161.0h1.3v1.3h-1.3zM397.8 166.0h1.3v1.3h-1.3zM394.2 134.0h1.3v1.3h-1.3zM422.4 82.4h1.3v1.3h-1.3zM405.3 143.7h1.3v1.3h-1.3zM395.8 162.9h1.3v1.3h-1.3zM444.5 120.3h1.3v1.3h-1.3zM407.4 168.1h1.3v1.3h-1.3zM394.5 162.7h1.3v1.3h-1.3zM394.9 144.9h1.3v1.3h-1.3zM419.2 120.7h1.3v1.3h-1.3zM395.2 159.7h1.3v1.3h-1.3zM407.9 149.8h1.3v1.3h-1.3zM403.6 167.5h1.3v1.3h-1.3zM397.8 165.1h1.3v1.3h-1.3zM394.5 163.8h1.3v1.3h-1.3zM397.5 148.6h1.3v1.3h-1.3zM426.3 105.6h1.3v1.3h-1.3zM404.4 149.9h1.3v1.3h-1.3zM399.6 158.0h1.3v1.3h-1.3zM399.5 147.9h1.3v1.3h-1.3zM412.5 153.2h1.3v1.3h-1.3zM417.4 133.9h1.3v1.3h-1.3zM394.5 159.0h1.3v1.3h-1.3zM399.8 162.0h1.3v1.3h-1.3zM410.3 130.9h1.3v1.3h-1.3zM403.9 104.4h1.3v1.3h-1.3zM398.3 129.3h1.3v1.3h-1.3zM399.1 167.0h1.3v1.3h-1.3zM412.5 158.1h1.3v1.3h-1.3zM396.3 107.1h1.3v1.3h-1.3zM402.6 134.8h1.3v1.3h-1.3zM423.7 153.3h1.3v1.3h-1.3zM404.7 127.0h1.3v1.3h-1.3zM408.9 55.8h1.3v1.3h-1.3zM406.2 164.3h1.3v1.3h-1.3zM397.8 147.7h1.3v1.3h-1.3zM401.1 165.0h1.3v1.3h-1.3zM396.6 115.7h1.3v1.3h-1.3zM419.5 109.0h1.3v1.3h-1.3zM400.7 147.6h1.3v1.3h-1.3zM395.0 157.9h1.3v1.3h-1.3zM419.1 160.4h1.3v1.3h-1.3zM435.1 120.8h1.3v1.3h-1.3zM400.8 150.6h1.3v1.3h-1.3zM398.3 166.8h1.3v1.3h-1.3zM447.3 145.8h1.3v1.3h-1.3zM402.5 166.8h1.3v1.3h-1.3zM422.7 167.3h1.3v1.3h-1.3zM404.0 162.6h1.3v1.3h-1.3zM396.4 142.4h1.3v1.3h-1.3zM399.2 152.4h1.3v1.3h-1.3zM398.1 163.4h1.3v1.3h-1.3zM403.8 166.8h1.3v1.3h-1.3zM412.5 76.3h1.3v1.3h-1.3zM399.1 148.2h1.3v1.3h-1.3zM395.4 149.7h1.3v1.3h-1.3zM408.0 133.6h1.3v1.3h-1.3zM397.7 165.6h1.3v1.3h-1.3zM403.9 165.1h1.3v1.3h-1.3zM410.1 168.1h1.3v1.3h-1.3zM408.5 166.8h1.3v1.3h-1.3zM400.3 163.0h1.3v1.3h-1.3zM426.8 136.2h1.3v1.3h-1.3zM396.2 114.5h1.3v1.3h-1.3zM400.5 135.8h1.3v1.3h-1.3zM399.1 163.7h1.3v1.3h-1.3zM428.4 96.3h1.3v1.3h-1.3zM416.0 148.2h1.3v1.3h-1.3zM396.7 151.7h1.3v1.3h-1.3zM395.4 119.0h1.3v1.3h-1.3zM397.8 138.2h1.3v1.3h-1.3zM395.3 167.1h1.3v1.3h-1.3zM396.2 119.2h1.3v1.3h-1.3zM414.9 103.3h1.3v1.3h-1.3zM416.0 164.4h1.3v1.3h-1.3zM402.5 167.1h1.3v1.3h-1.3zM403.2 148.6h1.3v1.3h-1.3zM417.6 101.1h1.3v1.3h-1.3zM411.3 146.6h1.3v1.3h-1.3zM445.8 161.0h1.3v1.3h-1.3zM401.4 135.4h1.3v1.3h-1.3zM412.2 162.1h1.3v1.3h-1.3zM441.6 147.1h1.3v1.3h-1.3zM414.0 112.5h1.3v1.3h-1.3zM396.0 135.2h1.3v1.3h-1.3zM410.7 122.4h1.3v1.3h-1.3zM394.4 165.8h1.3v1.3h-1.3zM395.8 165.7h1.3v1.3h-1.3zM412.0 130.9h1.3v1.3h-1.3zM399.2 137.6h1.3v1.3h-1.3zM444.3 96.2h1.3v1.3h-1.3zM396.0 164.2h1.3v1.3h-1.3zM396.7 153.4h1.3v1.3h-1.3zM415.6 133.9h1.3v1.3h-1.3zM398.6 133.1h1.3v1.3h-1.3zM397.8 145.9h1.3v1.3h-1.3zM401.7 147.8h1.3v1.3h-1.3zM409.6 164.2h1.3v1.3h-1.3zM413.6 125.0h1.3v1.3h-1.3zM396.0 166.0h1.3v1.3h-1.3zM414.0 132.5h1.3v1.3h-1.3zM423.4 143.5h1.3v1.3h-1.3zM396.3 154.1h1.3v1.3h-1.3zM397.4 151.8h1.3v1.3h-1.3zM408.2 156.0h1.3v1.3h-1.3zM405.2 158.3h1.3v1.3h-1.3zM394.0 145.1h1.3v1.3h-1.3zM414.3 149.9h1.3v1.3h-1.3zM415.1 141.4h1.3v1.3h-1.3zM449.3 142.0h1.3v1.3h-1.3zM395.9 154.1h1.3v1.3h-1.3zM398.1 131.8h1.3v1.3h-1.3zM405.9 140.1h1.3v1.3h-1.3zM401.4 168.1h1.3v1.3h-1.3zM396.5 158.1h1.3v1.3h-1.3zM405.0 141.5h1.3v1.3h-1.3zM404.6 162.2h1.3v1.3h-1.3zM394.3 166.5h1.3v1.3h-1.3zM432.7 111.7h1.3v1.3h-1.3zM429.4 92.2h1.3v1.3h-1.3zM401.8 146.6h1.3v1.3h-1.3zM423.5 148.6h1.3v1.3h-1.3zM412.5 80.0h1.3v1.3h-1.3zM396.0 153.6h1.3v1.3h-1.3zM399.5 148.4h1.3v1.3h-1.3zM427.3 125.4h1.3v1.3h-1.3zM394.7 143.4h1.3v1.3h-1.3zM395.2 148.6h1.3v1.3h-1.3zM411.5 148.5h1.3v1.3h-1.3zM401.0 139.4h1.3v1.3h-1.3zM416.5 164.0h1.3v1.3h-1.3zM403.4 115.2h1.3v1.3h-1.3zM403.0 167.1h1.3v1.3h-1.3zM398.6 155.2h1.3v1.3h-1.3zM396.8 156.1h1.3v1.3h-1.3zM402.6 164.6h1.3v1.3h-1.3zM399.6 149.5h1.3v1.3h-1.3zM402.4 132.4h1.3v1.3h-1.3zM396.4 163.9h1.3v1.3h-1.3zM405.3 147.2h1.3v1.3h-1.3zM409.0 142.4h1.3v1.3h-1.3zM407.4 157.0h1.3v1.3h-1.3zM396.9 145.8h1.3v1.3h-1.3zM402.0 165.0h1.3v1.3h-1.3zM435.4 119.7h1.3v1.3h-1.3zM416.7 124.4h1.3v1.3h-1.3zM396.8 145.3h1.3v1.3h-1.3zM411.7 159.4h1.3v1.3h-1.3zM399.7 160.2h1.3v1.3h-1.3zM394.0 147.8h1.3v1.3h-1.3zM395.7 165.4h1.3v1.3h-1.3zM413.6 127.2h1.3v1.3h-1.3zM395.3 166.1h1.3v1.3h-1.3zM422.1 56.4h1.3v1.3h-1.3zM415.8 145.5h1.3v1.3h-1.3zM395.0 133.8h1.3v1.3h-1.3zM409.5 130.4h1.3v1.3h-1.3zM416.8 167.4h1.3v1.3h-1.3zM399.4 159.5h1.3v1.3h-1.3zM402.1 149.2h1.3v1.3h-1.3zM394.5 146.6h1.3v1.3h-1.3zM404.1 118.6h1.3v1.3h-1.3zM399.6 165.8h1.3v1.3h-1.3zM398.7 163.0h1.3v1.3h-1.3zM410.5 135.5h1.3v1.3h-1.3zM396.7 163.9h1.3v1.3h-1.3zM428.5 78.7h1.3v1.3h-1.3zM396.1 142.8h1.3v1.3h-1.3zM396.9 144.0h1.3v1.3h-1.3zM402.6 166.5h1.3v1.3h-1.3zM395.1 165.4h1.3v1.3h-1.3zM432.8 139.0h1.3v1.3h-1.3zM405.1 166.6h1.3v1.3h-1.3zM394.3 164.5h1.3v1.3h-1.3zM394.0 168.1h1.3v1.3h-1.3zM422.4 134.4h1.3v1.3h-1.3zM395.1 168.2h1.3v1.3h-1.3zM398.0 167.2h1.3v1.3h-1.3zM395.8 158.4h1.3v1.3h-1.3zM395.3 124.6h1.3v1.3h-1.3zM395.5 142.5h1.3v1.3h-1.3zM395.4 140.9h1.3v1.3h-1.3zM432.7 162.8h1.3v1.3h-1.3zM399.1 160.4h1.3v1.3h-1.3zM403.0 165.3h1.3v1.3h-1.3zM403.9 138.6h1.3v1.3h-1.3zM410.0 155.9h1.3v1.3h-1.3zM400.2 166.8h1.3v1.3h-1.3zM419.8 148.1h1.3v1.3h-1.3zM397.3 129.2h1.3v1.3h-1.3zM402.4 155.9h1.3v1.3h-1.3zM394.4 156.1h1.3v1.3h-1.3zM395.3 152.7h1.3v1.3h-1.3zM393.9 164.2h1.3v1.3h-1.3zM421.2 105.6h1.3v1.3h-1.3zM422.9 93.2h1.3v1.3h-1.3zM405.0 130.5h1.3v1.3h-1.3zM403.9 159.8h1.3v1.3h-1.3zM396.8 125.8h1.3v1.3h-1.3zM398.4 161.8h1.3v1.3h-1.3zM417.6 144.8h1.3v1.3h-1.3zM397.1 145.2h1.3v1.3h-1.3zM395.8 134.9h1.3v1.3h-1.3zM393.9 165.5h1.3v1.3h-1.3zM403.0 146.2h1.3v1.3h-1.3zM401.8 152.3h1.3v1.3h-1.3zM395.8 163.1h1.3v1.3h-1.3zM399.3 145.6h1.3v1.3h-1.3zM418.6 150.5h1.3v1.3h-1.3zM407.3 152.1h1.3v1.3h-1.3zM399.3 166.9h1.3v1.3h-1.3zM395.6 167.1h1.3v1.3h-1.3zM398.0 163.1h1.3v1.3h-1.3zM416.9 164.0h1.3v1.3h-1.3zM397.1 159.2h1.3v1.3h-1.3zM397.6 166.6h1.3v1.3h-1.3zM403.9 128.6h1.3v1.3h-1.3zM408.1 110.2h1.3v1.3h-1.3zM400.0 141.6h1.3v1.3h-1.3zM401.9 121.6h1.3v1.3h-1.3zM395.9 164.6h1.3v1.3h-1.3zM394.6 127.0h1.3v1.3h-1.3zM402.2 163.3h1.3v1.3h-1.3zM401.0 138.7h1.3v1.3h-1.3zM399.9 141.0h1.3v1.3h-1.3zM394.2 145.3h1.3v1.3h-1.3zM428.8 154.7h1.3v1.3h-1.3zM398.2 146.2h1.3v1.3h-1.3zM434.9 143.1h1.3v1.3h-1.3zM399.1 152.2h1.3v1.3h-1.3zM419.1 123.7h1.3v1.3h-1.3zM403.4 161.8h1.3v1.3h-1.3zM397.7 159.3h1.3v1.3h-1.3zM399.7 126.3h1.3v1.3h-1.3zM397.0 104.6h1.3v1.3h-1.3zM398.1 164.9h1.3v1.3h-1.3zM409.5 167.6h1.3v1.3h-1.3zM403.7 111.2h1.3v1.3h-1.3zM428.6 152.2h1.3v1.3h-1.3zM397.3 155.8h1.3v1.3h-1.3zM414.9 164.7h1.3v1.3h-1.3zM403.5 126.3h1.3v1.3h-1.3z" fill="#f61b38"/>
<path d="M414.6 84.8h1.3v1.3h-1.3zM409.4 75.9h1.3v1.3h-1.3zM408.4 99.7h1.3v1.3h-1.3zM418.2 84.6h1.3v1.3h-1.3zM414.2 99.8h1.3v1.3h-1.3zM405.8 81.9h1.3v1.3h-1.3zM407.9 94.2h1.3v1.3h-1.3zM423.8 92.0h1.3v1.3h-1.3zM413.1 91.6h1.3v1.3h-1.3zM407.3 86.4h1.3v1.3h-1.3zM408.0 63.1h1.3v1.3h-1.3zM414.2 93.0h1.3v1.3h-1.3zM416.3 92.5h1.3v1.3h-1.3zM415.6 87.6h1.3v1.3h-1.3zM414.1 95.4h1.3v1.3h-1.3zM415.6 96.3h1.3v1.3h-1.3zM397.6 92.3h1.3v1.3h-1.3zM409.7 87.2h1.3v1.3h-1.3zM403.8 99.3h1.3v1.3h-1.3zM419.4 80.9h1.3v1.3h-1.3zM413.3 96.1h1.3v1.3h-1.3zM417.2 88.9h1.3v1.3h-1.3zM418.5 69.4h1.3v1.3h-1.3zM414.1 80.7h1.3v1.3h-1.3zM412.5 87.6h1.3v1.3h-1.3zM426.6 97.1h1.3v1.3h-1.3zM415.2 84.7h1.3v1.3h-1.3zM410.2 84.4h1.3v1.3h-1.3zM418.2 84.1h1.3v1.3h-1.3zM404.1 73.8h1.3v1.3h-1.3zM411.6 87.9h1.3v1.3h-1.3zM409.9 64.7h1.3v1.3h-1.3zM418.8 61.3h1.3v1.3h-1.3zM414.3 89.5h1.3v1.3h-1.3zM400.2 66.2h1.3v1.3h-1.3zM412.8 93.5h1.3v1.3h-1.3zM420.7 96.1h1.3v1.3h-1.3zM419.2 92.9h1.3v1.3h-1.3zM415.3 60.5h1.3v1.3h-1.3zM412.0 79.0h1.3v1.3h-1.3zM431.4 95.0h1.3v1.3h-1.3zM426.7 63.8h1.3v1.3h-1.3zM414.0 86.4h1.3v1.3h-1.3zM415.2 80.4h1.3v1.3h-1.3zM408.5 80.0h1.3v1.3h-1.3z" fill="#f61b38"/>
<rect x="402.5" y="40.4" width="2.5" height="1.4" fill="#f61b38"/>
<rect x="405" y="40.4" width="1.5" height="1.4" fill="#f61b38"/>
<rect x="409" y="40.4" width="1.5" height="1.4" fill="#f61b38"/>
<rect x="411.5" y="40.4" width="2" height="1.4" fill="#f61b38"/>
<rect x="415" y="40.4" width="2.5" height="1.4" fill="#f61b38"/>
<rect x="418" y="40.4" width="2.5" height="1.4" fill="#f61b38"/>
<rect x="421" y="40.4" width="1.5" height="1.4" fill="#f61b38"/>
<rect x="424.5" y="40.4" width="1.5" height="1.4" fill="#f61b38"/>
<rect x="427.5" y="40.4" width="2" height="1.4" fill="#f61b38"/>
<rect x="430" y="40.4" width="2" height="1.4" fill="#f61b38"/>
<rect x="433" y="40.4" width="1.5" height="1.4" fill="#f61b38"/>
<rect x="436.5" y="40.4" width="2" height="1.4" fill="#f61b38"/>
<rect x="439" y="40.4" width="2" height="1.4" fill="#f61b38"/>
<rect x="442" y="40.4" width="2.5" height="1.4" fill="#f61b38"/>
<rect x="316.9" y="41" width="1.6" height="132.8" fill="#111"/>
<rect x="317" y="172.1" width="134" height="1.7" fill="#111"/>
<line x1="314.3" y1="42" x2="317.5" y2="42" stroke="#111" stroke-width="1"/>
<line x1="314.3" y1="72.3" x2="317.5" y2="72.3" stroke="#111" stroke-width="1"/>
<line x1="314.3" y1="103.5" x2="317.5" y2="103.5" stroke="#111" stroke-width="1"/>
<line x1="314.3" y1="134.6" x2="317.5" y2="134.6" stroke="#111" stroke-width="1"/>
<line x1="314.3" y1="167.3" x2="317.5" y2="167.3" stroke="#111" stroke-width="1"/>
<line x1="314.3" y1="171" x2="317.5" y2="171" stroke="#111" stroke-width="1"/>
<line x1="319.8" y1="173.5" x2="319.8" y2="175.5" stroke="#111" stroke-width="1.2"/>
<line x1="348.5" y1="173.5" x2="348.5" y2="175.5" stroke="#111" stroke-width="1.2"/>
<line x1="385" y1="173.5" x2="385" y2="175.5" stroke="#111" stroke-width="1.2"/>
<line x1="421.5" y1="173.5" x2="421.5" y2="175.5" stroke="#111" stroke-width="1.2"/>
<line x1="449.8" y1="173.5" x2="449.8" y2="175.5" stroke="#111" stroke-width="1.2"/>
<text x="311.3" y="45.3" font-size="8" textLength="20" lengthAdjust="spacingAndGlyphs" text-anchor="end" fill="#222">1e-50</text>
<text x="311.3" y="75.4" font-size="8" textLength="20" lengthAdjust="spacingAndGlyphs" text-anchor="end" fill="#222">1e-38</text>
<text x="311.3" y="106.60000000000001" font-size="8" textLength="20" lengthAdjust="spacingAndGlyphs" text-anchor="end" fill="#222">1e-26</text>
<text x="311.3" y="137.3" font-size="8" textLength="19.8" lengthAdjust="spacingAndGlyphs" text-anchor="end" fill="#222">1e-14</text>
<text x="311.3" y="166.20000000000002" font-size="8" textLength="15" lengthAdjust="spacingAndGlyphs" text-anchor="end" fill="#222">1e-2</text>
<text x="311.3" y="175.6" font-size="8" text-anchor="end" fill="#222">1</text>
<text x="319.4" y="183.7" font-size="8" text-anchor="middle" fill="#222">-128</text>
<text x="348.4" y="183.7" font-size="8" text-anchor="middle" fill="#222">-16</text>
<text x="385" y="183.7" font-size="8" text-anchor="middle" fill="#222">0</text>
<text x="421.8" y="183.7" font-size="8" text-anchor="middle" fill="#222">16</text>
<text x="449" y="183.7" font-size="8" text-anchor="middle" fill="#222">128</text>
<text x="0" y="0" font-size="9" textLength="13.3" lengthAdjust="spacingAndGlyphs" text-anchor="middle" fill="#222" transform="translate(281.6,100.5) rotate(-90)">FDR</text>
<text x="370" y="198.2" font-size="9" textLength="42.5" lengthAdjust="spacingAndGlyphs" fill="#222">Fold-change</text>
<text x="457.4" y="61.9" font-size="10.5" textLength="30.4" lengthAdjust="spacingAndGlyphs" font-style="italic" fill="#222">Pdgfrb</text>
<text x="457.4" y="81.3" font-size="10.5" textLength="17.7" lengthAdjust="spacingAndGlyphs" font-style="italic" fill="#222">Hdc</text>
<text x="457.4" y="101.1" font-size="10.5" textLength="19.1" lengthAdjust="spacingAndGlyphs" font-style="italic" fill="#222">Bcl2</text>
<text x="457.4" y="120.5" font-size="10.5" textLength="27" lengthAdjust="spacingAndGlyphs" font-style="italic" fill="#222">Gata2</text>
<text x="457.4" y="140.4" font-size="10.5" textLength="33" lengthAdjust="spacingAndGlyphs" font-style="italic" fill="#222">Zbtb16</text>
<text x="457.4" y="160.2" font-size="10.5" textLength="17" lengthAdjust="spacingAndGlyphs" font-style="italic" fill="#222">Hgf</text>
<line x1="455" y1="56.3" x2="427" y2="41.3" stroke="#111" stroke-width="1.1"/>
<line x1="454.5" y1="77" x2="415" y2="41.3" stroke="#111" stroke-width="1.1"/>
<line x1="454.5" y1="97" x2="411.3" y2="93.8" stroke="#111" stroke-width="1.1"/>
<line x1="454.5" y1="117" x2="402.5" y2="130" stroke="#111" stroke-width="1.1"/>
<line x1="454.5" y1="137" x2="401.3" y2="151.3" stroke="#111" stroke-width="1.1"/>
<line x1="454.5" y1="157" x2="393.8" y2="160.5" stroke="#111" stroke-width="1.1"/>
<text x="253.3" y="137.9" font-size="10" textLength="24.5" lengthAdjust="spacingAndGlyphs" font-style="italic" fill="#222">Elane</text>
<text x="255" y="152.7" font-size="10" textLength="23" lengthAdjust="spacingAndGlyphs" font-style="italic" fill="#222">Prtn3</text>
<text x="247.8" y="167.4" font-size="10" textLength="30.2" lengthAdjust="spacingAndGlyphs" font-style="italic" fill="#222">Cd177</text>
<line x1="281.3" y1="134.5" x2="287.3" y2="133.1" stroke="#111" stroke-width="1.1"/>
<line x1="281.3" y1="149" x2="287.3" y2="147.7" stroke="#111" stroke-width="1.1"/>
<line x1="281.3" y1="163" x2="287.3" y2="161.7" stroke="#111" stroke-width="1.1"/>
<line x1="321.3" y1="127.5" x2="356.3" y2="121.8" stroke="#111" stroke-width="1.1"/>
<line x1="321.3" y1="140.5" x2="356.3" y2="133.8" stroke="#111" stroke-width="1.1"/>
<line x1="321.3" y1="153.3" x2="356.3" y2="145.5" stroke="#111" stroke-width="1.1"/>
<text x="242.6" y="225.1" font-size="12" font-weight="bold" fill="#000">C</text>
<rect x="309" y="309.8" width="20.6" height="20" fill="#4fd6fb"/>
<rect x="342.9" y="252.4" width="20.5" height="77.4" fill="#f3bfdf"/>
<rect x="377.2" y="295.1" width="20.3" height="34.7" fill="#95f48a"/>
<rect x="295.4" y="233.8" width="1.6" height="97" fill="#111"/>
<rect x="295.4" y="329" width="106" height="1.6" fill="#111"/>
<line x1="292.4" y1="234.6" x2="295.8" y2="234.6" stroke="#111" stroke-width="1"/>
<text x="291.6" y="237.5" font-size="8" text-anchor="end" fill="#222">300</text>
<line x1="292.4" y1="266.3" x2="295.8" y2="266.3" stroke="#111" stroke-width="1"/>
<text x="291.6" y="269.2" font-size="8" text-anchor="end" fill="#222">200</text>
<line x1="292.4" y1="298.1" x2="295.8" y2="298.1" stroke="#111" stroke-width="1"/>
<text x="291.6" y="301.0" font-size="8" text-anchor="end" fill="#222">100</text>
<line x1="292.4" y1="329.8" x2="295.8" y2="329.8" stroke="#111" stroke-width="1"/>
<text x="291.6" y="332.7" font-size="8" text-anchor="end" fill="#222">0</text>
<line x1="319.2" y1="330.5" x2="319.2" y2="333.3" stroke="#111" stroke-width="1"/>
<line x1="353" y1="330.5" x2="353" y2="333.3" stroke="#111" stroke-width="1"/>
<line x1="386.9" y1="330.5" x2="386.9" y2="333.3" stroke="#111" stroke-width="1"/>
<line x1="319.2" y1="300.4" x2="319.2" y2="316.3" stroke="#1c2f9e" stroke-width="1.2"/><line x1="314.3" y1="300.4" x2="324.5" y2="300.4" stroke="#1c2f9e" stroke-width="1.2"/><line x1="314.3" y1="316.3" x2="324.5" y2="316.3" stroke="#1c2f9e" stroke-width="1.2"/>
<circle cx="319.2" cy="300" r="2" fill="#1c2f9e"/>
<circle cx="319.2" cy="310.5" r="2" fill="#1c2f9e"/>
<circle cx="319.2" cy="315.6" r="2" fill="#1c2f9e"/>
<line x1="353" y1="241.8" x2="353" y2="260.6" stroke="#cf1a33" stroke-width="1.2"/><line x1="347.5" y1="241.8" x2="358.8" y2="241.8" stroke="#cf1a33" stroke-width="1.2"/><line x1="347.5" y1="260.6" x2="358.8" y2="260.6" stroke="#cf1a33" stroke-width="1.2"/>
<circle cx="348.6" cy="243.7" r="2" fill="#cf1a33"/>
<circle cx="357.7" cy="248.1" r="2" fill="#cf1a33"/>
<circle cx="353" cy="262.3" r="2" fill="#cf1a33"/>
<line x1="386.9" y1="288.3" x2="386.9" y2="300.4" stroke="#4ee84a" stroke-width="1.2"/><line x1="382" y1="288.3" x2="392.6" y2="288.3" stroke="#4ee84a" stroke-width="1.2"/><line x1="382" y1="300.4" x2="392.6" y2="300.4" stroke="#4ee84a" stroke-width="1.2"/>
<circle cx="382.4" cy="290.4" r="2.1" fill="#4ee84a"/>
<circle cx="392" cy="290.4" r="2.1" fill="#4ee84a"/>
<circle cx="386.9" cy="301" r="2.1" fill="#4ee84a"/>
<line x1="316.4" y1="234.5" x2="351.8" y2="234.5" stroke="#111" stroke-width="1.3"/><line x1="356" y1="234.5" x2="389" y2="234.5" stroke="#111" stroke-width="1.3"/>
<polygon points="326.80,228.50 327.36,229.83 328.80,229.95 327.70,230.89 328.03,232.30 326.80,231.55 325.57,232.30 325.90,230.89 324.80,229.95 326.24,229.83" fill="#111" stroke="#111" stroke-width="0.5" stroke-linejoin="round"/>
<polygon points="331.80,228.50 332.36,229.83 333.80,229.95 332.70,230.89 333.03,232.30 331.80,231.55 330.57,232.30 330.90,230.89 329.80,229.95 331.24,229.83" fill="#111" stroke="#111" stroke-width="0.5" stroke-linejoin="round"/>
<polygon points="336.70,228.50 337.26,229.83 338.70,229.95 337.60,230.89 337.93,232.30 336.70,231.55 335.47,232.30 335.80,230.89 334.70,229.95 336.14,229.83" fill="#111" stroke="#111" stroke-width="0.5" stroke-linejoin="round"/>
<polygon points="341.80,228.50 342.36,229.83 343.80,229.95 342.70,230.89 343.03,232.30 341.80,231.55 340.57,232.30 340.90,230.89 339.80,229.95 341.24,229.83" fill="#111" stroke="#111" stroke-width="0.5" stroke-linejoin="round"/>
<polygon points="364.90,228.50 365.46,229.83 366.90,229.95 365.80,230.89 366.13,232.30 364.90,231.55 363.67,232.30 364.00,230.89 362.90,229.95 364.34,229.83" fill="#111" stroke="#111" stroke-width="0.5" stroke-linejoin="round"/>
<polygon points="369.90,228.50 370.46,229.83 371.90,229.95 370.80,230.89 371.13,232.30 369.90,231.55 368.67,232.30 369.00,230.89 367.90,229.95 369.34,229.83" fill="#111" stroke="#111" stroke-width="0.5" stroke-linejoin="round"/>
<polygon points="374.80,228.50 375.36,229.83 376.80,229.95 375.70,230.89 376.03,232.30 374.80,231.55 373.57,232.30 373.90,230.89 372.80,229.95 374.24,229.83" fill="#111" stroke="#111" stroke-width="0.5" stroke-linejoin="round"/>
<polygon points="379.90,228.50 380.46,229.83 381.90,229.95 380.80,230.89 381.13,232.30 379.90,231.55 378.67,232.30 379.00,230.89 377.90,229.95 379.34,229.83" fill="#111" stroke="#111" stroke-width="0.5" stroke-linejoin="round"/>
<g transform="translate(255.6,283) rotate(-90)"><text x="-27.7" y="0" font-size="9" textLength="27" lengthAdjust="spacingAndGlyphs" fill="#222">Relative </text><text x="0.5" y="0" font-size="9.5" textLength="27" lengthAdjust="spacingAndGlyphs" font-style="italic" fill="#222">Gata2</text></g>
<text x="0" y="0" font-size="9" textLength="55.4" lengthAdjust="spacingAndGlyphs" text-anchor="middle" fill="#222" transform="translate(270.6,282) rotate(-90)">RNA expression</text>
<text x="426" y="243.3" font-size="10.2" textLength="72" lengthAdjust="spacingAndGlyphs" fill="#222">MSCV construct</text>
<rect x="421" y="246" width="81.8" height="1.5" fill="#111"/>
<rect x="423.4" y="257.1" width="11.5" height="11.7" fill="#4fd6fb"/>
<rect x="423.4" y="286.5" width="11.5" height="11.5" fill="#f3bfdf"/>
<rect x="423.4" y="313.9" width="11.5" height="11.3" fill="#95f48a"/>
<text x="439.3" y="265.8" font-size="8" textLength="45.8" lengthAdjust="spacingAndGlyphs" fill="#222">Empty vector</text>
<text x="439.3" y="294.3" font-size="8" textLength="38" lengthAdjust="spacingAndGlyphs" font-style="italic" fill="#222">PML-RARA</text><text x="478.3" y="291" font-size="5" textLength="5.8" lengthAdjust="spacingAndGlyphs" fill="#222">WT</text>
<text x="439.3" y="321.9" font-size="8" textLength="38" lengthAdjust="spacingAndGlyphs" font-style="italic" fill="#222">PML-RARA</text><text x="478.3" y="318.6" font-size="5" textLength="9.5" lengthAdjust="spacingAndGlyphs" fill="#222">C88A</text>
<text x="243.2" y="382.7" font-size="12" font-weight="bold" fill="#000">E</text>
<text x="334.5" y="385.7" font-size="10" textLength="71.5" lengthAdjust="spacingAndGlyphs" font-style="italic" fill="#222">Ctsg-PML-RARA</text><text x="408.8" y="385.7" font-size="10" textLength="30" lengthAdjust="spacingAndGlyphs" fill="#222">vs. WT</text>
<text x="356.2" y="395.7" font-size="10" textLength="65" lengthAdjust="spacingAndGlyphs" fill="#222">promyelocytes</text>
<line x1="357.6" y1="406" x2="357.6" y2="500.5" stroke="#dde6e6" stroke-width="0.8"/>
<line x1="389.4" y1="406" x2="389.4" y2="500.5" stroke="#dde6e6" stroke-width="0.8"/>
<line x1="422.5" y1="406" x2="422.5" y2="500.5" stroke="#dde6e6" stroke-width="0.8"/>
<line x1="454" y1="406" x2="454" y2="500.5" stroke="#dde6e6" stroke-width="0.8"/>
<line x1="324" y1="406.3" x2="454" y2="406.3" stroke="#dde6e6" stroke-width="0.8"/>
<line x1="324" y1="431.8" x2="454" y2="431.8" stroke="#dde6e6" stroke-width="0.8"/>
<line x1="324" y1="453.3" x2="454" y2="453.3" stroke="#dde6e6" stroke-width="0.8"/>
<line x1="324" y1="474.5" x2="454" y2="474.5" stroke="#dde6e6" stroke-width="0.8"/>
<line x1="324" y1="497.5" x2="454" y2="497.5" stroke="#dde6e6" stroke-width="0.8"/>
<path d="M377.5 479 L378.5 481 L380.5 486 L383 491 L385.5 495.5 L388.3 499.5 L377.5 499.5 Z" fill="#c8d3d8"/>
<path d="M401.3 476 L401.3 499.5 L389.5 499.5 L391.5 496 L394 492 L396.5 487 L398.5 482 L400 478 Z" fill="#c8d3d8"/>
<rect x="352" y="497.5" width="75" height="3" fill="#c8d3d8"/>
<path d="M363.8 490.1h1.3v1.3h-1.3zM370.6 496.7h1.3v1.3h-1.3zM369.6 494.8h1.3v1.3h-1.3zM374.4 488.3h1.3v1.3h-1.3zM370.4 479.8h1.3v1.3h-1.3zM368.2 483.5h1.3v1.3h-1.3zM371.9 482.7h1.3v1.3h-1.3zM373.5 475.6h1.3v1.3h-1.3zM372.8 489.3h1.3v1.3h-1.3zM372.6 485.0h1.3v1.3h-1.3zM376.3 480.4h1.3v1.3h-1.3zM368.1 485.8h1.3v1.3h-1.3zM370.3 494.1h1.3v1.3h-1.3zM374.1 479.7h1.3v1.3h-1.3zM368.7 488.0h1.3v1.3h-1.3zM363.7 455.6h1.3v1.3h-1.3zM364.9 493.3h1.3v1.3h-1.3zM368.6 490.8h1.3v1.3h-1.3zM366.5 489.9h1.3v1.3h-1.3zM367.9 495.9h1.3v1.3h-1.3zM373.5 483.1h1.3v1.3h-1.3zM373.2 496.1h1.3v1.3h-1.3zM376.8 490.9h1.3v1.3h-1.3zM374.2 474.5h1.3v1.3h-1.3zM370.3 478.4h1.3v1.3h-1.3zM366.7 482.5h1.3v1.3h-1.3zM375.1 492.4h1.3v1.3h-1.3zM374.1 497.9h1.3v1.3h-1.3zM371.0 475.4h1.3v1.3h-1.3zM369.8 495.7h1.3v1.3h-1.3zM375.8 484.9h1.3v1.3h-1.3zM368.8 486.5h1.3v1.3h-1.3zM375.1 497.9h1.3v1.3h-1.3zM367.2 480.6h1.3v1.3h-1.3zM373.6 495.4h1.3v1.3h-1.3zM373.0 490.5h1.3v1.3h-1.3zM374.4 496.8h1.3v1.3h-1.3zM367.1 495.7h1.3v1.3h-1.3zM370.5 496.8h1.3v1.3h-1.3zM373.8 475.4h1.3v1.3h-1.3zM372.6 494.2h1.3v1.3h-1.3zM369.8 497.3h1.3v1.3h-1.3zM374.9 485.1h1.3v1.3h-1.3zM364.0 494.7h1.3v1.3h-1.3zM377.0 486.9h1.3v1.3h-1.3zM372.6 491.5h1.3v1.3h-1.3zM376.6 468.7h1.3v1.3h-1.3zM373.6 495.0h1.3v1.3h-1.3zM367.2 490.8h1.3v1.3h-1.3zM371.4 497.7h1.3v1.3h-1.3zM374.4 495.5h1.3v1.3h-1.3zM373.5 478.8h1.3v1.3h-1.3zM368.6 480.2h1.3v1.3h-1.3zM368.3 494.1h1.3v1.3h-1.3zM367.7 471.6h1.3v1.3h-1.3zM363.9 490.0h1.3v1.3h-1.3zM366.3 489.8h1.3v1.3h-1.3zM369.4 490.6h1.3v1.3h-1.3zM365.5 488.6h1.3v1.3h-1.3zM372.8 494.1h1.3v1.3h-1.3zM370.7 459.0h1.3v1.3h-1.3zM373.3 488.2h1.3v1.3h-1.3zM370.8 488.4h1.3v1.3h-1.3zM370.5 497.2h1.3v1.3h-1.3zM377.2 480.0h1.3v1.3h-1.3zM367.8 464.3h1.3v1.3h-1.3zM366.1 492.7h1.3v1.3h-1.3zM364.9 480.5h1.3v1.3h-1.3zM371.9 484.1h1.3v1.3h-1.3zM366.2 480.6h1.3v1.3h-1.3zM374.3 488.0h1.3v1.3h-1.3zM369.4 487.4h1.3v1.3h-1.3zM369.9 476.3h1.3v1.3h-1.3zM364.2 496.3h1.3v1.3h-1.3zM368.4 496.1h1.3v1.3h-1.3zM377.2 497.6h1.3v1.3h-1.3zM372.4 486.1h1.3v1.3h-1.3zM373.0 494.4h1.3v1.3h-1.3zM368.4 489.3h1.3v1.3h-1.3zM374.9 497.0h1.3v1.3h-1.3zM364.3 470.3h1.3v1.3h-1.3zM373.1 484.2h1.3v1.3h-1.3zM374.1 495.3h1.3v1.3h-1.3zM368.7 491.4h1.3v1.3h-1.3zM370.8 492.6h1.3v1.3h-1.3zM376.3 475.2h1.3v1.3h-1.3zM368.4 493.0h1.3v1.3h-1.3zM370.8 487.1h1.3v1.3h-1.3zM366.6 490.9h1.3v1.3h-1.3zM375.6 497.0h1.3v1.3h-1.3zM363.8 484.7h1.3v1.3h-1.3zM374.0 494.3h1.3v1.3h-1.3zM369.4 497.0h1.3v1.3h-1.3zM368.0 495.5h1.3v1.3h-1.3zM361.2 491.2h1.3v1.3h-1.3zM370.4 484.9h1.3v1.3h-1.3zM365.1 491.7h1.3v1.3h-1.3zM373.3 496.5h1.3v1.3h-1.3zM362.5 494.1h1.3v1.3h-1.3zM364.0 487.9h1.3v1.3h-1.3zM369.4 495.2h1.3v1.3h-1.3zM372.6 495.3h1.3v1.3h-1.3zM368.1 478.7h1.3v1.3h-1.3zM362.9 488.9h1.3v1.3h-1.3zM376.9 494.9h1.3v1.3h-1.3zM372.6 497.9h1.3v1.3h-1.3zM371.0 489.9h1.3v1.3h-1.3zM368.3 491.7h1.3v1.3h-1.3zM372.3 489.4h1.3v1.3h-1.3zM372.9 487.6h1.3v1.3h-1.3zM372.9 495.9h1.3v1.3h-1.3zM371.4 467.6h1.3v1.3h-1.3zM373.7 473.0h1.3v1.3h-1.3zM374.6 492.2h1.3v1.3h-1.3zM371.2 497.7h1.3v1.3h-1.3zM367.5 463.0h1.3v1.3h-1.3zM372.7 465.2h1.3v1.3h-1.3zM374.6 496.3h1.3v1.3h-1.3zM374.6 493.9h1.3v1.3h-1.3zM361.3 493.8h1.3v1.3h-1.3zM365.3 492.1h1.3v1.3h-1.3zM365.1 497.5h1.3v1.3h-1.3zM377.0 491.8h1.3v1.3h-1.3zM371.2 497.3h1.3v1.3h-1.3zM374.1 493.3h1.3v1.3h-1.3zM367.5 493.8h1.3v1.3h-1.3zM364.9 497.5h1.3v1.3h-1.3zM375.1 496.3h1.3v1.3h-1.3zM361.6 480.9h1.3v1.3h-1.3zM370.4 495.9h1.3v1.3h-1.3zM368.6 485.6h1.3v1.3h-1.3zM375.7 495.2h1.3v1.3h-1.3zM363.4 491.1h1.3v1.3h-1.3zM367.1 486.5h1.3v1.3h-1.3zM366.2 487.5h1.3v1.3h-1.3zM376.4 496.3h1.3v1.3h-1.3zM372.4 491.3h1.3v1.3h-1.3zM371.3 485.9h1.3v1.3h-1.3zM373.6 491.9h1.3v1.3h-1.3zM367.7 489.5h1.3v1.3h-1.3zM370.2 482.4h1.3v1.3h-1.3zM366.3 473.5h1.3v1.3h-1.3zM369.9 466.7h1.3v1.3h-1.3zM373.5 497.0h1.3v1.3h-1.3zM370.7 497.0h1.3v1.3h-1.3zM369.3 491.1h1.3v1.3h-1.3zM370.7 493.2h1.3v1.3h-1.3zM368.7 484.0h1.3v1.3h-1.3zM367.1 463.1h1.3v1.3h-1.3zM374.4 483.1h1.3v1.3h-1.3zM358.6 495.2h1.3v1.3h-1.3zM366.9 496.3h1.3v1.3h-1.3zM366.5 458.5h1.3v1.3h-1.3zM369.3 478.8h1.3v1.3h-1.3zM369.7 492.7h1.3v1.3h-1.3zM369.0 493.3h1.3v1.3h-1.3zM371.8 470.0h1.3v1.3h-1.3zM370.3 490.5h1.3v1.3h-1.3zM366.4 492.3h1.3v1.3h-1.3zM366.8 494.7h1.3v1.3h-1.3zM362.0 474.7h1.3v1.3h-1.3zM372.5 483.9h1.3v1.3h-1.3zM361.8 454.9h1.3v1.3h-1.3zM369.4 481.7h1.3v1.3h-1.3zM372.5 485.0h1.3v1.3h-1.3zM371.0 482.8h1.3v1.3h-1.3zM366.5 474.9h1.3v1.3h-1.3zM375.7 486.8h1.3v1.3h-1.3zM367.5 475.9h1.3v1.3h-1.3zM374.1 497.4h1.3v1.3h-1.3zM375.2 485.9h1.3v1.3h-1.3zM375.3 497.2h1.3v1.3h-1.3zM370.1 473.8h1.3v1.3h-1.3zM377.4 488.1h1.3v1.3h-1.3zM369.4 495.0h1.3v1.3h-1.3zM373.5 489.6h1.3v1.3h-1.3zM367.4 494.4h1.3v1.3h-1.3zM370.1 496.6h1.3v1.3h-1.3zM369.4 484.9h1.3v1.3h-1.3zM369.0 494.7h1.3v1.3h-1.3zM361.3 492.9h1.3v1.3h-1.3zM363.0 483.5h1.3v1.3h-1.3zM376.8 497.6h1.3v1.3h-1.3zM370.5 487.2h1.3v1.3h-1.3zM367.0 494.3h1.3v1.3h-1.3zM373.2 493.0h1.3v1.3h-1.3zM364.6 495.7h1.3v1.3h-1.3zM369.4 497.7h1.3v1.3h-1.3zM369.1 474.6h1.3v1.3h-1.3zM376.1 495.3h1.3v1.3h-1.3zM365.3 485.7h1.3v1.3h-1.3zM374.1 492.2h1.3v1.3h-1.3zM377.3 491.9h1.3v1.3h-1.3zM373.0 493.6h1.3v1.3h-1.3zM366.8 480.8h1.3v1.3h-1.3zM375.1 491.9h1.3v1.3h-1.3zM374.9 494.4h1.3v1.3h-1.3zM370.0 491.0h1.3v1.3h-1.3zM367.9 479.9h1.3v1.3h-1.3zM367.8 496.5h1.3v1.3h-1.3zM373.2 488.4h1.3v1.3h-1.3zM377.5 488.1h1.3v1.3h-1.3zM373.0 495.3h1.3v1.3h-1.3zM375.7 491.4h1.3v1.3h-1.3zM371.4 493.2h1.3v1.3h-1.3zM369.5 496.0h1.3v1.3h-1.3zM372.3 492.7h1.3v1.3h-1.3zM370.3 484.3h1.3v1.3h-1.3zM372.0 497.6h1.3v1.3h-1.3zM373.7 470.1h1.3v1.3h-1.3zM370.4 484.9h1.3v1.3h-1.3zM364.9 467.7h1.3v1.3h-1.3zM363.0 478.9h1.3v1.3h-1.3zM369.1 496.5h1.3v1.3h-1.3zM367.8 486.6h1.3v1.3h-1.3zM374.1 493.9h1.3v1.3h-1.3zM374.0 497.1h1.3v1.3h-1.3zM364.1 497.9h1.3v1.3h-1.3zM376.2 490.1h1.3v1.3h-1.3zM371.9 496.0h1.3v1.3h-1.3zM366.1 462.4h1.3v1.3h-1.3zM375.9 494.7h1.3v1.3h-1.3zM373.0 472.2h1.3v1.3h-1.3zM371.2 495.2h1.3v1.3h-1.3zM363.8 482.9h1.3v1.3h-1.3zM377.3 493.6h1.3v1.3h-1.3zM369.3 496.5h1.3v1.3h-1.3zM371.6 496.2h1.3v1.3h-1.3zM367.8 489.9h1.3v1.3h-1.3zM369.7 495.8h1.3v1.3h-1.3zM365.7 489.9h1.3v1.3h-1.3zM372.0 485.8h1.3v1.3h-1.3zM372.7 496.3h1.3v1.3h-1.3zM370.0 480.6h1.3v1.3h-1.3zM372.5 484.7h1.3v1.3h-1.3zM374.2 494.0h1.3v1.3h-1.3zM362.9 469.8h1.3v1.3h-1.3zM374.9 497.0h1.3v1.3h-1.3zM372.2 497.5h1.3v1.3h-1.3zM377.1 491.5h1.3v1.3h-1.3zM372.4 475.4h1.3v1.3h-1.3zM362.4 462.5h1.3v1.3h-1.3zM373.2 474.4h1.3v1.3h-1.3zM373.5 496.3h1.3v1.3h-1.3zM368.4 487.6h1.3v1.3h-1.3zM371.1 497.1h1.3v1.3h-1.3zM367.4 491.1h1.3v1.3h-1.3zM367.4 491.0h1.3v1.3h-1.3zM368.1 486.9h1.3v1.3h-1.3zM364.1 492.1h1.3v1.3h-1.3zM372.0 495.9h1.3v1.3h-1.3zM370.1 495.5h1.3v1.3h-1.3zM365.8 495.7h1.3v1.3h-1.3zM367.6 496.8h1.3v1.3h-1.3zM364.5 490.1h1.3v1.3h-1.3zM368.1 497.2h1.3v1.3h-1.3zM369.5 483.7h1.3v1.3h-1.3zM375.5 496.5h1.3v1.3h-1.3zM363.5 477.7h1.3v1.3h-1.3zM365.0 490.0h1.3v1.3h-1.3zM369.7 496.7h1.3v1.3h-1.3zM372.2 496.9h1.3v1.3h-1.3zM374.3 479.9h1.3v1.3h-1.3zM371.2 497.5h1.3v1.3h-1.3zM371.1 482.1h1.3v1.3h-1.3zM370.8 493.0h1.3v1.3h-1.3zM367.9 457.1h1.3v1.3h-1.3zM371.3 450.0h1.3v1.3h-1.3zM363.9 470.0h1.3v1.3h-1.3zM374.2 480.6h1.3v1.3h-1.3zM375.2 493.2h1.3v1.3h-1.3zM370.3 485.0h1.3v1.3h-1.3zM364.0 461.3h1.3v1.3h-1.3zM372.5 492.7h1.3v1.3h-1.3zM369.9 464.1h1.3v1.3h-1.3zM375.1 497.7h1.3v1.3h-1.3zM371.3 496.3h1.3v1.3h-1.3zM373.8 481.9h1.3v1.3h-1.3zM364.6 466.3h1.3v1.3h-1.3zM372.5 495.2h1.3v1.3h-1.3zM374.9 491.4h1.3v1.3h-1.3zM367.4 494.3h1.3v1.3h-1.3zM370.1 495.2h1.3v1.3h-1.3zM374.7 486.3h1.3v1.3h-1.3zM371.7 481.5h1.3v1.3h-1.3zM370.5 495.6h1.3v1.3h-1.3zM375.6 492.7h1.3v1.3h-1.3zM368.6 484.0h1.3v1.3h-1.3zM365.4 478.6h1.3v1.3h-1.3zM371.0 481.5h1.3v1.3h-1.3zM373.9 486.8h1.3v1.3h-1.3zM368.4 464.3h1.3v1.3h-1.3zM375.0 490.7h1.3v1.3h-1.3zM365.8 488.9h1.3v1.3h-1.3zM372.7 476.7h1.3v1.3h-1.3zM372.4 490.6h1.3v1.3h-1.3zM372.8 479.2h1.3v1.3h-1.3zM363.9 493.3h1.3v1.3h-1.3zM372.2 489.9h1.3v1.3h-1.3zM368.0 477.2h1.3v1.3h-1.3zM366.4 489.9h1.3v1.3h-1.3zM373.5 492.6h1.3v1.3h-1.3zM368.3 495.8h1.3v1.3h-1.3zM371.0 494.9h1.3v1.3h-1.3zM362.6 494.9h1.3v1.3h-1.3zM373.0 462.3h1.3v1.3h-1.3zM372.5 495.2h1.3v1.3h-1.3zM370.4 493.7h1.3v1.3h-1.3zM375.3 464.0h1.3v1.3h-1.3zM370.3 469.6h1.3v1.3h-1.3zM367.4 479.1h1.3v1.3h-1.3zM369.9 495.0h1.3v1.3h-1.3zM370.8 466.5h1.3v1.3h-1.3zM368.5 493.4h1.3v1.3h-1.3zM369.4 487.6h1.3v1.3h-1.3zM372.4 475.7h1.3v1.3h-1.3zM368.1 496.7h1.3v1.3h-1.3zM367.3 491.0h1.3v1.3h-1.3zM369.2 475.4h1.3v1.3h-1.3zM363.5 497.8h1.3v1.3h-1.3zM369.8 479.7h1.3v1.3h-1.3zM370.9 495.2h1.3v1.3h-1.3zM373.9 483.6h1.3v1.3h-1.3zM365.2 473.8h1.3v1.3h-1.3zM370.6 497.0h1.3v1.3h-1.3zM366.6 495.2h1.3v1.3h-1.3zM368.0 483.2h1.3v1.3h-1.3zM367.6 492.4h1.3v1.3h-1.3zM377.1 484.9h1.3v1.3h-1.3zM370.1 493.1h1.3v1.3h-1.3z" fill="#2242f5"/>
<path d="M373.6 469.8h1.2v1.2h-1.2zM366.6 450.8h1.2v1.2h-1.2zM366.6 467.5h1.2v1.2h-1.2zM367.1 448.3h1.2v1.2h-1.2zM365.5 452.5h1.2v1.2h-1.2zM363.6 447.0h1.2v1.2h-1.2zM362.6 461.0h1.2v1.2h-1.2zM373.7 459.6h1.2v1.2h-1.2zM371.5 452.6h1.2v1.2h-1.2zM367.1 458.1h1.2v1.2h-1.2zM374.7 473.4h1.2v1.2h-1.2zM370.6 451.8h1.2v1.2h-1.2zM370.7 458.4h1.2v1.2h-1.2zM370.2 462.9h1.2v1.2h-1.2zM373.2 459.7h1.2v1.2h-1.2zM372.0 473.1h1.2v1.2h-1.2zM374.5 449.0h1.2v1.2h-1.2zM367.8 468.2h1.2v1.2h-1.2zM366.3 465.9h1.2v1.2h-1.2zM371.7 457.3h1.2v1.2h-1.2zM367.5 460.9h1.2v1.2h-1.2zM374.2 454.5h1.2v1.2h-1.2z" fill="#2242f5"/>
<path d="M415.7 497.4h1.3v1.3h-1.3zM401.6 480.3h1.3v1.3h-1.3zM403.5 496.4h1.3v1.3h-1.3zM405.8 497.7h1.3v1.3h-1.3zM409.6 479.1h1.3v1.3h-1.3zM426.4 491.0h1.3v1.3h-1.3zM403.8 494.4h1.3v1.3h-1.3zM407.3 494.9h1.3v1.3h-1.3zM402.2 491.7h1.3v1.3h-1.3zM423.4 491.2h1.3v1.3h-1.3zM407.7 477.0h1.3v1.3h-1.3zM405.6 478.2h1.3v1.3h-1.3zM409.0 491.1h1.3v1.3h-1.3zM407.1 495.7h1.3v1.3h-1.3zM403.6 491.0h1.3v1.3h-1.3zM402.6 491.1h1.3v1.3h-1.3zM402.1 487.7h1.3v1.3h-1.3zM401.7 492.1h1.3v1.3h-1.3zM402.0 490.2h1.3v1.3h-1.3zM401.4 480.6h1.3v1.3h-1.3zM403.6 481.6h1.3v1.3h-1.3zM405.0 467.1h1.3v1.3h-1.3zM402.3 494.0h1.3v1.3h-1.3zM403.1 486.9h1.3v1.3h-1.3zM405.5 481.2h1.3v1.3h-1.3zM407.1 494.9h1.3v1.3h-1.3zM403.3 495.5h1.3v1.3h-1.3zM403.1 497.1h1.3v1.3h-1.3zM402.4 495.5h1.3v1.3h-1.3zM405.2 492.6h1.3v1.3h-1.3zM406.5 489.0h1.3v1.3h-1.3zM407.5 486.5h1.3v1.3h-1.3zM413.8 491.6h1.3v1.3h-1.3zM403.4 496.5h1.3v1.3h-1.3zM416.9 497.9h1.3v1.3h-1.3zM404.7 476.8h1.3v1.3h-1.3zM406.7 479.5h1.3v1.3h-1.3zM410.9 471.3h1.3v1.3h-1.3zM404.8 494.7h1.3v1.3h-1.3zM405.9 466.7h1.3v1.3h-1.3zM404.2 491.7h1.3v1.3h-1.3zM404.5 497.8h1.3v1.3h-1.3zM401.8 472.1h1.3v1.3h-1.3zM411.5 475.3h1.3v1.3h-1.3zM407.5 470.3h1.3v1.3h-1.3zM419.6 494.4h1.3v1.3h-1.3zM410.1 481.7h1.3v1.3h-1.3zM408.1 497.4h1.3v1.3h-1.3zM402.2 486.3h1.3v1.3h-1.3zM405.2 494.0h1.3v1.3h-1.3zM402.0 495.1h1.3v1.3h-1.3zM405.3 496.4h1.3v1.3h-1.3zM411.5 497.9h1.3v1.3h-1.3zM403.4 492.6h1.3v1.3h-1.3zM403.8 495.1h1.3v1.3h-1.3zM409.5 488.9h1.3v1.3h-1.3zM409.5 492.4h1.3v1.3h-1.3zM412.1 489.5h1.3v1.3h-1.3zM410.7 484.9h1.3v1.3h-1.3zM404.1 497.8h1.3v1.3h-1.3zM412.8 496.8h1.3v1.3h-1.3zM418.0 496.2h1.3v1.3h-1.3zM402.4 493.8h1.3v1.3h-1.3zM402.6 486.0h1.3v1.3h-1.3zM405.1 493.5h1.3v1.3h-1.3zM406.0 488.0h1.3v1.3h-1.3zM411.5 487.1h1.3v1.3h-1.3zM403.3 463.8h1.3v1.3h-1.3zM404.9 488.3h1.3v1.3h-1.3zM404.1 491.1h1.3v1.3h-1.3zM406.4 480.1h1.3v1.3h-1.3zM412.4 486.1h1.3v1.3h-1.3zM415.5 486.1h1.3v1.3h-1.3zM409.1 492.0h1.3v1.3h-1.3zM405.6 476.4h1.3v1.3h-1.3zM403.4 480.8h1.3v1.3h-1.3zM413.7 496.3h1.3v1.3h-1.3zM422.5 490.0h1.3v1.3h-1.3zM403.2 488.9h1.3v1.3h-1.3zM416.2 496.7h1.3v1.3h-1.3zM402.5 495.1h1.3v1.3h-1.3zM409.5 490.5h1.3v1.3h-1.3zM401.6 489.5h1.3v1.3h-1.3zM408.6 482.8h1.3v1.3h-1.3zM417.9 494.1h1.3v1.3h-1.3zM410.8 491.2h1.3v1.3h-1.3zM403.7 497.0h1.3v1.3h-1.3zM408.8 483.9h1.3v1.3h-1.3zM409.0 485.9h1.3v1.3h-1.3zM413.9 497.7h1.3v1.3h-1.3zM403.1 497.6h1.3v1.3h-1.3zM405.8 494.4h1.3v1.3h-1.3zM404.9 497.0h1.3v1.3h-1.3zM404.0 496.5h1.3v1.3h-1.3zM402.1 493.8h1.3v1.3h-1.3zM401.5 481.8h1.3v1.3h-1.3zM415.8 495.8h1.3v1.3h-1.3zM420.2 492.8h1.3v1.3h-1.3zM406.1 494.3h1.3v1.3h-1.3zM404.7 490.5h1.3v1.3h-1.3zM402.2 452.4h1.3v1.3h-1.3zM404.1 490.9h1.3v1.3h-1.3zM418.1 479.3h1.3v1.3h-1.3zM407.2 497.8h1.3v1.3h-1.3zM405.9 484.0h1.3v1.3h-1.3zM409.6 492.8h1.3v1.3h-1.3zM405.5 496.3h1.3v1.3h-1.3zM414.3 495.8h1.3v1.3h-1.3zM404.6 482.6h1.3v1.3h-1.3zM406.4 482.6h1.3v1.3h-1.3zM403.1 487.4h1.3v1.3h-1.3zM408.1 483.2h1.3v1.3h-1.3zM412.1 440.4h1.3v1.3h-1.3zM404.6 495.0h1.3v1.3h-1.3zM403.2 482.9h1.3v1.3h-1.3zM413.6 483.5h1.3v1.3h-1.3zM409.8 496.2h1.3v1.3h-1.3zM403.4 494.6h1.3v1.3h-1.3zM411.1 493.7h1.3v1.3h-1.3zM404.4 487.8h1.3v1.3h-1.3zM412.2 486.5h1.3v1.3h-1.3zM414.3 495.8h1.3v1.3h-1.3zM407.9 490.6h1.3v1.3h-1.3zM402.9 478.3h1.3v1.3h-1.3zM409.3 491.7h1.3v1.3h-1.3zM404.5 497.8h1.3v1.3h-1.3zM405.2 490.2h1.3v1.3h-1.3zM413.1 491.0h1.3v1.3h-1.3zM409.6 496.8h1.3v1.3h-1.3zM401.9 494.7h1.3v1.3h-1.3zM402.2 491.8h1.3v1.3h-1.3zM402.5 491.9h1.3v1.3h-1.3zM402.3 492.1h1.3v1.3h-1.3zM409.1 442.5h1.3v1.3h-1.3zM408.6 488.7h1.3v1.3h-1.3zM413.5 496.6h1.3v1.3h-1.3zM401.9 493.4h1.3v1.3h-1.3zM407.6 492.4h1.3v1.3h-1.3zM409.8 493.5h1.3v1.3h-1.3zM412.3 494.3h1.3v1.3h-1.3zM412.2 471.0h1.3v1.3h-1.3zM401.7 481.0h1.3v1.3h-1.3zM406.2 492.6h1.3v1.3h-1.3zM402.6 493.2h1.3v1.3h-1.3zM402.1 489.1h1.3v1.3h-1.3zM404.8 496.2h1.3v1.3h-1.3zM402.3 440.4h1.3v1.3h-1.3zM408.1 486.8h1.3v1.3h-1.3zM414.9 473.5h1.3v1.3h-1.3zM410.0 489.3h1.3v1.3h-1.3zM411.6 491.6h1.3v1.3h-1.3zM401.3 477.2h1.3v1.3h-1.3zM413.6 470.8h1.3v1.3h-1.3zM410.5 497.2h1.3v1.3h-1.3zM402.3 492.3h1.3v1.3h-1.3zM403.1 479.5h1.3v1.3h-1.3zM409.2 474.9h1.3v1.3h-1.3zM406.6 493.2h1.3v1.3h-1.3zM410.6 492.1h1.3v1.3h-1.3zM406.0 493.6h1.3v1.3h-1.3zM404.0 495.4h1.3v1.3h-1.3zM403.3 496.8h1.3v1.3h-1.3zM408.9 494.7h1.3v1.3h-1.3zM402.4 496.4h1.3v1.3h-1.3zM406.9 461.9h1.3v1.3h-1.3zM410.6 478.0h1.3v1.3h-1.3zM422.5 488.6h1.3v1.3h-1.3zM402.3 490.4h1.3v1.3h-1.3zM401.9 497.9h1.3v1.3h-1.3zM406.5 491.8h1.3v1.3h-1.3zM401.8 480.1h1.3v1.3h-1.3zM402.0 497.3h1.3v1.3h-1.3zM419.2 493.5h1.3v1.3h-1.3zM401.6 482.8h1.3v1.3h-1.3zM402.6 489.1h1.3v1.3h-1.3zM403.8 495.5h1.3v1.3h-1.3zM403.6 495.2h1.3v1.3h-1.3zM404.0 495.5h1.3v1.3h-1.3zM406.7 489.1h1.3v1.3h-1.3zM403.4 484.9h1.3v1.3h-1.3zM406.8 497.7h1.3v1.3h-1.3zM402.8 494.2h1.3v1.3h-1.3zM420.3 492.7h1.3v1.3h-1.3zM409.5 488.9h1.3v1.3h-1.3zM406.4 497.6h1.3v1.3h-1.3zM414.3 486.0h1.3v1.3h-1.3zM401.6 483.7h1.3v1.3h-1.3zM406.7 454.1h1.3v1.3h-1.3zM410.9 497.8h1.3v1.3h-1.3zM418.4 491.6h1.3v1.3h-1.3zM408.0 468.6h1.3v1.3h-1.3zM402.1 487.6h1.3v1.3h-1.3zM402.2 492.5h1.3v1.3h-1.3zM401.7 494.4h1.3v1.3h-1.3zM401.9 490.2h1.3v1.3h-1.3zM411.1 495.2h1.3v1.3h-1.3zM406.9 494.5h1.3v1.3h-1.3zM407.9 478.0h1.3v1.3h-1.3zM418.8 480.9h1.3v1.3h-1.3zM402.6 495.2h1.3v1.3h-1.3zM406.3 446.4h1.3v1.3h-1.3zM404.0 473.0h1.3v1.3h-1.3zM403.0 497.1h1.3v1.3h-1.3zM402.0 478.1h1.3v1.3h-1.3zM402.9 478.2h1.3v1.3h-1.3zM402.2 483.3h1.3v1.3h-1.3zM406.9 491.1h1.3v1.3h-1.3zM414.2 489.8h1.3v1.3h-1.3zM409.3 497.6h1.3v1.3h-1.3zM406.1 478.9h1.3v1.3h-1.3zM411.7 495.3h1.3v1.3h-1.3zM403.3 492.4h1.3v1.3h-1.3zM410.7 483.2h1.3v1.3h-1.3zM405.7 480.6h1.3v1.3h-1.3zM401.5 497.8h1.3v1.3h-1.3zM401.5 490.0h1.3v1.3h-1.3zM402.2 488.3h1.3v1.3h-1.3zM401.4 483.0h1.3v1.3h-1.3zM402.9 486.3h1.3v1.3h-1.3zM416.2 426.6h1.3v1.3h-1.3zM406.0 491.6h1.3v1.3h-1.3zM403.5 479.1h1.3v1.3h-1.3zM407.7 462.4h1.3v1.3h-1.3zM404.3 494.7h1.3v1.3h-1.3zM401.7 488.9h1.3v1.3h-1.3zM409.1 474.5h1.3v1.3h-1.3zM410.2 483.0h1.3v1.3h-1.3zM413.8 453.5h1.3v1.3h-1.3zM402.6 478.6h1.3v1.3h-1.3zM402.7 492.7h1.3v1.3h-1.3zM410.0 472.0h1.3v1.3h-1.3zM412.8 491.6h1.3v1.3h-1.3zM407.3 495.1h1.3v1.3h-1.3zM404.0 484.3h1.3v1.3h-1.3zM401.9 494.9h1.3v1.3h-1.3zM404.7 488.1h1.3v1.3h-1.3zM403.8 495.8h1.3v1.3h-1.3zM402.2 494.2h1.3v1.3h-1.3zM402.4 489.0h1.3v1.3h-1.3zM404.2 495.6h1.3v1.3h-1.3zM407.3 453.3h1.3v1.3h-1.3zM419.4 479.4h1.3v1.3h-1.3zM411.7 494.0h1.3v1.3h-1.3zM406.5 488.1h1.3v1.3h-1.3zM405.3 474.5h1.3v1.3h-1.3zM408.1 486.9h1.3v1.3h-1.3zM406.2 470.4h1.3v1.3h-1.3zM409.6 497.9h1.3v1.3h-1.3zM414.9 491.7h1.3v1.3h-1.3zM408.5 462.1h1.3v1.3h-1.3zM402.7 495.1h1.3v1.3h-1.3zM401.4 489.5h1.3v1.3h-1.3zM401.8 496.9h1.3v1.3h-1.3zM405.1 494.5h1.3v1.3h-1.3zM408.9 495.8h1.3v1.3h-1.3zM412.9 483.8h1.3v1.3h-1.3zM410.4 490.1h1.3v1.3h-1.3zM409.8 482.1h1.3v1.3h-1.3zM406.9 494.2h1.3v1.3h-1.3zM403.1 480.6h1.3v1.3h-1.3zM401.4 493.6h1.3v1.3h-1.3zM402.1 488.8h1.3v1.3h-1.3zM402.6 492.1h1.3v1.3h-1.3zM415.5 496.8h1.3v1.3h-1.3zM421.9 494.0h1.3v1.3h-1.3zM407.1 484.6h1.3v1.3h-1.3zM408.1 491.4h1.3v1.3h-1.3zM402.7 481.4h1.3v1.3h-1.3zM403.3 490.2h1.3v1.3h-1.3zM402.9 495.9h1.3v1.3h-1.3zM418.9 482.5h1.3v1.3h-1.3zM402.5 492.3h1.3v1.3h-1.3zM403.7 496.1h1.3v1.3h-1.3zM415.3 493.4h1.3v1.3h-1.3zM405.7 490.5h1.3v1.3h-1.3zM402.6 488.2h1.3v1.3h-1.3zM405.1 493.4h1.3v1.3h-1.3zM403.7 497.3h1.3v1.3h-1.3zM407.3 489.5h1.3v1.3h-1.3zM401.8 494.9h1.3v1.3h-1.3zM402.4 489.5h1.3v1.3h-1.3zM422.8 498.0h1.3v1.3h-1.3zM419.2 484.9h1.3v1.3h-1.3zM410.9 494.2h1.3v1.3h-1.3zM407.7 478.9h1.3v1.3h-1.3zM403.4 497.7h1.3v1.3h-1.3zM405.0 493.3h1.3v1.3h-1.3zM402.6 489.5h1.3v1.3h-1.3zM401.4 495.5h1.3v1.3h-1.3zM402.1 492.9h1.3v1.3h-1.3zM401.4 495.3h1.3v1.3h-1.3zM403.0 479.5h1.3v1.3h-1.3zM406.9 490.9h1.3v1.3h-1.3zM406.4 497.6h1.3v1.3h-1.3zM403.1 481.8h1.3v1.3h-1.3zM409.7 488.0h1.3v1.3h-1.3zM404.2 489.8h1.3v1.3h-1.3zM408.5 490.8h1.3v1.3h-1.3zM410.0 492.2h1.3v1.3h-1.3zM410.3 484.2h1.3v1.3h-1.3zM402.3 492.3h1.3v1.3h-1.3zM403.6 496.1h1.3v1.3h-1.3zM401.7 489.7h1.3v1.3h-1.3zM402.3 494.3h1.3v1.3h-1.3zM402.8 490.3h1.3v1.3h-1.3zM401.7 480.7h1.3v1.3h-1.3zM410.2 493.6h1.3v1.3h-1.3zM404.5 480.1h1.3v1.3h-1.3zM411.7 469.4h1.3v1.3h-1.3zM402.7 494.0h1.3v1.3h-1.3zM401.7 486.3h1.3v1.3h-1.3zM403.0 487.5h1.3v1.3h-1.3zM407.5 495.9h1.3v1.3h-1.3zM401.7 493.0h1.3v1.3h-1.3zM411.4 496.4h1.3v1.3h-1.3zM411.1 493.1h1.3v1.3h-1.3zM401.3 488.4h1.3v1.3h-1.3zM407.3 493.8h1.3v1.3h-1.3zM402.2 495.2h1.3v1.3h-1.3zM404.4 416.7h1.3v1.3h-1.3zM408.3 494.1h1.3v1.3h-1.3zM430.4 492.2h1.3v1.3h-1.3zM401.5 495.4h1.3v1.3h-1.3zM409.0 487.5h1.3v1.3h-1.3zM402.1 480.0h1.3v1.3h-1.3zM405.5 496.1h1.3v1.3h-1.3zM402.2 494.7h1.3v1.3h-1.3zM401.6 496.5h1.3v1.3h-1.3zM402.2 492.4h1.3v1.3h-1.3zM401.9 497.7h1.3v1.3h-1.3zM408.0 485.9h1.3v1.3h-1.3zM411.9 493.8h1.3v1.3h-1.3zM404.8 497.5h1.3v1.3h-1.3zM410.1 471.0h1.3v1.3h-1.3zM404.1 491.5h1.3v1.3h-1.3zM413.2 497.3h1.3v1.3h-1.3zM407.0 482.4h1.3v1.3h-1.3zM406.6 492.6h1.3v1.3h-1.3zM406.8 491.1h1.3v1.3h-1.3zM412.3 494.1h1.3v1.3h-1.3zM403.1 490.7h1.3v1.3h-1.3zM411.1 489.2h1.3v1.3h-1.3zM403.8 491.1h1.3v1.3h-1.3zM408.9 490.1h1.3v1.3h-1.3zM415.4 496.0h1.3v1.3h-1.3zM404.8 492.7h1.3v1.3h-1.3zM410.6 490.7h1.3v1.3h-1.3zM402.6 496.1h1.3v1.3h-1.3zM401.4 491.3h1.3v1.3h-1.3zM402.2 492.3h1.3v1.3h-1.3zM404.3 495.8h1.3v1.3h-1.3zM408.7 475.4h1.3v1.3h-1.3zM403.4 488.5h1.3v1.3h-1.3zM405.9 487.8h1.3v1.3h-1.3zM405.1 498.0h1.3v1.3h-1.3zM412.0 485.9h1.3v1.3h-1.3zM412.8 464.3h1.3v1.3h-1.3zM405.1 493.2h1.3v1.3h-1.3zM405.0 480.9h1.3v1.3h-1.3zM410.6 490.2h1.3v1.3h-1.3zM407.0 477.7h1.3v1.3h-1.3zM402.0 490.5h1.3v1.3h-1.3zM402.7 493.3h1.3v1.3h-1.3zM408.5 483.2h1.3v1.3h-1.3zM406.9 496.5h1.3v1.3h-1.3zM413.6 477.3h1.3v1.3h-1.3zM404.3 493.3h1.3v1.3h-1.3zM404.8 490.4h1.3v1.3h-1.3zM408.5 461.4h1.3v1.3h-1.3zM415.9 478.9h1.3v1.3h-1.3zM420.3 496.9h1.3v1.3h-1.3zM403.3 493.5h1.3v1.3h-1.3zM404.6 488.8h1.3v1.3h-1.3zM425.3 495.7h1.3v1.3h-1.3zM401.9 496.0h1.3v1.3h-1.3zM412.6 493.0h1.3v1.3h-1.3zM405.2 481.6h1.3v1.3h-1.3zM402.3 492.8h1.3v1.3h-1.3zM410.5 482.0h1.3v1.3h-1.3zM408.5 495.5h1.3v1.3h-1.3zM406.2 475.7h1.3v1.3h-1.3zM407.6 484.4h1.3v1.3h-1.3zM401.3 493.0h1.3v1.3h-1.3zM409.2 494.1h1.3v1.3h-1.3zM405.6 495.9h1.3v1.3h-1.3zM404.1 483.3h1.3v1.3h-1.3zM408.6 496.7h1.3v1.3h-1.3zM407.4 486.4h1.3v1.3h-1.3zM410.2 474.2h1.3v1.3h-1.3zM405.9 493.4h1.3v1.3h-1.3zM413.9 492.0h1.3v1.3h-1.3zM403.1 494.0h1.3v1.3h-1.3zM412.6 493.4h1.3v1.3h-1.3zM402.6 484.4h1.3v1.3h-1.3zM429.7 481.0h1.3v1.3h-1.3zM411.4 493.9h1.3v1.3h-1.3zM407.5 486.2h1.3v1.3h-1.3zM401.3 495.4h1.3v1.3h-1.3zM403.9 477.7h1.3v1.3h-1.3zM413.8 480.7h1.3v1.3h-1.3zM409.9 478.6h1.3v1.3h-1.3zM412.4 485.1h1.3v1.3h-1.3zM415.2 469.5h1.3v1.3h-1.3zM417.8 494.1h1.3v1.3h-1.3zM402.6 497.0h1.3v1.3h-1.3zM406.4 477.8h1.3v1.3h-1.3zM404.0 467.2h1.3v1.3h-1.3zM401.7 494.0h1.3v1.3h-1.3zM415.3 496.4h1.3v1.3h-1.3zM404.9 481.5h1.3v1.3h-1.3zM401.5 487.4h1.3v1.3h-1.3zM407.4 470.4h1.3v1.3h-1.3zM405.5 491.3h1.3v1.3h-1.3zM409.5 491.3h1.3v1.3h-1.3zM411.6 496.0h1.3v1.3h-1.3zM404.6 494.1h1.3v1.3h-1.3zM410.6 475.3h1.3v1.3h-1.3zM409.8 484.6h1.3v1.3h-1.3zM404.9 482.2h1.3v1.3h-1.3zM406.1 493.7h1.3v1.3h-1.3zM402.5 479.2h1.3v1.3h-1.3zM405.5 485.9h1.3v1.3h-1.3zM405.7 469.1h1.3v1.3h-1.3zM405.3 492.7h1.3v1.3h-1.3zM402.8 495.1h1.3v1.3h-1.3zM402.9 494.2h1.3v1.3h-1.3zM406.8 488.2h1.3v1.3h-1.3zM410.3 484.6h1.3v1.3h-1.3zM403.4 462.9h1.3v1.3h-1.3zM407.5 490.5h1.3v1.3h-1.3z" fill="#f61b38"/>
<rect x="415.3" y="412.4" width="1.3" height="1.3" fill="#f61b38"/>
<rect x="413.8" y="417.1" width="1.3" height="1.3" fill="#f61b38"/>
<rect x="415.8" y="426.9" width="1.3" height="1.3" fill="#f61b38"/>
<rect x="413.7" y="432.4" width="1.3" height="1.3" fill="#f61b38"/>
<rect x="412.6" y="436.4" width="1.3" height="1.3" fill="#f61b38"/>
<rect x="409.9" y="443.9" width="1.3" height="1.3" fill="#f61b38"/>
<rect x="409.2" y="445.4" width="1.3" height="1.3" fill="#f61b38"/>
<rect x="404.9" y="448.9" width="1.3" height="1.3" fill="#f61b38"/>
<rect x="410.2" y="451.4" width="1.3" height="1.3" fill="#f61b38"/>
<rect x="431.4" y="445.4" width="1.3" height="1.3" fill="#f61b38"/>
<rect x="322.7" y="405.5" width="1.5" height="96.7" fill="#111"/>
<rect x="322.6" y="500.6" width="132" height="1.6" fill="#111"/>
<line x1="320" y1="406.3" x2="323" y2="406.3" stroke="#111" stroke-width="1"/>
<text x="320.3" y="409.2" font-size="8" textLength="20.5" lengthAdjust="spacingAndGlyphs" text-anchor="end" fill="#222">1e-52</text>
<line x1="320" y1="432" x2="323" y2="432" stroke="#111" stroke-width="1"/>
<text x="320.3" y="434.9" font-size="8" textLength="20.5" lengthAdjust="spacingAndGlyphs" text-anchor="end" fill="#222">1e-38</text>
<line x1="320" y1="453.3" x2="323" y2="453.3" stroke="#111" stroke-width="1"/>
<text x="320.3" y="456.2" font-size="8" textLength="20.5" lengthAdjust="spacingAndGlyphs" text-anchor="end" fill="#222">1e-26</text>
<line x1="320" y1="474.5" x2="323" y2="474.5" stroke="#111" stroke-width="1"/>
<text x="320.3" y="477.4" font-size="8" textLength="20.5" lengthAdjust="spacingAndGlyphs" text-anchor="end" fill="#222">1e-14</text>
<line x1="320" y1="497.5" x2="323" y2="497.5" stroke="#111" stroke-width="1"/>
<text x="320.3" y="494.7" font-size="8" textLength="16.4" lengthAdjust="spacingAndGlyphs" text-anchor="end" fill="#222">1e-2</text>
<line x1="320" y1="500.4" x2="323" y2="500.4" stroke="#111" stroke-width="1"/>
<text x="321.4" y="503.8" font-size="8" text-anchor="end" fill="#222">1</text>
<line x1="323.7" y1="502" x2="323.7" y2="504.3" stroke="#111" stroke-width="1"/>
<text x="323.7" y="512.5" font-size="8" text-anchor="middle" fill="#222">-10</text>
<line x1="357.3" y1="502" x2="357.3" y2="504.3" stroke="#111" stroke-width="1"/>
<text x="357.3" y="512.5" font-size="8" text-anchor="middle" fill="#222">-5</text>
<line x1="389.6" y1="502" x2="389.6" y2="504.3" stroke="#111" stroke-width="1"/>
<text x="389.6" y="512.5" font-size="8" text-anchor="middle" fill="#222">0</text>
<line x1="421.7" y1="502" x2="421.7" y2="504.3" stroke="#111" stroke-width="1"/>
<text x="421.7" y="512.5" font-size="8" text-anchor="middle" fill="#222">5</text>
<line x1="454.5" y1="502" x2="454.5" y2="504.3" stroke="#111" stroke-width="1"/>
<text x="454.5" y="512.5" font-size="8" text-anchor="middle" fill="#222">10</text>
<text x="0" y="0" font-size="9" textLength="13.3" lengthAdjust="spacingAndGlyphs" text-anchor="middle" fill="#222" transform="translate(295.6,453) rotate(-90)">FDR</text>
<text x="360.2" y="528.5" font-size="9" textLength="13" lengthAdjust="spacingAndGlyphs" fill="#222">Log</text><text x="373.3" y="530.5" font-size="5.5" fill="#222">2</text><text x="377.5" y="528.5" font-size="9" textLength="41.3" lengthAdjust="spacingAndGlyphs" fill="#222">Fold-change</text>
<text x="457.8" y="420" font-size="10.5" textLength="17" lengthAdjust="spacingAndGlyphs" font-style="italic" fill="#222">Hgf</text>
<text x="457.8" y="435.8" font-size="10.5" textLength="27" lengthAdjust="spacingAndGlyphs" font-style="italic" fill="#222">Gata2</text>
<text x="457.8" y="451.3" font-size="10.5" textLength="17.7" lengthAdjust="spacingAndGlyphs" font-style="italic" fill="#222">Hdc</text>
<text x="457.8" y="466.3" font-size="10.5" textLength="19.1" lengthAdjust="spacingAndGlyphs" font-style="italic" fill="#222">Bcl2</text>
<text x="457.8" y="482" font-size="10.5" textLength="33" lengthAdjust="spacingAndGlyphs" font-style="italic" fill="#222">Zbtb16</text>
<text x="457.8" y="497.5" font-size="10.5" textLength="30.4" lengthAdjust="spacingAndGlyphs" font-style="italic" fill="#222">Pdgfrb</text>
<line x1="456.3" y1="415" x2="412.5" y2="430.5" stroke="#111" stroke-width="1.1"/>
<line x1="456.3" y1="431.3" x2="410.5" y2="445.8" stroke="#111" stroke-width="1.1"/>
<line x1="456.3" y1="446.8" x2="409.5" y2="458" stroke="#111" stroke-width="1.1"/>
<line x1="456.3" y1="462" x2="402.5" y2="480" stroke="#111" stroke-width="1.1"/>
<line x1="456.3" y1="477.5" x2="403.3" y2="479.5" stroke="#111" stroke-width="1.1"/>
<line x1="456.3" y1="493.3" x2="410" y2="488" stroke="#111" stroke-width="1.1"/>
<text x="251.5" y="484" font-size="10.5" textLength="23" lengthAdjust="spacingAndGlyphs" font-style="italic" fill="#222">Prtn3</text>
<text x="250.5" y="498" font-size="10.5" textLength="24.5" lengthAdjust="spacingAndGlyphs" font-style="italic" fill="#222">Elane</text>
<text x="248" y="511.5" font-size="10.5" textLength="30.5" lengthAdjust="spacingAndGlyphs" font-style="italic" fill="#222">Cd177</text>
<line x1="280" y1="480" x2="312.5" y2="483.8" stroke="#111" stroke-width="1.1"/>
<line x1="326.3" y1="485.8" x2="375.5" y2="492" stroke="#111" stroke-width="1.1"/>
<line x1="280" y1="494.3" x2="292.5" y2="494.3" stroke="#111" stroke-width="1.1"/>
<line x1="327" y1="495" x2="376.3" y2="495.8" stroke="#111" stroke-width="1.1"/>
<line x1="280" y1="508" x2="310" y2="504.5" stroke="#111" stroke-width="1.1"/>
<line x1="342.5" y1="501.3" x2="376.3" y2="497" stroke="#111" stroke-width="1.1"/>
<text x="243.0" y="555.3" font-size="12" font-weight="bold" fill="#000">F</text>
<rect x="309.4" y="663.2" width="18.1" height="6.5" fill="#4fd6fb"/>
<rect x="339" y="592" width="18.7" height="77.6" fill="#f3bfdf"/>
<rect x="298" y="568.3" width="1.6" height="102.5" fill="#111"/>
<rect x="298" y="669" width="70.8" height="1.6" fill="#111"/>
<line x1="295" y1="574.5" x2="298.4" y2="574.5" stroke="#111" stroke-width="1"/>
<text x="294.6" y="577.4" font-size="8" text-anchor="end" fill="#222">1500</text>
<line x1="295" y1="606.8" x2="298.4" y2="606.8" stroke="#111" stroke-width="1"/>
<text x="294.6" y="609.6999999999999" font-size="8" text-anchor="end" fill="#222">1000</text>
<line x1="295" y1="638.6" x2="298.4" y2="638.6" stroke="#111" stroke-width="1"/>
<text x="294.6" y="641.5" font-size="8" text-anchor="end" fill="#222">500</text>
<line x1="295" y1="669.6" x2="298.4" y2="669.6" stroke="#111" stroke-width="1"/>
<text x="294.6" y="672.5" font-size="8" text-anchor="end" fill="#222">0</text>
<line x1="318.3" y1="670.5" x2="318.3" y2="673.3" stroke="#111" stroke-width="1"/>
<line x1="347.7" y1="670.5" x2="347.7" y2="673.3" stroke="#111" stroke-width="1"/>
<line x1="318.3" y1="661.4" x2="318.3" y2="664.9" stroke="#1c2f9e" stroke-width="1.2"/><line x1="314.5" y1="661.4" x2="322.5" y2="661.4" stroke="#1c2f9e" stroke-width="1.2"/><line x1="314.5" y1="664.9" x2="322.5" y2="664.9" stroke="#1c2f9e" stroke-width="1.2"/>
<circle cx="312.7" cy="664.3" r="1.6" fill="#1c2f9e"/>
<circle cx="323.7" cy="662.7" r="1.6" fill="#1c2f9e"/>
<circle cx="318.3" cy="661.6" r="1.6" fill="#1c2f9e"/>
<line x1="347.7" y1="572.3" x2="347.7" y2="610.5" stroke="#cf1a33" stroke-width="1.2"/><line x1="343" y1="572.3" x2="353.3" y2="572.3" stroke="#cf1a33" stroke-width="1.2"/><line x1="343" y1="610.5" x2="353.3" y2="610.5" stroke="#cf1a33" stroke-width="1.2"/>
<circle cx="347.7" cy="571" r="1.6" fill="#cf1a33"/>
<circle cx="347.7" cy="596.5" r="1.6" fill="#cf1a33"/>
<circle cx="347.7" cy="607.3" r="1.6" fill="#cf1a33"/>
<line x1="318.1" y1="564.1" x2="348.8" y2="564.1" stroke="#111" stroke-width="1.3"/>
<polygon points="326.00,555.70 326.56,557.03 328.00,557.15 326.90,558.09 327.23,559.50 326.00,558.75 324.77,559.50 325.10,558.09 324.00,557.15 325.44,557.03" fill="#111" stroke="#111" stroke-width="0.5" stroke-linejoin="round"/>
<polygon points="330.90,555.70 331.46,557.03 332.90,557.15 331.80,558.09 332.13,559.50 330.90,558.75 329.67,559.50 330.00,558.09 328.90,557.15 330.34,557.03" fill="#111" stroke="#111" stroke-width="0.5" stroke-linejoin="round"/>
<polygon points="335.90,555.70 336.46,557.03 337.90,557.15 336.80,558.09 337.13,559.50 335.90,558.75 334.67,559.50 335.00,558.09 333.90,557.15 335.34,557.03" fill="#111" stroke="#111" stroke-width="0.5" stroke-linejoin="round"/>
<polygon points="341.00,555.70 341.56,557.03 343.00,557.15 341.90,558.09 342.23,559.50 341.00,558.75 339.77,559.50 340.10,558.09 339.00,557.15 340.44,557.03" fill="#111" stroke="#111" stroke-width="0.5" stroke-linejoin="round"/>
<g transform="translate(254.5,620.5) rotate(-90)"><text x="-27.7" y="0" font-size="9" textLength="27" lengthAdjust="spacingAndGlyphs" fill="#222">Relative </text><text x="0.5" y="0" font-size="9.5" textLength="27" lengthAdjust="spacingAndGlyphs" font-style="italic" fill="#222">Gata2</text></g>
<text x="0" y="0" font-size="9" textLength="54" lengthAdjust="spacingAndGlyphs" text-anchor="middle" fill="#222" transform="translate(270.6,621) rotate(-90)">RNA expression</text>
<text x="375.5" y="573" font-size="10.2" textLength="105.8" lengthAdjust="spacingAndGlyphs" fill="#222">Promyelocyte genotype</text>
<rect x="367.5" y="575.5" width="122" height="1.5" fill="#111"/>
<rect x="368.8" y="588.3" width="11.7" height="11.7" fill="#4fd6fb"/>
<rect x="368.8" y="613.3" width="11.7" height="11.7" fill="#f3bfdf"/>
<text x="385" y="596.6" font-size="8" textLength="10.5" lengthAdjust="spacingAndGlyphs" fill="#222">WT</text>
<text x="385" y="622.4" font-size="8" textLength="56" lengthAdjust="spacingAndGlyphs" font-style="italic" fill="#222">Ctsg-PML-RARA</text>
</svg>
<div id="frame"></div>
</div></body></html>
